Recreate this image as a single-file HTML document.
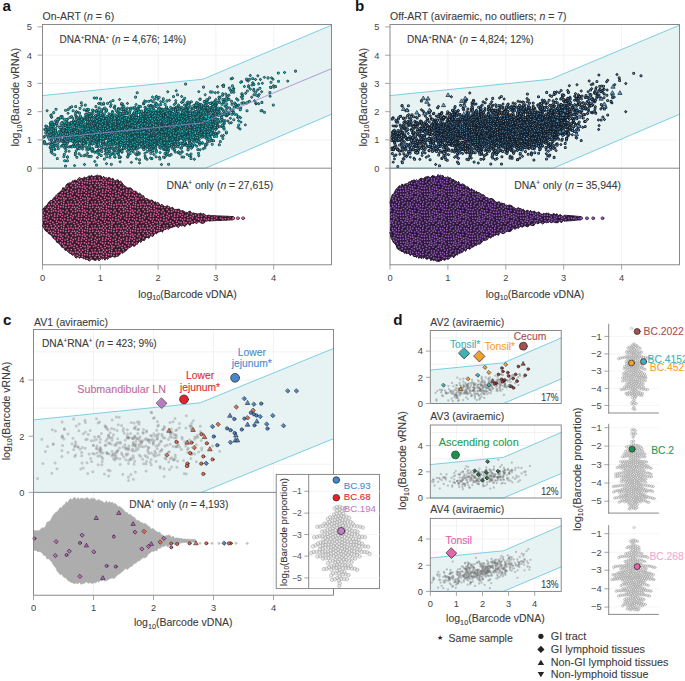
<!DOCTYPE html><html><head><meta charset="utf-8"><style>html,body{margin:0;padding:0;background:#fff}svg{display:block}text{font-family:"Liberation Sans",sans-serif}</style></head><body>
<svg width="685" height="681" viewBox="0 0 685 681" stroke-linecap="round" fill="none">
<defs><pattern id="pinkv" width="24" height="24" patternUnits="userSpaceOnUse"><rect width="24" height="24" fill="#361b29"/><g fill="#e262a6"><circle cx="12.3" cy="22.8" r="0.85"/><circle cx="3.5" cy="22.8" r="0.85"/><circle cx="7.5" cy="10.2" r="0.85"/><circle cx="19.9" cy="9.8" r="0.85"/><circle cx="18.1" cy="12.9" r="0.85"/><circle cx="7.9" cy="18.9" r="0.85"/><circle cx="3.2" cy="9.7" r="0.85"/><circle cx="4.9" cy="6.3" r="0.85"/><circle cx="18.0" cy="6.7" r="0.85"/><circle cx="23.1" cy="17.4" r="0.85"/><circle cx="13.0" cy="6.6" r="0.85"/><circle cx="12.4" cy="2.8" r="0.85"/><circle cx="15.0" cy="18.6" r="0.85"/><circle cx="14.7" cy="22.0" r="0.85"/><circle cx="1.0" cy="12.7" r="0.85"/><circle cx="12.3" cy="18.1" r="0.85"/><circle cx="3.6" cy="19.7" r="0.85"/><circle cx="4.6" cy="2.0" r="0.85"/><circle cx="20.5" cy="20.7" r="0.85"/><circle cx="6.6" cy="0.2" r="0.85"/><circle cx="6.6" cy="24.2" r="0.85"/><circle cx="5.2" cy="15.3" r="0.85"/><circle cx="19.3" cy="23.1" r="0.85"/><circle cx="14.1" cy="0.6" r="0.85"/><circle cx="14.1" cy="24.6" r="0.85"/><circle cx="15.8" cy="5.9" r="0.85"/><circle cx="20.0" cy="1.5" r="0.85"/><circle cx="19.8" cy="3.9" r="0.85"/><circle cx="9.0" cy="7.6" r="0.85"/><circle cx="9.5" cy="0.1" r="0.85"/><circle cx="9.5" cy="24.1" r="0.85"/><circle cx="2.5" cy="15.2" r="0.85"/><circle cx="15.7" cy="10.3" r="0.85"/><circle cx="20.8" cy="15.2" r="0.85"/><circle cx="-0.1" cy="5.8" r="0.85"/><circle cx="23.9" cy="5.8" r="0.85"/><circle cx="16.7" cy="3.1" r="0.85"/><circle cx="2.6" cy="4.9" r="0.85"/><circle cx="7.5" cy="13.8" r="0.85"/><circle cx="19.0" cy="18.2" r="0.85"/><circle cx="-0.8" cy="9.6" r="0.85"/><circle cx="23.2" cy="9.6" r="0.85"/><circle cx="9.2" cy="12.1" r="0.85"/><circle cx="13.5" cy="9.3" r="0.85"/><circle cx="12.7" cy="14.7" r="0.85"/><circle cx="3.7" cy="12.2" r="0.85"/><circle cx="3.5" cy="17.2" r="0.85"/><circle cx="6.6" cy="3.2" r="0.85"/><circle cx="22.5" cy="0.5" r="0.85"/><circle cx="22.5" cy="24.5" r="0.85"/><circle cx="17.8" cy="15.6" r="0.85"/><circle cx="10.3" cy="16.4" r="0.85"/><circle cx="0.5" cy="2.0" r="0.85"/><circle cx="24.5" cy="2.0" r="0.85"/><circle cx="15.2" cy="14.8" r="0.85"/><circle cx="0.8" cy="19.4" r="0.85"/><circle cx="24.8" cy="19.4" r="0.85"/><circle cx="13.4" cy="12.0" r="0.85"/><circle cx="6.7" cy="21.9" r="0.85"/><circle cx="10.2" cy="22.0" r="0.85"/><circle cx="2.0" cy="7.5" r="0.85"/><circle cx="8.5" cy="5.1" r="0.85"/><circle cx="17.6" cy="19.9" r="0.85"/><circle cx="21.5" cy="6.5" r="0.85"/><circle cx="10.5" cy="19.4" r="0.85"/><circle cx="22.4" cy="3.9" r="0.85"/><circle cx="5.5" cy="18.5" r="0.85"/><circle cx="-0.7" cy="21.9" r="0.85"/><circle cx="23.3" cy="21.9" r="0.85"/><circle cx="0.3" cy="15.3" r="0.85"/><circle cx="24.3" cy="15.3" r="0.85"/><circle cx="17.1" cy="-0.0" r="0.85"/><circle cx="17.1" cy="24.0" r="0.85"/><circle cx="10.7" cy="10.2" r="0.85"/><circle cx="15.5" cy="12.5" r="0.85"/><circle cx="22.8" cy="12.0" r="0.85"/><circle cx="10.9" cy="6.0" r="0.85"/><circle cx="7.1" cy="16.5" r="0.85"/><circle cx="9.4" cy="2.8" r="0.85"/><circle cx="6.1" cy="8.3" r="0.85"/><circle cx="10.5" cy="14.1" r="0.85"/><circle cx="1.2" cy="-0.3" r="0.85"/><circle cx="1.2" cy="23.7" r="0.85"/><circle cx="14.5" cy="3.8" r="0.85"/><circle cx="13.2" cy="20.2" r="0.85"/><circle cx="20.6" cy="12.4" r="0.85"/><circle cx="16.1" cy="8.1" r="0.85"/><circle cx="6.0" cy="12.2" r="0.85"/></g></pattern><pattern id="purpv" width="24" height="24" patternUnits="userSpaceOnUse"><rect width="24" height="24" fill="#2a1a34"/><g fill="#9858c2"><circle cx="6.3" cy="7.2" r="0.85"/><circle cx="19.5" cy="2.2" r="0.85"/><circle cx="14.4" cy="17.5" r="0.85"/><circle cx="4.5" cy="1.3" r="0.85"/><circle cx="6.6" cy="15.8" r="0.85"/><circle cx="13.5" cy="3.6" r="0.85"/><circle cx="10.4" cy="16.1" r="0.85"/><circle cx="-0.8" cy="16.4" r="0.85"/><circle cx="23.2" cy="16.4" r="0.85"/><circle cx="9.4" cy="4.5" r="0.85"/><circle cx="8.3" cy="12.3" r="0.85"/><circle cx="21.4" cy="18.6" r="0.85"/><circle cx="7.6" cy="22.2" r="0.85"/><circle cx="2.6" cy="2.5" r="0.85"/><circle cx="4.8" cy="21.2" r="0.85"/><circle cx="16.3" cy="20.4" r="0.85"/><circle cx="15.5" cy="9.8" r="0.85"/><circle cx="12.4" cy="14.2" r="0.85"/><circle cx="20.7" cy="10.5" r="0.85"/><circle cx="21.4" cy="14.7" r="0.85"/><circle cx="4.1" cy="4.3" r="0.85"/><circle cx="0.5" cy="20.0" r="0.85"/><circle cx="24.5" cy="20.0" r="0.85"/><circle cx="2.4" cy="10.8" r="0.85"/><circle cx="12.1" cy="22.5" r="0.85"/><circle cx="18.0" cy="13.8" r="0.85"/><circle cx="14.8" cy="12.2" r="0.85"/><circle cx="-0.8" cy="5.4" r="0.85"/><circle cx="23.2" cy="5.4" r="0.85"/><circle cx="1.0" cy="7.1" r="0.85"/><circle cx="-0.4" cy="10.7" r="0.85"/><circle cx="23.6" cy="10.7" r="0.85"/><circle cx="7.6" cy="1.2" r="0.85"/><circle cx="9.4" cy="8.8" r="0.85"/><circle cx="14.7" cy="6.9" r="0.85"/><circle cx="21.8" cy="23.1" r="0.85"/><circle cx="21.7" cy="20.8" r="0.85"/><circle cx="10.7" cy="19.3" r="0.85"/><circle cx="-0.8" cy="1.1" r="0.85"/><circle cx="23.2" cy="1.1" r="0.85"/><circle cx="17.1" cy="4.6" r="0.85"/><circle cx="2.5" cy="0.1" r="0.85"/><circle cx="2.5" cy="24.1" r="0.85"/><circle cx="16.7" cy="2.1" r="0.85"/><circle cx="17.1" cy="17.7" r="0.85"/><circle cx="6.2" cy="10.1" r="0.85"/><circle cx="1.8" cy="17.9" r="0.85"/><circle cx="4.0" cy="8.6" r="0.85"/><circle cx="1.1" cy="14.9" r="0.85"/><circle cx="11.8" cy="5.8" r="0.85"/><circle cx="12.6" cy="10.2" r="0.85"/><circle cx="18.1" cy="8.7" r="0.85"/><circle cx="18.7" cy="20.1" r="0.85"/><circle cx="19.5" cy="16.5" r="0.85"/><circle cx="21.4" cy="7.8" r="0.85"/><circle cx="2.6" cy="20.9" r="0.85"/><circle cx="4.4" cy="18.8" r="0.85"/><circle cx="21.0" cy="4.8" r="0.85"/><circle cx="19.3" cy="-0.8" r="0.85"/><circle cx="19.3" cy="23.2" r="0.85"/><circle cx="13.7" cy="20.2" r="0.85"/><circle cx="4.8" cy="12.4" r="0.85"/><circle cx="16.6" cy="-0.7" r="0.85"/><circle cx="16.6" cy="23.3" r="0.85"/><circle cx="18.8" cy="11.7" r="0.85"/><circle cx="0.1" cy="22.5" r="0.85"/><circle cx="24.1" cy="22.5" r="0.85"/><circle cx="12.3" cy="1.4" r="0.85"/><circle cx="14.3" cy="-0.5" r="0.85"/><circle cx="14.3" cy="23.5" r="0.85"/><circle cx="3.6" cy="15.1" r="0.85"/><circle cx="7.1" cy="4.8" r="0.85"/><circle cx="9.7" cy="0.2" r="0.85"/><circle cx="9.7" cy="24.2" r="0.85"/><circle cx="2.3" cy="13.1" r="0.85"/><circle cx="-0.0" cy="3.3" r="0.85"/><circle cx="24.0" cy="3.3" r="0.85"/><circle cx="8.8" cy="14.4" r="0.85"/><circle cx="21.7" cy="2.7" r="0.85"/><circle cx="6.8" cy="18.5" r="0.85"/><circle cx="14.9" cy="14.6" r="0.85"/><circle cx="10.7" cy="12.5" r="0.85"/><circle cx="9.8" cy="21.5" r="0.85"/><circle cx="11.5" cy="8.1" r="0.85"/><circle cx="2.0" cy="5.0" r="0.85"/><circle cx="5.8" cy="-0.6" r="0.85"/><circle cx="5.8" cy="23.4" r="0.85"/><circle cx="-0.6" cy="13.0" r="0.85"/><circle cx="23.4" cy="13.0" r="0.85"/><circle cx="18.7" cy="6.2" r="0.85"/><circle cx="12.2" cy="17.3" r="0.85"/><circle cx="8.5" cy="6.7" r="0.85"/><circle cx="10.1" cy="2.4" r="0.85"/></g></pattern><path id="p1" d="M203.3 121.3h0m-72.9 3.3h0m53 5.6h0m-108 -16.8h0m72.9 23h0m32.3 0.6h0m-9 -13.1h0m15 1.4h0m-42.7 -7.8h0m2.1 21.5h0m34.9 -16.6h0m-64.8 6h0m52.7 -15.5h0m-50.4 7.9h0m-15.7 8.4h0m-12.5 13.7h0m78.1 -24.6h0m6.7 9.1h0m-31.3 13.9h0m-18.9 3.9h0m-7.4 -27.5h0m4.2 14.2h0m64.9 -17h0m5.6 8h0m-95.2 19.8h0m87.9 -28.3h0m-18.2 39.8h0m-18.6 -20.8h0m24.8 -11.5h0m24.7 9.8h0m29.4 -19.8h0m-37.8 29.5h0m15.5 -20h0m-104.8 18.8h0m39.9 -2.3h0m-61.4 6.8h0m50.1 9.4h0m53.2 -46.9h0m36.4 5.5h0m-48.2 28.1h0m-48.5 -7h0m43.4 -16.8h0m-20.9 -13.4h0m21.3 10.1h0m-16.6 12.9h0m-5.4 13.9h0m1.3 -1h0m10.5 -4.2h0m-21.8 -12.6h0"/><path id="p2" d="M205.2 -12.2h0m26.3 -51.7h0m-55.5 54.5h0m7.6 -4.9h0m33.8 -17.2h0m-20 16.8h0m34.6 -60.9h0m-46.7 53.5h0m9.9 24.2h0m-45 21.8h0m29.1 -20.6h0m-32.4 41.2h0m50 -35.5h0m12.5 -17.2h0m26.8 -23.8h0m-30.8 35.7h0m-33.9 -3.9h0m46.6 -39.3h0m-35.8 24h0m48.6 -30.4h0m-60.9 48.3h0m32.1 -36.2h0m-6.3 -0.4h0m38.6 -11.5h0m-69.3 71h0m-20.5 6h0m53.7 -55.9h0m15.4 -8.2h0m22.3 -28.2h0m-14.7 29.9h0m-18.3 -5h0m24.3 11.9h0m-5.5 -4.9h0m-72.3 67.3h0m69.1 -55.4h0m-31.8 3.3h0m-4.7 6.5h0m29.5 4.6h0m-44.3 6.3h0m36.4 -50.5h0m-17.5 48.5h0m21.6 -44.7h0m-9.7 36.3h0m11.6 -36h0m7.2 -29.7h0m-77 89.6h0m64.6 -55.3h0m-8.5 24.4h0m-45.8 7.9h0m51.5 -41.1h0m42.4 -0.8h0m-93.7 77.1h0m0.7 -16.5h0m55.3 -36.1h0m21.4 -53.4h0m13.6 -16.3h0m-31.3 88.8h0m-29.9 12.3h0m32.3 -33.7h0m-57 41.4h0m26.1 -20.9h0m39.3 -60.4h0m-53.5 102.4h0m59.7 -103.7h0m-10 37.4h0m43.8 -49.1h0m-96.8 112.4h0m57.5 -105.6h0"/><path id="p3" d="M118.2 131.6h0m22.9 -8.7h0m-3.3 4.6h0m60.1 21.9h0m-134.6 -8h0m64.5 -17h0m48.7 13.6h0m-1.6 -24.5h0m32.4 2.8h0m-12.7 10.9h0m-46.9 7.6h0m-42.4 -3.8h0m24.2 -0.2h0m19 5.7h0m14.3 -3.8h0m-90.5 -1.5h0m49.9 -4.7h0m113.8 -19.9h0m-7.5 -7.5h0m-110.2 18.5h0m53.1 -4.8h0m3.5 28.6h0m-14.2 -20.9h0m-1.1 7.6h0m-14.2 9.5h0m-12.5 2h0m32.3 -15.5h0m0.3 -0.9h0m-9.3 -5.4h0m-22.5 2h0m11.8 38.1h0m23 -43.2h0m8 -7.7h0m-55.9 17h0m1.2 -15.7h0m22.3 28.6h0m-15.2 -13.2h0m35.5 14.6h0m-56.6 -8.5h0m99.1 -12.9h0m-52.7 9.5h0m-50.5 -22.5h0m49 37.3h0m74.1 -37.3h0m-54.6 40.3h0m-7.4 0.1h0m-1.6 -42.8h0m-4.2 41.5h0m-12 -8.9h0m38.3 10.9h0m-54 -10h0m-0.4 -9.8h0m2.5 8.6h0m13.8 -5.2h0m-37.7 4.2h0m13.8 3.8h0m-10.2 6.6h0m73.6 -25.5h0m11.1 -1.5h0"/><path id="p4" d="M250.1 -116.5h0m-56.4 132.8h0m28.2 -44.9h0m-44.8 39.1h0m18.7 -41.5h0m3.5 13.6h0m26.2 -26.6h0m-30.1 48.7h0m13 -31h0m-53.5 51.1h0m69 -63.2h0m-16.5 -17.4h0m-29.2 59.7h0m3.9 5.9h0m11.4 -3h0m3.7 -5.1h0m10.4 -5.3h0m-16 -33.5h0m36 -14.6h0m-20.1 9.8h0m-17 54.8h0m21.7 -60.7h0m44.5 -36.2h0m-35.1 67.5h0m-6.6 -16.9h0m-50.2 71.2h0m9.3 -35.1h0m39.3 -12.2h0m-12.1 -41h0m26.6 14.8h0m-39 38.3h0m16.7 -13.2h0m-45.9 33.1h0m73.7 -56.8h0m-45.9 40.2h0m-16.5 -0.5h0m-0.8 41h0m-15.5 -17.4h0m45.5 -76.2h0m-36.3 81h0m58.7 -85.3h0m-15.8 15.3h0m30.5 2.2h0m-26.9 9.2h0m6.7 -10.7h0m-38.9 53.7h0m-15.6 -6.8h0m40.1 -45.6h0m40.4 -37.8h0m-22.2 20.9h0m1.4 16.9h0m-43.5 -7.7h0m-46 95.7h0m78.5 -69.2h0m-62.9 35.1h0m25.4 27.9h0m59.7 -127.6h0m-35.6 63.9h0"/><path id="p5" d="M141.3 144.5h0m-6.8 -20.5h0m8.6 -1.7h0m0.4 -18.7h0m-8.5 40.5h0m46.4 -1.1h0m0.6 8.7h0m13.9 -27.1h0m-12.8 -2.7h0m-56.6 11.9h0m78.4 -18.2h0m-37.2 6.3h0m-38.8 9.7h0m44.4 -12.2h0m-21.7 -3.5h0m-49 22.9h0m100.5 -5.2h0m-36.3 3h0m-93.7 -25.8h0m90.2 14.2h0m15.5 6.8h0m-24.6 -12.7h0m4.3 10.6h0m-35.7 1.8h0m9.5 -14h0m31.6 3.8h0m-39.3 9.3h0m39.2 12.8h0m-77.1 -6.2h0m121 -0.6h0m-121.2 -16.9h0m18.2 -0.1h0m34.7 9.2h0m-35 30.2h0m116 -37h0m-97.4 -7h0m36.6 10.7h0m-39.1 24.8h0m30 -4.7h0m54.7 -13.4h0m-58.8 -11.8h0m-1.3 24.4h0m21.4 -12.4h0m39.7 -30.5h0m-31.6 19.1h0m-36.9 10.7h0m22.6 -21h0m-31.5 20h0m-2.9 -10.5h0m68.7 2.5h0m-18.7 2.7h0m-32.5 0.5h0"/><path id="p6" d="M142.3 39.4h0m69.9 -51.4h0m9.4 -8h0m-7.9 0.5h0m4 -11.9h0m-48.1 36.4h0m-3.7 32.4h0m24.6 -41.5h0m27.5 -51.4h0m13.1 -30.3h0m-6.4 39.7h0m-38.9 39.4h0m51.3 -90.7h0m-26.6 45.1h0m-5.7 5.9h0m22.4 -32.6h0m-57.4 106.9h0m-3.4 -8.3h0m46.2 -57.8h0m-33.1 27.7h0m-13.2 1.9h0m46.8 -3.5h0m-5.5 -23.3h0m-12.6 27.4h0m35.8 -45.9h0m-3 49h0m-13.5 -28.1h0m-47.8 46.3h0m77.6 -74.6h0m-36.4 33.8h0m-20.8 15.6h0m6.8 -29.9h0m-8.5 41.7h0m-1.3 -18.2h0m-2.9 5.7h0m21.8 -9h0m9.2 -5.2h0m-33.3 65.4h0m28.3 -66.9h0m11.2 19.7h0m-65.9 52.1h0m63.1 -70.6h0m-27.6 1.8h0m66.2 -107.6h0m-86.7 138h0m25 -26.1h0m33.4 -18.4h0m-32.4 9.7h0m-9.8 42.4h0m17.9 -39.2h0m62.2 -80.6h0m-79.8 127h0m44 -44.2h0m15.6 -61.4h0m-6.2 52.7h0m-12.8 -10.4h0m-25 16.4h0m-14.2 -0.9h0m41.6 -35.7h0m-42.4 37.2h0m-14 28h0m41.7 -66.5h0m8.5 44.4h0m-10.9 -7.1h0m-73.3 94.3h0"/><path id="p7" d="M142.6 119.2h0m76.7 -20.9h0m9.6 15.3h0m-124.9 8.6h0m49.5 4.1h0m38.9 -3.5h0m-102.5 25.6h0m57.5 -25.7h0m4.4 20.1h0m-22.3 -29.6h0m-8.3 15.1h0m56.7 8.8h0m-78.3 -1.6h0m119.3 -3.4h0m-164.8 4.3h0m116.5 -12.7h0m-38.8 -7.9h0m35.7 18.8h0m49.9 -9.6h0m-50.3 -9.6h0m-46 34.5h0m53.8 -35.2h0m-31.3 6.1h0m-25.1 18.1h0m65.2 -14.9h0m-53.4 -15.5h0m82.6 6.7h0m-19.4 13h0m-45.7 16.3h0m-7.1 -14.3h0m-50.1 -12.4h0m60.1 18.6h0m-57.3 -14h0m8.8 8.6h0m-2.5 -9.2h0m49.4 17h0m-65.9 -5.5h0m100.3 -7h0m-92.8 4.5h0m33 -12.9h0m8.1 14h0m13.1 1.8h0m61.5 -1h0m-85.4 -19.4h0m-40.1 20.6h0m77.5 -1.6h0m37.5 -2.4h0m12.6 -19.3h0m-87 21.8h0m49.6 3.7h0m-33.9 -43.3h0m2.2 38.6h0m57.9 -23.1h0m-33.9 28h0m-89.6 8.2h0m34.4 -5.6h0m74.1 -13.6h0m-24.1 -7h0m-14 8.5h0m-96.5 4.3h0"/><path id="p8" d="M204.6 -42.2h0m28.5 -24h0m-97.3 115.9h0m76.5 -86.4h0m-16.2 24.8h0m5.1 -15.2h0m13.4 -0.1h0m-17.7 34.9h0m12.2 -34.6h0m8.3 1.9h0m-20.1 -11.7h0m28.9 2.8h0m-16.2 -1h0m-34.1 30h0m58.1 -79.1h0m-37.7 70.8h0m33 -31.3h0m-22.8 12.5h0m-27.7 28.6h0m27.9 -12.4h0m12.1 4.1h0m-27.4 22.7h0m2 -27.5h0m-16.5 9.8h0m31.9 -25.3h0m9.1 9h0m-7.6 -4h0m1.4 25.5h0m-21.4 -10.3h0m-2.3 -13h0m45 -32.3h0m-14.9 24h0m-23.9 36.5h0m43.9 -36.5h0m-25.7 23.5h0m-17.9 -21.1h0m9 11.8h0m37.8 -82.6h0m1 21.2h0m-91.6 100.7h0m61.8 -52.3h0m-22.1 23.1h0m-45.7 27.4h0m46.2 -22.6h0m37.6 -38h0m-37.6 43.1h0m-8.3 -7h0m64.6 -61.8h0m-63.9 46.9h0m40.1 -4.9h0m-24.9 9.8h0m48.2 -93.4h0m-38.8 59.8h0m16.4 -37.5h0m-43.3 95.5h0m51.6 -31.6h0m-5.7 -8h0"/><path id="p9" d="M208.7 128.1h0m-59 -17.6h0m-61.5 25.3h0m68 0.4h0m-55.6 -37.3h0m65 50.7h0m-44 -45.4h0m80.3 27.5h0m-40.6 5.2h0m-25.4 -8.7h0m-35.7 -0.6h0m82.6 -13.2h0m-20.4 12.2h0m-52.9 9.7h0m0.6 -10h0m72.9 7h0m2 -7.7h0m-25.5 -6.1h0m36 -12h0m-55.1 26.5h0m31.6 -8.2h0m-71.8 -22.6h0m111.5 37.4h0m-91.9 -27.8h0m25.7 2.6h0m31.8 21.1h0m28 -31.2h0m-8.4 5.6h0m-9.9 1.5h0m-99.5 21.6h0m32.3 -1.4h0m-6.4 -6.4h0m46.6 11.2h0m12.6 5.3h0m-59.9 -19.1h0m1.8 4.7h0m1.1 19.4h0m57.4 -25.6h0m24.2 17.4h0m-101.4 -1.6h0m33.2 -18h0m68.1 -4.9h0m-53.6 9.2h0m64 17.3h0m-55.6 17.1h0m20.5 -34.9h0m3.1 -1h0m-16.4 -25.5h0m-45.4 29.4h0m-17.2 14.7h0m5.6 1.2h0m12 1.8h0m30.8 -23.7h0m-35.1 6h0m113.1 -16.6h0m-58.6 6.2h0m20 18h0m-80 -4.5h0m103.1 5h0m-31 -0.2h0m-108.2 -25h0m116.8 19.4h0m32 4.8h0m-97.6 10.5h0"/><path id="p10" d="M146.6 22.3h0m81.6 -64.6h0m-19.7 22h0m11.6 -21.4h0m15.7 -0h0m-9.9 -6.2h0m-40.3 42.7h0m-42.8 55.1h0m44.2 -72.1h0m-7.6 43.4h0m-9.1 2.7h0m53.8 -77.1h0m-15 25.9h0m-20.3 35.6h0m2.5 -13.4h0m43 -44.3h0m-44.3 43.2h0m-17.9 11.5h0m30.9 -38.5h0m10.3 13.7h0m-40.8 20.5h0m31.7 -5.6h0m-16.5 -21.1h0m35.6 -13.1h0m-72.4 55.4h0m24.1 -29.8h0m56.1 -37.2h0m-35.5 32h0m2.7 -18.8h0m14.3 0.3h0m0.4 25.8h0m-49.3 38.7h0m10.6 -37.4h0m54 -37h0m4.2 -1h0m-45.8 16.5h0m51.4 -9.5h0m-37.1 48.3h0m8.9 -32.9h0m-21.1 20.5h0m-14.8 -0.5h0m42.6 -28.6h0m-9.4 16.6h0m-57.5 45.8h0m16.3 -27.3h0m35.3 -29h0m-19.8 2.7h0m40.4 -43.4h0m-49.3 91.7h0m21.3 -29.5h0m-12.4 30.3h0m44.6 -71.2h0m-84.7 79.1h0"/><path id="p11" d="M162.8 128.9h0m9.6 -5.1h0m75.1 -21.6h0m-26.8 5.9h0m-54 14.7h0m-73.7 -9.6h0m122.5 5.1h0m-57 -9.5h0m-50.9 -5.6h0m36.9 24.3h0m6.4 4.9h0m-7.3 -4h0m30.8 6.9h0m-2.4 -0.6h0m-35.3 -18.4h0m35.1 12h0m-23.7 15.2h0m-23.1 -11.4h0m26.2 -26.9h0m16.3 37.2h0m79.1 -39.3h0m-81.5 15.2h0m-17.5 23.8h0m106.3 -57.5h0m-85.3 48.2h0m-112.6 -23.5h0m138.7 10.6h0m-34.7 6.8h0m-61.7 2.5h0m-10 -12.3h0m124.4 -3.3h0m-106.5 9.1h0m81.3 9.2h0m-84.9 -16.9h0m59.6 14.4h0m-88.6 4.8h0m62.2 -25.4h0m44.8 9.2h0m-41.2 13.4h0m70.6 -11.9h0m-65.5 19.3h0m-29.3 -5.2h0m8.4 -2.6h0m43.1 -2.1h0m20.6 -13.5h0m-50.4 39.3h0m-30.2 -19.1h0m73.7 -14.2h0"/><path id="p12" d="M145 27.4h0m12.4 19.8h0m43.8 -84.7h0m-34.6 23.8h0m59.9 -24.1h0m-23.8 18.6h0m-8.9 16.6h0m24.1 -31.2h0m-52.5 56.5h0m39.3 -66.6h0m30.7 -31.1h0m-6.7 -26.5h0m-66.6 104.2h0m76.7 -81.6h0m-59.3 39.7h0m2.1 15h0m48.2 -49.9h0m-23.5 51.6h0m1.8 -3.9h0m20.6 -36.2h0m3.6 26.9h0m-73.6 61.4h0m0.5 10.6h0m55.3 -103.5h0m-48.3 72.5h0m23.1 -20.6h0m-43 21.4h0m86.5 -84.6h0m-68.1 87.7h0m37.8 -15h0m15.2 -62.9h0m-63.2 91.4h0m42.3 -14h0m-0.8 -42.2h0m-7.7 35.3h0m56 -59h0m-106.3 102h0m18.1 -1.6h0m11.7 -20.8h0m66.6 -74.5h0m-51.2 32.9h0m-56 76h0m78.2 -132.6h0m25 24.1h0m-49.5 62.2h0m-8.9 10.6h0m46.7 -68.6h0m-4.8 -1.5h0m-19.1 22.9h0m-9.1 21.9h0m6.8 34h0m-6.3 -42.8h0m-9 48.5h0m59.7 -114.9h0m-76.3 91.6h0m92.2 -72.7h0m-37.6 59.4h0m-23.3 -4.1h0m34.1 -75.9h0m-15.7 52.9h0m-2.8 11.7h0m-10.9 1.1h0m34 -21.2h0m-51.5 -5.9h0m58.1 -77.8h0m-27.3 90h0m-36.2 -0.5h0m77.4 -54.1h0m-46 74h0"/><path id="p13" d="M114.9 135.4h0m51 -3.7h0m-18.9 -17.9h0m-26.5 10.8h0m8.9 23.9h0m-1.8 -18.5h0m0.9 -0.4h0m0.8 2.6h0m85 4.2h0m-121 -26h0m87 -1.3h0m12.3 21.2h0m-84.2 11.5h0m103.4 -14.3h0m-72.7 25.4h0m54.2 -21h0m-115.4 2.4h0m77.9 -12.7h0m-10.8 14.8h0m-14 -1.7h0m-39.3 -21.7h0m21.5 8.8h0m-0.2 1.1h0m19.8 3.4h0m59.8 20.2h0m-35 -15.9h0m50.4 -14.1h0m-53.9 12.5h0m54.9 -18.4h0m-103.6 13.6h0m68 -0.4h0m-21.1 15.2h0m28.8 -9h0m-71.7 -13.1h0m-7.2 10.9h0m5.3 -2h0m-14.6 6.7h0m72.3 8.2h0m-40.5 -30.9h0m131 -17.6h0m-138.1 30.7h0m-17.5 -7h0m103.8 -8.4h0m-3.1 7.4h0m-109.8 18.8h0m60.1 -13.1h0m51.3 -6.4h0m40.3 -18.3h0m-78.9 44h0m-66.6 -5.8h0m40.5 17.8h0m-24.7 1.1h0m67.5 -14.2h0m-33.2 -8.3h0m24.5 -16.4h0"/><path id="p14" d="M178.2 -7.9h0m60.2 -37.7h0m-59 52.1h0m51.4 -68.6h0m-27.1 59.4h0m1.8 -33.9h0m3.6 26h0m18.3 -48.3h0m17.1 6.2h0m-39.8 31.7h0m-9.6 34h0m31.8 -112.1h0m-35.8 83h0m21.3 -37.6h0m-37.7 34.7h0m22.3 36.1h0m-19.9 -12.6h0m44.5 -42.1h0m3.3 24.5h0m-48 14.2h0m26.3 -27h0m-12 21h0m-2.3 -6.4h0m11.5 -16.4h0m-65.1 56h0m98.6 -104.6h0m-79 62.1h0m25.8 12.9h0m17.5 -29h0m-13.5 33.9h0m-40.1 17.4h0m76.4 -26.3h0m23.1 -36.3h0m-87.9 35.4h0m19.1 9.3h0m10.6 11h0m-45.1 21.2h0m-3.5 3.6h0m22 -27.3h0m-0.1 -9h0m61 -64.3h0m-38.4 46.4h0m4.4 33.7h0m-33.4 0.8h0m55.9 -3.3h0m-33.9 24.9h0m71.9 -116.5h0m-25.4 25.6h0m-26 37.9h0m14.4 -32.3h0m-65.7 96.8h0m12.7 -32.4h0m31.6 -5.6h0m0.5 -74.7h0m32.2 24.8h0m-13.2 12.5h0m18.7 -35.2h0m-60.1 63.3h0m24.9 -1.1h0m46.4 -108.2h0m-40.4 97.6h0m26.4 -37h0"/><path id="p15" d="M171.5 137h0m-16 -16.5h0m5.2 9.6h0m-35.1 -18.8h0m67 8.4h0m-19.7 20.2h0m87 -51.6h0m-26.1 31.5h0m-70.5 -4.1h0m32.5 -8.9h0m-30.4 28.5h0m2 14.4h0m-11.3 -10.5h0m-75.3 -17.1h0m65.5 16.6h0m6.9 -30.7h0m-61.8 33.3h0m99.6 -23.2h0m-40.8 -12.3h0m24.2 21.4h0m-25.6 -25.9h0m13.9 15.6h0m-20.9 2.4h0m99.8 -37.5h0m-116.2 32.1h0m37.9 -15.1h0m8.2 18.4h0m-1 -0.7h0m23.2 12.1h0m-40.5 1.7h0m9.3 -2.4h0m-58.9 -11.3h0m107.4 10.1h0m-34.1 -2.9h0m-11.7 -10.5h0m-30 20.8h0m6.1 3.3h0m100.6 -34.3h0m-144.4 37.6h0m120.5 -28.7h0m-84.8 6.3h0m-37.3 1.8h0m52.4 -0.3h0m59.4 -0.2h0m-97 5.1h0m79.2 17.9h0m-103.3 -31.9h0m81.8 17.1h0m-49.6 15.5h0m-56.7 -26.8h0m93.7 -13.5h0m-11.6 15h0m-24.9 8.4h0m-5.4 -5.6h0m31 10.5h0m-51.3 6.2h0m96.1 -19.4h0"/><path id="p16" d="M227.4 -17.6h0m-31.9 27.9h0m-29.8 5.8h0m30.1 -43.9h0m19.2 -10.7h0m-16 -7.6h0m21.9 36.3h0m10.5 -35.5h0m-41.1 17.1h0m27.6 -68.7h0m-56.5 113.8h0m89.3 -47.4h0m-54.3 26.4h0m-45.2 41.5h0m26.7 -15.8h0m-21.2 -26.3h0m79.1 -38.2h0m-30.9 16.6h0m3.6 -13.9h0m21.7 -31.4h0m-33.4 38.8h0m-6.2 2.8h0m36 -26.4h0m-43 62.7h0m28.7 -26.3h0m0.9 -18.7h0m-43.9 80.4h0m-0.1 -16.1h0m-3.9 -19.9h0m40.5 -12.5h0m27.2 -59h0m-63.1 75.1h0m-17.7 49.8h0m76 -119.8h0m26.2 -46.9h0m-27 69.4h0m-28 -0.3h0m43.2 -77.9h0m-39.5 98.5h0m9.4 6h0m5.4 -14.2h0m-4.3 4.1h0m3.1 1.3h0m-32.2 51.2h0m-0.6 -65.4h0m0.2 41h0m7 34.3h0m23.7 -78.6h0m-56.9 66.2h0m-21 17.6h0m47.3 -26.4h0m-6.6 -20.6h0m49.9 -37.5h0m7.6 0.8h0m-18.3 -5.1h0m-16.8 22.4h0m-10.5 -11.2h0m-2.7 31h0m54.2 -57.8h0"/><path id="p17" d="M184.7 98.2h0m18.2 21.2h0m-102.6 -3.6h0m54.2 11.4h0m15 0.8h0m20.8 16.6h0m-15.4 -9.1h0m-28.7 -4.9h0m27.3 -21.3h0m-52.1 41.2h0m20.8 -27.9h0m35.4 -13.8h0m-88.2 6.6h0m62.6 28.4h0m-38.6 -17.6h0m-1.1 -4.7h0m-39 -0.3h0m73.2 14h0m16.2 -22.5h0m-15 21.5h0m-51.5 2h0m64.7 -0.6h0m12.6 -39.1h0m9.9 43.8h0m-114.8 -9.1h0m70.2 -0.1h0m28.5 -10h0m-64.1 9.4h0m12.7 -10.8h0m42.6 10.2h0m-9.1 -0.4h0m-7.8 -3.8h0m15.9 2.5h0m16.7 -5.4h0m1.8 3.6h0m-30.1 -2.7h0m8.8 14.9h0m32.2 -14.3h0m-36.9 -13.8h0m-70 -2.2h0m58.8 13.8h0m44.9 34.9h0m-36.8 -37.6h0m-37.4 10.3h0m86.5 -2.5h0m-93 -6h0m107.6 -29.3h0m7 34.2h0m-1.5 -16.4h0m-111.9 25.9h0m72.4 -7.3h0m-25.3 -9.8h0m10.4 20h0m-14.4 -5h0m-83 10.3h0m108.1 -13.9h0m-31.1 -10.4h0m7 4.7h0"/><path id="p18" d="M235.8 -30.9h0m-15.8 -7.7h0m-30.7 34.5h0m50.8 -31.2h0m-53.2 51.2h0m52.8 -77.3h0m-3.2 5.2h0m-30.4 57h0m23.4 -41.4h0m13.2 -12.8h0m-18.9 -13.5h0m13.5 -38h0m-8.3 52.7h0m-17.5 17.5h0m-25.5 29.1h0m15 -20h0m-41.9 50.3h0m-8.7 18.8h0m16.9 -32.4h0m39.1 -45.6h0m1.2 2.5h0m-30.5 30h0m-1 -2.2h0m13 -12.4h0m0.8 -13.5h0m41.2 -87.9h0m-52.4 139.8h0m4.4 -33.1h0m25.2 -19.2h0m-53 81h0m82 -164.6h0m-81.5 129.5h0m70.8 -84h0m-5 23.7h0m-14.1 28.5h0m30.8 -101.6h0m-79.3 141.8h0m39 -57.4h0m27.3 -40.6h0m-30.2 57.2h0m-16.7 11.3h0m14.8 9.3h0m-46.9 -3.9h0m49.1 -6.5h0m21.8 -21.4h0m-66.2 48.2h0m56.2 -39.7h0m5.2 15.6h0m-12.8 -17h0m-6.8 10.4h0m20.8 -26h0m-6 21.4h0m-28.7 19.5h0m39.8 -24.2h0m5.6 -25.7h0m-39.8 24.4h0m20.9 -1.2h0m0.1 13.3h0"/><path id="p19" d="M229 99.3h0m-142.4 47.9h0m81.5 -0.2h0m7.8 -21h0m8.4 9.8h0m20.6 -8.9h0m68.4 -22h0m-163.2 28.5h0m54.2 2.2h0m48.7 -29.1h0m-90.3 -2.3h0m59.8 -2.2h0m-21.2 10.8h0m-8.6 25.2h0m38.6 -36.3h0m-64.3 39.1h0m-17.2 -3.3h0m30.7 4.1h0m22 -19.9h0m-18 -2.1h0m47.8 -6.5h0m-67.3 17.8h0m19.9 -10.6h0m36.2 13.1h0m-27.6 6.5h0m-39.2 0.4h0m58.1 -9.6h0m14.8 8.3h0m-40.9 -16.1h0m65.3 -0h0m-46.6 -8.3h0m-26 8.4h0m24 5.1h0m32.3 2.6h0m-53 -12.3h0m24.7 32.9h0m39.2 -19.8h0m-14.6 -1h0m-96.8 -9.2h0m81.9 -0.1h0m-7 15.1h0m-22.5 15.1h0m-5.8 -29.6h0m20.5 4.4h0m13.1 17.7h0m-102.5 2h0m68.1 -20.7h0m14.6 -11.2h0m62.4 1h0m-111.3 13.7h0m83 -4.7h0m-72.4 15.6h0m44 -6.2h0m21.7 -13.7h0m-80 17.9h0m46.5 0.7h0m-12.5 -20h0m-65 -1.9h0m72.9 23.7h0m-25.4 -7.6h0m88.9 -25.3h0m-92.1 28.5h0m117.1 -25.6h0"/><path id="p20" d="M185.1 -4h0m-27.3 51.9h0m42.5 -42.9h0m23.5 -35.1h0m-22.1 -1.1h0m0.3 4.4h0m-22 12.7h0m2.2 12.9h0m-11.2 -1.4h0m44.4 -29.4h0m12.5 -70.7h0m-3.3 51.4h0m-11.3 35.7h0m-29.8 3.1h0m29.4 20.3h0m-63.5 6.5h0m31 -39h0m9.7 13h0m-4.8 6.8h0m39.6 -85.1h0m-4.2 54.3h0m-31.2 30.1h0m10.9 -27h0m-38.2 37.3h0m15.5 -17.3h0m32.1 -3.7h0m-35.8 43.6h0m9.3 -23.2h0m17 -26.5h0m-20 64.8h0m18.4 -76.6h0m9.4 3h0m-39 45.9h0m28.5 -36h0m38.6 0.2h0m17.9 -86.8h0m-9.1 53.7h0m-8 -3.5h0m-24.1 5.4h0m9.8 24.3h0m-34 32.2h0m1 -2.5h0m5.7 3.3h0m-39.2 35h0m39.7 -31.1h0m20.7 -38.2h0m-23.6 5.6h0m-6.9 0.9h0m-34.7 47.8h0m29.9 -31.6h0m30.3 -6.8h0m18.3 -72.2h0m-34.2 97.3h0"/><path id="p21" d="M189.9 145.8h0m34.5 -22.5h0m-124.1 0.1h0m35.9 -5.8h0m47.8 2.2h0m-26.9 13.6h0m-19.4 6.9h0m-12 -19.3h0m-46.8 9.1h0m103.8 -16.4h0m-37 11.4h0m-19.8 17.1h0m-17.2 -6.5h0m26.1 1.5h0m-10 -19.9h0m16.6 25.6h0m23.6 10.6h0m2 -28h0m5.2 5.9h0m-49.5 -12h0m43.9 19.6h0m-27.3 -8.5h0m-40.8 -4.8h0m7 5.6h0m0.6 2.1h0m39.1 -5.9h0m-86.8 12.7h0m124.1 -20.9h0m44.4 -22.3h0m-71.7 35.7h0m-1.8 2.5h0m29.9 -34.9h0m-86.8 29.8h0m40.1 7.1h0m26.5 0.3h0m21.9 -25h0m-10.6 4.2h0m-78.7 22.2h0m114.4 -6.8h0m24 -25.1h0m-83.7 24.6h0m61.6 1.9h0m-0.3 -16.2h0m-45.7 2.1h0m15.5 7.6h0m-5.4 1.4h0m-58.7 6.7h0m14.8 -12.1h0m33.4 -5.5h0m-16.4 15.1h0m-13.9 -6h0m34.3 0h0m10.8 -5.7h0m-42.6 11.8h0m-22.7 -11h0m32.4 3.8h0m82.2 -17.4h0m-110.1 38.6h0m30.5 -8.6h0m47.3 -20.8h0"/><path id="p22" d="M208.9 -38.3h0m-9.6 -4.5h0m14.6 -6.1h0m32.8 -2.4h0m-64 39h0m31.7 -11h0m-12.9 26.1h0m8 -31.6h0m-44.9 63.8h0m15.9 -48.2h0m-11.2 35.1h0m31.1 -23.2h0m-26.7 23.6h0m77.5 -131h0m-59.5 117.6h0m-24.7 6.1h0m-42.2 39.3h0m28.3 -27.7h0m59.5 -29.4h0m-41.2 30.4h0m27.4 -41.7h0m18.1 -9.6h0m4.8 -21.4h0m-50.9 27.3h0m48.6 -19.2h0m-5.2 0.2h0m-56.2 32.4h0m60.9 -41.2h0m39.6 -32.7h0m-62.9 92.4h0m16.7 -46.6h0m15.4 -7.2h0m-69.2 47.8h0m49.1 -51.5h0m-18.7 17.7h0m17.3 -13.7h0m-21.4 16.2h0m37.6 -5.4h0m-25.5 12.9h0m2.4 45.2h0m-12 -48.3h0m9.3 8h0m-53.9 63.2h0m30.3 -45.4h0m50.4 -48h0m-51.1 46.3h0m41.8 -7h0m-62.7 26.7h0m52.3 -30h0m-23 22.6h0m58.4 -119.7h0m-50.4 89.5h0m-1.7 8.6h0m-23 9h0m37.7 -8.3h0m-14.6 -16.7h0"/><path id="p23" d="M150.8 142h0m-20.4 -10.8h0m62.9 -11.7h0m-25 31.6h0m29.7 -13.1h0m-38.6 -3.7h0m37.4 -8.9h0m-57.1 5h0m-74.1 -20.2h0m92.4 21.5h0m-51.6 -7.3h0m49.3 2.5h0m-36.1 7.5h0m57.4 -13.2h0m-36.9 0.7h0m44.2 -11.4h0m-94.9 14.2h0m48.4 -4.5h0m45.9 -4.4h0m-18.1 33.4h0m-36 -8.3h0m18.5 -27h0m-71.3 22.2h0m48.8 -5.1h0m92.4 -18.2h0m-93 23.2h0m-42.6 -1.7h0m95.6 12.1h0m45.3 -21.8h0m-93.3 6.8h0m65.6 1.9h0m-16 -12.1h0m32.5 19.1h0m-8.5 -31.3h0m-118.2 28.5h0m117.8 -11.9h0m-37.2 -13.2h0m-58.8 8.7h0m-1.1 17h0m74 -2.3h0m-40.1 -9.5h0m6.2 -6.9h0m-37.9 19.1h0m24.6 -1.9h0m-23.5 2.2h0m23.4 -15.3h0m57.3 21.7h0m-57.7 -15.4h0"/><path id="p24" d="M164.5 33.4h0m59 -119.5h0m-18.4 87.2h0m-29.4 12.3h0m21.5 -24.5h0m34.1 -41.2h0m-47 49.7h0m-28 53.2h0m52.2 -72.2h0m-11.1 -0.1h0m26 -22.9h0m-25.7 43.7h0m-61 29.1h0m87.2 -81.3h0m-22.8 48.6h0m-26.5 16.2h0m0.4 -43.3h0m57.7 8h0m-27 -11.8h0m-70.9 59.6h0m78.7 -70.9h0m3.1 55.4h0m-24.8 -6.5h0m7 -9.7h0m-0.2 21.6h0m-51.6 36.9h0m41.5 -58.8h0m4.5 -29h0m-17 93.3h0m63.9 -102.1h0m-38.2 -5.8h0m27.5 -8.5h0m-50.1 71.4h0m56.4 -67.9h0m-5 3.7h0m-31.9 19.6h0m-25.6 30.4h0m42.1 -89.8h0m-3.7 87.9h0m22.6 -107.1h0m-70.4 117.2h0m7.4 22.6h0m31.9 -44.4h0m-36.9 39.1h0m-6 -14.6h0m41.8 1.1h0m15.2 -64.4h0m-24.2 49.4h0m47.3 -66.8h0m-28 -5.6h0m-14.9 67.2h0m-54.3 31.9h0m39.3 -53h0m-26.2 41.7h0m21.9 0.8h0m2 -9.7h0m44 -70.3h0m-35.8 61.1h0m31.8 -22.4h0m-4.1 11.8h0m-11.3 1.1h0m-5.5 -8.8h0m0 27.9h0m30 -48.5h0m-72.6 59h0m51.6 -56h0m6.6 16.5h0m-28.9 26.5h0"/><path id="p25" d="M91.1 142.5h0m103.5 -28.2h0m-23.5 -1.9h0m42.4 6h0m-3.9 15.8h0m2.3 -31.3h0m-26.9 32h0m-24.5 -12.4h0m15.5 5.1h0m-61.1 14.9h0m70.1 -17.3h0m-24.1 12.1h0m-47.8 5.6h0m118.4 -32.9h0m-69.2 25.5h0m5.9 -15.2h0m-0.7 1h0m-52.4 -6.4h0m-10.9 24.5h0m63.5 -4.1h0m-59.9 1h0m87.1 -21.8h0m-17.9 6.1h0m7.9 21.7h0m13.3 -6.3h0m28.3 -20.2h0m-24.7 10.9h0m-97.3 -5.4h0m76.1 9.1h0m-14.7 3.5h0m11.3 -11.2h0m2.9 2.1h0m-29.4 23.3h0m-75 -18.3h0m48.3 6.9h0m72.1 -3.9h0m-61.5 -2.1h0m-2.1 0h0m-2.5 -11.7h0m40.4 14h0m-5.3 -28.8h0m1.8 -3.3h0m17.4 12.8h0m-33.8 33.5h0m35.1 -14.8h0m-31 -14.3h0m-21.3 16.7h0m0 14.3h0m-15.1 -36.3h0m9 0.6h0m72.5 12.5h0m-36.4 -5.1h0m-4.9 12h0m103.5 -30.4h0m-100 31.9h0m26 -15.5h0m-84.1 12.9h0"/><path id="p26" d="M156.4 13.1h0m-12.3 26.9h0m38 -41.8h0m-20.5 17.5h0m13.5 -34.6h0m47.6 -10.3h0m-28.2 29.3h0m32.2 -57.3h0m-49 45.1h0m-16.9 55.6h0m54.1 -94.2h0m-4.2 10h0m29.3 -73.3h0m-16.2 22.9h0m-51.2 109.8h0m31.2 -14.5h0m26.1 -92.5h0m7.9 29.7h0m-62.6 46h0m26.6 -15.9h0m18 -5.1h0m16.6 -28.5h0m-13.1 45.9h0m-21.4 2.9h0m8.5 -34.1h0m-25.5 47.6h0m29.7 -14.9h0m28.6 -37.8h0m-30.5 22.1h0m8.6 4.1h0m1.9 -15.7h0m-19.9 9.1h0m-32.8 58.8h0m59.2 -81.1h0m-53 58.4h0m-18.3 31.2h0m16.6 -29.8h0m2 11.5h0m-3 -7.3h0m39.7 -31.9h0m-16.6 -5.6h0m56.7 -33.4h0m-23.3 64.3h0m-70 19.9h0m10 2h0m37.8 -45h0m-16.1 27.3h0m-0.5 -38.3h0m-1.1 5h0m17.3 10.7h0m33.4 -61.7h0m-57.6 45.5h0m15.7 41.4h0m24.4 -72.3h0m-21.9 57.7h0m9 -49.6h0m-24 62.8h0m35.2 -49.5h0m12 1.7h0"/><path id="p27" d="M186.2 118.4h0m-42 5.3h0m4.3 -3.2h0m-68.9 -7.4h0m31.5 12.3h0m-3.1 -5.4h0m25.1 17.9h0m15.2 -13.2h0m-38.7 9.4h0m11.1 -14h0m52.1 12.3h0m-6.2 -24.7h0m-0.1 12.8h0m-8.6 -7.7h0m10.7 51.4h0m0.1 -27.5h0m-27.3 -25.8h0m38.4 15.9h0m-17.9 -8.3h0m-8.9 -16.8h0m-39.4 34.4h0m-37.9 4.7h0m64 -21h0m-9.2 28.4h0m41.3 -9.9h0m-32.7 -2.5h0m-5.8 -15.6h0m-32.7 16.7h0m75.3 -19.2h0m-79.6 -5.9h0m73.7 14.9h0m-66.4 17.4h0m127.6 -65.3h0m-30.5 38.6h0m-60.9 11h0m-59 12.1h0m26.3 -11.7h0m48.2 10.9h0m-19.5 -11.6h0m41.6 1.7h0m33.3 -7.6h0m-42.3 4.9h0m-33.2 9.9h0m26.3 -9.6h0m42.3 -1h0m-7.3 7.8h0m-3.7 -3.2h0m-125.8 -4.5h0m98.4 19.8h0m29.4 -15.5h0m-13.2 17.2h0m-37 -33.7h0m2.2 2.4h0m49.1 1.9h0m-61.5 30.1h0m42.8 -35.6h0m-68 25.8h0"/><path id="p28" d="M174.2 9.1h0m34.5 -40.8h0m-32.4 17.1h0m26.7 13.5h0m-1.4 9h0m-41.9 7.5h0m-12.1 1.6h0m37.7 -7.5h0m27.2 -25.7h0m-18.9 23h0m13.7 -24.5h0m33.6 -49.2h0m-60 57.5h0m-16.9 28.3h0m43.5 -26.2h0m-8.3 -8.1h0m1.2 -14.6h0m9.2 28.1h0m-41.5 45.1h0m14.5 -52.8h0m33.4 -29.3h0m-33.1 32.5h0m52.9 -59.3h0m-11.7 38.3h0m-14.7 -3.9h0m-64.4 63.4h0m73.7 -72.5h0m-72.6 79.1h0m84.8 -104.7h0m8.9 27.1h0m-56.5 41h0m-20.2 18.2h0m12.6 -18.6h0m78.5 -67.6h0m-58.1 63.6h0m4.4 -49.6h0m-26.1 68.7h0m4.8 14.4h0m-4.6 -51.9h0m63.2 -53.8h0m-33.1 30.9h0m3.8 25.2h0m1.4 -20.4h0m10 -6.8h0m-31.6 23.9h0m42.4 -53.3h0m-60 88.3h0m54.7 -84.5h0m-20.4 39.5h0m-28.7 34.3h0m10.5 5.5h0m-4.6 -30.9h0m-28.5 30.8h0m25.5 31.3h0m-27.7 -6.4h0m60.5 -66h0m-19 14.3h0m-5.3 3.5h0m7.6 -9.4h0"/><path id="p29" d="M270.9 87.3h0m-120.4 54.7h0m23.9 -8.6h0m50.7 -12.6h0m-68.6 1.4h0m25.2 21.6h0m-21.1 -25.6h0m-48.6 29.1h0m32 -2.2h0m17.6 -21.3h0m-96.1 0h0m31 41.2h0m20.5 -30.1h0m16.7 -10.4h0m-6 32.5h0m6.4 -26.5h0m6.3 -0.9h0m6.1 -7.1h0m-23.2 -5h0m2.4 4.2h0m37.3 -1.3h0m-19.4 17.6h0m78.4 -33.7h0m-29.8 40.1h0m-83.3 -23.8h0m-22.6 18.1h0m84.4 -7.5h0m-35 -4.9h0m27.2 7.7h0m75.9 -9.1h0m-128.3 16.1h0m7 -12.2h0m49.1 -6.5h0m-54.6 6.1h0m74.3 -12.7h0m-59.9 12.2h0m26.2 -13.6h0m-6.7 13.3h0m-10.4 -8.2h0m-35.6 4.2h0m11.4 40.6h0m1.5 -35.3h0m33.3 10.1h0m-80.9 -13.4h0m44.3 23.1h0m61.6 5.8h0m-7.1 -24.4h0m35.8 -19.2h0m-104.9 19.6h0m81.2 4.6h0m-36.5 2.3h0m2.4 -9.2h0m-7.2 -5.4h0m48.6 3.1h0m-96.3 -16.7h0m43.3 15h0m33.2 18.7h0m1.3 -21.6h0m-96.9 2.5h0m135.7 7.3h0"/><path id="p30" d="M176.2 22.4h0m7.7 -24.6h0m-23.8 34.2h0m38.1 -21h0m28.1 -86.2h0m-36.8 81.5h0m-21.8 23.2h0m24.4 -27.3h0m30.3 -27.2h0m-9 18.5h0m-21.7 -21.5h0m-49.2 47.3h0m67 -78.9h0m-23.1 61.6h0m40.8 -68.6h0m-78.2 90.3h0m53.9 -31.5h0m1.3 -11.6h0m-1.2 1.4h0m-25.4 22.8h0m-6.7 15h0m-9.6 25.3h0m42.8 -88.8h0m-27.6 76.2h0m72.4 -71.1h0m-54.5 23h0m3.6 15.8h0m20.3 -98.2h0m-42.1 113.6h0m-7.7 18.8h0m59.8 -94.2h0m-16 1.1h0m-0.1 48.6h0m1.1 -56.9h0m-19 56.4h0m26.6 -56.2h0m-35.8 61h0m30 -25h0m-12 15h0m9.1 -46.7h0m0.9 46.8h0m-22.7 5.2h0m17.3 -9.8h0m20.4 -35.8h0m-38.9 19.5h0m20 8.3h0m-29.4 17.4h0m-11.5 30.2h0m21.7 -29h0m36 -68.1h0m-68.2 90.2h0m73.1 -55h0m-70.4 95.3h0m29.4 -65.9h0m-15.7 17.7h0m-31.3 18.4h0"/><path id="p31" d="M113 100.4h0m5.1 27h0m-9.4 4.4h0m128 -17h0m-187.9 16.1h0m105.7 2.1h0m-67.5 -13.3h0m37.2 17.2h0m41.6 -14.1h0m-42.6 6.3h0m31.8 2.7h0m-22.3 -7.7h0m-43.2 8.3h0m128.4 -22.6h0m-38.6 23.3h0m-25 -11.9h0m-14.2 0.3h0m-30.9 0.5h0m91.5 -4.9h0m-27.7 13h0m-89.9 -9.2h0m41.2 -0.8h0m24.1 5.4h0m-48.4 -8h0m48.5 2.6h0m98.5 -9.4h0m-84.9 27.6h0m-23.9 3.2h0m0.1 -23.5h0m56.9 15h0m6.6 -15.3h0m-54.4 19.6h0m30.1 -10.8h0m-28.4 -4.5h0m-30.8 0.6h0m-23.5 10.3h0m32.3 -3.1h0m25.3 3h0m9.9 -5.2h0m-64.9 2.8h0m53.9 11.5h0m43.9 -13.9h0m-26.7 1.3h0m8.6 -13.3h0m14.2 16.3h0m-82 -9.7h0m63 6.8h0m14.3 -2.4h0m-16.7 11.9h0m35.1 -5.9h0m-26.5 1.9h0m-39.5 18.8h0m56.5 -36.3h0m-48.2 25.2h0m2.8 -18.8h0"/><path id="p32" d="M181.9 -41.4h0m33.6 -6.8h0m-38.6 58.3h0m-3.3 24.4h0m54 -86.7h0m18.9 -27.2h0m-39.6 58.9h0m-0 -40.5h0m-5.4 14.4h0m18.2 32.3h0m-10.3 2.1h0m4.6 -26.3h0m7.6 14.5h0m12.6 -48.6h0m-11.1 20.6h0m-1.6 11.9h0m-55 35.9h0m29.8 11.3h0m-27.4 2.1h0m21.6 -31.3h0m-5.9 8.3h0m33.5 -29.3h0m-16.4 56.3h0m31.2 -55.9h0m-31.2 25.8h0m-34.3 17.7h0m-14 29.8h0m47.7 -31.2h0m0.7 -27.8h0m21.7 -40.6h0m-53.9 96h0m-13.4 -2.2h0m40.9 -76.2h0m-3.3 12.2h0m32.6 -39h0m-10.7 31.5h0m-15.7 52.2h0m-5.5 3.8h0m-42.7 4.4h0m44.2 -20.8h0m2.8 13.7h0m-45.5 47.2h0m29.2 -84.9h0m56.2 -25.4h0m-101.5 89.8h0m66.3 -42.8h0m-49.2 29.2h0m68.4 -33.4h0m-32.1 2.1h0m0.9 4.3h0m3.5 -33.1h0m28.4 3.4h0m-44.4 40.8h0m38.6 -80.2h0m-23.3 43.9h0m53.1 -3.2h0m-50.1 21.6h0m-20.2 9.9h0m6.7 -21.6h0m32.2 5.4h0m-19.5 -24.4h0"/><path id="p33" d="M124.2 113.2h0m47.2 9.8h0m-16.4 18.1h0m-75.8 -16.8h0m74.8 0.8h0m86.7 -17h0m-165.1 13.7h0m115.4 32.1h0m-50.9 -30.4h0m19.5 11.9h0m36.7 -5.9h0m-64.6 -8.1h0m77.7 -11.2h0m-57.4 25.4h0m70.9 -36h0m-15 16.7h0m-85.3 26.9h0m35.3 -22.1h0m-58.8 3.2h0m63.2 5.3h0m39.6 -21.4h0m-111.5 9.6h0m-33.4 4.6h0m75.2 -14.4h0m23.3 24.6h0m42.9 -4.6h0m-41 6.9h0m28.4 -19h0m51.8 -8.4h0m-126.4 40.5h0m64.8 -21.4h0m56 -12.4h0m-70.1 -3.6h0m-19.6 33.6h0m-13.1 -1.1h0m42.7 -33.4h0m28.2 -10.6h0m-2.9 30h0m73.4 -41.8h0m-92.3 26h0m-19.2 6.4h0m-21.2 23.6h0m46.8 -16.2h0m-45.4 1.9h0m15.4 2.4h0m89 -28.5h0m-80.5 27.3h0m-6.9 6.6h0m-30.3 -14.5h0m-9.9 13.3h0m107.4 -49.1h0m-104.4 31.2h0m39.9 -1.8h0m-31 1.1h0m51.8 -2.3h0m19.7 6.4h0"/><path id="p34" d="M175.4 30h0m24.3 -65.5h0m21.8 -23.1h0m-11.9 58.3h0m30 -17.4h0m-2 -38h0m-22 35.2h0m-15.5 0.1h0m40.1 -45.5h0m-33.7 66.4h0m36.2 -39.9h0m-34.4 27.2h0m-17.2 -7.6h0m13.6 32.8h0m-8.6 -19.8h0m-4.3 -10.2h0m-41.5 20.2h0m9.1 37.9h0m54.6 -104.9h0m19.5 7.4h0m-54.3 55h0m45.5 -26.2h0m-65 62.4h0m-10.4 19.2h0m81.7 -124.2h0m-39.6 35.5h0m40 -13.7h0m-82.4 75.1h0m32.5 -36.5h0m11 -5.2h0m3 -38.1h0m-11.7 78.3h0m49.6 -75.4h0m-2.1 8.1h0m-21.8 -7.7h0m8.1 24.3h0m11 -46.9h0m-44.1 71.9h0m33.3 -54.2h0m-47.9 104.1h0m46.1 -84.4h0m13.7 -5.7h0m-46.8 17.7h0m9.1 -14.5h0m-36.4 72.9h0m4 1.4h0m71.5 -91.7h0m-15.5 35.7h0m-6.6 -36.2h0m-39.7 54.7h0m31.9 -15h0m12 -8.1h0m27.5 -17.3h0m-41.2 33.5h0m-2.4 -41.6h0m9.7 51.8h0m-15 -18.9h0m7 -22.7h0m0.4 34.9h0m20.4 -84.7h0"/><path id="p35" d="M181.7 122.2h0m11.6 -1.5h0m-96 -10.6h0m62.1 24h0m21.4 -0.7h0m45.5 -1.5h0m-90.5 -0.1h0m21.6 -12.5h0m8.6 1.1h0m10.1 11.9h0m21.3 -17.1h0m-57.3 16h0m-10.4 -10.9h0m53.7 9.2h0m-31.2 5.4h0m49.1 -7.6h0m22.8 1.6h0m-115.4 20.5h0m9.5 0.9h0m48.8 3.4h0m-23.6 -40.3h0m-35.9 17.9h0m27.7 -4h0m70.7 3.1h0m-98.8 -14.2h0m49.3 34.3h0m-71.7 -18h0m26.4 -8.3h0m72.5 20.9h0m25.9 -27.8h0m-116.1 20.1h0m107.2 -19.7h0m-55.9 13.9h0m44.9 -18.6h0m-45.3 17.8h0m20.4 -10.4h0m-51.3 20.1h0m-1.1 -12h0m-18.9 5.3h0m29.1 -14.9h0m71.3 7.6h0m-9.7 5.1h0m-15.3 -4.6h0m-38.7 16.3h0m33.5 -27.6h0m-93.7 15.4h0m104.2 -5.7h0m-56.1 19.6h0m53.2 -15.9h0"/><path id="p36" d="M207.2 10.9h0m2.6 -54.4h0m-40.8 57.9h0m12.2 32.7h0m-21.6 -12.5h0m21.9 -2.1h0m46.2 -96h0m-19.7 50.1h0m40.2 -30.5h0m-67.1 26h0m30.8 -8.7h0m-18 48.1h0m4.2 -48.7h0m-22 29.3h0m5.7 -9.6h0m24.5 -11h0m-9.9 -9.6h0m5 10.9h0m21.9 -4.1h0m-12 -24.1h0m2.5 24.8h0m28.4 -58.7h0m-36 42.8h0m-24.3 29.5h0m32.2 -8.7h0m-14.6 -15.2h0m-20.1 41.2h0m8.8 19.6h0m21.9 -55.1h0m-3.6 7.1h0m-26.1 5.7h0m21.1 -5.4h0m-26 9.6h0m51.4 -25h0m-21.2 35.7h0m-5.1 -20h0m-49.5 34.4h0m28 -10.3h0m23.6 -25.6h0m-8.7 11.2h0m-16.5 23.2h0m1.1 -13.6h0m12.1 -0.7h0m16.4 -38.9h0m-5.1 30.8h0m-22 35.3h0m-33.7 -6.2h0m79.8 -115.2h0m-24 52.6h0m19.3 -7.8h0m-21.3 34.3h0m-11.6 -1.2h0m33.9 -10.2h0m-36.4 7.6h0m-33.8 43.6h0m19.6 -16.1h0m62.4 -63.1h0m-34.5 53.8h0m14.1 -10.6h0m-36.4 37.8h0m65.3 -90.2h0m-30 46.5h0m-30.3 -12h0m-34.6 55.5h0m79.8 -35h0m-29.9 -13.4h0m30.2 -32.4h0"/><path id="p37" d="M188.3 123.4h0m-3.8 9.9h0m-53.7 -10.3h0m43.2 12.2h0m0.1 -21h0m26.1 -9.6h0m-62.7 20h0m-3.6 14.8h0m56.5 -1h0m-52.3 0.5h0m-75.8 -3.8h0m78.2 -16.4h0m20.8 9.1h0m7.5 0.3h0m-6.9 3.1h0m19.2 2.1h0m-14.4 -18.2h0m43.4 -11.9h0m-66.9 36h0m25.8 -15.7h0m-18.3 23.5h0m103.3 -52.2h0m-89 21.3h0m-13.8 10.6h0m18.3 28.8h0m-27.8 -37.3h0m25.6 5.9h0m6.8 4.2h0m8.2 17.4h0m8.4 -9.3h0m-22.4 -26.8h0m-26.3 10.8h0m5.1 17.8h0m72.4 -35.8h0m-47.8 20.2h0m52.2 4.7h0m-122.3 -15.4h0m64 11.3h0m11.3 14.5h0m-17.2 0.5h0m55.3 -15h0m-9.3 -7.7h0m-76.5 29.8h0m9.5 -19.9h0m14.5 21h0m56.6 -5.3h0m-37.7 6.9h0m18.7 -27.7h0m-75.4 -0.4h0m3.1 32.5h0m42.3 -47.9h0m-109.5 20.1h0m33.2 11.1h0m84.9 -5.2h0m0.7 0.6h0m-67.5 12.7h0m99.2 -33.7h0m-77 19.7h0m13.8 -20.1h0m30.6 17.7h0"/><path id="p38" d="M210.4 -18.3h0m28.5 -59.9h0m-5 14.6h0m-43.7 77.1h0m27.6 -100.2h0m-10 68.4h0m-6 -8.5h0m-8.2 20.7h0m-7 4.3h0m7.4 -29.8h0m-14.7 24.7h0m11.1 -5.7h0m21 -14.6h0m-78.5 52.1h0m110.7 -140.2h0m-36.9 94.7h0m-66.2 47.1h0m76 -54.3h0m-33.9 10.9h0m-9.1 21h0m65.6 -66.4h0m-29.7 38.9h0m-24.8 22.7h0m13.6 -9.6h0m4.1 -29.4h0m5.7 -6h0m17 -13.4h0m-86.2 91.3h0m73.1 -64.8h0m-70.7 60.4h0m7.8 2.8h0m89.4 -100.5h0m-69.3 71.9h0m-9.9 21.9h0m52.9 -73.6h0m-22.5 42.9h0m18.9 -4.3h0m-0.3 -23.7h0m-53.3 65.7h0m33 -49.4h0m2.4 21.5h0m-5.8 -19.8h0m-17 31.1h0m39 -75.5h0m-9.6 74.5h0m-7.2 -32.2h0m-16.8 15.6h0m7.6 -17.1h0m52.6 -48.1h0m-48.9 93.9h0m-21.7 -9h0m57.2 -52.8h0m4.1 7.8h0m-1.8 -6.8h0m9 -6.7h0m-36.4 7.8h0"/><path id="p39" d="M214.9 101.6h0m-42.9 29.1h0m-6.2 -1.1h0m-23.9 -5.5h0m-24.1 5.7h0m60.9 7h0m18.8 -11.9h0m35.4 -35.3h0m-31.3 23.8h0m-77 29.9h0m40.1 -10.6h0m-67.4 10.1h0m71.6 -7.6h0m-40.3 8.6h0m21 -20.3h0m-22.1 4.6h0m60.8 7.4h0m-48.8 24.2h0m31.1 -34.2h0m-21.5 6.5h0m29.6 12.5h0m-26.6 -14.9h0m26.7 2.3h0m-28.9 -2.6h0m61.2 -4.5h0m-84.8 19.3h0m84.8 -20.6h0m-40.2 18.8h0m27.7 -16.3h0m-137.6 -9.4h0m40 24.1h0m-4.9 5.9h0m75.1 -25h0m32.1 9.1h0m-111.6 -6.1h0m16.2 14.2h0m21.8 -2.9h0m9.2 -8.2h0m108.4 -36.7h0m-143 40.2h0m24.9 -13.4h0m80.8 13.4h0m-74.4 -34.1h0m46.5 36.1h0m-83.3 -20.7h0m28.3 11.9h0m33.5 12h0m-2.5 -11.2h0m-61.8 -9.4h0m35.8 14.8h0m-50.8 -27.9h0m127.1 5.4h0m-77.3 16.3h0m37.2 10.7h0m-22.5 -10.6h0m52.6 -3.3h0m-116.4 19.8h0m78.8 -5.4h0m-48.4 -18h0m-19.4 9.8h0m15.8 2.5h0m-4.1 5.4h0m10.4 -3.4h0m65.7 -9h0m27.6 6.7h0m-96.9 8.8h0"/><path id="p40" d="M172.2 42h0m-6.9 -44.1h0m36.4 -8h0m-27.2 -4.1h0m44.8 -11.2h0m-15.2 10.5h0m28.4 -53.6h0m-55.4 51.3h0m17.6 10.7h0m-20.9 13.1h0m52.3 -41.3h0m-40.6 17.1h0m51 -41.4h0m-17 -1.7h0m-34 18.9h0m54.1 -65.8h0m-50.4 100.5h0m-23.6 29.3h0m-13 -26.7h0m51.7 -17.6h0m-7.5 8.6h0m-21.1 49.9h0m57.1 -154.5h0m-7.3 91.3h0m-43.9 21.4h0m-2.3 -4h0m34.3 -15h0m19.2 -34.6h0m-55.9 59.6h0m-7.4 31.3h0m23.5 -11.1h0m-15.6 -11.7h0m51.4 -101.8h0m-45 93.1h0m17.4 -24.8h0m17.3 0.1h0m-67.9 65.3h0m55.1 -69.3h0m-1.4 28.9h0m34.8 -27.6h0m-12.2 -24.3h0m3.2 0.2h0m-13.5 -14h0m-4 19.7h0m-64.2 73.9h0m61.3 -61.9h0m-2.2 15.6h0m-21.2 1.1h0m-6.3 14.8h0m64 -61.7h0"/><path id="p41" d="M109.9 157.3h0m17.5 -27.7h0m36.7 -1.9h0m-58.1 3.7h0m36.4 4h0m25.5 2h0m-6.9 -0.7h0m57.9 -36h0m-75.9 33h0m25.9 6.2h0m7.7 -11.5h0m-72.8 -5h0m85.6 12.6h0m42.6 -31.7h0m-18.4 9.5h0m-78.4 24.5h0m11.5 5.6h0m-29.3 -32h0m87.1 24.6h0m-39.3 -4.4h0m-53 -1.8h0m81.9 6.7h0m-8.9 -2.4h0m-101.2 -5.4h0m83.9 19.9h0m-8.8 -44.2h0m23.5 26.5h0m-10 1.3h0m29.9 -22.8h0m-95.4 24.9h0m111 -26.9h0m-116.3 19.1h0m17 1.5h0m9.4 26.7h0m23.1 -24.9h0m8.7 -8.2h0m-18.5 -7.2h0m-32.1 16.8h0m82.7 3.2h0m-53.4 -22.5h0m62.7 13h0m-70.5 14.7h0m-1.7 -23.3h0m48.8 9.6h0m-35.9 9.2h0m18.2 -6.2h0m-45.2 -2.7h0m-37.6 3.7h0m12.6 -16.3h0m66.1 38h0m-25.9 -14.5h0m19.3 12.7h0m-70.3 -10.7h0m26 -8.8h0m13.7 10.8h0m38.5 1.4h0m-0.9 -10.3h0m4.2 -7.5h0"/><path id="p42" d="M222.3 -46.1h0m-16.5 22.8h0m-65 88.2h0m68.7 -80.1h0m31.1 -77.7h0m-49.7 63.1h0m-25 42.5h0m17.1 -5.3h0m-16.1 -18.5h0m42.3 -9.1h0m7.1 -38.3h0m-51.6 88.4h0m35.8 -58.8h0m1.6 -3.5h0m-21.4 46.4h0m18.6 -55h0m-16.3 46.1h0m6.6 -4.6h0m15.5 -8.7h0m-31.1 -13.3h0m7.4 25h0m55.5 -128h0m-12.4 96.3h0m-4.2 -0.5h0m-27 32h0m23.1 -50h0m6.2 17.4h0m-11.7 35.3h0m-27.6 -5.1h0m33.3 -21.1h0m-63.2 48.7h0m-32 28.3h0m67.6 -79.3h0m55.8 -43.4h0m-119.1 123h0m86.9 -95h0m-30.9 24.9h0m30 -58h0m4.8 40.7h0m16.9 0.6h0m-73.3 70.4h0m77.3 -123.2h0m-42.5 46.7h0m21 12.6h0m-14 17.3h0m-25.9 6h0m-50.3 49.9h0m97.3 -85.9h0m-37.8 32.4h0m21.4 2.3h0m-43.4 -15.8h0m57.4 -23.9h0m27 -17.4h0m-57.6 53.9h0m40.4 -48.2h0m-25 10.2h0m-29.3 44h0m37.8 -20.7h0"/><path id="p43" d="M210.9 122.5h0m12.1 -2.5h0m-86.6 6.9h0m-30.4 -8.4h0m82.1 -10.4h0m-112.5 24.4h0m188.9 -20.3h0m-110.9 18.9h0m-59.5 -2.5h0m-23.2 -4.7h0m85.6 19.5h0m8 -5h0m40.7 -35h0m-64.5 32.1h0m-7.5 9.1h0m73.8 -0.5h0m-44.8 -24.6h0m-23.8 22.9h0m36.8 -20.4h0m-39.6 19.1h0m15.2 12.2h0m26.4 -11.5h0m-12.1 -1.6h0m-55.4 2.1h0m50 4.8h0m28.3 2.4h0m-51.2 -21.3h0m19.5 0.5h0m-2.4 2.5h0m62.3 -8.2h0m-53 0.9h0m19 3.1h0m-48.8 8.2h0m15.3 -4.5h0m100.7 -29.3h0m-89.2 14.8h0m-29.2 9.2h0m36.4 -3.5h0m-20.9 5.7h0m-31.5 -3h0m3.6 3.7h0m53.2 16.7h0m-5.8 -21.5h0m-1.8 4.7h0m37.4 -20.1h0m-65.5 29.5h0m77.6 -34.1h0m-47.9 10.3h0m102.2 -35.9h0m-180.7 56h0m66.9 -12.5h0"/><path id="p44" d="M216.6 -40.6h0m-0.3 -3.1h0m7.5 17.3h0m-27.3 5.7h0m-41.4 36h0m65.7 -68.5h0m-42.6 49h0m-46.2 40.8h0m25.4 -9.6h0m33.4 -32.6h0m49.4 -51.8h0m-38.8 43.9h0m-14.2 -1.5h0m2.5 2.8h0m14.4 -17.7h0m29.7 -32.1h0m4.2 15.8h0m-80.9 71.9h0m35.7 -38.8h0m24.7 -27h0m-36.2 32.5h0m45.6 -29h0m-6.9 21.2h0m-30.8 -7.2h0m27.3 -7.4h0m-61.8 56.3h0m19.7 -13.1h0m81.2 -72.8h0m-55.6 26.1h0m14.1 10h0m-24.5 28.2h0m-12 1.5h0m58.6 -79.2h0m-35.3 46.7h0m-0 24.5h0m9.1 0.6h0m20.4 -122.3h0m-61.5 145h0m18.9 4h0m-12.5 -28.5h0m-34.3 70.6h0m73.2 -107.7h0m-26.2 15h0m15.8 8.2h0m7.6 -2.3h0m10.6 -24h0m-8.1 59.7h0m12.7 -50h0m-19.7 -2.9h0m-29.7 37.2h0m-42.1 67.9h0m88.1 -117.3h0m-36.4 21.5h0m-6.1 16.4h0m38.5 -43h0m-26.6 55.8h0m27.4 -30.6h0m-21 -7h0m-9.4 47h0m3.2 0.7h0m-3.3 -20.1h0m-11.1 3.7h0m-39.8 46.5h0m38.2 -43.8h0m3.5 -2.2h0"/><path id="p45" d="M113.4 132.3h0m-37.9 12.6h0m85.6 -11.8h0m-38.8 7.1h0m76.6 -27.8h0m-81.6 27h0m38.6 -5.3h0m29.4 8.9h0m-34.6 -17.4h0m80.8 -24.3h0m-38 21h0m-32.7 24.2h0m23.5 -19.6h0m-109.3 12.6h0m54.7 -2.9h0m64.2 -31.4h0m-40 8h0m-0.2 26.1h0m-98 0.6h0m62.4 -2.2h0m26.6 3.1h0m-29 -11h0m59.6 -18.8h0m39.8 22.6h0m-69 3.4h0m4.9 -9.9h0m52.7 -6.4h0m23.6 -13.5h0m-79.6 17.2h0m23.7 6.7h0m-28.7 6.8h0m49.2 -22h0m-64.9 -5.5h0m-82.4 33.2h0m54.1 -11.2h0m66.6 -13.9h0m23.8 1.7h0m-126.9 2.3h0m19 -4.7h0m118.8 24.6h0m-50.9 -1.1h0m47.6 -38.7h0m-37.3 26.3h0m-61.9 16h0m61.6 -30.9h0m75.6 -11h0m-80.3 31.6h0m-15 -12.2h0m66 10.9h0m-81.9 -22h0m29.2 39.3h0m-48.4 -14.1h0m52.7 -3.8h0m47.2 -17.7h0m-68.1 -0.2h0m125 -4h0m-112 20.7h0m-1.7 -11.7h0m67.7 13.2h0m-88.7 12.9h0"/><path id="p46" d="M167.4 -9.5h0m51.9 -50.4h0m-30.3 53.5h0m-29.5 47.2h0m43.9 -49.6h0m2.9 -15.5h0m-12.7 0.3h0m-37.9 32.5h0m58.5 -27.9h0m10.5 -20.1h0m-5.5 12.4h0m-15.7 3.3h0m-28.6 22.9h0m7.6 16.5h0m11.9 -22.7h0m-4.6 -4.3h0m0.8 -21h0m25.2 -14.4h0m19.8 -16.6h0m4.8 -29.3h0m-35.5 73.1h0m-17.8 19h0m3.5 7.6h0m-28.3 23.9h0m34.9 -53h0m53.1 -54.7h0m-8.2 -46.8h0m-45.5 102.8h0m19.9 -34.2h0m13.9 -3.1h0m-15.3 53.5h0m-3 -37.9h0m18.9 6.1h0m0.5 -38.1h0m-8.2 58.8h0m-28.5 2.1h0m22.9 1.6h0m-5.7 -10.1h0m8.7 -8.8h0m-9.1 19.8h0m-25.1 11h0m22.7 -57h0m-11.1 43.6h0m-18.5 11h0m49.7 -86.5h0m-9.5 -20.1h0m-37.1 128.4h0m49.9 -67.6h0m-22.5 8.3h0m11.3 -6.5h0m-26.7 52.5h0m-3.5 -41.1h0m-14.3 36.1h0m49.9 -72.8h0m-38.6 45.1h0m48.6 -11.9h0"/><path id="p47" d="M182.4 112.1h0m-47.9 16.6h0m-23.7 -4.9h0m77.4 7.6h0m-41.9 -2h0m39.2 -3.9h0m-7.5 27.1h0m-21.3 -48.5h0m-47.2 21.4h0m95.4 -23.9h0m-55.2 30h0m6.4 25.2h0m-81.4 -33.5h0m53.2 2.8h0m53.9 7h0m20.4 -8.9h0m-61.6 15.8h0m80.9 -26.3h0m-64.7 25.7h0m26.8 -17.7h0m-25.5 16.4h0m48.3 -9.2h0m-66.6 12.4h0m18.7 -24.6h0m9.9 6.9h0m-31.5 20.1h0m95.6 -57.8h0m-28 24h0m-46.4 30.8h0m16.4 0.6h0m18.6 -12.9h0m-35 8.5h0m27.8 -15.3h0m-66 6.2h0m-30.7 17.2h0m31.6 -11.1h0m-10.6 -17.2h0m60.6 19.3h0m-51.6 -9.8h0m30.4 10h0m-27.7 5h0m1.2 -23.6h0m-31.3 -0.5h0m64.6 27.7h0m-72.4 -10.7h0m5.6 -1.3h0m31.1 0.3h0m40.2 11.8h0m19.5 -16.7h0m-94.7 15.9h0m60.1 -5h0m-60.6 -20h0m-9 7.2h0m32.2 9.4h0m23.5 -2.4h0m1.1 -5.8h0m13.3 5.1h0"/><path id="p48" d="M218.6 -47.3h0m3 -11.1h0m-64.4 70.1h0m18.1 -26.1h0m56.6 -23.7h0m-71.2 34.4h0m41 -23.1h0m-29.1 32.1h0m38.1 -42.7h0m-6.1 39.4h0m30.4 -31.2h0m-68.5 46.9h0m64.1 -69.4h0m4.8 -32.8h0m-37 47.5h0m3 29.4h0m6.6 0.5h0m4.4 5.5h0m-11.5 -8.1h0m22.2 -17.3h0m16.7 -21.6h0m-63.4 9.4h0m31.1 12.6h0m7.6 14.4h0m10.6 -30.9h0m-37 62.8h0m2.4 -45.3h0m50.3 -46.9h0m-57.9 18.8h0m-2.9 83.7h0m5.3 -22.8h0m-0.5 -4.2h0m22.9 -7h0m11.5 -46.7h0m-4.8 37.4h0m24.3 -45.8h0m-54 48.2h0m6.5 -4.2h0m41 -26.8h0m-92.5 58.1h0m73.1 -63.5h0m45.6 -75.7h0m-53.8 103.4h0m18.8 -16.3h0m-29.7 37.4h0m-34.9 46.3h0m-9.5 -42.3h0m46.8 -13.2h0m42.6 -25.3h0m-57.6 17.4h0m-22.4 24.5h0m-31 45h0m96.4 -73.3h0m-107.2 64.4h0m108.2 -109.7h0m-0.8 0.1h0m-60.5 77.8h0m15.2 -43.4h0m3.7 24.5h0"/><path id="p49" d="M167.9 110.5h0m-57.2 22.9h0m120.7 -41.1h0m-131.4 23.1h0m85.2 17.3h0m-62.9 -10.1h0m68.5 11.2h0m-72.2 -17.1h0m106.2 -2.2h0m-70.5 15.1h0m56.8 2.8h0m-73.8 -14.3h0m16.6 -5.6h0m37.2 -1.5h0m-87.9 7.4h0m84.4 16.3h0m-105.5 -14.8h0m83.5 10.5h0m-0.1 12.3h0m-5.4 -1.9h0m-6.7 -7.5h0m-80.9 -2.4h0m93.4 8.8h0m-97.7 -0.1h0m84 -19.7h0m6.8 5.9h0m-36.5 -3.3h0m-4.6 8.1h0m10.7 -2.8h0m37.9 -2.4h0m-28 -7.3h0m49.1 16.4h0m-61.8 -16.8h0m-13.3 -6.2h0m29.2 22.2h0m7.4 -15.5h0m84.7 -5.7h0m-13.5 29h0m-123.7 -43.5h0m96.1 28.1h0m-17.7 -1.8h0m1.6 -4.1h0m-106.7 -2.7h0m159.2 -5.5h0m-96.2 7.8h0m45.6 13.9h0m-18.3 -17.7h0m-2 0.5h0m-47.7 6.4h0m96.2 -9.1h0m15.1 3.5h0m-34.1 6.6h0m-8.5 -0.4h0m-86.2 16.1h0m31 5.9h0m-32.9 -10.8h0m130.9 -8.2h0m-84 8.4h0m9.2 -10.2h0m19.7 -5.5h0m10.2 5.4h0m-52.8 11.5h0m10 -1.1h0m-3.2 -1.4h0"/><path id="p50" d="M169.3 2.9h0m48.7 -2.5h0m-9.2 -31.2h0m5 -4.8h0m12.5 -41.7h0m-16.6 44.1h0m-33.7 39.4h0m-23.6 9h0m55.6 -72.3h0m16 55.6h0m-30.8 -26.4h0m-5.9 40.4h0m58 -61.7h0m-11.4 1h0m4.8 -28.2h0m-11.3 21.4h0m-43.7 46.8h0m40.6 -47.6h0m-12.2 39.9h0m-51.3 18.6h0m41.9 -15h0m27.4 -51h0m-61.8 72.5h0m36.8 -26.1h0m-25.7 37h0m29.9 -66.3h0m30.9 15.6h0m-19.2 -29.8h0m-44.3 81.2h0m3.1 -47.7h0m57.1 -32h0m-5.3 -2.2h0m-8.2 19.4h0m18.1 -38.3h0m-32.2 64.7h0m-8.6 -40.6h0m-4 53.5h0m21.2 -18.3h0m-7.5 5h0m-49 55.9h0m15.6 -50.1h0m62.2 -42.6h0m-69 64.4h0m91.6 -97.1h0m-49.3 78.8h0m-9.4 -26.4h0m-2.5 19.1h0m-2.9 -8.5h0m-12.7 25.9h0m-35.6 18.5h0m79.8 -116.8h0m-43.6 109.6h0"/><path id="p51" d="M109.5 115.7h0m56.9 28.3h0m38.5 -19h0m-103.1 26.5h0m56.4 -25.6h0m-61.9 2.5h0m62.1 -5.5h0m1.5 13.3h0m-15.4 -8.2h0m51 6.6h0m-31.5 12.7h0m20.2 -4.2h0m35.1 1.7h0m-131.1 -13.7h0m-31.4 8.9h0m68.4 -5h0m16.7 -9.7h0m24.3 -8.9h0m15.9 14.2h0m23 -4.6h0m-43.1 2h0m-23.4 11.6h0m41.3 -5.5h0m-39.4 -27.6h0m39.5 24.8h0m19.9 -1.4h0m-80.4 -2.6h0m47.7 24.6h0m2.6 -16.5h0m-0.8 -20.8h0m-60.7 30.9h0m84.8 -21.3h0m16.8 -4.2h0m-119.6 7.7h0m-29.9 8.9h0m98.7 -9.1h0m47.4 4.9h0m-46.6 26.5h0m37.2 -35.3h0m-70.9 -10h0m-6.1 4h0m-59.7 19.4h0m140.7 -16.4h0m-58.6 -7.7h0m35.5 5h0m-48.1 5h0m60.4 9.4h0m-71.3 7.6h0m87.1 -37.3h0m-60.9 41.8h0m51.9 -19.8h0m-109.6 12h0m37.1 -16h0m65.8 6.8h0m-40.7 -0.2h0m30.7 15.9h0m-73.5 8.6h0m39.4 -4.7h0m-79.9 -14.7h0m10 -4h0m34 17.6h0m51.3 -11.2h0"/><path id="p52" d="M204.4 -14.9h0m1.4 -42.3h0m-31.1 54.4h0m51.2 -31.6h0m-60.7 29.9h0m4.9 -17.8h0m30.3 18.1h0m11.6 -27.6h0m17.8 -31.1h0m-14.7 13.6h0m-43.9 89.3h0m-33.8 16h0m69.1 -115.7h0m-13.6 38.8h0m37.1 -10.4h0m-94.1 33.9h0m85.4 -40.9h0m-59.7 73.9h0m49.4 -49.1h0m-2.7 -3.6h0m-10.5 0.3h0m-6.4 -13.5h0m15.5 17h0m15.6 -46.9h0m-6.2 7.2h0m30.2 -32.1h0m-20.3 45.7h0m-28.2 11.7h0m-51.4 66.9h0m-7.4 22.6h0m-8.7 -7h0m36.8 -22.3h0m34.8 -53.6h0m18.2 -0.9h0m-16.3 -27.9h0m-52.2 88.8h0m13.9 -33.4h0m16.5 13.9h0m32.7 -49.6h0m18.8 11.1h0m-80.8 58.9h0m7.3 -24.3h0m14.5 -44.7h0m45.7 -14.6h0m8.9 11.1h0m3.8 -16.3h0m-18.2 14.9h0m-53.5 36.3h0m-5.3 34.4h0m17.9 -26.8h0m2 -9.3h0m-35.7 43.1h0m102.3 -79.4h0m-2.1 -25.7h0"/><path id="p53" d="M208.6 125.4h0m-61.4 -5.2h0m-13.3 13h0m-39.8 5.2h0m28.6 -31.2h0m-25.1 18.3h0m-16.1 16.7h0m111.2 -16.2h0m-105.1 4.5h0m71 13.2h0m53.6 0.5h0m-119.3 6.3h0m20.5 -30h0m-60.4 27h0m121.1 -11.1h0m-14.4 0.2h0m-15.8 -12.8h0m30.2 -7.8h0m-98.7 37h0m77.4 -26.1h0m-66.8 2.6h0m120.9 -3.1h0m-95.8 -0.1h0m-59.3 17.8h0m0.1 -11.1h0m37.6 -6.8h0m-18.2 4.9h0m110.6 -21.2h0m-80.7 35.8h0m-16.8 -3.1h0m18 0.2h0m25.9 -0.3h0m-8.7 -26.8h0m-32.6 23.9h0m16.5 0.4h0m82.3 -0.8h0m-96.2 -6.2h0m1.3 7.6h0m113.3 -3.5h0m-126 -3.1h0m-24.7 -8.1h0m85.9 15.7h0m-36.1 -13.4h0m-24.1 -4.7h0m-6.4 15.6h0m106 -19.7h0m-38 14.7h0m-83.4 5h0m61.1 -0.6h0m68.5 -10.6h0m-20.2 2.4h0m46.7 -8.7h0m-3.7 -12.5h0m-78.9 41.5h0m-53.7 -29.4h0m90.5 21.2h0m-58.9 -23.5h0m-7.9 -7.8h0m63.2 8.1h0"/><path id="p54" d="M149.7 46.1h0m-15.9 2.1h0m103.1 -94.5h0m-61.5 85.3h0m15.4 -40.7h0m4.7 0.2h0m8.7 -11.7h0m41.4 -10.9h0m-42.9 30.7h0m21.1 -35.8h0m-66.1 49.5h0m41.9 -59.9h0m-23.6 76.9h0m16.7 -65.7h0m-23.7 12.4h0m-35.7 72.5h0m79.9 -120.5h0m-4.7 40.1h0m-48.3 74.2h0m32.4 -78.6h0m10.4 19h0m-25.3 33.7h0m24.7 -46.3h0m-29.6 16.5h0m-48.3 51.7h0m38.4 -15.8h0m23 -35h0m18.9 -31.6h0m-76.6 68.1h0m33.8 -8h0m15.4 -26.9h0m-15 17.6h0m9.9 3.6h0m13.7 -39.1h0m-45.9 61.7h0m4.5 25.9h0m72.3 -85.8h0m-49.5 38.5h0m35.1 -48.6h0m-30.6 30.6h0m26.1 -7.5h0m24.2 -25.4h0m13.7 -1.5h0m-52.7 31.4h0m41.7 -36.6h0m-7 -3.4h0m-63.7 94.7h0m-8.4 2.4h0m26.3 -43.3h0m-32.4 24.2h0m17.6 -18.8h0m25.5 -16.5h0m-4.4 17.2h0m31.9 -53.7h0m-44.1 23.6h0m60.4 -47.3h0m-57.2 60.6h0"/><path id="p55" d="M87.7 126.1h0m100.7 21.1h0m-136.1 -23.3h0m104.8 -7.7h0m-78.9 2.7h0m-12.7 24.4h0m52.8 -34h0m18.6 15.6h0m61.5 4.2h0m-122.6 12.7h0m79.7 2.5h0m-65.7 2.6h0m20.7 -25.3h0m90.8 1.6h0m-136.9 -0.5h0m109.2 23.9h0m-115.6 -26.3h0m59.7 12.8h0m7.1 -1.3h0m4.9 -0.3h0m27.2 -9.9h0m-102.1 33.1h0m61.5 -17.5h0m-49.4 -6.9h0m-8.6 18.1h0m67.2 -11.9h0m15.3 -20.1h0m-76.2 16.2h0m62.3 5.4h0m75.2 -9.5h0m-112.7 8.1h0m27.9 -1.2h0m63.8 -19.1h0m-123.3 2.3h0m21.6 30h0m45.7 -19.2h0m86.7 -6.7h0m0.3 -11.1h0m-70.6 26.2h0m-88.1 -0.8h0m36.8 -14.5h0m31.4 -19.1h0m-11.6 39.3h0m-52.8 -17.1h0m116.3 7.2h0m9 -4.1h0"/><path id="p56" d="M207.7 21.9h0m27.6 -68h0m-97.6 110.6h0m98.9 -101.3h0m-93 88.3h0m46.4 -68.7h0m-8.3 27.2h0m-15.7 -2.2h0m53.5 -82.2h0m-70 122.3h0m-11.4 6.2h0m36.2 -39.4h0m-18.9 6.8h0m60.8 -66.3h0m-7.3 25.9h0m14.4 -14.1h0m-40.1 52.7h0m44.7 -66.2h0m-90.8 101.7h0m6.4 -16h0m-4.5 -0.7h0m68.5 -92.9h0m36.4 3.9h0m-81.8 70.2h0m62.5 -91.9h0m-74.8 111.9h0m72.7 -77.9h0m-37.6 42.2h0m-31.6 -0.3h0m-17.4 44.1h0m16.8 7.5h0m65.9 -110.8h0m-11.6 34.4h0m-37.7 42.2h0m27.4 -81.4h0m-27.8 65.4h0m18.4 3.8h0m59 -64.7h0m-103.5 98h0m67.2 -82.3h0m-44.6 64.5h0m7.9 -13.9h0m12.7 -0.8h0m41.8 -46.9h0m-82.8 70h0m-2.3 0h0m50.2 -22.1h0m9.3 -38.5h0m21.4 -51.2h0m-37.4 70.3h0m8.1 12.6h0m-50.5 32.4h0m18.9 -23.6h0m40.8 -21.9h0m-42 10.5h0m64.4 -71.4h0m-29.8 31.6h0m-9.2 33.4h0m3.9 10.3h0m-14.3 5.4h0m-32.8 23.4h0m10.6 -17.1h0m66.9 -74.9h0m-61.2 98.8h0m-33.2 4.9h0m72.1 -49.1h0m20 -26.5h0m11.8 -30h0m-2.9 39.3h0m-1.9 -53.8h0"/><path id="p57" d="M190.4 112.2h0m-49 -0.5h0m17.6 29.8h0m-53.9 -9.7h0m11.4 0.8h0m-34.5 -6.4h0m75.1 -1.3h0m-68.7 3.1h0m107.2 12.3h0m-122.5 -12.6h0m85.9 -1.8h0m-11.5 9.8h0m-43.7 -7.6h0m-20 11.7h0m81.1 9.9h0m-73.8 -19.6h0m23.5 -10.2h0m49 37.2h0m40.8 -28.6h0m3.3 -10.4h0m-141 11.1h0m121.5 -4h0m17.2 7.4h0m-72.6 9h0m81.6 -27.8h0m-160.4 11h0m109.9 0.3h0m-17.9 0.8h0m-29.3 -9.2h0m-47.3 22.9h0m118.1 -9h0m20.5 4.1h0m-35 -19.1h0m-21.4 14.7h0m-3.3 -10.5h0m-6.5 13.8h0m12 -17.8h0m-57.9 14.3h0m102.4 -14.8h0m8.5 -15.5h0m1.1 18.4h0m-20.1 1.3h0m-74 19.7h0m93.3 -10.2h0m-121.9 -4.9h0m-5.7 15.7h0m-15.8 -7.6h0m123.9 4.6h0m-77.5 -9.3h0m47.4 -7.7h0m-79.7 22.2h0m81.5 -13.6h0"/><path id="p58" d="M134.9 32.1h0m93.3 -80.3h0m-30.6 10.7h0m26.8 -31.6h0m-74.4 91.3h0m-10.4 12.3h0m65.3 -94h0m-51.1 63.1h0m72.7 -54.5h0m-33.8 23.8h0m31.9 -3.3h0m-19.4 -13.7h0m4 22h0m-42 50.1h0m30.2 -19.7h0m-50.5 35.4h0m45.3 -25.5h0m-52.8 24.4h0m79.2 -102.3h0m-36.7 47.7h0m4.3 19.1h0m-5.4 10.9h0m31.2 -50.2h0m-10.5 -0.5h0m24.8 10.6h0m-11.4 -18.9h0m-2.4 12.8h0m-24.2 10.6h0m-45 72.8h0m50.6 -79.4h0m-45.2 69.5h0m24.6 -68.4h0m-36.1 73.6h0m42 -40.4h0m0.7 -28.8h0m-26.1 43.9h0m57.7 -52.6h0m-15 53.3h0m3.7 -44.9h0m-46.8 16.1h0m60.3 -10h0m-35 43.5h0m-34.7 36.5h0m92.6 -129.1h0m-9.8 -0h0m-62.8 99.9h0m-35.8 18.7h0m33.5 -26.7h0m-11.2 10.9h0m30.8 -28.5h0m37.3 -37h0m-55.2 60.7h0m-44 10.4h0m98.6 -112.4h0m-87.5 123.1h0m30.1 -18.5h0m37.2 -26.4h0m-21.7 -24.8h0m-26.1 59.8h0m76.3 -123h0m-42.6 76.6h0m-30 16.8h0m47.5 -46.2h0m32.6 -17h0"/><path id="p59" d="M51.8 137.3h0m40.4 -19h0m71.9 10.8h0m-12.7 4.2h0m10 7.3h0m-64.5 -15.4h0m85.2 -4.7h0m-79 18.2h0m10.7 11.4h0m58.7 -24.2h0m38.2 8h0m-144 -13.1h0m52.3 10h0m60.8 -2.9h0m-37.1 -2.6h0m-17.4 10.9h0m67.6 -22.5h0m-71.1 9.1h0m-0.9 19.8h0m92.7 -14.1h0m-114.6 -6.2h0m29.5 17.3h0m16.1 -2.9h0m9.6 9.4h0m-8.5 2.2h0m40.6 -30.9h0m14 -9h0m-100.5 19.6h0m40.7 0.3h0m-63.6 29h0m135.6 -26.9h0m-147.8 17.1h0m34.3 -27.8h0m95.2 9.4h0m-34.5 15.3h0m-61.4 -26.6h0m75.2 17.1h0m-25.9 -10.2h0m-32.7 -6h0m75.3 -5.3h0m-21.6 17.3h0m-50.6 5.1h0m74.6 -8.9h0m-39.3 -5.1h0m49 12.8h0m-54.8 -1.8h0m3.4 -25.5h0m-78.2 33.9h0m104.8 -46.4h0m-72.6 13.1h0m107.4 -3.1h0m-115.7 16.2h0m-17.1 5.8h0m105.9 -16.8h0m-32.5 20.7h0m-64.1 12.3h0m2.3 -8.4h0m-13.1 -14h0m33.3 8.4h0m-58.7 17.6h0"/><path id="p60" d="M154.6 14.1h0m-7.8 42h0m84.3 -110.4h0m-25 45.7h0m-46.3 51.1h0m-32.4 -3.1h0m35.4 16.9h0m-15.5 -25.7h0m47.2 -44.1h0m-45.4 50h0m12.6 -24.7h0m-6.3 10.5h0m-31 27.9h0m88.3 -109.9h0m9.5 15.3h0m-10.5 27.7h0m-21.4 19.6h0m47.1 -56.7h0m-53.4 56.7h0m-10.8 -6.3h0m-15.2 24.5h0m-12.3 28.5h0m40.5 -54.9h0m20.9 -8.3h0m-60 64.2h0m-12.4 4.3h0m66.7 -85.4h0m35.1 -13.8h0m-34.8 15.7h0m-6.4 3.1h0m26.1 -46.2h0m-30.7 22.9h0m-0.4 32.7h0m-12.3 33.7h0m17.3 -32.5h0m-6.3 13.1h0m18.5 -26.2h0m-1.1 -3.5h0m10.1 11.2h0m-55.2 33.7h0m4.6 8.1h0m38.8 -77.6h0m-3.2 36.7h0m20.5 -3.2h0m7.6 -20.6h0m-27.9 5.6h0m-12.4 25.4h0m-31.6 50.9h0m26.1 -39.4h0m23.5 -11.3h0m7.3 -22.7h0m-30.1 36.2h0m20.7 -25.6h0m-58.5 70.4h0m39.2 -62.6h0m-41.9 58.5h0"/><path id="p61" d="M123.9 106.6h0m-45.3 15.9h0m76.4 10.4h0m-90.3 27.9h0m99.1 -40.3h0m-89.3 13.1h0m95.9 -21h0m33.6 15.6h0m-140.1 28.2h0m37.2 -27.3h0m28.1 -5.4h0m18.3 -1.9h0m-79.3 19.7h0m46.2 -5.9h0m-39.6 -4.9h0m135.3 -8.3h0m-89.3 -5.8h0m-26 12.8h0m90.8 -16.4h0m-24 23.1h0m-17.1 3.9h0m-85.4 -21.3h0m98.7 7.1h0m-43.9 -5.6h0m29.6 12.1h0m-53.8 -13.4h0m59.3 5.9h0m25.1 25.1h0m-106.6 -16.3h0m-12 3.6h0m24.6 -7.5h0m78.5 1.6h0m39.9 21.9h0m-133.2 -17.7h0m67 2.1h0m26.9 -28.6h0m-40.5 19.4h0m-57.3 -1.5h0m4.1 39.1h0m10.7 -48.1h0m78.2 9.6h0m-88.7 3.9h0m94.5 -4h0m27.5 -7.4h0m-106.9 5.9h0m26.4 7.1h0m23.6 5.3h0m3.8 -26.6h0m-58.9 -5.1h0m50.8 22.4h0m43.2 -16.5h0m-33 20.7h0m66.5 -20.4h0m7 -9.5h0m-9.5 9.3h0m-7.1 5.4h0m-96.1 19.9h0m30.8 -7.1h0m-14.7 4.5h0m6.7 -21.3h0m14.8 31.4h0m-36.8 -32.5h0m82.5 16.7h0m-96.1 -10.3h0"/><path id="p62" d="M212.1 -24.4h0m-21.5 48.3h0m1.8 -12.5h0m34 -82.1h0m-6 3.9h0m0.1 26.9h0m-59.1 52.5h0m34.6 -36h0m-20.2 36.8h0m-32.9 -9.9h0m19 28.2h0m33.7 -45.9h0m-3.8 10.9h0m-58.4 46.7h0m69.6 -78h0m-49.7 71h0m-18.7 14.8h0m48.2 -38.4h0m41.4 -65.4h0m-1.5 26h0m-68.6 44.5h0m80.8 -85.3h0m-80.2 111.7h0m46.4 -42.7h0m-67.6 59.8h0m41.4 -32h0m49.4 -98.6h0m-37.6 67.2h0m-37.5 47.6h0m79.3 -82.5h0m-33.9 27.6h0m-5.1 25.7h0m-13.5 9.5h0m20.9 -59.9h0m26.5 8h0m-40.1 23.4h0m-4 13.7h0m64.8 -53.4h0m-19.2 -8.2h0m-72.8 84.8h0m57.3 -47h0m-33.2 -4h0m-39 53.1h0m5.4 -1.9h0m30.6 -31.9h0m-19.6 15.1h0m62.9 -82.9h0m-60 101.7h0m68.1 -70.5h0m-15.2 -19.8h0m-17.6 35.5h0m-29.2 33.2h0"/><path id="p63" d="M64.4 119.2h0m42.9 7.2h0m-37.9 7.1h0m139.7 -15.7h0m-55.5 9.8h0m-18.8 -20.3h0m-39.1 19.7h0m31.1 -8.2h0m-70.9 9.6h0m123.1 -14.4h0m-100 23.1h0m133.4 -26.5h0m-92.4 26.1h0m69.4 18.9h0m-114.5 -19.2h0m103 7.8h0m-96.8 -8.6h0m22.1 -0.1h0m-9.1 0.5h0m-27.2 5.2h0m97.6 1.7h0m-94.6 -12.7h0m99.3 16.3h0m-22.7 -9.8h0m-30.6 -2.9h0m78.3 -6.8h0m-43.5 11.1h0m-26.1 -20.5h0m4 1.7h0m8.2 10.7h0m-17.7 -4.5h0m70.8 5.2h0m-97 -2.6h0m81.8 -15.3h0m16.5 24.1h0m-3.9 -0.1h0m-125.4 4.5h0m96.7 -21.1h0m7.2 29.4h0m-84.3 -26.5h0m30.1 2.2h0m38.8 -6.6h0m8.3 -5.1h0m-40 4.5h0m-60.9 28.6h0m6.5 7.6h0m151 -33.5h0m-33.9 -5.1h0m-15 -8.6h0m11 29.2h0m-83.6 -6.5h0m61.5 -0.1h0"/><path id="p64" d="M161.9 4.2h0m-9.8 13.1h0m-14.5 23.2h0m19 10.5h0m33.3 -22.6h0m40.6 -85.9h0m-84 109.7h0m53.2 -62.5h0m-76.8 62.1h0m83.4 -72.3h0m-8.4 -5.8h0m-57.6 76.6h0m88 -127.1h0m4.3 23.9h0m-38.6 44.7h0m-44.4 23.7h0m64.6 -33h0m-49.4 27.9h0m84.8 -50.7h0m-107.3 65.9h0m74 -67.9h0m6.8 -1.3h0m-36.8 65.5h0m14.7 -34.3h0m21.1 -57.6h0m-66.3 87.4h0m51.6 -42h0m-39.5 54.8h0m12.4 -40.2h0m12.4 0.5h0m-2.2 0h0m15.7 -19.1h0m-61.4 53.9h0m41.8 0.1h0m26.4 -64.3h0m-8.9 41h0m-7.3 12.6h0m-15.7 -0.4h0m48.2 -73.2h0m2.6 29.7h0m-70.3 75.7h0m43.4 -107.3h0m-8 48.6h0m-42.1 42.6h0m59.5 -36.5h0m-73.5 48.8h0m28.1 -15.6h0m-38.4 28.2h0m24.6 -35.9h0m-10 33.4h0m33.3 -28h0m32.9 -67.4h0m17.1 -18.6h0m5.9 9h0m-94.8 102h0m-3 -13.2h0m27.2 -29.4h0m33.2 -11.7h0m28.7 -33.9h0m-36.5 54.5h0m-18.2 -14.1h0m60.7 -58.9h0m-92.7 96.9h0m11.2 -18.5h0"/><path id="p65" d="M189.1 119.1h0m-8.3 3h0m14.8 9.9h0m-115.8 -6.3h0m24.4 0.3h0m11.1 -1.9h0m53.1 -3.9h0m34.8 14.6h0m2.2 10.6h0m-44 -27.7h0m-10.8 24.3h0m-100.9 -10.4h0m35.6 -26.5h0m43.2 14.6h0m71.1 3.1h0m-54.8 1h0m-83.9 16h0m17.8 -13h0m33.9 11.6h0m-4.2 -6.4h0m-8.6 -9.8h0m-33 -2.6h0m74.6 9.1h0m-25.1 9.9h0m0.6 14.1h0m-65.8 -26.3h0m121.9 13.1h0m4.9 -0.5h0m-121.5 2.1h0m130.4 -18.2h0m-96.8 16.9h0m22.6 -3.2h0m9.4 14.5h0m80.4 -25h0m-135.6 20.6h0m95.8 -19.2h0m-68.3 10h0m79.5 -2h0m-40.3 -12.6h0m63.2 17.1h0m-58.7 -15.4h0m-44.5 0.5h0m7.1 13.1h0m96.5 -12.3h0m-98.6 17.2h0m59.9 -16.5h0m-104.7 7.6h0m83.3 -6.1h0m-83.7 0.3h0m119.5 10.8h0m-56.5 -9.7h0m53.1 4.1h0m-30.2 -9.2h0m-12.5 0.9h0m37.6 -0.3h0m-84.3 -7.8h0m84.8 4.5h0m24 2.7h0m-32.6 -17.8h0m-3.1 9.8h0m-73.3 23.5h0m43.9 8.2h0m71.5 -14.9h0m-101.2 1.2h0"/><path id="p66" d="M224.9 -38.5h0m-23.8 20.1h0m-61.2 87.4h0m70.3 -78.4h0m-4.3 -18.7h0m-35.4 67.5h0m13.7 -53.4h0m-33.9 45.6h0m60.6 -51.4h0m-14.5 16.4h0m13.7 -26.3h0m-8 5.2h0m6.5 -7.2h0m-56 60.3h0m-17.4 32.7h0m83 -118h0m-48.4 121.1h0m4.3 -55h0m14.2 -38.5h0m8.6 32h0m-25.7 30.5h0m-3.5 -2.2h0m-2.5 -17.1h0m49.6 -34.8h0m-54 49.4h0m61.3 -40.6h0m17.1 -53.4h0m-16.1 26.9h0m-7.6 -13.7h0m14 -4.8h0m-17.1 16.6h0m-20.8 4.7h0m-2 57.1h0m27.8 -78.9h0m-81.3 120.8h0m34.2 -53h0m-11.6 52.9h0m-2.4 -21.6h0m70.6 -118.6h0m-37.8 66.9h0m19.5 4.9h0m-25.7 -4.8h0m-49.6 57.2h0m71.4 -67.9h0m-72.3 37.4h0m70.2 -23.6h0m-71.5 63.2h0m-2.3 1.8h0m103.6 -116.5h0m0.3 3.1h0m-39.4 55h0m-25.6 12.5h0"/><path id="p67" d="M136.1 137.5h0m48.6 -1.4h0m25.3 -9.3h0m-142.6 34h0m74 -34.5h0m-30.5 2.7h0m-10 4.6h0m100.2 -13.8h0m-104.1 1.9h0m4.2 33.9h0m-30.4 -27.3h0m134 3.8h0m-33.1 -3.4h0m-18.9 4.4h0m59.4 -41.2h0m-8.2 23.2h0m-82.4 9h0m90.2 -2.5h0m-0.5 4.7h0m-92.8 -17.8h0m14 23.9h0m65.5 -15h0m-132.7 16.7h0m0.5 6.3h0m28.6 -3.9h0m9.9 -22.8h0m-1.6 7.5h0m20 3.6h0m79.5 3.9h0m-77.1 1.3h0m-37.1 -1.3h0m54.3 -9.9h0m-83 22.5h0m67.4 -16h0m27.1 -0.7h0m-67.8 7.9h0m113.1 -8.8h0m-148.2 -8.1h0m11.5 29.8h0m39.2 -41.2h0m36.7 32.3h0m18.1 -16h0m-48.8 16.3h0m58.7 -4.5h0m13.5 -2.3h0m-22.9 6h0m-43.1 -0.8h0m-4.1 -11.5h0m-40.4 -0.1h0m-11.1 16.9h0m39.9 -25.4h0m-28.1 -7.3h0m40.4 19.1h0m-23 -12.4h0m11.2 30.5h0m77.8 -20.7h0m27.5 10.5h0m1.3 -16.5h0"/><path id="p68" d="M234.9 -42.6h0m9.1 -18.4h0m-66.6 61.2h0m27.4 -24.8h0m-69.7 63.5h0m40.1 -19.4h0m-3.3 -6.1h0m46.3 -8.1h0m-50 18.8h0m-22.3 8h0m51.4 -60.7h0m-34.7 73.1h0m3.6 -38.7h0m-22.2 47h0m51.2 -49.8h0m-25 16.9h0m33.3 -24h0m-24 3.3h0m-47.4 48.3h0m54.3 -29.8h0m-22.5 29.3h0m36.6 -72.6h0m11.3 25.5h0m-51.9 7h0m73.3 -54.3h0m-57 34.8h0m54.7 -25.7h0m-22.7 7.4h0m-42.9 50.1h0m11.1 -16.5h0m57.9 -44h0m-6.2 -16.4h0m7.1 2h0m-68.6 68.8h0m-30.8 44.7h0m31.4 -53.5h0m-1.1 23.3h0m47.7 -61.9h0m-27.6 25.9h0m-53.4 63h0m105.9 -117.3h0m-1.1 17.8h0m-6.2 28.5h0m-59.3 30.7h0m-25.7 -4.1h0m86.6 -76.4h0m0.9 9.3h0m-2.5 -4.8h0m-67 61.5h0m75.5 -53.4h0m-74.4 86.8h0m30.4 -57.7h0m23.2 -33.3h0m-69.9 71.9h0m84.9 -84.5h0m-66.4 74.9h0m34.8 -44.3h0m-48.2 71.1h0"/><path id="p69" d="M91.2 156.3h0m-3.5 -33.4h0m83.7 -6.6h0m-77.2 22.2h0m13.1 8.7h0m106.3 -6.4h0m-4.9 -18.7h0m-50.5 -11.9h0m-53.1 15.3h0m0.1 -4.7h0m38.9 10.8h0m-54.6 5.6h0m96.1 -53.2h0m-39 46.1h0m-18.9 13.1h0m7 -1.8h0m56.2 -3.4h0m-111.8 15.8h0m125.5 -45.9h0m-76.6 21.6h0m-7.3 15h0m85.6 -27h0m-134.8 5.2h0m86.2 -4.3h0m-16 22h0m-55.6 6.5h0m121.4 -25.8h0m-137.4 19.5h0m90.9 0.2h0m44 -24.5h0m1.5 0h0m-42 15.4h0m-6.6 3.9h0m34.9 -10.2h0m17.8 -1.1h0m-151.8 9.7h0m13 -27.3h0m137.8 15.9h0m-31.8 14.4h0m11.3 -11.4h0m-6.1 -24.4h0m-132.7 22h0m103.3 3.3h0m5.4 0.8h0m-64.3 9.5h0m79.1 -16.9h0m12.9 -6.1h0m-33.7 5.4h0m-97.8 26.4h0m22.1 -13.4h0m19.3 7.2h0m68.4 -2.8h0m-73.9 -21h0m52 16.3h0m66.5 -34.2h0m-149.1 20h0m83.4 31.8h0"/><path id="p70" d="M181.1 7.2h0m62.4 -46.2h0m-7.9 -1.9h0m-77.7 63.7h0m64.7 -80.1h0m-3.5 19.8h0m-14.1 3.8h0m-4.5 16.7h0m19.2 -46.9h0m-77.5 96.1h0m75.9 -96.3h0m3 17.8h0m0.8 -10h0m-43.1 48.6h0m-17.7 52.4h0m-18 -32.2h0m38.1 -20.5h0m20.4 14.7h0m-21.3 -1.5h0m-42.5 23.3h0m65.4 -33.1h0m5.4 -2.1h0m-35.1 27.8h0m20.3 -22.8h0m47.6 -21.4h0m-98.5 85.7h0m24.5 -9.8h0m27.9 -42.6h0m34.3 -45.2h0m-43.9 8.2h0m30.5 -22.3h0m-73.8 91h0m83 -101h0m-71.8 119.8h0m33 -57h0m-0.2 -19h0m34.2 -28.2h0m16.6 14.7h0m-17.4 -18.7h0m-60.5 84.9h0m-2.7 0.9h0m56 -59.8h0m-26.1 8.3h0m-12.2 22.5h0m39.5 -69.6h0m-21.7 76.8h0m-16.1 12.6h0m-21.5 -5.8h0m5.2 14.9h0m26.4 -29.3h0m41.9 -76.6h0m-59 79.7h0m-10.9 28.1h0m63.9 -80.1h0m-29.1 65.5h0m-53 37.9h0m10 -38.9h0m25.7 13.9h0m-20.7 -13.8h0"/><path id="p71" d="M141.3 143.9h0m68.4 -17.6h0m-64.3 -16.2h0m5.6 28.7h0m-40.5 -13.7h0m21.8 3.1h0m-2.4 -16.4h0m-41.2 -2.2h0m12.4 24.8h0m-0.6 -19.3h0m79.6 38.6h0m-27.7 -43h0m-64.3 37h0m103.9 -7.9h0m21.2 -33h0m-102.8 48h0m-22.7 1.3h0m103.1 -38.9h0m-25 6.5h0m-93.5 23.1h0m106.5 -28.4h0m-8.2 16.5h0m-99.5 -2.7h0m130 -21h0m-52.6 13h0m25.2 0.9h0m23.6 12.5h0m-13.3 -26.8h0m-12.9 -0.8h0m-21.8 6.1h0m-53.4 -9.5h0m86.3 10h0m-90.8 5.1h0m-24.6 1.4h0m86.5 18h0m3.7 -9.5h0m57.7 -4.6h0m-50.2 10.8h0m-101.7 -4h0m32.5 -12.5h0m62.1 17.1h0m46.1 -51.3h0m-90.5 54.8h0m56.9 -8.8h0m-94.6 5.6h0m28.1 -10.4h0m-23.4 4.4h0m123.8 -25.2h0m-81.7 32.7h0m60.8 -32h0m29.9 11.1h0m-117.1 18.8h0m-21.4 -10.9h0m-17 31.2h0m43.4 -17.4h0m-8.3 1.9h0m-8.5 -6.7h0m112.8 4.3h0m-99.7 -18.6h0m24.1 12h0m45.6 -20.5h0m-65.9 14.7h0m61.1 3.9h0"/><path id="p72" d="M197.6 -13.3h0m16.6 -52.1h0m23.7 27.6h0m-42.7 39.8h0m-0.4 -19.7h0m-20.3 -2.6h0m23.1 6.6h0m-43.2 31.3h0m-12 38.3h0m94.3 -123.4h0m-84.7 110.7h0m60.8 -61.5h0m-34.3 24.7h0m10.8 2.7h0m-0.9 -29.4h0m-11.2 54.3h0m9.3 -36.6h0m52.8 -39.9h0m-33.8 10.5h0m35 -8.4h0m-89.2 62.6h0m66.3 -89.9h0m6.7 15.8h0m-105.1 98.1h0m102.2 -61.3h0m-38 28.5h0m33.2 -81.8h0m-28.3 55.5h0m29.1 -47h0m-72 107.7h0m56.5 -76.9h0m31.6 -30h0m-2.3 3.5h0m-21 9.9h0m36.3 -12.3h0m-56.8 27.2h0m39.8 -28.2h0m-82.8 96.7h0m51.2 -50.7h0m29.3 3.9h0m-101.1 61.1h0m41.9 -32.2h0m-27.1 30.8h0m35.9 -51.4h0m-27 43.3h0m-4.4 -2.6h0m65.3 -69.9h0m-32.4 47h0m15.3 -42h0m-24.3 15.6h0m30.9 -6.2h0m-25.1 19h0m-42.8 53.8h0"/><path id="p73" d="M117.4 148.8h0m-14.2 -7.2h0m29.6 1.1h0m44.9 -19.8h0m-25 8.8h0m7.9 -9.8h0m-91.6 14.7h0m-17 8.2h0m25.3 2.4h0m44.5 -30.6h0m-52.3 15.2h0m9.3 7.3h0m57.4 -7h0m57 5.1h0m-109.2 18.6h0m112.3 -43.2h0m-107.4 18.9h0m26.1 -16.6h0m94.1 5.3h0m-74.1 3.1h0m51.4 8.4h0m7.9 -13.1h0m-82.4 11.9h0m10.7 7.6h0m-24.1 -5.4h0m-46.4 -10.6h0m72.7 7.2h0m-18 27.4h0m12.7 -34.9h0m2.1 -12.4h0m42 28.5h0m-41.4 -17.7h0m82.7 8.8h0m-56.1 -19.9h0m59.4 0.5h0m-124.6 33.9h0m52.6 -25.8h0m50.6 1.4h0m7.8 2.7h0m-43 11.7h0m-78.5 7.4h0m59.9 -8.1h0m-13.5 -4.7h0m8.9 20.1h0m-2.4 -24.7h0m28.4 21.3h0m-30.9 -33.2h0m86 16.7h0m-53.7 -3.1h0m-87.6 11.3h0m105.8 -9.2h0m-23.9 -2.1h0m-22.5 13.2h0m-75.7 -15.8h0m131.7 20.8h0m-116 13.5h0m70.1 -16.6h0m0 -11.5h0m72.3 -2.8h0m-113.2 -5.2h0m37.5 26.2h0m55.8 -31.7h0"/><path id="p74" d="M181.9 22h0m21.4 -50.9h0m6.1 -5.6h0m-84.7 85.6h0m25.2 -29.3h0m32.2 -46.1h0m54.4 -6.7h0m-35.6 51.1h0m-37.3 13.7h0m11.7 -35.1h0m-34.8 45.3h0m55.6 -39.2h0m-58.5 43.3h0m67.2 -87.1h0m31 -25.5h0m-65.7 74.2h0m-4.5 6.6h0m45.7 -44.7h0m-73.1 72.2h0m36.3 -34.8h0m3.9 0.5h0m-51.2 47.4h0m98.7 -127.5h0m-38.1 66.6h0m-6.2 -8.4h0m-48.8 57.3h0m-1 8.2h0m9.7 -32.9h0m36.7 -46.9h0m-43.1 69.4h0m29.2 -12.9h0m18 -40.2h0m-15.8 34.7h0m46.2 -49.3h0m-54 71.8h0m50.7 -61.6h0m6.6 -33.3h0m-44.2 61.6h0m27.9 -53.6h0m-47.3 70.5h0m6.9 -30.4h0m47.9 -17.6h0m-6.4 2.4h0m3.3 -26.9h0m17.1 -6.8h0m3.2 35.4h0m-3.1 -25.1h0m-18.9 22.1h0m21.6 -10.7h0m23 -15.8h0m-47.5 13h0m-38.3 50.1h0m-0.3 5.9h0m14.5 -24.8h0"/><path id="p75" d="M167.8 115.2h0m-64.4 17.3h0m11.3 23.9h0m16.2 -17.8h0m42 -15.3h0m-55.4 12.1h0m34.2 -21.7h0m26.1 33h0m5.8 -9.9h0m-23.5 -15.1h0m-109.2 0.6h0m129.3 9.6h0m-11.2 13.4h0m-14.3 -29.9h0m-94.8 12.2h0m124 11.1h0m28.9 -26.3h0m-102.3 16.3h0m-21.4 -15.3h0m-5 -3.7h0m90.9 26.3h0m16 22.4h0m-139.5 -7.9h0m135 -28.6h0m-89 2.6h0m-34.9 6.3h0m-1.2 -3.4h0m64.9 -9.9h0m0.7 13.9h0m87.7 -4.1h0m-147.7 14.3h0m27.3 -10.3h0m71.5 -14.5h0m-46.6 40.6h0m62.5 -33.3h0m-118.5 21.9h0m28.5 -27.1h0m104.6 -7.2h0m-78 -1.9h0m-2.6 26.3h0m31 -25.2h0m-5.9 21.6h0m43.9 9.7h0m-23.8 -21.1h0m-39.8 5h0m13.9 10.1h0m12.8 -11.9h0m-47.9 1.7h0m-17.8 -1.4h0m46.2 5.5h0m27.8 2.3h0m-83.5 8.6h0m-6.3 -4.4h0m88.4 4.3h0m-98.9 -17.3h0m2.3 -4h0m23.6 -0.5h0"/><path id="p76" d="M176.5 -0.9h0m6.9 35.5h0m-3.5 -35h0m30.5 -23.7h0m-55.4 54.6h0m-28 24.2h0m91.7 -87.8h0m-21.9 5.5h0m31.7 -5.6h0m-74.2 57h0m9.9 -2h0m-28.2 24.4h0m81.3 -83.9h0m-60.9 53.8h0m67.1 -35h0m-56.6 47.6h0m44.6 -75.9h0m-65.6 65.7h0m-5.4 37.3h0m54.6 -67.9h0m24.3 -4.7h0m-63 46.9h0m12 -31.8h0m40.9 -14.8h0m-49 62.1h0m32 -55h0m-5.4 -2.7h0m35.6 -18.6h0m-20.8 6.5h0m-13.7 30.1h0m35 -88.2h0m-64.6 116.8h0m-6.7 0.3h0m45.8 -27.5h0m-3 -37.4h0m25.3 -19.9h0m-64 108.1h0m2.5 -42.8h0m23.9 -36.2h0m31.9 -28.6h0m4.4 -14.5h0m-68.8 87.8h0m52.4 -57.8h0m17.4 -17.7h0m7.7 5h0m-49.3 10.8h0m9 39.8h0m-16.8 -18.1h0m-29.1 71.2h0m19.7 -26.8h0m15.5 8.9h0m16.4 -77h0m-43 94.5h0m72.3 -87.1h0m-71.9 71.5h0m22 -32.2h0m-35.7 30.1h0m48.6 -9.5h0m27.5 -73.6h0"/><path id="p77" d="M184.3 136.8h0m-129 2.3h0m148.9 -37.6h0m-148.7 29h0m126.6 0.4h0m-111.7 7.2h0m27.8 -21.5h0m111.5 -0.9h0m-124.7 21.8h0m74.4 -8.7h0m7.7 9.1h0m-44 -12.8h0m24.3 -0h0m30.7 -13.8h0m-68 26.1h0m43.3 0.5h0m-52.2 -28.2h0m22.7 25.4h0m32 -13.8h0m52.5 -3h0m-20.5 18.7h0m-81.2 -27.1h0m99.2 17.6h0m-68.7 -7.4h0m-29.5 7h0m30.5 0.1h0m-8.1 26.3h0m37 -13.9h0m15.4 -7.8h0m-33.4 1.9h0m23.4 5.7h0m-86.6 -25h0m110.1 -9.2h0m-1.4 22.2h0m-40.6 -17h0m-96.1 33.7h0m4.2 -20.9h0m69.9 -1.1h0m-49.6 8.2h0m-29.2 16.9h0m99 -26.7h0m20.2 -6.6h0m-85.5 36.2h0m24.9 -3.5h0m-50.8 -22.8h0m99.3 -2.3h0m3.7 17.9h0m43.8 -31.5h0m-140.4 26.2h0m141.4 -17.9h0m-115.8 14.6h0m121.4 -22.3h0m-53.2 7.2h0m-85.6 16.3h0m121.4 3.4h0"/><path id="p78" d="M161.8 12.3h0m-7.9 35.9h0m65.6 -95.8h0m-37.4 42.9h0m9.8 22.1h0m58.1 -42.3h0m-57.3 -11h0m-27.2 43.3h0m17.2 -6.5h0m8.6 -4.8h0m-51.5 49.6h0m92.8 -117.4h0m-100.7 130.4h0m13.2 -27.9h0m83.6 -65.2h0m-6.5 -10.5h0m-22.2 55.8h0m30.7 -67.3h0m-52.5 53.8h0m40.3 -40.4h0m-33.8 42.8h0m-10.4 -17.9h0m-12.5 46.7h0m11.8 -25.6h0m52.7 -52.8h0m-35.2 39.4h0m38.6 -58.8h0m-22.1 32.9h0m5.7 10.9h0m-68 72h0m79.6 -112.5h0m12.6 7.6h0m-42.8 84.4h0m28.9 -70.1h0m-59.8 70.6h0m45.3 -36.2h0m-62.5 70h0m41.7 -87.8h0m32.3 11.9h0m-38.1 14.9h0m21.7 -23.9h0m-52.4 38.8h0m-13.7 38.5h0m91.2 -70.6h0m-75.7 62.5h0m54.7 -88.8h0m-50.9 47.5h0m26.7 -5h0m-43.8 32.6h0m96 -79.7h0m-82.7 69.6h0m72.4 -71.9h0m-8.3 -0.5h0m-22.4 19.5h0m-45.3 43.4h0m-22.6 36.1h0m58.2 -49.3h0m-17.8 18.5h0m-41.1 35.3h0m9.9 -4.7h0m0.7 0.7h0"/><path id="p79" d="M166.4 123.4h0m-44.8 3.2h0m71.6 -9.6h0m-139.3 31.5h0m4.6 -15.3h0m97.1 -20.1h0m-20.2 12.8h0m-55 -9.9h0m16.8 19.7h0m-22.4 -13.1h0m129.4 12.1h0m-14.2 -2.1h0m-107.9 -4.4h0m103.8 -1.5h0m-25.9 -8.7h0m-26.4 30.1h0m76.6 -26.6h0m-100.7 25.1h0m29.4 -8.1h0m-51.5 -16.7h0m100.3 -0.9h0m-144 16.2h0m7.8 -5.3h0m1.7 4.1h0m-1.6 13h0m0.2 2.4h0m-1.2 -4.7h0m-1.3 -9.6h0m-2.7 -10.8h0m-1.8 3h0m0.9 3.2h0m6 -3.5h0m-7.4 12.5h0m8.9 -11.7h0m0.4 18.9h0m-5.2 -11h0m4.7 -7.9h0m-3.7 9.5h0m3.2 2.5h0m1.1 -29.1h0m-4 21.1h0m179.6 -45.7h0m46.3 -1.5h0m-5.7 5.9h0m-20.4 -13.1h0m21.5 2.9h0m-24.4 -3.3h0m-7.9 37.9h0m1.5 -7.1h0m38.1 -36.7h0m-25.6 5.4h0m-34.1 36.6h0m19.3 -15h0m-15.6 25.3h0m34.4 -30.1h0m38.8 -24.1h0m-78.8 65.1h0m61.8 -55h0m-52.2 19.6h0"/><path id="p80" d="M150.5 37.8h0m21.1 -41.9h0m55.8 -67.6h0m-93.8 133.3h0m67.4 -74.8h0m-26.8 19.9h0m24.1 -5.3h0m-28.2 39.1h0m6.5 -51.4h0m-32 53.8h0m26.6 -2.5h0m9.8 -19.5h0m4 12h0m-73.4 12.1h0m32.2 26.4h0m-13.6 -9.2h0m-2 2.5h0m3.1 -4.5h0m-3 -1.2h0m3.3 9.9h0m-3.1 -6.9h0m-4.4 -2.5h0m-0.5 -2.5h0m21.8 14.5h0m-15.3 -17.3h0m-1.7 2.9h0m-2.8 -3.5h0m16.8 16.4h0m-8.6 -10.9h0m-4.5 -2.6h0m-1.9 -1.3h0m0.1 3.7h0m0.3 2.2h0m102.8 -161.3h0m5.3 -28.5h0m4.4 0.7h0m13.8 44.7h0m-4.7 8h0m3.9 -11.6h0m-4.2 -50.2h0m-7.5 4.9h0m10.9 -17.8h0m-24.2 38.1h0m14.9 17.7h0m-10.8 19.8h0m14.6 -62.5h0m13.8 -9.2h0m-10.1 31.5h0m3.2 6.3h0m-10.7 13.6h0m-6.8 -20.6h0m19 -16.7h0m0.9 22.5h0m-16.4 40.4h0m10 -51.1h0m-4.1 1.8h0m-1.4 -8.3h0"/><path id="p81" d="M549.4 131.9h0m-69.7 0.9h0m21.6 -1.3h0m46.1 -6.6h0m-20.9 1h0m18.9 9.5h0m-12.2 -32.3h0m-41.8 40.3h0m-6.3 -6.9h0m15.9 -5.4h0m-20 -9.4h0m13 -11.8h0m-18.6 37h0m64.7 -22.3h0m-60.4 5.6h0m3.3 10.6h0m12.5 -5.2h0m-12 -1.4h0m98.2 -28h0m-81.3 23.4h0m30.2 8.2h0m0.7 -8.9h0m-41.8 2.6h0m-64.2 -3.7h0m66 -0.5h0m37.5 -7.5h0m-38.8 8.7h0m-6.9 3.5h0m74 -4.7h0m-6.3 -2.3h0m3.6 0.4h0m-2.9 -3.8h0m-38 16.8h0m-7.6 14.1h0m-38 -19.4h0m-26.8 4.2h0m84.4 14.3h0m-83.7 -33.2h0m56.2 -1h0m5.7 12.1h0m30.1 -9.9h0m-18.4 7.8h0m15.9 -3.6h0m4.8 -8.7h0m2.4 12.6h0m-105.7 23.2h0m42.4 -2.7h0m49.6 -40.7h0m5.9 28.8h0m-43.2 -13h0m29.7 -6.9h0m29.9 3.2h0m-38.1 -1.2h0m-14.7 32.3h0m-79.6 -8h0m64.1 -0.3h0m34.6 -27.7h0m-8.6 17.4h0m-9.8 -2.1h0m97.4 -25.1h0m-100.9 40.1h0m35.7 -21.6h0m6.1 -3.5h0m-30 12.5h0"/><path id="p82" d="M444.3 -270.6h0m23.4 -20.7h0m-3.5 -2.5h0m27.3 -25.5h0m-73 93.6h0m-5.3 1.4h0m40.9 -35.6h0m-53.2 58.1h0m45.4 -75.9h0m-13.1 49.1h0m65.8 -92.3h0m-23.1 29.2h0m-28.2 27.5h0m24.6 -14.9h0m-23.3 48.4h0m31.2 -49.6h0m-76.9 62.4h0m16.5 2h0m30.1 -41.1h0m4.1 -15.6h0m-10 -4.3h0m19 0.4h0m-33.6 24.5h0m41.3 -48.8h0m-15.1 15.2h0m18.1 -13.7h0m8.2 -29.7h0m5.4 -31.9h0m-10.9 86.4h0m-49.5 38.1h0m40.2 -33.8h0m-61.7 71.3h0m41.5 -50.9h0m35.8 -55.2h0m-52.9 84.1h0m-21.6 -16.9h0m53.8 -29.5h0m12.6 -12.6h0m-15.8 -11.6h0m-0.4 -13.1h0m-49.1 87.7h0m62.5 -95.8h0m-34.3 48.6h0m36.8 -21.1h0m-59.9 68.8h0m13.6 -25.4h0m1.4 -2.3h0m12.1 -10.4h0m7.5 -3.2h0m3.7 -7.8h0m37.1 -20.2h0m-30.5 -2.1h0m-45.7 79.1h0m63.9 -108.5h0m-4.1 -3.3h0m-62.7 77.3h0"/><path id="p83" d="M537.2 137.5h0m-57 -29.1h0m3.6 16.9h0m-15.1 12.4h0m31.6 12.8h0m-19.9 -39.1h0m52.8 -5.5h0m-1.5 36.4h0m-79.6 -1.5h0m5.2 -14.3h0m92.5 -4.9h0m-9.5 -12.9h0m-82.1 25.9h0m39.2 -22.8h0m-29 8.4h0m-4.8 5.3h0m30.2 14.8h0m51.5 -7.6h0m-11.5 -13.8h0m-62 18.5h0m121.1 -53.5h0m-133.7 39.5h0m110 -13.5h0m-65.3 28.8h0m-1.7 -13.6h0m48.4 3.9h0m-53.9 15.8h0m19.7 -19.7h0m-38.5 9.2h0m75.9 -1.1h0m-73.8 11.6h0m-21.7 -9.6h0m68.8 -5.3h0m3.8 -13.9h0m-57.5 -0.2h0m36.5 12.4h0m0.7 -12.7h0m-6 23.1h0m-11.9 -25.7h0m39.3 16.1h0m28.7 4.7h0m-32.4 -13.6h0m-6 20.6h0m-17 -2.8h0m-36.5 11.4h0m25 -20.5h0m-11.7 -3.8h0m90.4 -6.1h0m13.7 -10.3h0m-38 4.8h0m-53.3 8.6h0m5.5 -3.6h0m-91.7 33.6h0"/><path id="p84" d="M455.1 -312.4h0m-31.3 72h0m-15.2 20.6h0m46.4 -67h0m-14.2 22.4h0m53.8 -110.4h0m-53.8 106.8h0m-33.1 58.6h0m85.2 -109.9h0m-87.8 84.1h0m49.7 -59.5h0m-3.8 15.3h0m-18.6 19.4h0m26.9 -14.1h0m-7 -11.4h0m-16.4 46.2h0m-33.6 51h0m34.4 -72.4h0m6 -5.5h0m7.1 -18.7h0m15.5 8.3h0m-10.5 2.9h0m10.8 0.1h0m10.5 -41.8h0m-51.7 91.6h0m28.1 -42.7h0m-18.8 7.8h0m19.3 -9.5h0m1.3 -11.4h0m-9.5 -9.2h0m-42.1 61.5h0m64 -41.7h0m1.5 -27.1h0m9.9 -5.8h0m-12.3 3.8h0m-11.3 33.8h0m-25.6 20h0m-50.3 48h0m45.8 4.5h0m-31.9 1.2h0m39.4 -58.4h0m28.8 -29.6h0m-24.1 15.8h0m12.5 1.5h0m35.8 -43.8h0m-11.3 16.5h0m4.8 -0.8h0m-10.2 26.3h0m-34.7 -8.8h0m-35.7 53.1h0m9.1 -15h0m56.3 -108.2h0m-2.8 61.7h0m-13.3 33.7h0m-8.6 -13h0m-16.3 10.1h0m12.9 -34.3h0m20.2 -3.4h0m46.8 -34.8h0m-60 61.4h0m15.6 -14.9h0m-24.7 26.9h0m-14 30.6h0m55.6 -73.5h0m-17 -0.1h0m-16 38.1h0m36.1 -30.5h0"/><path id="p85" d="M430 134.4h0m134.1 -20.5h0m-55.4 30.4h0m-11.1 -16h0m-30.3 9.3h0m109 -39.2h0m-57.3 28.6h0m71.6 -37h0m-55.8 18.3h0m-64.9 32.5h0m83.9 -11.9h0m-30.5 1.4h0m-92.7 8.5h0m108 14.4h0m12 -23.8h0m30.6 11.2h0m-109.8 -31.8h0m2.1 -8.6h0m41.1 28.5h0m-46.7 -19.6h0m-13.4 42.8h0m165.1 -71.5h0m-134.6 58.7h0m7 -4.9h0m18.5 -7.5h0m32.5 -10.9h0m-59.6 17h0m-36.1 -1.6h0m147.7 -22.6h0m-104.1 28h0m61.3 -17h0m-55.5 -4.8h0m9.4 -2.6h0m0.4 23.3h0m19.1 -10.6h0m26.6 6h0m-30.3 -1.7h0m-12.6 6.7h0m64.9 -4.4h0m-93 -10.8h0m43 11h0m47.4 -16.9h0m-155.9 30.4h0m28.2 -12.7h0m117.1 -9.9h0m-25 -9.1h0m-28.3 22.3h0m19.1 0.5h0m-11.2 -6.7h0m-33 -1.8h0m62 -10.1h0m-71 18.1h0m67.4 -13.3h0m-62.6 5.5h0m-64.4 14.7h0m74.1 -29.1h0m-0.3 8.5h0m2.2 17.1h0m79.5 -28.7h0m-68.3 16.5h0m-23.4 21h0m14.2 8.8h0m53 -21.3h0m-33.4 0.9h0m12.7 -24.6h0"/><path id="p86" d="M427.3 -257.8h0m21.7 -17.5h0m-12.8 30.5h0m3.5 -16.5h0m-8.8 21.4h0m42.9 -48.8h0m-65 96.2h0m61.3 -93h0m12.4 -36.6h0m-30.3 46.7h0m-38.5 52.7h0m38.5 -54.5h0m30.3 -44h0m-56.5 88h0m8.2 4.7h0m36.4 -98.5h0m2.9 23.3h0m-8.3 44.9h0m4.7 -1.9h0m-12.7 5.9h0m-35.1 37.1h0m58.3 -71.6h0m-12.7 7.1h0m-71.4 73.9h0m40.7 -43.6h0m16.6 -22h0m24.3 -15.6h0m-28.8 30.7h0m37.2 -95.9h0m-21.5 68h0m-5.1 43.5h0m-6.2 -28.9h0m-52.4 84h0m62.2 -111.4h0m-13.3 26.4h0m10.5 9.4h0m13 -26.5h0m-75.4 113.3h0m63.8 -133.7h0m30.2 13.7h0m-21.8 1.1h0m-29.1 50.6h0m8.3 -29.2h0m8.4 5h0m-56.5 49h0m71.1 -101.2h0m-43.1 82.8h0m17.1 -29.5h0m0.5 -1.3h0m25.9 -9.9h0m-95.8 84.9h0m94.7 -106.9h0m2 -8.2h0m-27 42.1h0m30.2 -67.7h0"/><path id="p87" d="M572.3 129.7h0m-142.4 -0.4h0m-35.2 5.1h0m124.2 -10.1h0m-4 8.4h0m-0.9 5.5h0m26.6 -21.8h0m-91.8 5.7h0m45.7 -2.9h0m6.3 13.2h0m-10.7 5h0m-50.5 8.5h0m80.4 -19.9h0m-38 5.1h0m38.2 0.5h0m62.8 -28.9h0m-81.7 21.2h0m19.1 15.4h0m27.4 16.5h0m-1.6 -35.8h0m56.7 -3h0m-76.3 17.9h0m-71.4 10.8h0m21.3 -11.2h0m-25.3 -4.2h0m105.3 -6.7h0m-94.6 8.1h0m-8.6 12.4h0m67 2.5h0m3 -21.1h0m-48.3 -0.2h0m-10.8 19.1h0m102.4 -38.9h0m-99.5 20.5h0m134.5 -40.1h0m-148.5 50.3h0m8.8 7.7h0m3.9 -17.3h0m61.1 -15.7h0m-9.2 32.4h0m6.8 -24.8h0m-24.6 22.8h0m-33.2 -8.5h0m5.1 15.4h0m60.3 -25.2h0m5.9 -9.6h0m-22.7 16.3h0m8.1 2.7h0m-64.1 -1.3h0m71.5 -13.3h0m-7.6 -7.4h0m-16.1 13h0m78.1 3.2h0m-56.5 6.1h0m-34.5 2.8h0m-13.6 1.6h0"/><path id="p88" d="M454 -272.8h0m-20.7 51.2h0m42.4 -77.4h0m-25.1 42.1h0m21.1 -45.5h0m4.5 19.3h0m-28.2 -3.3h0m17.5 -10.1h0m1.4 1.5h0m-39.1 40.9h0m20.1 -24.7h0m28.3 -50.3h0m-50.5 75.2h0m7.5 -2.7h0m2.1 -4.8h0m-8 8.9h0m-35.7 39.1h0m80.2 -88.5h0m18.5 10.8h0m-78.9 51.2h0m22.5 -30.1h0m-2.2 -4.7h0m27.9 -7.5h0m-19.5 31.1h0m1.8 -3h0m13.8 -21.6h0m18.8 -62.8h0m-55 91h0m43.7 -26.2h0m-12.2 13.3h0m-5.4 -26.1h0m1.1 55.4h0m-3.6 -30.5h0m-18.8 5.3h0m11.1 25h0m-17.9 5.9h0m63.9 -65.4h0m-20 -2.4h0m7.6 14.1h0m-5.9 -35h0m-35.8 76.9h0m50 -37.9h0m-67.1 12.1h0m9.7 23.1h0m16.2 -17.1h0m33.5 -36.7h0m-26.5 32.1h0m2.7 -5.8h0m-43.8 13.1h0m-16.8 55.7h0m50 -38h0m-37.3 15.2h0m23.6 -7.8h0m50.1 -61.4h0m2.6 8.5h0m-60.6 12.5h0m-4.8 37.9h0m75.6 -57.6h0m-57.9 2.8h0m17 -2.9h0m-28.1 64.4h0m34.9 -34.7h0m2.3 4.7h0m-10.1 -1.5h0"/><path id="p89" d="M574.6 110.3h0m-44.4 30.2h0m-35 -7.3h0m46.6 6.3h0m-44 -24h0m66.5 -2.1h0m-64.7 6.6h0m-12.7 15.7h0m29.2 -3.8h0m-35.5 1.3h0m40.8 -7.3h0m-28.6 14.6h0m34.8 -8.2h0m-12.7 0.5h0m-2.7 -17h0m37.3 -1.3h0m-51.3 23.9h0m-69.1 -8.4h0m71 5.5h0m60.7 -2.6h0m8.1 -23.9h0m-73.3 5.6h0m7.6 31.3h0m-61.4 -22.2h0m-33.5 27.8h0m105.3 -14.3h0m58.8 -30.8h0m-61.2 23.9h0m-2.5 7.1h0m-38.4 -8.8h0m44.1 16.8h0m78 -45.9h0m-65.6 42.3h0m39.4 -10.4h0m-40.5 -19.5h0m43.1 11.1h0m-115.9 5.8h0m77.4 1.8h0m-22.2 17.7h0m29.9 -43.3h0m-47.2 27.5h0m-34.2 -20.2h0m47.1 29.2h0m-20 -18h0m84.5 -12.3h0m-64.6 26.4h0m13 -7h0m-54.6 -1h0m40.6 21.8h0m-48.1 -36.7h0m-16.9 -6.9h0m20.9 15h0m25.5 3.8h0m31.1 0.1h0m-76.7 11.5h0"/><path id="p90" d="M448.2 -265.7h0m-21.2 10.3h0m14.1 -1.5h0m-9.2 11h0m-11.8 12.8h0m67.7 -73h0m-52.3 28.2h0m3.8 -7.9h0m-45.6 72.5h0m78.2 -76.5h0m9.2 -25.5h0m-17.3 44.8h0m3 -1.9h0m18.8 -63.5h0m-19 80.8h0m-1.6 -20.2h0m-31 17.8h0m4.2 -0.9h0m-9.4 -13.6h0m61 -33.6h0m-47.8 48.8h0m39 -31.5h0m15.4 -57.3h0m-9.3 27.4h0m-6.1 28.2h0m-44.9 45.5h0m24.8 -60.5h0m-33.5 64.3h0m10.7 -24.6h0m19.6 -7.5h0m-42.6 35.8h0m0 -4.3h0m28.7 -26.6h0m-15.1 25.5h0m58.3 -101.1h0m-46.1 119h0m39.5 -92.1h0m-13.2 -19.8h0m-12.2 46.1h0m28.4 -32.2h0m-21.3 51.3h0m-8.8 7.2h0m-58.2 79.2h0m66.1 -89.4h0m-22.7 42h0m-13.5 -5.1h0m12.1 -41.1h0m12.8 46.7h0m-11.3 -18.6h0m-29.8 20.8h0m35.4 -26.3h0m17.4 -9.7h0m-19 0.7h0m-4.8 23.2h0m21.8 -23.5h0m-15 3.4h0m3.4 -31.8h0m-33.9 76.4h0m50.7 -65.6h0m30 -24.1h0m-66.5 49.3h0m-5.7 23.6h0m44.1 -42.3h0m4.8 -38.5h0m-48.2 68.1h0"/><path id="p91" d="M538.6 115.9h0m-51.9 23.9h0m15.5 -13.7h0m13.8 17.1h0m4.4 -12.8h0m4 13.2h0m-80.5 11.7h0m76.3 -29.3h0m-24.6 18.5h0m67.3 -32h0m-95.7 25.8h0m33.2 -7.5h0m18.8 1h0m-50.3 5h0m55.9 -8.1h0m-124.6 -3.6h0m121.7 20.5h0m-21.8 -11.5h0m-32.8 6h0m140.4 -25.2h0m-91.1 14.1h0m61.5 -28.4h0m-122.5 12.1h0m-6.2 11.4h0m-28.1 4h0m114 -9.6h0m-20.8 12.3h0m-47.7 -11.8h0m-1.2 8.2h0m74.2 -6.2h0m4.5 9.9h0m-61.3 -9.1h0m80.6 -26.7h0m-120 30.8h0m39.5 11.9h0m-41.2 2.3h0m20.8 -11.9h0m85.2 2h0m-27.6 -7.5h0m-39.8 7.5h0m19.6 3.2h0m-5.5 -9.1h0m32.7 17.4h0m-102.5 -15.3h0m111 -2h0m-17.9 -1h0m-17.4 22.7h0m-21.9 -38.8h0m-1.3 17.7h0m79.7 -1.1h0m-0.6 -3h0m-23.6 10.5h0m-84.9 8.9h0m71.2 -19.9h0m45.5 -5.1h0m-12.7 2.7h0m38 -23.8h0m-70.6 38.4h0m-53 -8.5h0m17.9 16.8h0m21 -11.3h0m2.3 21.9h0m-25.1 -30.4h0m58.4 0.2h0m-46.6 13.4h0"/><path id="p92" d="M454.3 -282.5h0m2.5 -28.3h0m3.4 20.6h0m-45 47.4h0m-2.5 -2.9h0m79.8 -95h0m-16.5 59.2h0m2.2 -10.4h0m-31.9 18.8h0m-45.5 72.6h0m53.3 -82.3h0m-57.4 63.5h0m34.6 -34.4h0m-12.3 30.4h0m34.4 -56.7h0m36.6 -56.9h0m-40.7 100.6h0m15.3 -36.1h0m-19.4 -0.3h0m7.6 6.6h0m36.2 -117.4h0m-71.3 137.3h0m17.5 -17.5h0m40.9 -39.2h0m-7.5 38.9h0m26.3 -55.3h0m-29.1 32.1h0m-6 24.1h0m-8 3.1h0m-53.9 -6.5h0m6 33.6h0m86.5 -98.3h0m-87.9 114h0m40.7 -33.1h0m-5.3 6.8h0m24.6 -22.1h0m-2.2 9h0m-10.8 -15.4h0m-6 11.1h0m-3.9 5.4h0m39.6 -53.1h0m-21 33.7h0m-4.6 3.6h0m5.4 -16.5h0m-60.5 65.8h0m80.3 -47.8h0m-45.7 14.2h0m48.9 -45.1h0m-65.6 46.2h0m36.8 10.4h0m5.8 -30.8h0m-39.3 53h0m76.5 -136.2h0m-31.7 102.7h0m-11.3 -8h0"/><path id="p93" d="M546.4 120.6h0m-28.6 38.8h0m-10.8 -29.3h0m-30 3.1h0m2.8 11.8h0m10.8 -34.2h0m-27.8 23.2h0m52.5 0.4h0m96.6 -31.7h0m-131 22.1h0m21.1 4.6h0m86.5 -27.9h0m-44 36.6h0m-71.2 -15.2h0m-34.3 -8.7h0m30 7.8h0m35.9 8.5h0m58.5 -10.9h0m-122.7 5.9h0m57.6 -13.3h0m55.7 1h0m-42.7 2.5h0m-9.1 -2.8h0m-46.6 -1.1h0m129 9.7h0m-114.7 14.9h0m40.9 -5.5h0m-71.3 34.9h0m32.2 -20.9h0m62.7 -12.3h0m2.5 2.1h0m-63.4 -9.4h0m6.8 13.2h0m-2.2 -4.8h0m67.4 0.2h0m-1 -23.5h0m-74.6 7.7h0m56.5 11.4h0m-57.1 9.4h0m48 0.9h0m-0.2 -22h0m71.5 -7.4h0m-151.7 17h0m64.4 -2.8h0m18.8 29.6h0m-38.5 -11.9h0m-15.1 -9.3h0m16.8 -1.9h0m3.1 1.6h0m-0.8 -7.1h0m-19.5 5.9h0m43.4 14.9h0m-89.9 -23.4h0m75.3 21.8h0m58.6 -14.2h0m-76.5 5h0m29.1 -3.3h0m-33.3 -13.2h0m112.9 -10.2h0m-85.6 28.7h0"/><path id="p94" d="M508 -338.3h0m-60.4 92.4h0m9.5 -31.3h0m-39.2 20h0m-9.2 47h0m74.9 -78.9h0m-30.9 3.9h0m-15.7 18.6h0m21 -28.8h0m-72.7 60.6h0m50 -8.3h0m4.8 -3.8h0m-19.8 -26.5h0m32.6 15.5h0m36.9 -105.6h0m-56.4 113.9h0m-23.6 11.1h0m70.5 -40.2h0m-86 54.2h0m44.3 -48.2h0m12.5 1.5h0m-47.4 51.7h0m70.8 -71.2h0m-45.2 54.7h0m30.9 -47.5h0m-50.2 69.3h0m50.3 -55.6h0m-37.9 21.8h0m-0.5 30.8h0m40.6 -88.9h0m-44.5 44.9h0m26.4 -9.6h0m-44.2 52.4h0m55.6 -51.1h0m-8.4 12.3h0m20.9 -23.2h0m-0.4 -2.8h0m-10.3 26.4h0m3.7 -8h0m11.2 -26.7h0m-53.9 44.2h0m52.6 -3.1h0m-50.3 20.9h0m55.2 -62.8h0m-25.9 10h0m-22.1 23.4h0m62 -83.8h0m-63.7 67.3h0m36.8 -11.1h0m14.4 14.4h0m-34.3 -2.6h0m-9 20h0m10.1 7.3h0m-19.3 14.1h0m31.6 -63.4h0m-17.4 60.1h0m21.6 -47.4h0m-33.4 34.6h0m17.6 -3.7h0m-51.1 67.3h0"/><path id="p95" d="M531 118.7h0m-12 1.2h0m4.5 11.2h0m-12.7 7.2h0m-73 10.6h0m72.1 -25.2h0m-95.5 4h0m18.9 -13.9h0m75.6 26.9h0m51.7 -20.5h0m-71.6 30.1h0m27.3 -43.5h0m-29.9 22.5h0m-17.4 12h0m64.7 -18.8h0m-32.8 7.3h0m24.9 -1.7h0m-83.8 13.6h0m142.3 -36.2h0m22.6 -10.3h0m-85 41.1h0m-33.4 13h0m-45.2 -8.4h0m58.8 -17.1h0m-34.4 5.5h0m25.9 9h0m22 3h0m-68.4 -7.6h0m86.2 -5.2h0m-55.8 8.9h0m-26.1 -10h0m25.5 10h0m16 17.4h0m62.4 -34h0m-60.1 14.2h0m83.8 -38.8h0m-53.6 23.5h0m-37.1 9.1h0m70.6 -14.3h0m-1.9 8h0m-72.9 12h0m74.9 -5.5h0m-21.7 -10.1h0m-104.4 21.9h0m-7.9 -14.8h0m127.6 -5.1h0m-56.9 6.4h0m45.4 8.7h0m-86.6 1.7h0m25.5 6.8h0m21.6 -19.3h0m-14.9 -4.5h0m-18.1 6.4h0m18.4 1.4h0m-32 -22.1h0m84.4 -0.3h0m-19.3 40.7h0m-26 -11.6h0m30.7 12.4h0m14.5 -0.4h0m-6.7 -11.9h0m14.2 -13.2h0m-41.5 14.3h0"/><path id="p96" d="M441.9 -285.8h0m25 -12.9h0m-9.2 9.4h0m-29.1 30h0m30.7 -31h0m-18.6 25.3h0m32.4 -36.4h0m-42.6 40.7h0m12.6 -10.4h0m8.3 16.5h0m31.9 -81.5h0m-8.8 6.6h0m-17.9 38.9h0m-41.9 31.8h0m69.9 -62.8h0m27.3 -21.3h0m-49 61.3h0m5.8 -28.5h0m-23.6 32.4h0m29.8 -10.3h0m-17.5 7.3h0m-23.4 19h0m17 -1.6h0m-0.9 14.9h0m6 -27.5h0m1.6 -17.3h0m-30.7 47.2h0m31.8 -25.1h0m16.4 -54.9h0m-21.8 90.7h0m-0.9 -34.6h0m-37.8 49.6h0m47.5 -65.9h0m-24.2 19.8h0m44.2 -62.5h0m-33.9 60.8h0m44.6 -46.1h0m-84.4 92.4h0m35.8 -54.4h0m35.7 -25.2h0m-33.6 56.9h0m40.3 -68.4h0m-4.9 8.4h0m-40.4 20.2h0m-34.1 70.4h0m45.5 -46.1h0m-8.5 41.7h0m-1.4 -56.3h0m-18.4 51.3h0m54 -48.8h0m-58.6 37.5h0m-11 12.9h0m49.8 -33h0m-15.6 -3.3h0m33 -46.3h0m8.3 22.5h0m5.5 -49.3h0"/><path id="p97" d="M552.9 141.6h0m-80.7 -5.3h0m59.5 8.4h0m7.9 -12h0m-46.9 -34.3h0m66.1 40.8h0m-41.4 20.6h0m-22.6 -8.1h0m20.3 -32.5h0m-89.2 24.9h0m103 -10h0m-95.2 -11.4h0m46.5 8.7h0m-11.8 7.5h0m34.5 1.1h0m-7.5 13.1h0m10.6 -32.9h0m-34.6 19.5h0m75.9 -20.5h0m-18.5 -1.8h0m15.6 1.2h0m-33.1 -1.3h0m42.8 18.5h0m-72.3 4.1h0m-21.3 -11.7h0m39.2 -19.7h0m-34.8 25.6h0m44.8 9.9h0m14.8 -11.8h0m-42 7h0m-14.4 -13.5h0m-6.7 23.9h0m-13 -14.1h0m101.4 19.4h0m-57.5 -25.2h0m64.7 -11.6h0m-8.8 16.2h0m-30.8 -16.5h0m-28.2 9.2h0m-47 -2h0m123.6 1h0m-39.4 13.6h0m-8.3 -16.3h0m23.6 6.2h0m-75.7 17.3h0m11.5 -0.5h0m43.5 -26.3h0m-66.8 10.6h0m138.7 -29.4h0m-128.4 47.3h0m86.4 -19.6h0m-104.7 20.3h0m58.3 -19h0m73.2 -25.7h0m-122.2 22.7h0"/><path id="p98" d="M409.8 -218.8h0m-9 -13.9h0m19.8 -9.5h0m-14.6 15.3h0m-8.4 28.7h0m32.7 -76.2h0m30.3 -26.2h0m12.5 -40.1h0m-16.7 84.2h0m-14 17.1h0m-33 13.2h0m20.3 -18.9h0m63.5 -100h0m-20.9 28h0m-10.2 19.1h0m-4.7 49.5h0m4.8 -4.2h0m17.5 -27.7h0m-7.1 -7.2h0m-7.9 18.3h0m28.3 -49.9h0m-16.5 -4.7h0m-16.5 42.3h0m-31.3 22.9h0m-14.4 10.2h0m65.7 -58.1h0m-34.9 33.9h0m12.8 -6.8h0m-6 8h0m-6 4.5h0m28 -92.4h0m47.6 -4.1h0m-63.3 78.1h0m3.5 -16.9h0m-3 16.9h0m29.9 -64.1h0m-0.6 23.4h0m-42.3 54.6h0m-15.8 30.2h0m-11.7 21.1h0m53.7 -62.1h0m-2.3 15.8h0m-18.3 -10.6h0m-30.2 24.9h0m28.3 9.9h0m46.3 -93h0m-3.3 55.2h0m-43.2 27.6h0m0.8 -24.9h0m38.6 -53.2h0m-46.7 79.2h0m39.3 -42.4h0m-16.3 13.5h0m1.3 11.8h0m-23.1 6.2h0m33.4 -30.7h0m-19.1 33.2h0m-23.7 17.6h0m27.2 -30.1h0m-16.1 -8h0m24.3 2.1h0m28.4 -60.3h0m-5.8 20.6h0m-23.2 18.9h0m-46 90.2h0"/><path id="p99" d="M489.5 121.6h0m-68.2 15.6h0m88 4.4h0m45.3 -22.5h0m-68.8 15h0m41.1 -14.8h0m-6.9 1.7h0m-20.8 7.5h0m24.9 6.8h0m-30 -13h0m50.6 11.7h0m-41.8 4.8h0m-8.6 -24.8h0m-4.3 22h0m28.1 6.5h0m-28.2 -10.6h0m111.2 -33.7h0m-81.4 31.7h0m37.5 14h0m-8.6 2.5h0m-23.4 -20.8h0m-84.1 11.4h0m-2.8 -3.3h0m47.3 0.1h0m78.1 -9.7h0m-43.3 13.6h0m-9.4 -8.5h0m-4.4 5.1h0m-35.2 -7h0m4.2 11.1h0m-5.1 -3.7h0m31.9 4.3h0m48.9 -24.3h0m-87.2 3.1h0m41 5.9h0m-62.2 -3.6h0m34.3 -2.1h0m124 -26.3h0m-153.4 46.9h0m98.7 -15.3h0m-51.7 -7.2h0m-4.4 13.6h0m92.9 -26.7h0m-80.6 4.3h0m64.9 25.2h0m-47.1 -22.4h0m24.7 10.8h0m-65.8 8.1h0m-10.7 0.4h0m55.9 15.2h0m4 -5.8h0m-77.4 6.2h0m70.5 -14.6h0m-30.1 3.4h0m-69.6 1.6h0m40.4 -7.9h0m156.8 -49.7h0m-150.4 71.9h0m74.9 -28.3h0m-41.5 6.7h0m38.3 1.3h0m-14.1 18.7h0m-66.9 -28.4h0m-0.1 30.2h0m36.9 0.3h0m15.1 -13.3h0m-34.2 -0h0"/><path id="p100" d="M402.2 -214.5h0m20.8 -59.8h0m41.4 -18.1h0m-8.2 19.8h0m2.3 6.3h0m-37.2 26.8h0m-16.2 10.6h0m53.7 -23.8h0m-30.6 25.6h0m47 -83.3h0m-51.8 70.3h0m59.4 -67.6h0m-62.3 55h0m38.3 -8.3h0m11.8 -32h0m0.3 8.2h0m-34.8 51.7h0m26.7 -33.6h0m-70.1 85.6h0m37.9 -51.7h0m18.8 -26.8h0m-11.2 -28.6h0m1.3 31.4h0m-32.9 20.8h0m-17.6 24.9h0m35 -21h0m10.2 -9.3h0m49.6 -56.9h0m-47.3 38.8h0m-0.7 1.9h0m13.1 -1.3h0m-67 52h0m72.6 -87.8h0m3.6 -18.5h0m0.1 38.2h0m-4.9 -2.9h0m-41.6 23.5h0m-19.5 23.4h0m97.7 -78.6h0m-59.6 56.9h0m15.8 9.9h0m-25.9 0.4h0m21.8 -5.6h0m32.6 -16.6h0m-9.5 -14.9h0m0.7 12.2h0m-11.2 37.9h0m-41.7 -10.2h0m-29.5 31.5h0m81.5 -72.7h0m-33.9 26.8h0m4.5 -26.2h0m-11.5 49.8h0"/><path id="p101" d="M548.3 121.6h0m49.8 -30.1h0m-68.6 47.8h0m-31.9 -12.3h0m-5.8 -4.2h0m81 -13.8h0m-41.9 26.8h0m-49.3 1.3h0m87.4 -23.9h0m-153.5 39.2h0m121.6 -37.5h0m-57.5 12.8h0m-45.8 15.6h0m34.9 -10.8h0m49.2 0.4h0m1.6 -18.7h0m35.1 15.5h0m-17.2 7.4h0m20.2 -29.2h0m-66.7 38.9h0m-47.9 -6.2h0m65 -11.2h0m-19.8 -20.3h0m-31.1 41.4h0m121.4 -53.2h0m-72.9 20.6h0m95.7 -13.3h0m-91.7 33.2h0m0.6 -9.4h0m-12.4 -8.2h0m63.5 7.3h0m-90.2 10.2h0m82.3 -23.4h0m-40.9 3.4h0m8.9 13.2h0m44.9 -13.1h0m-68.8 -7.7h0m25 -8h0m-53.3 26.7h0m-0.6 6.3h0m19 4h0m-13.6 -9.3h0m82.3 -4.9h0m6.8 5.1h0m-56.2 -4.3h0m-10.6 18h0m31.5 -3.6h0m-16.8 -5.2h0m-16 -7.5h0m-39.2 18.8h0m40.8 8.2h0m-61.8 -25.8h0m129.3 -1.6h0m-88.5 7.7h0m-2.7 -1h0m63.3 -16.6h0m-44.5 0.6h0m60.8 1.9h0m8.1 -9.9h0m-40.3 43.5h0m-61.4 -8.4h0"/><path id="p102" d="M452.6 -280.1h0m0.4 5h0m-13.5 14.1h0m23.1 -0.2h0m20.8 -98.6h0m-46.2 88h0m-5.3 36h0m24 -50.6h0m-4.7 -2.2h0m6 4.4h0m30.4 -56.6h0m-34.8 66.1h0m17.1 -0.1h0m-36.5 29.9h0m10.9 -11.5h0m1.6 2h0m51.3 -58.1h0m-60.3 57.3h0m35.2 -59.1h0m-29.1 64.8h0m-7.7 -9.6h0m-7.9 38.3h0m-6.3 -4.6h0m33.8 -61h0m-4.6 7.2h0m15 21.3h0m15.2 -49h0m-59.9 75.7h0m25.8 -23.3h0m-49.6 19.2h0m71.1 -112.8h0m10 35.2h0m-6.8 44.4h0m14.4 -50.6h0m-44.8 69.1h0m24.1 -44.6h0m8.7 -21.3h0m-38.8 76.9h0m25.4 -16.9h0m36.6 -50.3h0m-42 47.8h0m-42.3 42.2h0m39.4 -41h0m10.8 -49.2h0m-37.3 84.9h0m65.6 -127.3h0m-44.4 100.1h0m0.6 -17.8h0m-21 43h0m19.4 -34.8h0m33.1 -63.4h0m-46.8 65.1h0m16.2 -19.7h0m4.1 16.9h0m25.6 -50.8h0m-62.1 92.1h0m-6.1 -19.7h0m-12.2 26.3h0m13.8 -36.8h0"/><path id="p103" d="M563.9 117.8h0m-48.4 9.1h0m-3.6 17.7h0m2.9 -21.1h0m-82.2 2.6h0m68.1 -3.7h0m-25.3 2.8h0m26.4 10.2h0m24.8 4.2h0m-66.3 -2.5h0m100.5 -32.9h0m-65.4 25.6h0m-17.6 13.2h0m34.9 -24.1h0m-19.4 21.4h0m25.4 -18.9h0m-29.8 -5.6h0m-1.3 7.6h0m2.6 12.3h0m11.6 -8h0m79.9 -12h0m-139.7 16.1h0m59.6 4.2h0m18 -8.6h0m-22.3 -6.8h0m16.5 7.7h0m-62.1 -10.7h0m62.6 -0.2h0m-100.7 -0.7h0m72.9 27.1h0m40.7 -3.6h0m-55.7 -2.6h0m69.1 -2.8h0m-114.7 -5.3h0m52.6 -5.1h0m-17 8.3h0m81.1 -1.5h0m-63.3 20.8h0m46.7 -25.7h0m-25.1 3.6h0m-4.4 -15.9h0m31.6 20.5h0m13.9 -1.9h0m-33.8 -0.8h0m30.5 5.9h0m-60.7 -13.2h0m32.9 -7.9h0m-19.5 29.1h0m52.4 -18.1h0m9.3 7.3h0m-67.9 -7.5h0m100.1 -6h0m-34.1 -2.4h0m-100 1.6h0m100.1 4h0m-65.4 2.9h0m1.6 11.8h0m-30 22.7h0m24.3 -12.3h0m-4 -11.7h0"/><path id="p104" d="M469.7 -280.8h0m26.6 -40.6h0m-68.1 87.9h0m-9.8 -26.6h0m28.8 3.3h0m22.3 -23.3h0m-15.3 3.5h0m37.6 -41.1h0m-23.4 8.9h0m18.5 -17.3h0m-24.1 34.4h0m-12.4 -0.1h0m-1.2 39.2h0m-7.4 -10.6h0m-18.2 27.8h0m17.3 -4.9h0m26 -31.5h0m-3.3 -51.6h0m-89.6 128.3h0m85.9 -92.8h0m-28.1 62h0m4 -36.8h0m-19.6 34.4h0m4.6 -36.6h0m58.3 -26.3h0m-22.5 3h0m-7.5 44.3h0m28.6 -70.8h0m-5.3 52.9h0m-18.7 -6.5h0m22.1 -54.7h0m-15.9 35.6h0m4.5 18.5h0m-68.5 50h0m60.9 -24h0m42.4 -72.9h0m-17.7 33.6h0m-17.8 8.9h0m-27.9 25.4h0m-11.4 -11.8h0m15.2 23.9h0m-5.6 -27.5h0m46.3 -19.7h0m-34 -9.6h0m-19.7 84.7h0m14.9 -64.8h0m11.2 -8.2h0m-15.2 16.9h0m49 -44.4h0m-55.1 62.2h0m46.9 -33.4h0m-23.3 -29.2h0m-54.3 105.6h0m38.7 -62h0m-11.4 39.1h0m1.7 -8.1h0m29.5 -24.2h0m1.1 10.2h0m-34.7 3.1h0m-9.9 0.4h0"/><path id="p105" d="M436.5 132.3h0m12.5 6.4h0m11 -1.3h0m60.7 -29.1h0m-65.8 21h0m48.6 8.1h0m0.3 -17.2h0m-40 10.5h0m92.6 -8.1h0m-10 18.7h0m-61.2 -10.6h0m34.4 -0.2h0m-35 7.4h0m22.7 -0h0m14.8 -9.6h0m-35.5 8.3h0m-39.6 -15.6h0m46.7 -6h0m33.2 15h0m-38.5 3.1h0m41.7 -0.9h0m-40.7 -5.3h0m7 -3.1h0m74.9 6.1h0m-28 6.5h0m-46.9 -11.8h0m4.9 7.3h0m28.7 -8.2h0m-26.7 23.4h0m30 -27.1h0m-71.9 15.3h0m54.6 -11.3h0m-36.2 17.1h0m44.9 -6.2h0m41.7 -13h0m-80.6 4.6h0m-29.3 -13.2h0m36.9 17.2h0m38.5 -17.5h0m-41.9 27h0m77 -31.1h0m-134 21.9h0m143.8 -13.5h0m-133.1 1.5h0m45.3 5.5h0m56.8 23.1h0m-153 -7.4h0m165.9 -11h0m-45.5 1.8h0m14.3 -18.2h0m-80.7 32.2h0m9.8 -19.9h0m96.6 7.8h0m-81.6 -5.8h0m48.1 -3.2h0m-43.2 7.8h0m-42 -7.7h0m106.4 -5.9h0m-60.1 -6.8h0m37.1 27.3h0m-5 -20h0m-26.4 -1.9h0m76.9 -11.4h0"/><path id="p106" d="M477.1 -329.8h0m-48.2 50.3h0m-2.3 23h0m42.9 -42.3h0m-4.4 18.4h0m-28 22.3h0m24.5 -2.7h0m1.9 -23.3h0m6.7 -2.2h0m5.2 -60.3h0m-8.6 51.7h0m22.9 -37.3h0m-16.5 52.3h0m-22.7 -5.4h0m-35.5 30.6h0m50.8 -22.8h0m32.6 -25.8h0m-41.5 33.7h0m-26.9 28.6h0m29.9 -39.9h0m-11 42.4h0m26.7 -54.2h0m-33.7 34.4h0m-18.9 22.7h0m28.9 -10.3h0m-21.7 -0.6h0m-34.3 15.2h0m39 -15.9h0m42.8 -22h0m-81 69.1h0m96.3 -165.5h0m-46 105.2h0m-38.6 41.1h0m53.2 -35.1h0m6.4 -26.8h0m8.4 -24.9h0m-34.3 68h0m-6.8 11.3h0m-52 2.7h0m102.1 -64.1h0m-12.2 -21.9h0m-31.3 67.5h0m-36.9 25.8h0m14.9 -36.1h0m23.1 -9.6h0m22.1 -25.6h0m7.8 -15.5h0m-47.7 42.1h0m-5.3 1.3h0m74.6 -28.4h0m-21.6 -40.5h0m-8.8 77.5h0m8.9 -29.2h0m17 -80.2h0m-9.3 76.6h0m-31.5 52.3h0m-15.7 -31.9h0"/><path id="p107" d="M462.9 135.5h0m72.7 6.7h0m-47.4 -7h0m85.6 -8.4h0m-46.5 -4.7h0m39.7 5.6h0m-136.9 32h0m63.1 -26.4h0m-68.7 -9.4h0m48.2 -16.5h0m29.9 11h0m-2.5 8.7h0m-21.6 4.9h0m26.2 -12.6h0m47.2 15.4h0m-107.6 16.3h0m119.6 -32.4h0m-93.8 37h0m76 -39h0m29.8 -6.6h0m-78.6 30.7h0m18.6 -7.1h0m68.9 -19.1h0m-71.9 20.4h0m72.4 -37.6h0m-92.3 31h0m16.7 3h0m-33 16.1h0m75.8 -26.3h0m-141.2 1.4h0m52.1 26.2h0m144.2 -48.4h0m-119.6 28h0m-51.4 22.2h0m66.9 -37.7h0m-9.2 28.6h0m-11.7 -4.4h0m8.7 -28.7h0m-7.3 19h0m59.1 13h0m-6.3 -27.2h0m-8.6 41.1h0m68.7 -60.5h0m-59.1 37.8h0m-65.2 -0.1h0m32.9 1.9h0m80.5 -25.6h0m-74.7 1.2h0m27.5 33h0m-4.7 -3.6h0m-44.7 -7.2h0m86.1 -5.9h0m-13.7 15h0m-4.5 -5.4h0m-8.3 8.8h0m-53.1 -3.2h0m-39 -2.7h0"/><path id="p108" d="M461.1 -254.9h0m-12.6 3.6h0m5 28.4h0m15.1 -52.1h0m-0.6 10.5h0m-42.8 17h0m52 -73h0m-67.5 100.6h0m50.8 -63h0m-54.8 85.5h0m59 -67.4h0m-24.3 13.7h0m47.8 -44.8h0m-17.8 14.9h0m13.7 -36.1h0m-76.7 99.9h0m32.9 -48h0m22.7 -17.4h0m-3.2 -13h0m6.1 10.7h0m-6.4 11h0m0.2 -38.6h0m-7.8 43.6h0m13.6 6.4h0m27.7 -75.4h0m-118.1 145.1h0m70.1 -84.9h0m-3.5 23.6h0m-13.6 32.8h0m58.3 -85.4h0m-31.1 14.8h0m27.9 19.5h0m-55 33.5h0m-12.1 -13.2h0m43.1 -5.1h0m-29.1 3.8h0m22.2 4.8h0m-52.8 7.2h0m51.3 -33h0m27.5 -9.7h0m-45.3 57.9h0m79.4 -108.6h0m-55.5 75.9h0m-18.7 -9.2h0m7.4 34.6h0m-49.4 12.3h0m58.3 -57.6h0m13.8 -15.9h0m-33.7 70.3h0m5.5 -23.7h0m-14.5 -6.5h0m-34.5 46.1h0m68 -62.2h0m26.2 -42.2h0m-24.5 4.1h0m-1.6 0.9h0m-61.1 75.5h0m18.5 -17h0m8.3 25.6h0m20 -11.3h0m24.1 -39.4h0m-52.9 28.9h0m-3.9 0.5h0"/><path id="p109" d="M487.8 135.4h0m-65.4 17.3h0m102.3 -30.3h0m-73.3 5.9h0m68.5 2.5h0m-15.5 8.9h0m17.8 -16.6h0m51.8 -8.7h0m-39 26h0m-58.3 -11.4h0m78.3 -7.1h0m-54.7 6.1h0m-22.9 2.5h0m90.7 5.3h0m-36 -7.7h0m-40.4 -4.8h0m33.1 -13.3h0m-1.5 7.9h0m-38.2 -15.1h0m19.4 42.2h0m-60.6 -27h0m-25.9 24h0m115.5 -3.5h0m-62.2 -6.1h0m23.6 -2h0m7.4 -1.2h0m30.8 0.5h0m13.7 -12h0m-34.7 40.6h0m-13 -20.8h0m-16.8 0h0m84.9 -13.2h0m-110.9 26.1h0m8 -30.6h0m11.1 -7.7h0m-5.1 25.5h0m28.2 2.8h0m-11.9 -0.5h0m12.3 4.8h0m67.1 -44.8h0m-40.9 31.8h0m-42.3 -7h0m20.8 4.5h0m57.2 -24h0m-56 35.6h0m-8.1 -1.9h0m66 -18h0m-71.9 13.4h0m81.6 -5.9h0m-70.9 7.1h0m-28.1 0.3h0m6.8 -16.1h0m99 2.3h0m-67.4 11.3h0m21.7 -15.6h0m-89.1 -0.5h0m19.7 12.4h0m43.5 20.4h0m47.3 -12.6h0m-35.7 -19.6h0m26.2 10.3h0m-91.1 -12.8h0"/><path id="p110" d="M445 -278.9h0m-0.6 28.6h0m6.5 7.1h0m17.3 -48.8h0m-12.3 12.4h0m-2 5.5h0m-5.5 -8.9h0m-23.1 17.9h0m38.3 25.6h0m-31.3 6.2h0m8.2 -12.4h0m-21.7 11.4h0m-4 12.7h0m43.7 -107h0m-6.1 48.1h0m-19.5 18.9h0m31.9 -36.2h0m12.3 8.6h0m-88.3 113.8h0m60.3 -77.8h0m-16.6 -5.4h0m5.5 -5.2h0m-22.4 18.9h0m56.5 -23.3h0m-28 -5.9h0m17.8 12.4h0m-12.6 7.2h0m15.3 -38.2h0m12.1 14.6h0m-71 52.1h0m-13.9 38.9h0m52.8 -107.1h0m-36.8 80.6h0m55.2 -92.8h0m-44.2 79.7h0m39.1 -26.2h0m27.1 -35.8h0m-7.6 1.8h0m-8.2 5.9h0m7.3 -89.4h0m-40.1 118.8h0m40.2 -48h0m-80.1 106.4h0m57.9 -78.6h0m-53 40.1h0m19.1 25.8h0m52.5 -86.7h0m-39.4 13.9h0m7.1 8.4h0m35.3 -5.7h0m-24.2 -6.6h0m-37.9 53.5h0m71.8 -55h0m-42.7 -5.5h0m18.1 26.9h0m23.1 -57.4h0m-39.1 45.9h0m6.2 -2.7h0"/><path id="p111" d="M509.2 122.4h0m-29.9 15.2h0m72 -20.1h0m-75.9 4.7h0m97.9 -2.6h0m-156.8 20h0m82.6 -9.2h0m-29.8 -6.6h0m50 -4.2h0m-38.5 11.6h0m85.4 -29.4h0m-72.8 42.5h0m32.4 -5.4h0m-54.2 11.6h0m-36.5 -16.3h0m46.3 -17.8h0m-1.8 19.4h0m-42.1 5.5h0m58.2 -21.4h0m34.4 16.2h0m61.3 -30.4h0m-37.5 20h0m-36.2 5.5h0m60.8 -27.4h0m-73.8 29h0m85 -27.7h0m-87.7 32.2h0m63.3 10.1h0m11.3 -47.2h0m27.6 -6.3h0m-185 50.1h0m100.8 -27.3h0m-23 5.9h0m36.5 10.1h0m-41.3 -2.1h0m67.1 -5.7h0m-127.4 -0.8h0m28.6 8h0m-13 0.9h0m79.3 -10.7h0m18.5 1.7h0m-57.6 5.1h0m47.4 8.2h0m-37 -19h0m-9.6 6.6h0m16.3 6.6h0m-94.4 12.3h0m56.3 -6.4h0m93.8 -13.4h0m-88.6 14.4h0m-36.5 -6.4h0m71.8 3.1h0m14.2 -2.9h0m-3.2 0.8h0m-72.5 11.8h0m111.1 -18.7h0m-53.4 -7.6h0m-14.4 8.4h0m91.1 -30.3h0m-68.8 31.7h0m30.8 -11.2h0m50.8 -17.6h0m-87.6 41.5h0m30.3 -2.9h0m-130.5 -2.7h0m75.5 -7.9h0m-49.7 15.4h0m69.9 -16.9h0m-2.7 21.9h0m-46 -8.4h0"/><path id="p112" d="M484.9 -351h0m-73.7 141.7h0m69.1 -99.4h0m-18.1 17.8h0m-45.1 47.9h0m-3.4 31.7h0m68.3 -89h0m-36.7 13.8h0m-9.2 8.5h0m-5 54.2h0m52.8 -56.3h0m-14.3 18.4h0m-75.2 61.8h0m62.1 -72.9h0m20.7 -38.9h0m-40.5 48.4h0m58.3 -43.5h0m-73.7 66.8h0m43.6 -61.4h0m-21.5 49.5h0m-49.9 36.3h0m43.9 -43.2h0m22.6 14.6h0m39.8 -86.8h0m-113.7 133.7h0m66.2 -63h0m-40.2 28h0m27.6 -26h0m33.9 -42.6h0m-39.6 58.1h0m-32.7 1.4h0m85.7 -56.5h0m-46.2 57.2h0m9.6 -52.3h0m-14.3 46.6h0m41.3 -41.1h0m9.6 -27.1h0m-85.8 57.6h0m78.3 -59.4h0m-62.9 81.3h0m-5.1 30h0m46.6 -82.3h0m15.9 24.4h0m-45.3 36.1h0m56.6 -128.9h0m-4.2 0.1h0m-23.4 107.6h0m-35 10.3h0m-17.2 11.7h0m12 1.9h0"/><path id="p113" d="M495.8 129.8h0m-66 4.6h0m76.9 -12.8h0m12.4 22.7h0m23 -17.1h0m-54.3 -10.1h0m71 -4.5h0m-34.1 10.8h0m48 -16.2h0m-47.2 25h0m-15.6 -1.8h0m30.5 -11h0m38.2 10.6h0m-129.4 0.9h0m40.6 -3.7h0m56.5 -5.3h0m-72.2 21.3h0m54.2 1.4h0m-56 -1.8h0m14 -4.1h0m48.5 14h0m-75 -28.4h0m3.4 24.7h0m32 -5h0m11.7 2.9h0m8.7 -4.3h0m-10.3 -5.1h0m-58.9 16.8h0m108.5 -6.4h0m-10.3 -14.5h0m-127.3 -3.1h0m1.4 18.3h0m63.5 -27.6h0m41.8 4.8h0m15.4 15.1h0m7.9 -21.6h0m-85.3 13.1h0m96 -24.3h0m-84.5 23.2h0m42 3.3h0m-11.1 -4.5h0m-28.7 -3h0m6.7 -4.2h0m43.2 1h0m-21 8.1h0m-25.9 -6.4h0m28.4 -2.9h0m10.2 2.5h0m-39.5 2.6h0m52.3 -0.6h0m5.8 0.3h0"/><path id="p114" d="M406.5 -228.7h0m-8.6 -16.5h0m41.3 -0.4h0m18.7 -45.8h0m-26 30h0m43.7 -38h0m-29.9 42.1h0m14.9 -13.9h0m32.2 -77.4h0m-65.7 106.2h0m-1.6 -18.7h0m-1 7.4h0m70.5 -23.9h0m-20.8 -9.9h0m-8.3 22h0m-44 49.2h0m11.2 -34.7h0m26.9 4.1h0m14.9 -19.4h0m-45.9 12.8h0m55.6 -58h0m-48.2 45.9h0m29.9 -63.2h0m-16 66.4h0m-45.1 31.7h0m45.4 -17.6h0m-37.2 4.1h0m17.8 25.3h0m52.9 -71h0m4.5 -4h0m-11.5 13.7h0m-37.7 26.1h0m4.4 20.2h0m22.9 -77h0m-40.3 73.3h0m25.5 -28.5h0m36.7 -60.9h0m-34.7 67.3h0m-46.1 59.9h0m35.7 -21h0m-65.7 29.5h0m56.4 -51.3h0m-3.9 20.3h0m37.7 -68.7h0m-23 -1.5h0m-14 56h0m31.8 -26.6h0m3 3.9h0m-35.8 9.8h0m38.6 -32.5h0m2.4 13.5h0m-16.9 11.6h0m24.7 -68.7h0m-40.9 103.8h0m36.9 -62.1h0m-45.9 35h0m-1 -16.5h0m30.5 -23.4h0m0 25.2h0m-9.5 -10.2h0m36.7 -26.2h0m-51.3 44.1h0m21 -31.7h0m-5 -7h0m39.5 -28.6h0m-35.5 46.6h0m-39.7 39.7h0m53.4 -68h0m-22.4 45.6h0"/><path id="p115" d="M492.2 134h0m20.8 10.5h0m-64.8 -1.6h0m26.8 -4.2h0m90.6 -23.5h0m-120.7 16.5h0m18.8 -2.2h0m51.7 2h0m9.3 11.9h0m-20.7 -23.1h0m34.1 -7.1h0m-27.5 24.8h0m-16 -0.5h0m-28.5 4.6h0m18.2 13.5h0m-29 -14.8h0m-14.9 5.7h0m34.1 -21.6h0m87.6 -4.8h0m-126.4 18.9h0m59.7 20.2h0m34.9 -33.2h0m-83.4 21.3h0m6.3 -36.7h0m27.7 -4h0m85.9 3.1h0m-159.3 6h0m135.1 3.5h0m-66.5 23.5h0m111.9 -45.5h0m-115.8 24.8h0m104 15.5h0m-73 5h0m93.9 -46.6h0m-139.7 29.3h0m5.9 -16.9h0m50.3 15.5h0m-100.9 15.3h0m87.6 2.7h0m9.8 -11.7h0m-33.7 5.4h0m44 -8.6h0m10 -4.7h0m-15.5 21.5h0m-23.5 -21.6h0m16.1 -8.2h0m60.8 18.1h0m-71.6 -6.9h0m35.8 14.5h0m-0.5 -13.1h0m-21.5 5.8h0m18.7 -2.7h0m-33.5 -9.6h0"/><path id="p116" d="M402.2 -235.6h0m45 -43.2h0m15.2 20.9h0m11.7 -35.9h0m-22.5 41.6h0m9.7 -37.4h0m13.2 3.4h0m6.5 0.1h0m-63.8 23.4h0m66.3 -40.6h0m-50.8 55.8h0m34.6 -27h0m-27 7.8h0m11.9 -15.4h0m35 5.1h0m-36.4 2.9h0m14.6 -63.4h0m-59.1 93.4h0m64.7 -16.7h0m-51.7 27.4h0m7.5 -16.5h0m18.6 14.9h0m26.8 -44.7h0m-39 56.8h0m11.2 -40.1h0m-17.3 32.5h0m51.7 -53.3h0m-56.8 45.2h0m0.3 1.7h0m39.4 -59.5h0m10 22.6h0m-11.7 -16.6h0m-9.4 27.9h0m20.6 -29.3h0m-35.4 50.4h0m12.1 -44.1h0m22.4 -13.2h0m-14.9 43.2h0m-28 18.9h0m60.9 -84.7h0m-68.1 84.3h0m63.5 -66.3h0m-27.5 12.9h0m-44 57.6h0m41.6 -31h0m5.5 -9h0m-4.3 -22.9h0m-1.9 23.4h0m-14.4 -4h0m32.4 6.9h0m9.9 -31h0m-64.3 81.6h0m10 -3h0m16 -37.5h0m30.4 -37.6h0m-32.1 11.3h0m34.9 -34.5h0m8.1 3.9h0m-67.6 94.1h0m52.8 -47.4h0m5 -1.7h0m-62.6 30.5h0m56 -46.9h0m-23.8 56.5h0m3.6 -26.2h0m47.9 -33.9h0m-27.7 6h0"/><path id="p117" d="M538.3 132h0m-6.7 -14.5h0m-53.8 18.4h0m-16.3 -3.1h0m54 0.2h0m-21.9 5.2h0m-10.6 -14.6h0m-29.2 -9.2h0m38.7 17.1h0m63.5 2.9h0m10.3 -16.6h0m-88.6 14.5h0m-39.4 -6.1h0m84.4 14.1h0m-35.6 -11.7h0m112.6 -42.4h0m-121.1 53.2h0m49.8 -3.5h0m-37.3 -6.2h0m14.1 19.9h0m3.4 -15.7h0m-51.2 6h0m137 -39.6h0m-90.5 31.9h0m-18.9 -5.3h0m8.3 11.1h0m13.4 -4.5h0m54.5 -23.2h0m-74.9 18.4h0m94 -26h0m-71.2 26.9h0m-29.4 11.6h0m36 -18.4h0m19.1 -1.4h0m-3.2 -1h0m47.2 -24.6h0m-76.3 28.1h0m-5.9 -5.6h0m48.5 16.1h0m-59.5 -1.7h0m55.9 -7.1h0m-30.3 -4h0m-52.3 10.3h0m57.5 -1.3h0m46.7 4.3h0m36 -38.2h0m-113.7 44.7h0m22.2 -10.5h0m-16.9 -9.7h0m-36.4 8.1h0m106.4 -30.4h0m-56 31.9h0m-102.5 2.6h0m121.2 -21.9h0m-49.6 20.5h0m10.3 -15.3h0m-12.1 1.9h0m42 23.8h0m-50.5 -8.4h0m20.3 -21h0m-4.1 3.5h0"/><path id="p118" d="M473.3 -287.2h0m2.4 3.2h0m-22.5 -16.4h0m23.9 14.1h0m-37.1 33h0m1.6 -18.1h0m18.1 7.9h0m-49.1 46.9h0m72.2 -83h0m-27.3 5.9h0m35.4 -26.9h0m-48.1 81.9h0m37.5 -93.7h0m-13.7 72h0m-32 17.8h0m27.6 -44.2h0m-3 18.2h0m1.7 -37.3h0m17 -52.3h0m-23.7 70.5h0m39.8 -17.9h0m-68.1 62.1h0m44.2 -56.9h0m-47.6 16.4h0m24.8 2.5h0m8.5 25.9h0m-16.6 -23.2h0m31.7 -9.1h0m-8.8 32.1h0m-8.9 -41.1h0m-32.9 38.9h0m-3.2 32.7h0m66 -57.1h0m-50.1 40.3h0m17.5 -56.2h0m5.3 23.7h0m-11.8 8.6h0m-14.2 41.8h0m72.1 -123.6h0m-66.3 100.2h0m37.5 -47.4h0m-57.3 57.3h0m65.2 -91.5h0m-8.9 58.7h0m-12.3 -23.9h0m-3.2 26.8h0m-10.8 1.2h0m-18.1 28.8h0m-5.6 0.1h0m2.7 -22.1h0m44.6 -21.8h0m-37.5 25.2h0m-1.4 25h0m44 -57.6h0m-41.5 76.2h0m-4.3 -47.3h0m-6.8 34.7h0m54.2 -97.1h0m-40.8 110.3h0"/><path id="p119" d="M586 95.6h0m-48.2 46.1h0m-54.3 -16.6h0m65.1 8.1h0m-36.2 7.3h0m43.2 -1.4h0m-76 -10.2h0m82.8 -9.7h0m-73.4 4.6h0m-31.1 -13.1h0m-10.6 49.5h0m120.5 -62h0m-118.6 23h0m22.7 11.5h0m32.9 -14h0m8.3 -15.8h0m-18.4 33h0m39.7 -15.7h0m21 -7.4h0m-79.1 26h0m90.6 -24.6h0m-93.9 21.6h0m53.1 -5.2h0m-29.5 21.3h0m-22.3 -10h0m46.5 -22.6h0m12 3.8h0m-19.1 20.2h0m45.5 -27.7h0m-76 -0.2h0m-70.9 22.3h0m117.5 4h0m11.7 -38.2h0m-38 27.9h0m54.3 -3.3h0m-55.2 9.1h0m29 -0.1h0m-39.9 -10.9h0m-74.5 -8.2h0m89.6 9.2h0m24.9 15.6h0m-26.6 -11h0m-44.8 6.7h0m93.7 -44h0m-144.9 23.4h0m100.3 15.9h0m-1 13.2h0m0.2 -22.5h0m20.8 16.4h0m-26.5 -18.6h0m-39.4 8.1h0m67.1 -9.4h0m-3.9 14h0m-10.3 3h0m-28.3 -7.2h0m80.7 -5.3h0m-34.1 -2.2h0m21.4 13h0m-120.2 3.6h0"/><path id="p120" d="M493.9 -310.1h0m-53.2 63.2h0m4.8 13.7h0m2.3 -24.5h0m24 -76.7h0m-55.7 123.5h0m30.5 -30.2h0m-0.4 -11.7h0m17.3 -4h0m16.6 -69.4h0m-39.6 50.9h0m3.6 26.8h0m13.6 -33.7h0m-42.5 28.8h0m-18.1 41.2h0m19.5 -45.5h0m56.7 -40h0m-52.4 35h0m68.4 -47.4h0m-13.4 -14.1h0m-4.2 1.5h0m3.4 22.6h0m-35.3 47.5h0m5.9 14.9h0m16.5 -36.8h0m-45.8 27.4h0m49.7 -14.9h0m-2.1 -34.5h0m-9.3 33.5h0m-7.2 -6.8h0m-31.1 26.8h0m13.2 10.2h0m8.8 -27.9h0m10.3 -25.7h0m51.3 -22.9h0m-54.4 68.8h0m53.1 -37.2h0m-50.7 15.4h0m-47.9 59h0m63 -82.4h0m5 0.4h0m-79.1 71.2h0m42 -58.7h0m-28.7 26.8h0m89 -106.4h0m-52.8 107.4h0m34.1 -53.7h0m-96.2 108.2h0m87.8 -86.6h0m21.6 -22.1h0m-47.6 60h0m41.8 -19.7h0m-33.3 -3.1h0m7.6 -12.3h0m14.5 12h0m-47.4 5.8h0m12.7 -9.7h0m30.9 -4h0m-60.5 31.9h0m45.3 -19.6h0m-18.9 29.5h0"/><path id="p121" d="M438.1 136.4h0m89.2 7.6h0m-46 -13.5h0m-21.4 -11.8h0m29.4 9.7h0m12.2 8.6h0m-5 -13.9h0m84.1 -15.3h0m-99.7 23.7h0m75.4 -2.5h0m-8.3 -18h0m-95.9 39.1h0m83 -30.2h0m-57.4 2.3h0m49.1 -10.5h0m-78.2 19.7h0m-12 17.3h0m98.8 -30.5h0m-111.6 32.1h0m84.5 -5.4h0m-33.8 -17.1h0m33.9 -6.1h0m-31.1 -4.2h0m-18.3 1.4h0m43.3 -5h0m0.1 14h0m47.8 2.4h0m-11.3 9.2h0m39.7 -34.8h0m-69.1 22h0m-28.5 6.6h0m26.7 -2.2h0m-78 2.1h0m124.7 -14.9h0m-7.2 28.8h0m-1 -31.6h0m-51.6 20.9h0m26.2 13h0m26.6 -32.1h0m18.5 9.7h0m-104.4 15.6h0m7.9 -7.6h0m-8.8 -29.7h0m-5.2 35.2h0m108.5 -6.7h0m-74.4 -10.1h0m36.7 11.6h0m-16.7 -16.5h0m-8.9 4.4h0m29.9 -8.2h0m-27.7 14.1h0"/><path id="p122" d="M451.8 -251h0m36.5 -40.2h0m-32 -6.4h0m-16.6 1.8h0m-30.4 50.2h0m52.4 -23.7h0m22.7 -59h0m-58.4 72.4h0m-30.1 44.7h0m83.7 -126.3h0m-48.8 75.3h0m-9.9 42.6h0m-14.2 -43.7h0m18.8 21.6h0m-25.9 3.7h0m36.1 -5.8h0m24.1 -37.4h0m-51.7 76.4h0m19.2 -43.2h0m0.2 -2.9h0m48.2 -68.2h0m5.2 35.6h0m11.6 -32.1h0m-63.1 82.8h0m35.9 -22h0m1.7 -44.6h0m-31.8 41.6h0m-42.2 28.3h0m40.6 -3.4h0m40.5 -40h0m-9.4 -45h0m18.7 5.4h0m-22 56.6h0m-41.7 24.8h0m71.1 -66.1h0m-84.1 61.2h0m46.8 -26.5h0m-27.9 8.6h0m15.1 -32.7h0m25.6 -29.8h0m-17.7 45.3h0m25.5 -29.1h0m-70 61.8h0m46.7 -45.7h0m16.7 7.3h0m-48.5 28.2h0m40.1 -24h0m-2.3 31.4h0m-25.8 8.1h0m-19 0.2h0m23.4 -28.3h0m16.4 -9.2h0m-17.4 34.5h0m18.2 -46.2h0m-1.2 21.9h0m-11 -3h0m-5.5 35.9h0m19.7 -28.5h0m-42.6 37.9h0m61 -33.2h0m-17.2 -17.6h0m5.9 -27.5h0m21 -0.4h0m-5.6 15.6h0m-10.4 -3.2h0m-17.1 37.5h0m-2.2 -1.5h0m17.7 -10.1h0m-28.4 -25.5h0"/><path id="p123" d="M472.6 110.1h0m46.7 1.4h0m-35.6 24.1h0m13 -19.1h0m58.8 -14.2h0m-65.1 46.9h0m-90.7 1.7h0m73.9 -18.4h0m19.2 -8h0m38.3 0.8h0m-84.1 24.4h0m78.7 -30.3h0m30.5 14.4h0m15.4 -28.6h0m-114.1 29.9h0m63.4 5.4h0m8 -32.1h0m-93.4 39.5h0m10.4 11.7h0m22.4 -30.7h0m63.1 23.8h0m-59.3 -48.6h0m45.8 19h0m-53 22.1h0m-5.9 -6.3h0m-36 0.6h0m33.1 2.8h0m13.1 -3.6h0m25.3 -26.5h0m21.3 18h0m9.7 12.3h0m-103.3 3.9h0m81.1 -13.4h0m-23.7 -0.8h0m57.8 12.7h0m-56.3 -31.1h0m-24.2 1.9h0m9.8 -16.2h0m51.8 41.4h0m-36.3 -35.9h0m77.2 21.6h0m-104.5 18.3h0m46.5 -48.4h0m11.5 27.3h0m-54.1 25h0m26.3 -14.8h0m47.2 -12.2h0m-51.4 25.8h0m67.1 -13.9h0m-14.4 -6.6h0m78.6 -31.9h0m-134.1 21.7h0m2.9 34.6h0m-46.2 -17.3h0m32.2 -22.3h0m86.1 -11h0m-27.6 26.6h0m0.5 1.9h0m20.7 -37h0m21.9 -0.2h0m42.4 9.2h0m-132.4 19.3h0m39.7 14.1h0m-40.7 0.6h0m34.1 -1.9h0"/><path id="p124" d="M441.3 -257.4h0m27.4 -43.8h0m-30.1 17.6h0m50.2 -24.4h0m-38.6 11.2h0m0.1 33.7h0m-31.5 60.5h0m-16.5 12.9h0m18.3 -56h0m20.5 -5.2h0m48.6 -86.7h0m-73.5 99h0m58.1 -68.9h0m-2.4 16.7h0m-35.2 4.4h0m52.7 -8.6h0m-22.8 0.4h0m-55.7 45.4h0m-29.6 59.5h0m86.4 -67.1h0m-47 14.7h0m56.2 -61.7h0m-6.3 2.8h0m-8.2 6h0m3.2 14h0m-39.6 49.6h0m54.7 -119.6h0m-16.4 57h0m-16.2 17.6h0m-41.5 50.7h0m49.2 -38.1h0m-31.6 18.3h0m47 -53.3h0m-32.5 45.5h0m22.6 -24.6h0m-26.4 -3.2h0m70.4 -29h0m-91 89.2h0m41 -62h0m-55.7 23.6h0m45.7 12.4h0m10.1 -27.3h0m59.5 -57.6h0m-60.6 49h0m29.3 -38.1h0m11.2 34.4h0m-48.7 29.5h0m-23.4 20.2h0m14.7 -8.2h0m-7.5 19.8h0m-27.9 -8.5h0m11.2 -2.6h0m51.7 -37.5h0m19.1 -3.7h0m11.8 -57.8h0"/><path id="p125" d="M543.7 135.5h0m-1.4 10.8h0m-107.9 -25.5h0m135.8 -4.8h0m-11.8 -0.3h0m19.8 11.8h0m-53.9 -19.8h0m41.1 -6h0m-11.2 38.3h0m-82.4 13.1h0m-26.5 -13h0m57.7 -10.9h0m24.8 -6.3h0m-35.1 30.6h0m6 -20.1h0m60.1 -13.3h0m-10.3 -4.2h0m-78.2 23.1h0m14.5 5.8h0m14.1 -39.2h0m-6.4 5.1h0m20.7 8.9h0m57.1 -20.5h0m-110.3 26.9h0m46.3 4.1h0m-65.7 10.8h0m49.6 -17.3h0m100.6 -27.7h0m-159.1 31.8h0m47.7 -2.6h0m30.2 2h0m-10.8 -1.8h0m-30.8 4.5h0m33.6 13.3h0m-11.7 -11.2h0m27.7 -1.2h0m-29.6 -7.1h0m20.2 -19.6h0m-38.2 33.5h0m59.1 -18.4h0m-37 12.8h0m-14 -4.2h0m-27.1 -11.4h0m112.6 -15.5h0m-81.5 35.9h0m50.6 -6.5h0m2.3 15.9h0m36.7 -23h0m-73.6 28.8h0m65.5 -33.6h0m-41.3 31.7h0m-21.4 -27.1h0m6 -2.7h0m35.1 -7h0m-68.1 19.2h0m9.9 3h0m-19.6 -0.1h0m89 -15h0m-51.8 24.5h0m64.9 -28.3h0m-34.1 13h0m26 -1.2h0m-22.7 9.9h0m-56.5 -1.5h0m39 4.7h0m48.1 -19.6h0m29.7 -32.5h0"/><path id="p126" d="M482.5 -279.5h0m-34.2 12.8h0m13 1.9h0m-84.9 79.7h0m87.2 -117.9h0m-12.9 17.3h0m-30.5 56.7h0m13.9 -53h0m1.3 40.6h0m-2 -40.8h0m10 25.9h0m39.4 -77.3h0m-85.7 107h0m46.3 -45.9h0m-26.9 61.7h0m47.5 -57.9h0m1.1 -26.7h0m23.3 -9.6h0m-36.8 24.5h0m-42.6 45.3h0m11.7 0.7h0m27.1 -36.4h0m2 -12.8h0m-32.8 67.5h0m37.8 -43.4h0m2.5 -12.6h0m14.3 -8.1h0m-44.9 48.1h0m17.4 -29.2h0m-17.1 39.1h0m42 -61.4h0m-21.2 25.9h0m4 12.2h0m18.7 -15.9h0m-20.7 -26.6h0m-22.6 35.7h0m21.6 -28.4h0m44.4 -29h0m-67.3 49.6h0m61.7 -15.4h0m-99.1 72.4h0m93 -104h0m-40.5 48.4h0m45.5 -54.1h0m-6 27.3h0m-18 14.2h0m-20.6 19.6h0m11.1 3h0m-17.9 4.3h0m24.3 -30.3h0m0.1 19.4h0m5.8 -25.1h0m-14.8 -17.3h0"/><path id="p127" d="M519.6 127.7h0m-53.3 -6.4h0m-5.6 11.6h0m-0.8 11.2h0m8 -29.9h0m88.8 20.2h0m20.1 -15.7h0m-50.4 26.3h0m-46.3 -8h0m-48.6 4.9h0m50 -12.8h0m16.5 8.7h0m-56.2 20.8h0m82.3 -31h0m-11.6 -8.3h0m2.4 11.9h0m-51.4 3.7h0m78.2 5h0m-22.2 2.4h0m-38.4 -9.8h0m-41.4 9.5h0m57.9 -3.9h0m40.9 8.2h0m-104.6 -11h0m82.8 -4.1h0m54.4 -18h0m-41.8 12.6h0m-62 -3.3h0m88.3 15.2h0m17.1 -7.2h0m-98.6 6.5h0m35.9 -22.2h0m-20.4 19.5h0m-7.8 -6.9h0m46.1 -13.2h0m-62.9 33.6h0m13 -2.3h0m35.8 -9.5h0m-16.9 -12.6h0m-37.6 27.3h0m13.5 -12.1h0m-42.1 1.1h0m68.1 -4.9h0m31.3 -5.6h0m-13.5 7.8h0m-26.8 1.6h0m72.9 -28.5h0m-88.1 38.9h0m68 -36.9h0m-67.4 40.7h0m78.9 4.6h0m-127.7 -30.9h0m104.8 -6.8h0m-50.8 20.5h0m14.9 -7.1h0m8.5 0.9h0"/><path id="p128" d="M407.3 -231.3h0m28.9 -32.5h0m6.6 -18.6h0m7.4 18.3h0m9.5 -26.5h0m-19 58.9h0m-13.6 -6.8h0m2.2 -10.3h0m25.7 -48.6h0m-56.3 78h0m71.1 -76.1h0m-64.1 75.1h0m29.3 -9.1h0m49 -116.5h0m-0.3 41.3h0m-32.5 62.6h0m-41.1 5.9h0m42.3 -47.1h0m23.3 -0.2h0m-13.9 -13.6h0m27.9 -3.7h0m-3.1 20.1h0m-25.8 -7.9h0m-72.2 67.2h0m-0.3 28.2h0m45.6 -47.8h0m-23 -5.3h0m70.3 -94.9h0m-6.3 65.6h0m-78 75.1h0m25.9 -68.8h0m-11.8 42.7h0m6.1 -0.3h0m50.4 -66.4h0m-4.4 22.4h0m-25.3 27.9h0m-13.6 21h0m12 9.7h0m-30.8 1.7h0m69.5 -86.1h0m-3 -14.8h0m-74.2 109h0m9.2 -32.7h0m52.2 -39h0m-2.7 -0.5h0m-13.4 10.7h0m17.7 -6.4h0m-15.4 23h0m1.1 -3h0m9.7 -6.3h0m32.1 -91.2h0m-50.5 56.8h0m4.5 38.7h0m11.1 -1.6h0m-35.3 -2.1h0m43.2 -29h0m10.9 14.9h0m-25.4 7.8h0m-8.7 15.7h0m18.3 -8.5h0m22.7 -37.2h0m-28 34.8h0m17.2 -33.6h0m-46.5 54.6h0"/><path id="p129" d="M476.5 135.9h0m24 -7.9h0m89.8 -24.7h0m-121.5 49.5h0m33.4 -12.2h0m-56.1 0.7h0m115.2 -36.5h0m-16 14.5h0m-34.1 17.4h0m27.5 3.9h0m-128.6 10.8h0m97.7 -1.2h0m2.9 -5.1h0m24.4 -27h0m-65.5 8.4h0m48.5 1.6h0m27 -0.8h0m-10 7.1h0m-6 -3.3h0m-74.1 18.8h0m31 -15.6h0m37.5 -19.8h0m7.6 23.7h0m-67.9 5h0m125.9 -44.5h0m-63.2 30.1h0m-26.1 8.8h0m15.6 -18.1h0m-20.2 17.5h0m59.2 -9h0m13 -27.4h0m-98.9 35.1h0m24.4 -23h0m59.8 11.9h0m-127.8 3.9h0m93.8 2.3h0m-10.9 -14.6h0m18.9 16.9h0m9.3 -0.9h0m24 -9.4h0m-57.5 17.7h0m-42.7 -26.2h0m41.9 -0.3h0m47.5 7h0m-41.8 2.6h0m-45.1 13.1h0m121 -18.7h0m-37.7 13.8h0m-58.8 -6.6h0m-18.3 -12.3h0m24.4 17.4h0m26.7 -24.9h0m-41.2 9.1h0m-28.9 -1.1h0m9 30h0m118.6 -44.6h0m-80.1 42.7h0m-16 -32.2h0"/><path id="p130" d="M450.6 -279.7h0m-5.7 37h0m-7 -51.9h0m-13.3 60.5h0m15.3 -1.4h0m-50 18.2h0m89.9 -81.9h0m-29.8 27.3h0m-30.6 5.6h0m23.1 17.4h0m-33.1 10.4h0m13.8 16h0m57.4 -59h0m-24 38.9h0m30.9 -58.3h0m-15.2 41.3h0m-44.8 23.2h0m25.6 -9.8h0m-0.9 -21.9h0m-4.3 1.5h0m27.5 -33h0m-21.5 51.3h0m-21.5 4.4h0m59.5 -42.9h0m-7.8 -25.1h0m-5.5 -0.7h0m-32.8 50.1h0m-16.9 38h0m56.9 -66.6h0m0.1 -36.2h0m-33.1 54.5h0m34 -57.9h0m-23.8 72.1h0m-34.4 -3.6h0m7.1 43.6h0m13.4 -50.1h0m-18.5 -7.7h0m43.1 -44.1h0m-57.8 70.2h0m3.2 -5.1h0m-7.8 23.6h0m28.7 -41.3h0m25 5.8h0m-41.9 9.4h0m11.2 13.8h0m19.5 -14.7h0m-52.3 45.9h0m28.2 -31.9h0m55.1 -54.2h0m-55.8 26.8h0m11.8 7h0m17 -21.2h0m-46.8 69h0m33.2 -41.1h0m38.1 -44h0m-66.3 81.3h0m31 -35.2h0m28.3 -40.5h0m-84.8 70.6h0m99.2 -133.8h0m-45 97.4h0m-32.5 35.2h0"/><path id="p131" d="M486 115.9h0m-41.6 14.7h0m60.3 0.6h0m-64.5 19.4h0m88.5 -9.5h0m-29.9 -18.3h0m78.1 -12h0m-51 13.7h0m-46.5 5.7h0m100.1 -26.2h0m-128 23.2h0m50.6 16.9h0m4.5 -21.9h0m-60.6 14.2h0m112 -18h0m-40.3 24.8h0m18 -32.5h0m-64.5 23.2h0m5.9 8h0m48.5 -9.9h0m27.7 -4.9h0m-69.7 13.3h0m18.7 -8.1h0m-15.5 16.9h0m117.6 -40.2h0m-119.8 24.4h0m-5.3 -12.9h0m6.5 14h0m19.4 12.5h0m44.1 -13.7h0m-11.7 -0.4h0m96.1 -59.6h0m-105.4 32.4h0m-52.4 38.2h0m-67.5 -22.3h0m18.6 8.5h0m22 -12.7h0m45 7.3h0m-20.4 16.3h0m6.6 2.8h0m43.5 -31.2h0m-31.7 -1.3h0m24.5 17.7h0m-4.4 8.9h0m-45.5 -20.3h0m-31.1 20.1h0m123.1 -13.5h0m-80.2 -8.2h0m4.5 6.9h0m-12.3 24.6h0m59.9 -27.8h0m-19.9 3.5h0m9.3 9.5h0m-21.8 -8h0m-4 23.1h0m-3.3 16.2h0m56.5 -45.4h0m-8.7 1.4h0m-14.8 5.2h0m-17.2 -6.2h0m59.8 -13.3h0m-70.8 10.2h0m55.5 -10.5h0m-33.7 8.9h0m22.6 34.9h0m-38.3 -9.3h0m-3.5 -7.9h0m9.3 -20.6h0m-14.7 16.5h0"/><path id="p132" d="M444.7 -236.8h0m1 -24h0m10 9.7h0m-10.1 -16.4h0m-9.8 39.3h0m41.4 -79.1h0m-27 8.7h0m11.8 -6.1h0m17.8 -1.3h0m-2.3 4.7h0m-9.2 17.6h0m4.4 -2.2h0m-23.7 24.7h0m-26.7 24.7h0m2.4 -9.7h0m23 -12.7h0m44.1 -102.1h0m-47.8 113.2h0m27.5 -54.6h0m4.4 -39.4h0m6.2 67.3h0m-39.6 -16.2h0m0.6 27.5h0m33.3 -9.6h0m-28.5 21.9h0m38.2 -103.6h0m-53.3 115.1h0m7.8 -8.6h0m12.3 14h0m20.6 -90.9h0m7.5 -11.9h0m17.8 -2.4h0m-74.2 62.7h0m18.9 35.1h0m36.3 -77.9h0m-74.1 69.3h0m67.2 -23.7h0m5.9 4.8h0m-6.3 -13h0m-78.8 68.6h0m72.7 -72.2h0m-11.7 23.6h0m-0.7 0.2h0m6.9 -68.2h0m-23 69.8h0m-42.9 32.6h0m44.3 -15.2h0m-6.7 32.5h0m30.5 -49.9h0m-42.5 8.5h0m33.5 -26h0"/><path id="p133" d="M508.8 120h0m-51.5 10h0m-15 -1.3h0m87.5 3.8h0m5.8 -3.9h0m-100.9 5.1h0m92.9 -0h0m15.1 -16.5h0m5.5 7.9h0m-102.7 6.1h0m19.9 7.6h0m38.9 -6.2h0m56.9 -2.7h0m34.6 -16.6h0m-48.5 10.3h0m-87.7 8h0m22.6 -17.8h0m33.5 13.4h0m-37.4 2.9h0m1.3 -0.5h0m-49.5 12.7h0m93.7 -23h0m7 12.2h0m2.2 -4h0m-27.2 11.6h0m-4 -19.1h0m-43.6 18.1h0m51.7 -6.7h0m8.6 -3.4h0m-30.3 -8.5h0m-52.5 0.3h0m68.5 -6.9h0m-10.7 36.2h0m3.2 -32.8h0m-50.7 9h0m-16.8 21.3h0m108.8 -22.6h0m-10.5 13.8h0m2 -34.7h0m38.1 7.9h0m-74.8 47h0m-0.1 -3.3h0m0.7 -23.8h0m20.8 5.1h0m-10.2 -8.8h0m42.5 31.8h0m14.6 -68.5h0m-24.1 26.4h0m10.4 -14.2h0m-23.2 23.6h0m12.8 10.5h0m-13.1 -4.8h0"/><path id="p134" d="M478.3 -341.4h0m-96.1 142.1h0m82.8 -96.7h0m-26.3 58.1h0m20.1 -42.1h0m24.6 -47.8h0m-95.8 77.1h0m26.5 -23h0m43.6 -24.8h0m13.3 28h0m-37.3 52.9h0m20.5 -43.4h0m19.2 -24.6h0m-66.2 66.2h0m65.2 -84.8h0m-43.1 39.5h0m-49.6 57.5h0m52.3 -57.6h0m22.1 -36h0m4.9 30.7h0m-43.7 66.9h0m50.9 -57.1h0m-2.8 -27h0m15.5 -22.4h0m-8.6 32.6h0m-51.6 33.4h0m35.2 -40.3h0m-25.6 36h0m27.4 -14.2h0m-12 -3.9h0m14.4 -20.4h0m-42.8 57h0m2.1 -4.1h0m-4.8 43.4h0m62.5 -94.7h0m-21 23.3h0m35.4 -37.1h0m-16.7 34.8h0m0.2 -35.2h0m-28.1 32.7h0m2.5 17.9h0m43.9 -88.8h0m-86.3 111.7h0m33.5 -52.2h0m58 -8.7h0m-17.5 -4.2h0m-9.6 -0.3h0m-49.8 39.8h0m75.2 -29.7h0m-48.8 35.8h0m44.1 -109h0m-15.8 36.1h0m-22.8 37.1h0m-32.5 19.8h0m46.7 -31h0m-5.5 27.7h0m-6.6 -10.1h0m-17.9 14.7h0m34.7 -51.4h0m-50.7 35.5h0m31.1 6.4h0m-8.4 42.3h0m9.6 -46.9h0m-6.3 6.9h0m22.3 1.1h0m-9.9 -20.4h0m-29.4 39.1h0m3.3 11.1h0"/><path id="p135" d="M486.4 118h0m23.6 39.9h0m-36.9 -15.5h0m-8 -8.5h0m61 7.1h0m-11.2 5.1h0m-15.2 -18h0m57.6 -25.3h0m-90.8 24.6h0m38.2 -3.4h0m48.1 8.5h0m-36.9 -12.3h0m-48.1 18.4h0m-25.6 -12.1h0m104.5 -7.9h0m-105.1 12.7h0m-0.7 -6.6h0m92.6 15.5h0m-98 -3.9h0m78.4 0.3h0m13 -7.7h0m27.5 -36.5h0m-153.7 23.8h0m78.1 21.1h0m82.4 -30.7h0m-46.2 44.4h0m-32.9 -11.1h0m5.2 11.7h0m33.8 -25.9h0m15.9 4h0m-115 9.7h0m26.7 -4.8h0m25.4 27.4h0m-72.6 -18.3h0m128.9 -14.5h0m-36.2 -0.8h0m-12.4 -1.5h0m-76.6 -0.1h0m8.7 -1.7h0m12.8 8.9h0m8.1 -6.2h0m10.1 24h0m93.1 -46.8h0m-124.4 42.2h0m48.7 -27.9h0m-34.6 12.1h0m55.7 -18.8h0m14 19.8h0m-37.6 10.6h0m102.4 -13.2h0m-169.3 2.6h0m45.8 -3.7h0m36.2 -11.3h0m35.6 12.9h0m3.5 -9.6h0m-44.7 29.5h0m35.2 -24.8h0m-30.9 8.1h0m20.3 -10.1h0m-30.1 13.5h0m58.1 -1.4h0m-47.8 -15.9h0m48.2 16.9h0m-0.2 -18.3h0m-54.9 18.7h0m8.4 -19.8h0"/><path id="p136" d="M418.1 -245.7h0m27.6 -42.5h0m44.8 -53.7h0m-76.7 135h0m64.9 -132.4h0m-24 72.9h0m7.6 -11h0m-16.1 26.1h0m-11.7 2.9h0m-12.6 18.3h0m67.3 -105.7h0m-57.7 88.5h0m-13.3 18.4h0m-1.7 12.7h0m-5 7.1h0m33.3 -67.7h0m-5.4 15.8h0m37 -67.2h0m-29.8 62h0m-1.5 -4.1h0m14.5 -1.6h0m-14.3 -25.4h0m-39.6 94.1h0m-26 -16.8h0m39.2 -9.5h0m51.6 -75.8h0m-34.9 83.1h0m-22.4 -13.9h0m13.6 -19.1h0m-49.1 54.1h0m76.9 -41.9h0m-12 -18.7h0m-38 80.8h0m-18.5 -41.4h0m81.7 -74.3h0m-52.4 37.9h0m68.4 -61.1h0m-97 101.7h0m28.1 -5.5h0m50.4 -64.3h0m-23 2.5h0m12.1 -13.3h0m-95.2 89.5h0m84.9 -63.7h0m-51.5 41.2h0m-2.3 17.8h0m52.9 -46.6h0m-1.8 -8.2h0m-0.2 31h0m-13.8 -33.9h0m-8.6 45.4h0m0.9 1.9h0m33.1 -36.7h0m26.7 -58.9h0"/><path id="p137" d="M488.3 110h0m-25.6 21.4h0m57.7 -8.5h0m-4.3 4.8h0m-83.9 21.5h0m95.3 -16.6h0m-30.5 -9.5h0m-14.2 -3.1h0m-59.5 18.7h0m-6.9 -12.4h0m121.4 -6.4h0m-14.5 -8.4h0m-21.8 52.6h0m-57.8 -29h0m84.2 -3h0m-14.7 19.8h0m27.5 -22.5h0m-86.8 9.2h0m53.7 -12.6h0m-30.7 -9.1h0m47.5 27.7h0m42.3 -6.2h0m-59.2 -18.2h0m12.1 7.9h0m-54.7 -12.3h0m-8.6 12.7h0m-57.9 -9.4h0m161.4 8.3h0m-58.2 -14.1h0m-22.4 5.3h0m76.1 12.4h0m-13.8 2.3h0m-136.6 22.4h0m152.5 -43.1h0m-111 18.9h0m-42.5 22.2h0m112.1 -18.2h0m-122.8 -17.8h0m126.1 7.9h0m-69.5 -4.8h0m98.8 2.3h0m-3.2 12.6h0m-66.5 -6h0m-26.5 -19.5h0m65.3 10.9h0m-49.5 9.5h0m-13.8 15.3h0m74.5 -13.3h0m20.7 -7.7h0m-144.2 -6.9h0m12.3 15.5h0m39.2 -14h0m108.4 13.3h0m-110.4 9h0m-27.6 -21.5h0m129.8 25h0m-125.9 2.2h0m6.8 -9.5h0m124.3 -43.1h0m-107.2 38.9h0m-43.1 -19h0m155.7 -8.6h0"/><path id="p138" d="M473 -294.1h0m-47.1 56.7h0m-29.9 8.2h0m-15.9 33.5h0m94.7 -89.7h0m-84.3 99.2h0m83.4 -117.9h0m-107.5 110.3h0m43.1 9.6h0m21 -60.7h0m-18.5 18.9h0m45.8 -40.6h0m-14.9 -4.1h0m-17.9 28.5h0m35.6 -24.1h0m-1 -17.4h0m-90.5 82.4h0m97.2 -111.5h0m-47.6 94.5h0m12 -25.5h0m-22.3 55.3h0m4 -56.6h0m-0.9 2.9h0m39.2 -18.1h0m-8.3 4h0m25.3 -21.4h0m13.4 -46.2h0m-46.3 90.8h0m-39.9 13.1h0m42.4 -65.2h0m-4.5 19.4h0m-55.8 85h0m89.7 -124.6h0m-22.5 16.5h0m-43.4 82.9h0m16.2 -41.8h0m27.7 -53h0m41.3 -1.2h0m-40.9 34.8h0m10.5 -6.4h0m-37.5 53.5h0m-23.1 7.7h0m21.4 1.5h0m-5.8 -8.7h0m56.3 -84.9h0m16.8 -0.4h0m-78.2 97.7h0m20 -27.3h0m63.3 -73.3h0m-86.7 93.1h0m-27.4 30.5h0m65.7 -49h0m15.6 -26.2h0m-76.7 78.1h0m79.6 -70.1h0m-43.2 21.1h0m35.8 -18.9h0m8.3 -10.9h0"/><path id="p139" d="M450.1 129.2h0m-26.1 1.5h0m-6.4 3.5h0m128.5 -2.8h0m-97.5 17.9h0m82.9 4.4h0m-139.8 -16.1h0m155.8 -18.7h0m-50 19.7h0m-91.1 7.6h0m73.5 -9.7h0m9.2 -0.8h0m-65.8 -5h0m58.6 10.8h0m-64.4 -0.1h0m43.2 -13.5h0m94.3 -4.2h0m-53.6 -16.5h0m-29.4 30h0m-38.4 -9.3h0m-38.4 -1.9h0m38.8 1h0m-32.1 13.6h0m-7.3 -2.9h0m165.1 -7.8h0m-14.2 12.3h0m9 -29.5h0m-124.6 21.6h0m-32.1 6.5h0m23.6 -39.9h0m13.9 39.8h0m-1.7 9.6h0m118.9 -14.6h0m-8.9 -14.3h0m-130.6 4.7h0m95.3 3.5h0m56.9 13.8h0m2.8 -39.1h0m-102.9 20.4h0m19.7 10.8h0m20.5 -19.4h0m-75.8 23.9h0m-0.5 10.6h0m13.9 -7.7h0m55.4 3.4h0m23.9 -14.3h0m45.8 -9.5h0m-165.4 10.1h0m160.9 -18.5h0m-11.9 -1h0m-153.8 9.2h0m154.3 -3.3h0m3.5 9.5h0m-102.4 7.7h0"/><path id="p140" d="M377.7 -180.1h0m22.8 -41.5h0m14.6 -7.8h0m45.9 -30.5h0m-35.9 22.5h0m-38.2 10.7h0m11.7 10.8h0m-14.7 3.9h0m20.7 7h0m-21.8 -6.6h0m62.4 -83h0m9.3 18.1h0m21.3 -19.2h0m-71.8 79.5h0m-21 -2.5h0m71.2 -11.3h0m1.3 -44.7h0m-57 104.8h0m9.2 -65.8h0m-35.6 36.8h0m54.5 -50.9h0m-17.9 23.9h0m84.8 -85.9h0m-44.4 65.9h0m-22.4 4.1h0m57.3 -68.7h0m-71.8 93.8h0m7.2 -3.5h0m20.2 -49h0m43.3 -51.9h0m-90.2 157.7h0m87.1 -157.8h0m-56 99.3h0m5.7 -25.6h0m22.8 -26.4h0m-80.5 90.2h0m35.4 -34.8h0m-5.8 23h0m-0.9 -0.6h0m-22.7 -3.9h0m69.7 -78.4h0m11 8.3h0m-6.3 -0.3h0m17.2 -10.7h0m-102.5 92.2h0m41.1 -54.8h0m33.7 -3.3h0m-61.4 44.9h0m75.8 -111.9h0m35.2 29.9h0m-51 38.8h0m-24 19.9h0m58 -61h0m-82.9 64.5h0m57.9 -73.4h0m-9.7 46.6h0m-15.6 -11.3h0m-14.3 59.1h0m48.6 -73.6h0m-60 65.4h0m-7 42.5h0m57.2 -105.7h0m29.9 -11.4h0m-96.1 94.9h0m40.1 -54.5h0m49.7 -29.1h0"/><path id="p141" d="M500.6 132.5h0m30.5 -10h0m8.2 17.2h0m16.4 -27.9h0m-9 9.9h0m15.4 -13h0m-160.8 31.5h0m143.7 -9h0m-112.7 20h0m90.6 -28.7h0m14.9 4.6h0m0.6 -2.1h0m-88.2 2.6h0m102.5 -17.4h0m-117.2 30.3h0m17.1 4.7h0m98.4 -21.1h0m-93.8 11.3h0m101 -1.5h0m-18.2 -22.1h0m-111 0.6h0m11.6 16.6h0m76.7 7.7h0m-28 -25.5h0m13.2 28.8h0m-66.2 -5.2h0m54.6 -18.7h0m56.5 -8.7h0m-92.6 17.8h0m-43.5 -8.9h0m-9.7 27.6h0m46.8 -15.2h0m89.9 -6.1h0m-10.5 15.2h0m-20 -19.4h0m17.3 -1.1h0m2.3 -23.4h0m-75.5 42.9h0m59.3 0h0m-49.6 -3.3h0m10.8 -16.2h0m14.9 13.4h0m-76.6 19.1h0m150.3 -29.3h0m3.7 1h0m-168 -0.6h0m156.5 -14.5h0m-70.5 23.7h0m-62.2 -0.9h0m136.1 -18.7h0m-9.9 19.6h0m-43.1 -2h0m-105.8 20.7h0m49 -5.4h0m99.8 -22.9h0m-74.9 8.8h0m7.1 -0.4h0m-17.6 3.1h0"/><path id="p142" d="M484.1 -286.7h0m-75 71.9h0m3.3 -20.6h0m30.1 -35.4h0m-16.1 30.8h0m26.7 1h0m-74.1 31.4h0m-2.9 19.8h0m-6.6 -3.6h0m32.2 -41.9h0m42.2 -19.5h0m41.4 -48.1h0m-42.3 20.7h0m-54.7 85.9h0m6.9 -27.7h0m86.8 -82h0m-78 71.1h0m-18.3 42.9h0m-10.8 -11.1h0m3.4 22.4h0m107.1 -87.6h0m-4.7 -39.5h0m-90 92.7h0m54.5 -50.1h0m-37.6 49.1h0m11.6 2.1h0m6.5 8.7h0m71.7 -104.3h0m-33.8 38.1h0m-4.5 -57.1h0m-84.3 144.4h0m71.3 -94.8h0m14.2 -1.8h0m19.3 5.9h0m-43.8 33.9h0m-10.1 15h0m38.9 -46.9h0m35.1 -15.8h0m-47.4 12.8h0m-11.7 31.4h0m-32.2 14.1h0m24.6 13.5h0m45.7 -72.4h0m-32.9 12.8h0m26.3 -14.9h0m-7 -0h0m-93.4 103.1h0m81.1 -72h0m15.2 -18.9h0m-44.1 37.8h0m9.1 7.3h0m0.2 -41.1h0m-32.2 70.7h0m17.8 -16.8h0m-36.4 45.2h0m94.8 -150.1h0m-49.3 81.5h0m41.6 -41.2h0m-90.7 104h0m47.1 -71h0m42.6 -42.4h0m-37.5 55.9h0"/><path id="p143" d="M469 125.2h0m-70.9 5.3h0m140.6 -11.3h0m16 0.3h0m-42.6 20.1h0m-98.6 -5.2h0m107.7 -14.9h0m32 11.8h0m-41.7 19.3h0m-55.9 -11.4h0m112 -16.2h0m-172.8 13h0m128.7 -8.6h0m24.7 -1h0m-73 15.6h0m51 -10.9h0m-45.9 0.8h0m-17.7 -4.5h0m19.5 20.3h0m-76.9 0.4h0m120.7 -3.2h0m-75.1 -9.1h0m25.6 -4.1h0m-40.8 7.1h0m118 -14.6h0m-3.6 12.7h0m-77.7 -5.6h0m12.8 6.5h0m-72.6 7.9h0m-6.6 -8.5h0m75 22.1h0m-44.4 -38.2h0m-15.9 14.1h0m57.9 -17h0m18.2 9.2h0m-42.4 14.8h0m2.3 -16.2h0m-41.7 19.5h0m38.6 -18.9h0m-9.4 21h0m-25 -12.3h0m-16.4 5.2h0m39.6 11.8h0m-11.5 -7.6h0m-31.3 -8.5h0m-5.1 6.1h0m21.4 8.3h0m107.4 -41.5h0m-21.5 3h0m48.1 24.6h0m-57.7 -6h0m-54.1 -14.1h0m59.5 5h0m33.3 -5.2h0m-52.8 8.2h0m91.4 2.7h0m-69.6 3.7h0m-57.7 -1.2h0m-17.7 5.6h0m29.9 2.4h0m-31.1 3.9h0m92.5 -22.7h0m4.6 22.9h0m-128.5 6.2h0"/><path id="p144" d="M423.4 -219h0m1.7 -11.5h0m-24.8 42.6h0m56.3 -95.1h0m38.7 -0.9h0m-109.5 95h0m45.7 -60h0m-58 51.9h0m105.4 -91.6h0m-26.2 5.3h0m-56.6 69.1h0m21.1 -8h0m44.8 -38.1h0m-8.6 -1.2h0m-14 21.5h0m41.7 -37.7h0m-92.2 70.8h0m43.1 -8.1h0m1.2 -27.1h0m57 -57.7h0m-16.6 -1.9h0m6.4 -23.3h0m-96.6 148.5h0m96.9 -127.8h0m0.6 8.8h0m-28.9 45h0m25.1 -42.1h0m-4.2 -16.2h0m-59.4 72.4h0m-35.4 46.6h0m21 -31.7h0m9 -1.8h0m75 -89.1h0m-33.9 70.9h0m-8.9 -9.7h0m40.6 -53.7h0m-94.1 113.3h0m87.4 -91.5h0m-17.7 6.4h0m-31 22.2h0m14.6 2.3h0m-12.7 15.6h0m14.1 -20.8h0m28.6 -37.8h0m-35.6 64.4h0m27.4 -65.9h0m-30.9 63.1h0m-2.5 0.4h0m-24.5 -17.6h0m39.4 -9.2h0m1.6 9.2h0m-54.3 42.2h0m38 -21h0m52.7 -79.2h0m-43.2 28.2h0m-22.3 34.8h0"/><path id="p145" d="M447 130.6h0m92.4 -4h0m-139.8 18.4h0m117.3 -27.6h0m18.8 14.2h0m-80 -3.5h0m-34.7 -6.9h0m-21 -4.8h0m167.6 10.2h0m-40.2 -1.7h0m-12.5 3.1h0m4.8 -11.9h0m-1.6 17.9h0m21.9 -2.7h0m-8.3 -20.6h0m2.8 23.3h0m-1.8 5.7h0m32.7 -16.6h0m-86.7 1.4h0m57.8 -8.5h0m-141.9 32h0m49.1 -30.9h0m90 -9.4h0m-91.2 31.3h0m12.6 -3.1h0m20 4.4h0m58.4 -7.3h0m-9.5 -15.4h0m-6.8 14.3h0m-111.2 16.9h0m82.5 -34h0m-45.2 37.3h0m118.3 -36.5h0m-129.1 25.1h0m79.2 -9.2h0m-22.6 8h0m56.8 -22.4h0m-135.1 3.9h0m115.7 18.2h0m-78.7 1.1h0m16.5 -1.2h0m-51.5 1.3h0m153.1 -18.2h0m-128.2 5.8h0m-35.5 18.9h0m23.5 -25.2h0m39.4 6.5h0m-66.4 12.4h0m81.1 13.6h0m-16.7 -38.5h0m13.3 32.4h0m36.3 -13.6h0m-63.2 9.3h0m8.5 -24.5h0m60.6 15.6h0m-43.2 -6.3h0m3.5 6.2h0m45.7 1.3h0m26.8 -21.7h0m-62.3 13.7h0m-8.4 -5h0m82.5 -6.2h0"/><path id="p146" d="M374.9 -185.1h0m112.6 -99.5h0m-81.3 89.8h0m12.1 -40.5h0m22.8 -18.3h0m-20.2 -10.2h0m63.5 -37.6h0m-34.4 3.1h0m-74.5 102.7h0m93.6 -114.6h0m21.5 -3.6h0m-112.5 130.1h0m99.9 -99.9h0m-67.4 73h0m65.6 -106.6h0m-1.3 17h0m-9.7 27.3h0m23.6 -14.1h0m-48.2 55.4h0m33.4 -64.1h0m-3.6 -12h0m-13.9 13.3h0m-14.3 71.3h0m1.2 -20.3h0m-22 8.8h0m44.7 -37.2h0m-25.4 0.1h0m-48.9 98h0m82.8 -100.9h0m2.7 -13h0m-23.1 -25.1h0m-4.7 39.2h0m-30.4 20.6h0m15.3 0.2h0m33.4 -43.1h0m-5.2 10.7h0m-16.7 35.2h0m43 -57h0m-65.8 34.1h0m56.9 -44.3h0m-107.8 116.3h0m76.1 -31.9h0m-51.9 28.7h0m85.9 -87.4h0m-95.9 73.3h0m27.7 -8.8h0m37 -42.1h0m-45.9 41h0m67.5 -103.4h0m-85.4 133.4h0m47.4 -43.7h0m-13.3 -6.2h0m42 -39.2h0m-76 111.5h0m78.7 -80.4h0m-0.4 -53h0m-36.8 50.9h0m-26 34.5h0"/><path id="p147" d="M533.5 138.3h0m-26.5 15.1h0m-49.6 -19.7h0m110.6 -19.1h0m-60.3 -9.8h0m17.3 42.5h0m-93.8 -28.2h0m-3.6 20.4h0m-10.6 -4.8h0m67.1 -2.5h0m-91.9 17.4h0m135.5 -35.4h0m-62.2 37.3h0m92.6 -34.3h0m-6.5 -20.9h0m-1.4 32h0m16.2 11.7h0m-142.6 -4.8h0m133.6 -27h0m-91.9 40.2h0m-16.4 -25.1h0m11.2 -4.4h0m-26.4 20.6h0m107.8 -25h0m-73.9 17.9h0m83.2 0.8h0m-37.9 -1h0m48 -8.2h0m-18.7 -5.9h0m-61.4 -9.3h0m-18.8 22.9h0m-70 3.5h0m35.4 -22.2h0m134.8 4.1h0m-133.3 16.5h0m84.9 -4.2h0m52.7 -21.4h0m-111.7 31.4h0m-14.8 3.3h0m23.6 -8h0m-46.6 12.4h0m-21.3 8h0m71 4.1h0m91.2 -32.3h0m-149.7 -21.1h0m102.5 29.8h0m39.9 -12.6h0m-26.6 2.2h0m-108.7 11.8h0m-1.9 1.1h0m129.8 -7.2h0m11.5 -16.4h0m-30.4 13.5h0m28.5 6h0m-52 -5.9h0m-56.7 -0.1h0m27.3 -0.6h0m-79.8 13.1h0m158.4 -16.3h0m-148.5 17h0m116.4 7.3h0m-32.1 -11.1h0m-37.7 -15h0m-25.8 7.4h0m130.2 -10h0m-129.2 25h0m108.8 3.7h0"/><path id="p148" d="M400.8 -224.6h0m-22.3 35.6h0m37.7 -40.8h0m36.4 -43.1h0m26.5 3.2h0m-107.9 86h0m89.6 -93.8h0m13.7 8.4h0m-61.1 76.4h0m58.3 -115.8h0m-43.4 58.1h0m40.6 -78h0m-58.9 131.5h0m-4.3 -33.2h0m55.9 -43.4h0m5.4 -43.9h0m-53 110.9h0m-27.8 20.9h0m-1 -24.6h0m39.2 -21.2h0m51.9 -55.8h0m-87.6 81.8h0m17.6 -55.9h0m63.2 -8h0m-28.4 6.5h0m-1.1 13.5h0m45.5 -70.2h0m-76.7 91h0m13.7 9.1h0m-0.1 -18.3h0m6.9 -44.4h0m-9.7 53.8h0m71.5 -75h0m-93.7 130.5h0m23 -69.3h0m-37.3 47.8h0m-5.4 15h0m61 -95.3h0m35.1 -10.5h0m-39.1 38h0m-14.9 15.8h0m60.4 -63.2h0m-56.4 57.4h0m47 -75.5h0m-104.3 102.3h0m103.1 -50.8h0m-76.5 75.2h0m89.5 -110.5h0m-35.6 30.6h0m45.6 -38.9h0m-20.9 50.1h0m-75.8 35.6h0m31.5 1h0"/><path id="p149" d="M553.6 106.8h0m-6.7 10.9h0m-114.5 1.5h0m-37.3 25.1h0m65.6 -18.2h0m-60.2 6.4h0m48.4 10.9h0m-29.4 3.7h0m-21.7 19.3h0m145.3 -55.7h0m-8.5 23.9h0m26.7 -18.9h0m-24.6 6.1h0m-84.2 -7.2h0m23.2 -0.5h0m-79.6 18h0m92.2 -10.9h0m61.8 -2.3h0m-71.9 31.3h0m85.1 -27.8h0m-98.9 4.3h0m-60.5 32.2h0m112.8 -25.1h0m-97.4 -18.2h0m46.8 14.1h0m-25.5 -1.5h0m65.4 3.2h0m58 3.1h0m-159.7 -0.5h0m107.5 3.3h0m35 -7.8h0m11.4 -24h0m-159 29h0m159.9 -5.6h0m3 -4.7h0m-52 4.1h0m42.9 -11.3h0m-45.3 22.5h0m-89.7 13.2h0m70.6 -46.2h0m48.1 38.8h0m4 -31.7h0m-64.9 24.9h0m-73.8 8.5h0m50.5 -19.2h0m104.7 -10.3h0m-92.2 13.2h0m9.3 -0.9h0m11.3 -0.7h0m30.1 -10.8h0m22.2 -6.2h0m-44.3 33.2h0m-64.6 -40.3h0m66.4 13.5h0m-78.1 11h0m42.9 -5.5h0"/><path id="p150" d="M405.2 -228.4h0m-2.1 6.6h0m15.1 -3.9h0m60.4 -88.8h0m-42.8 67h0m-60.8 41.2h0m47.3 -45.7h0m36.4 -56.3h0m-50.9 89.8h0m10.1 -34h0m-9 -5.8h0m59.1 -44.2h0m-3.4 18.7h0m11.8 -40.3h0m-45.5 97.2h0m52.4 -89.2h0m-8.3 9.1h0m-98.2 107.1h0m9.1 1.5h0m60.5 -69h0m-59.5 78.2h0m87.6 -97.7h0m-5.9 1h0m-63.5 43.2h0m37.2 -60.3h0m-46.6 105.5h0m49 -57.1h0m31.6 -72.5h0m-105.6 141.9h0m95.9 -142.5h0m11.8 32.4h0m-50.9 23.9h0m13.1 -12.2h0m-47.6 76.7h0m97.4 -89h0m-3.5 -14h0m-95.6 109.3h0m-9.2 -4.5h0m93.1 -105.6h0m3.6 12.3h0m5.6 1.7h0m-17.4 41.5h0m-48 41.5h0m63.3 -98.1h0m-62.9 92.8h0m58.2 -82.3h0m-17.1 29h0m-26.2 28.9h0m-12.1 24.1h0m48.8 -61.5h0m-44.7 11.1h0m39.9 -61.5h0m-45.2 71.4h0m-22.3 35h0m-4.2 10h0m-4.8 14.1h0m18.2 -25h0m64.3 -82.8h0m-25.9 69h0m-1.4 2h0m-67.7 26.1h0m96.1 -93.3h0m5.2 -11.3h0m-45 58.9h0"/><path id="p151" d="M544.3 138.8h0m11.4 -26h0m-5 1.7h0m-107.2 33.5h0m-26.3 -24.9h0m24.6 -10.7h0m22.1 21.7h0m-53.8 19.2h0m4.5 5.9h0m-13.7 -32.1h0m48.4 -2.2h0m68.1 -1.1h0m36.6 -1h0m-48.3 6.1h0m-101.3 17.6h0m32.1 5h0m-38.3 -13.8h0m92.2 -18.3h0m22.3 16.2h0m-110.3 27.1h0m128.7 -30.8h0m36.9 -17.3h0m-2.1 2.7h0m-155.1 7.5h0m87.7 13.1h0m-23.9 -10.4h0m-45.5 12.9h0m120 -40.2h0m-106 34h0m58.8 22.6h0m15.3 -30.6h0m21.2 2.8h0m-6.8 -7.4h0m-9.6 8.3h0m-105.9 8.6h0m17.7 -10.6h0m-17.6 18.6h0m63.1 -28.7h0m-52.4 13h0m117.7 -21.3h0m-69.4 26.5h0m-23.1 -18.2h0m96.2 -6.6h0m-103.1 46.3h0m-18 -39h0m96.3 17.7h0m-36.5 2.3h0m58.2 -17.4h0m-80.9 8.7h0m59.2 8.6h0m-29.9 -9h0m-4.7 -23.3h0m40.5 8.2h0m-25.9 7h0m-104.9 -3.6h0m104.7 28.1h0m18.1 -24h0m19 15.1h0m-118.8 11.5h0m14.4 -18.2h0m7.7 -6.7h0m93 6.6h0m-10.5 11.5h0m-110 4.6h0m-3.5 3.6h0"/><path id="p152" d="M470.2 -264.8h0m-11.5 -0.1h0m-20.5 30.8h0m-57.1 25.7h0m67.1 -59.1h0m-23.1 14.1h0m-25.2 43h0m25.5 -44.2h0m-22.3 39.5h0m-1.9 36.1h0m64.9 -76.3h0m-1.3 -17.6h0m-46.4 54.8h0m-57.1 24.1h0m14.1 3.9h0m38.7 -52.2h0m65.3 -13.6h0m-102.6 54.3h0m85.7 -53.4h0m-18 -48h0m11.2 -5.1h0m26.6 2.1h0m-37.9 10.5h0m8 25.8h0m-47.9 31.3h0m58.3 -52.3h0m28.9 2.2h0m-22.6 -18.4h0m-10.5 34h0m-45.2 48.8h0m43.3 -19.7h0m-10.3 -16.9h0m-76.3 52.7h0m114.8 -71.4h0m-83.4 64.9h0m58.5 -53.7h0m-5.6 -2.4h0m32.2 -43.1h0m-83.2 94.6h0m-27.8 -1.2h0m44.5 0.2h0m-41.8 24.5h0m99.6 -120.7h0m-30.9 61.8h0m-21.1 5.1h0m8.1 7.4h0m0.9 -25.2h0m14 28.3h0m-35.5 6.1h0m-11.6 -0.1h0m2.9 6.4h0m19.9 -29.5h0m-27.8 45h0m-14 6.8h0m-6.8 18.9h0"/><path id="p153" d="M402.4 150.9h0m76.9 -18.9h0m3.1 8.7h0m-4.9 -9.9h0m-43.4 0.1h0m45 3.1h0m55.7 8.5h0m-58 6h0m28.7 -24.4h0m57.2 -6.2h0m-138.8 10.7h0m72.1 -14.6h0m25.4 27.5h0m-129 12.1h0m171.1 -42.9h0m-150.2 30.1h0m8 -9h0m-11.4 4.6h0m144.8 -25.3h0m-114.5 27.5h0m67.1 -22.8h0m-83.5 31.5h0m73.3 -23.7h0m21.3 9.6h0m-23.6 -16.9h0m-20.6 -12.2h0m60.5 14.3h0m28 16.9h0m-74.2 -0.3h0m-22.3 4.6h0m61.5 -0.9h0m-101.8 1.3h0m86.9 1.6h0m-9.5 -22.5h0m-62.1 24.6h0m94.8 -19.9h0m-9.4 14.4h0m-14.2 -15h0m-77.6 13.5h0m-9.3 -10h0m-8.5 18.6h0m120.6 -13.6h0m-9.7 -8.5h0m-121.2 -0.4h0m48.8 26h0m-52.9 -0.7h0m66.8 -20.6h0m98.3 -20.2h0m-75.5 31.6h0m-85.6 -28.7h0m40.4 37.7h0m102.7 -8.3h0m-39.6 -17.7h0m9.9 18.9h0m21.3 -31.6h0m-112.3 29.1h0m56 -3.5h0m-63.4 -11.2h0m26.1 -11.9h0m-27 30.6h0m-22.8 -5.8h0m38.6 -3.2h0"/><path id="p154" d="M383.6 -174.8h0m26.7 -29.3h0m72.7 -103.7h0m-96.4 125h0m73.6 -86.6h0m-31.5 53.3h0m23.6 -28.9h0m31.3 -76.4h0m-9.2 23.1h0m-84.6 106.2h0m89.6 -90.4h0m-38.5 18.5h0m-56.6 91.5h0m-4.9 -13.5h0m53.6 -50.9h0m-46 37.4h0m88.6 -101h0m8.4 -4.5h0m-83.3 105.9h0m23.6 -2.1h0m-47.1 17.3h0m49.4 -75.4h0m60.7 -53.6h0m-70.9 68.5h0m65.1 -60.9h0m-30.4 45.5h0m-12.8 13.9h0m-16.1 -6.2h0m5.3 -9.5h0m-38.4 93.1h0m21.1 -36.1h0m30.4 -71.8h0m7.7 21.1h0m-13.4 -11.2h0m21.5 -2.3h0m-24.4 17.9h0m61 -34.4h0m-36.6 -36.1h0m42.1 18.7h0m-62.7 42.2h0m55.5 -27.1h0m-77.5 56.8h0m2.9 -18.9h0m19.6 5.9h0m-43.7 63.3h0m31.3 -57.4h0m26.5 -32.7h0m-2.6 1.5h0m-36.2 45.6h0m-11.1 4.5h0m-22.6 -1.7h0m53.4 -27.4h0m-18.4 38.3h0m-32.8 15.6h0m48.8 -30.4h0m49.2 -52.9h0m-68 58.8h0"/><path id="p155" d="M537.6 131.3h0m-113.4 6.4h0m-25.6 0.8h0m122.1 -25.3h0m-64.7 24.8h0m58.7 -21h0m47.6 22.1h0m-148.6 10.7h0m-11.2 -12.4h0m-2.6 2.2h0m73.9 -10.9h0m16.4 11.9h0m-51.5 14.4h0m-0.4 -10.8h0m29.2 7h0m95.1 -33.4h0m-123.7 20.2h0m52.9 7.9h0m77.1 -22.9h0m-156.2 14.8h0m48.9 1.1h0m-30 -13h0m112.8 3.3h0m1.2 -12.8h0m-34.5 11h0m22.2 -7.5h0m1.5 0.5h0m7.5 -11.3h0m-18.3 18.6h0m-72.2 23.5h0m-13.5 -16.4h0m101.1 6.6h0m-121.4 -9.6h0m119.3 -17.5h0m-128.6 25.2h0m23.8 7.7h0m17.2 -31.2h0m33.7 12.4h0m24.1 -16.6h0m-94 14.9h0m-11.4 22.3h0m136.2 -42.8h0m-5 38.2h0m23 -23.3h0m-43 13.4h0m16.3 0.6h0m-2 -2.8h0m-56.2 6h0m31.4 -7.3h0m-42.2 0h0m94.4 -22h0m-35.5 15.6h0m-64.3 18.5h0m101.7 -13.8h0m-40.9 0.5h0m-29 6.2h0m36.1 -19.2h0m-46.1 23.8h0m-83.5 -8.1h0"/><path id="p156" d="M496.1 -308h0m-101.8 79.6h0m-10.2 21.4h0m87.6 -90h0m-11.7 -10.3h0m-77.3 81.2h0m78.3 -58.9h0m10.1 -22.6h0m-58.6 93.6h0m70.9 -104.7h0m-85.6 93.7h0m84.6 -48.9h0m-39.6 15.8h0m-43.4 15h0m10.4 21.7h0m54 -56.5h0m-54.5 67.4h0m-13.6 5.4h0m59.8 -64.4h0m-74.3 82.9h0m42.8 -68h0m23.7 1h0m-18.7 16.5h0m-15.4 8.4h0m18.6 -17.8h0m-52.1 68.4h0m41.6 -54.6h0m39.3 -50.1h0m-31.8 25.8h0m-12.6 15.2h0m55.3 -86.3h0m-90 121.9h0m-7.7 24.6h0m13.4 -27.4h0m88.6 -110.8h0m-101.8 117.5h0m99.3 -101.7h0m-65.6 64.3h0m-21.3 27.6h0m17.7 -3.3h0m83.1 -99h0m-103.4 124.9h0m79.7 -77.3h0m9.2 -21.8h0m-4.3 8.3h0m-49.9 51.8h0m-9.6 4.7h0m-2.2 -7.3h0m12.7 9.6h0m-35.5 9.8h0m8.9 4.7h0m40.4 -36.2h0m21.9 -37.3h0m41.8 -27h0m-26.1 -24.5h0m9 23.5h0m-74.9 83.9h0m39.7 3.1h0m-44.8 -35.9h0m39.8 1.6h0"/><path id="p157" d="M563.9 128.1h0m-18.2 1.1h0m16.7 -21.8h0m-23.9 -10.6h0m-123.4 45.5h0m126.3 -7.3h0m-46.2 -15.3h0m17 14.3h0m8.9 -4.6h0m-20.7 -1.6h0m-5.4 10.2h0m-101.7 -5.8h0m122 4.5h0m-70.1 -3.9h0m-41.8 -14.9h0m63 19.3h0m-24.6 -2.8h0m75.5 2.5h0m30.5 -20.6h0m-150.1 16.9h0m10 21.3h0m67.2 -12.1h0m19 -15h0m-51.5 17h0m99.7 -5.6h0m-147 -0.7h0m132 -15.6h0m-49.6 19.2h0m80.1 -20.2h0m-85.8 30.3h0m-65.6 -6.5h0m-14.1 -26.4h0m80.9 -6h0m-29.3 11.9h0m77.1 -1.8h0m-47.5 4.8h0m-26.4 -4.5h0m38.8 7.2h0m-1.2 -0.6h0m-41.6 -1.8h0m121.5 -13.1h0m-28.1 19.6h0m-77.7 28.8h0m71 -51.3h0m-56 22.1h0m76.8 13.4h0m10.4 -34.8h0m-5.7 16.3h0m-88.5 -11.5h0m-16.2 8.3h0m27 3.4h0m57 1.4h0m-96.9 -10.5h0m15 -1.3h0m25.1 19.6h0m-11.5 -15.9h0m-60.3 21.4h0m-8.5 5.5h0m135.2 -37.5h0m-38.4 15.7h0m-46.3 -3.8h0m-14.8 17.6h0"/><path id="p158" d="M482.8 -320h0m-51.5 79.7h0m0 19.9h0m17.6 -70.1h0m17.3 10.5h0m19.6 -15.8h0m-77 77.7h0m72.3 -91.3h0m1.6 7.8h0m-60.1 67.6h0m-19 -9.5h0m39 -54.4h0m12 22.4h0m14.5 -18.7h0m-45.1 83.2h0m67.8 -94.9h0m-110.6 116.2h0m37.9 -60.1h0m32.4 -20.4h0m16.9 -41.5h0m-53.4 86h0m-39.6 29.8h0m64.4 -54.6h0m-43.3 59.2h0m37.8 -49.5h0m-55.3 44h0m104.2 -120.5h0m-5.1 17.4h0m-55.9 51.4h0m43.8 -66.5h0m16.6 7.6h0m-55.3 57.8h0m-32.7 47.5h0m21.9 -21.9h0m61.2 -101.4h0m-24.2 62.9h0m-44.1 33.9h0m46.7 -50.2h0m-5.4 -13.9h0m-26 55h0m-23.8 20.5h0m-8.4 -15h0m19.7 -14.7h0m-8.2 31.8h0m62.3 -43h0m-15.2 -1h0m30.6 -41.6h0m-26.5 29.8h0m-13.1 27.3h0m0.4 -9.9h0m-62.4 56.6h0m36.5 -47.4h0m-37.4 48.9h0m20.9 -14.7h0m-16.5 37.2h0m3.1 -2.8h0m-2.2 -29.8h0"/><path id="p159" d="M509.9 117.6h0m-43.4 15.1h0m-2.2 -4.4h0m-28.2 20.2h0m35.8 -13.6h0m-5.9 -16.8h0m-49.1 35.1h0m48.8 -7.7h0m-13.2 -21.7h0m61.6 -16.2h0m-96.7 44.8h0m149.8 -40h0m-62.3 33.1h0m8.3 -28.9h0m16 29.7h0m-23.7 -25.6h0m-111.9 18.6h0m55.9 -19.8h0m115.1 2.9h0m-89.8 13.9h0m-31.3 -18.7h0m-30.2 14.4h0m6.6 9.6h0m129.2 -15.2h0m-30.2 -3.2h0m-99.3 5.4h0m104.9 7.9h0m25.3 -11.4h0m-138.5 15.6h0m56.5 -14.7h0m-65.7 -20.4h0m131.8 54.4h0m-71.7 -13.5h0m18.9 -3.7h0m33.4 -23h0m44 -13h0m-29.1 30.7h0m52.5 -27h0m21.7 -24.3h0m37.4 -10.4h0m-58.9 20.2h0m14.8 -14.6h0m4.2 38.5h0m4.8 -12.4h0"/><path id="p160" d="M431.3 -216.5h0m35.7 -60.4h0m-50.8 43.8h0m-33 34.6h0m-6.3 10.5h0m101.1 -110.4h0m-96.2 109.3h0m37.3 -52.9h0m18.1 3.3h0m-53.5 38.1h0m103.6 -96.3h0m-65.4 64.9h0m60.2 -87.1h0m-68.9 68.6h0m35.6 -16.4h0m12.3 -33.9h0m-5.4 48.3h0m-62.8 32.6h0m10.4 -8.1h0m-7.4 20.1h0m1.7 16.2h0m-26.7 4.8h0m22.9 -15.3h0m16.4 -42.4h0m-45.3 49.7h0m75.5 -78.1h0m58.4 -21.4h0m-49.1 24.6h0m-46.9 61.7h0m57.5 -66.9h0m-19.9 24h0m30.9 -46.5h0m-18.8 31.4h0m18.5 -16.5h0m-1.7 -13h0m10.6 -17.7h0m-46.3 85.3h0m40.3 -50.4h0m-3.6 1.6h0m4.6 -52.8h0m-46.5 57h0m46.8 -33.2h0m-5.1 9.1h0m-96.4 97.9h0m17.4 -3.1h0m40.3 -47.8h0m-21.6 30.1h0m26.4 -42.3h0m-33.4 37.3h0m9.3 -23.3h0m20.3 -14.5h0m-3 9.1h0m36.8 -60.9h0m9.1 40.6h0m-43.7 37.3h0m61.8 -95.2h0m-1.2 -18.6h0m10.1 -13.8h0m-15.8 -9h0m0.2 1.7h0m16.2 5.5h0m-23.9 26.4h0m9.2 10.8h0m-0.5 -32.8h0m11.6 19.3h0m-16.8 16.9h0m19.1 11.3h0m-14.6 -41.3h0m3.5 -9h0m0.2 7.6h0m10.9 -26.9h0m-3 43.1h0m3.2 -9.7h0m-26 18.9h0m-1.4 -7.6h0"/><path id="p161" d="M151.8 412.8h0m42.9 26.4h0m-122.7 4.5h0m129.2 -3.2h0m-64.5 -1.9h0m-28 37.5h0m-0.1 -32.8h0m-10.4 21.4h0m32 -5.5h0m39.3 10.4h0m-9.3 -1.6h0m2 -32.2h0m-86.7 19.1h0m4.6 -5.6h0m116.2 -4.5h0m-21.8 14.9h0m45.2 -8.5h0"/><path id="p162" d="M183.5 460.6h0m-83.1 -9.3h0m85.9 22.6h0m-24.4 -24.3h0m-15.4 -17.5h0m-38.5 -2.3h0m30.6 -0.5h0m-5.6 9.3h0m38.7 19.1h0m-28.6 -25.3h0m54.4 2.9h0m-87.8 7.6h0m46.3 18.5h0m1.1 -22.4h0m-50.8 -11.9h0m-11.7 9.9h0m81.6 9.7h0"/><path id="p163" d="M157.7 436.8h0m-25.2 8.7h0m20.7 -3.4h0m-39.8 -7.4h0m34 5.4h0m-31.4 5.2h0m29.5 -5.7h0m29.7 15.4h0m-49.3 4.8h0m44.2 -22.7h0m-70.1 18.3h0m27.8 -17.4h0m-40.1 35.4h0m47.1 -44.6h0m6.6 17.8h0m-10.2 -24.2h0m-2.7 58h0"/><path id="p164" d="M188.4 466.5h0m3.1 -43.3h0m-98.2 22h0m88.9 -6.2h0m-107.8 7.6h0m36.8 -2.3h0m20.8 -6.2h0m10.6 21.1h0m-43.1 -9.8h0m12.1 -21h0m29.8 14.2h0m-28.7 12.5h0m1.9 -10.1h0m48.7 -15.5h0m9.9 16.9h0m-36.9 1.4h0m2.9 -9.4h0"/><path id="p165" d="M137.8 433.4h0m-16.2 -8h0m-2.1 22.5h0m-19.6 -5.7h0m62.7 -12.7h0m-27.2 42.4h0m-2 -28.5h0m12.6 -5h0m12.2 7h0m33.2 9.2h0m-63.1 -17.1h0m-4.7 -9h0m22.4 17.5h0m-39 7.3h0m78.8 -7.4h0m-12.8 -24.2h0m-8.7 4.8h0"/><path id="p166" d="M134.1 444.7h0m31.9 14.4h0m11.6 1.8h0m-20.5 -12.2h0m-29 1.2h0m-52.3 -5.7h0m97.9 15h0m-48.3 -11.8h0m-18.3 -8.4h0m64.5 28h0m-20.5 -54.7h0m-65.4 27.1h0m49.1 -1.6h0m-6.3 25.8h0m46.9 -6h0m-107.4 -23.6h0m56.2 -0.8h0"/><path id="p167" d="M133.4 479.2h0m57.9 -52.9h0m-93.1 10.3h0m-11.2 26.2h0m61.3 -22h0m20.3 11.1h0m34.4 -17.9h0m-49.6 -15.7h0m-44.7 18.9h0m62.7 -8.2h0m-33.3 20.2h0m-7.1 10.3h0m8.2 -15h0m46.7 -16.5h0m-80.9 -2.3h0m-4.6 21.7h0m35.6 -6.1h0"/><path id="p168" d="M136 450.4h0m-27.8 19.8h0m-2.4 -25.2h0m46.7 -5.8h0m35.8 9h0m-23.3 -2.3h0m-1 22.8h0m20.8 -27h0m-120.4 -12.9h0m17.9 18.8h0m30 -10h0m-18.3 2.9h0m7.7 16.5h0m39.4 -15.4h0m-50.4 16.8h0m-28.2 -13h0m39.8 16.2h0"/><path id="p169" d="M188.6 463.9h0m-70.3 -39.2h0m32.3 10.8h0m14.2 2.4h0m-44.6 26.7h0m39.8 -13h0m-13.5 9.7h0m17.9 -33.2h0m-49.5 25h0m-30 -32.9h0m15.6 19h0m17.4 11h0m40.5 -25.2h0m-27.5 49.5h0m-7.2 -17.4h0m8.1 -6.5h0m47.6 -22.8h0"/><path id="p170" d="M117.1 430.6h0m77.6 6.5h0m-101.9 34.6h0m23.7 -18.6h0m53.8 5.6h0m-12.5 -32.4h0m-51.1 26.1h0m27.7 -15.8h0m-22.3 -16.7h0m58.1 24.4h0m-11.6 -10.3h0m-46.6 17.3h0m41.3 -8h0m-28.5 1.4h0m11 -0.1h0m5.1 -1h0m-23.4 7.6h0"/><path id="p171" d="M154.3 417.7h0m1.3 35.3h0m-1.3 -12.5h0m25.3 6.5h0m-51.2 29.9h0m-45.1 -43.2h0m37 8.6h0m25.7 21.4h0m-6.7 -8.8h0m20.7 11.5h0m8.5 -27h0m-34.4 -16.3h0m0.3 4.8h0m-32.6 36.8h0m75.1 2.5h0m-48.2 -29.3h0m-30.5 -14.8h0"/><path id="p172" d="M97 446.1h0m26.1 -15.3h0m73.3 31h0m-29.2 -16.7h0m-91.7 -3.4h0m58.4 9.2h0m14.4 -3.2h0m13.5 -13.5h0m-10.5 18.9h0m-36.6 6.9h0m39.1 -26.2h0m-35.9 8.7h0m-62.8 20.4h0m57 -22.8h0m0.9 14h0m61 -19.7h0m3.8 8.9h0"/><path id="p173" d="M99.6 450.9h0m45.4 4.7h0m-3.1 -13.6h0m-56.8 6.2h0m-23 -26.2h0m72.9 23.8h0m8.6 17.9h0m-27.2 -46.7h0m-78.8 61.4h0m99.8 -56.5h0m-20.4 36.3h0m-11.6 -31.1h0m21 21.1h0m-29.9 -8.8h0m62.8 4.3h0m-20.4 2.9h0m-21.2 -7.8h0"/><path id="p174" d="M149 453.6h0m-11.7 -15.1h0m-55.3 24.5h0m51.1 -7.3h0m-11.6 -2.6h0m-47.8 -3.5h0m40.5 -20.4h0m40.2 27h0m-38.9 2.1h0m75.4 0.2h0m10.8 -10.6h0m-74.6 -10.1h0m32 16.9h0m53.5 -8.8h0m-86.4 8.2h0m-21.1 -8.5h0m17.7 28.7h0"/><path id="p175" d="M87.4 439.3h0m0.9 -4.7h0m58 22h0m-23.3 -9.6h0m24.7 10.6h0m9 -27.3h0m-46.6 7.4h0m18.4 10.9h0m-14.9 10.1h0m-6.2 -5.3h0m42.8 8.9h0m-16.9 -19.8h0m17.6 -2.3h0m24.8 -9.8h0m0.5 7.3h0m-79.1 15.2h0m9.6 -24.5h0"/><path id="p176" d="M129 437.4h0m14.1 -4.2h0m30.3 26.7h0m-70.7 -1.4h0m19.5 -3.7h0m25.5 -4.7h0m36.5 23.5h0m5.6 -47.9h0m-88.7 24h0m29.5 -16.3h0m-22.1 2.1h0m61.5 -13.1h0m-14.9 13.6h0m-29.9 4.2h0m-9.4 16.1h0m33.7 -13.8h0m25.5 -24.1h0"/><path id="p177" d="M110 470.8h0m16.5 -15.6h0m16.2 -14.6h0m-3.5 -18.7h0m11.9 37.5h0m-49.8 -6.8h0m15.1 -9.2h0m24.2 13.1h0m37.7 -11.8h0m-116.3 -7.2h0m53 17.8h0m56.9 -18h0m-38.7 1.4h0m-65.2 13.9h0m114 -15.3h0m-96.5 -14.8h0m104 17.5h0"/><path id="p178" d="M116.8 451.2h0m-4.6 4.7h0m27.3 -15.1h0m-1.8 -11.2h0m23.1 11.4h0m-3.6 -2.2h0m30.5 13.7h0m-22.7 5.4h0m-16.3 -18.2h0m-5.2 7.1h0m-8.5 -10.7h0m0.6 -9.3h0m27.6 11h0m-7.1 8.2h0m-16.1 -9.3h0m36.3 -1.2h0"/><path id="p179" d="M128.7 445.8h0m26 5.5h0m15.8 -18.1h0m-73.5 15.6h0m31.7 11.8h0m71.9 -29h0m-97.7 21.4h0m78.5 -3.4h0m-82.3 -12.8h0m54.5 17.6h0m-53.2 -6h0m19.4 10.4h0m-36.6 9.3h0m113.1 -30.8h0m-38.9 -15.9h0m-0.9 34.2h0"/><path id="p180" d="M78.9 430.7h0m48.4 -0.9h0m-51 -3.8h0m15.3 35.4h0m77.7 -9.5h0m-90.1 -28h0m74 20.3h0m-75.4 2.9h0m94.3 -14.5h0m-108.2 6.4h0m123.7 10.5h0m-142.2 1.9h0m27.6 -13.2h0m75.9 1.6h0m-51 16.4h0m-33.5 -26.6h0"/><path id="p181" d="M62.2 435.7h0m63.7 13.3h0m-36.8 5h0m101.8 -25.4h0m-26.7 48h0m-43.9 -33.3h0m27.7 8.5h0m-73.2 4.6h0m35.4 -23.6h0m64.4 5.1h0m-112.7 12.5h0m29.4 -9.6h0m77.5 21.1h0m-83.3 -29.8h0m8.9 22h0m-41.2 -9.5h0"/><path id="p182" d="M179.5 423.6h0m-124.1 7.4h0m96.5 5.1h0m-99.6 -6.4h0m29.4 22.8h0m113.1 1.5h0m-137.8 14.7h0m113.6 -34.4h0m-97 -15.2h0m103.5 27.2h0m-83.6 -0.7h0m35.2 2.9h0m46.9 -13.4h0m-123.8 38.2h0m49.6 -39.9h0m89.6 -7.4h0"/><path id="p183" d="M81.7 455.8h0m51.9 2.2h0m58.7 -4.5h0m-35.3 -18.4h0m36.3 -14.3h0m-62 37.2h0m19.9 6.7h0m-103.7 -18.2h0m150.3 -9.3h0m-89.4 -2h0m19.6 18.8h0m-0.5 -20h0m-37.3 -3.4h0m110.2 33.3h0m-51.5 -16.4h0m-21.7 -11.7h0"/><path id="p184" d="M62.6 436.7h0m98.9 13.9h0m-15.4 20.3h0m52.5 -18.8h0m-64.6 12.1h0m-41.2 -10.7h0m50.7 -24.1h0m-81.6 27.2h0m13.4 -10.7h0m59.3 15.4h0m12 -30.5h0m55.1 19.2h0m-158.8 13.4h0m143.4 -47.6h0m-80.4 25.3h0m-64.1 -1.9h0"/><path id="p185" d="M104.4 473.9h0m34.5 -49.6h0m-39.3 -2.3h0m-3.1 26.2h0m79.5 -1.4h0m-66.8 7.1h0m91.1 -27.6h0m-119.6 42.8h0m-27.4 -25.3h0m65.9 -26.6h0m42 24.2h0m-64.7 -22.7h0m-18.2 28.2h0m54.3 2h0m44.3 -19.1h0m-42 15.8h0"/><path id="p186" d="M456.1 397.8h0m26.5 -11.8h0m8.9 -1h0m-4.3 0.2h0m-27.5 3h0m37.1 -3.2h0m-6.7 5.2h0m0.1 -9.7h0m0.7 0.9h0m6.6 -4.5h0m20.8 0.3h0m-52.2 12.4h0m12 -2.5h0m31.2 -7h0"/><path id="p187" d="M452.8 401h0m30.4 -13h0m-18.5 4h0m12.2 -5.5h0m9.1 -1.2h0m-44 10.2h0m17.1 -2.2h0m-7.5 5.4h0m21.5 -11.1h0m-8.4 4.9h0m40.3 -8.2h0m-38.7 0.6h0m42.3 -8.2h0"/><path id="p188" d="M469.9 390.9h0m12.3 -11.5h0m-4.2 5.3h0m-0.5 3.3h0m-20.8 7.9h0m26.7 -4.4h0m0.9 -8.8h0m-2.7 14.2h0m7 -18.5h0m-26.3 9.2h0m9.5 3.4h0m-6.6 -8.2h0m-19.1 9.7h0"/><path id="p189" d="M484 393.3h0m-18.3 0.4h0m10.2 0.3h0m42.5 -8.8h0m-36.9 -6.5h0m-2.3 9.2h0m17.7 -1.7h0m3.2 -5.5h0m10.3 -1.7h0m-42.6 14.6h0m42.3 -7h0m-35.2 11.9h0m-18.8 -10.6h0"/><path id="p190" d="M460.3 392.8h0m37.2 -11.8h0m-6.3 5.4h0m9.5 4.5h0m-40.3 3.6h0m10.7 -11.7h0m-15.7 12.6h0m-14.2 -3h0m35.7 7.7h0m29.3 -13.4h0m-8.6 -6.1h0m-34.5 19.5h0m35.5 -20.3h0"/><path id="p191" d="M466.7 392.8h0m16.3 -2.2h0m9.4 -11.3h0m-22.6 13h0m-8.7 -6.3h0m28 2.4h0m-15.1 -1.2h0m-6.8 -2.1h0m21.7 -3.8h0m-15.5 8.9h0m10.9 7.8h0m-24.7 -15h0m30.9 5.8h0"/><path id="p192" d="M460 385.1h0m10.2 8.2h0m-27.1 2.7h0m55.4 -12h0m-19.5 4.1h0m6.7 -10.6h0m-5.6 12.9h0m-10 -2.3h0m29 -5.9h0m-50.5 10.6h0m35.1 -6.6h0m12.9 -6.1h0m-41.1 14.4h0"/><path id="p193" d="M479.3 390.6h0m-21.8 1.5h0m20.6 -7.3h0m5.3 9.3h0m17.9 -19.3h0m-20.9 14.7h0m-15.7 3.9h0m23.1 -5.2h0m-10.5 5.3h0m19.7 -4.1h0m-30.8 2.3h0m35.5 -10.2h0m-21.3 2.9h0"/><path id="p194" d="M481.7 389.5h0m13.9 -2.8h0m-28 1.1h0m0.3 11.1h0m18.7 -11.2h0m-10.9 -4h0m2.4 -3.3h0m-8.2 10.2h0m1.8 5.3h0m21.3 -7.2h0m20.1 -13.9h0m-61 8.2h0m52.9 0.7h0"/><path id="p195" d="M490.8 393.3h0m8.5 -9.6h0m-18.8 0.4h0m-16.6 2.3h0m9.7 0.9h0m-13.3 -7.8h0m-13.6 14h0m29.2 -18.4h0m6.1 17.6h0m-9.9 -10.4h0m8.6 0.2h0m-31.7 6.7h0m47.6 -0.4h0"/><path id="p196" d="M474.4 389.5h0m3.6 4.4h0m12.3 -7.9h0m-23.3 2.8h0m57.7 -13.9h0m-24.6 15h0m-0.3 -2.2h0m-19.8 10.5h0m-15.7 -7.9h0m22.1 1.6h0m-22.4 -6.2h0m17.5 4.6h0m0.1 -5h0"/><path id="p197" d="M499.9 386.1h0m-14.6 1.2h0m-5.3 1.7h0m22.6 0.3h0m-27.4 -4.5h0m-7.6 9.5h0m0.4 -10.3h0m35.9 11h0m-26 -4.2h0m-11.1 -4.4h0m-25.3 4.1h0m16.7 10.5h0m24.8 -14.3h0"/><path id="p198" d="M488 386h0m19.7 -4.9h0m-43.1 11.4h0m21.8 -1.6h0m14.6 -7.6h0m-65.5 9.6h0m84 -18.3h0m-63 17.9h0m0 3.5h0m37.8 -13.6h0m-9.5 11.6h0m14.7 -6h0m-10.3 1.7h0"/><path id="p199" d="M482.8 387.8h0m-7.8 0.4h0m-11.9 -6.6h0m25 2.2h0m-45.9 6.1h0m31.7 1.2h0m17.6 0.2h0m-35.3 2.5h0m36.5 -5.3h0m2.5 -12.8h0m-16.5 5.6h0m-4.2 3.6h0m12.9 2.3h0"/><path id="p200" d="M489 392.7h0m-16.3 -2h0m42.3 -7.5h0m-9.9 3.3h0m-9.4 -3.1h0m7.2 -8.3h0m-1.7 -1h0m-49.1 19.4h0m71.7 -16.2h0m-72.9 13.9h0m30.3 -0.3h0m-24.1 -5.5h0m31.8 -1.5h0"/><path id="p201" d="M485.4 386.5h0m-3.6 -1.6h0m10.2 2h0m-10.1 -5.4h0m-42.1 8.2h0m65.2 -7.8h0m-30.5 13.5h0m-11.1 -16.7h0m21.8 6h0m-17.7 0.5h0m17 6.3h0m-13.8 -5.1h0m-9.8 1.5h0"/><path id="p202" d="M456.4 389.9h0m35.7 -10h0m-12.9 16h0m-15.7 -11.4h0m3.1 7h0m-5.4 1.5h0m55.6 -13.6h0m-32.5 5.3h0m-3.7 1.7h0m24.6 -2.2h0m-39.7 2.9h0m-8.2 -9.4h0m10.8 8.5h0"/><path id="p203" d="M480.4 389.2h0m-6.8 -6.4h0m-2.6 1.9h0m9 6.5h0m-10.9 -7.8h0m-12.1 14.4h0m33.8 -14.4h0m-18.7 -3.4h0m-0.5 14.6h0m14.8 -5.9h0m-1.8 1.9h0m-28.3 -5.5h0m7.1 8.6h0"/><path id="p204" d="M451.2 392.9h0m3.5 -3h0m27.7 -7.3h0m-14.6 3.8h0m-8.4 9.3h0m40.5 -16.1h0m-30.9 9.9h0m11.9 -4.7h0m-5.8 6.9h0m-16 -0.2h0m25.4 -10.7h0m-5.7 14.4h0m21.7 -10.1h0"/><path id="p205" d="M487.4 394.2h0m-33.9 -8h0m20.6 2.1h0m0.2 5.2h0m0.7 3.2h0m-21.5 -4.7h0m-7.9 1.1h0m28.3 -3.2h0m8.8 -8.6h0m-28.3 15.7h0m56 -19.1h0m-22 1.6h0m-21 13.4h0"/><path id="p206" d="M513.9 376.5h0m-65.5 9.6h0m9.4 12.1h0m-1.2 -3.3h0m41.3 -4.1h0m-35.1 -2.3h0m27.1 -11h0m-8.9 17h0m-15.3 -4.2h0m13.1 -14.7h0m-24 19.5h0m37 -12h0m-33.4 5.7h0"/><path id="p207" d="M460.4 393.6h0m28.6 -11.4h0m-21.3 6.1h0m42.8 -6.4h0m-21.8 6h0m-22.3 -3.7h0m37.6 -1.7h0m0.2 4.2h0m-26.8 4.1h0m25.3 -8.7h0m4.6 -1.8h0m-36.1 15.8h0m-33.9 -5.2h0"/><path id="p208" d="M496.6 390.9h0m-37.8 9.2h0m-5.4 -6.1h0m-1 -3h0m32.9 -8.4h0m-48.8 18.1h0m67.9 -15.8h0m-30.7 -0.7h0m-12.1 7.1h0m36.5 -11.9h0m22.2 -3.6h0m-54.2 21.6h0m24.3 -7.3h0"/><path id="p209" d="M463.4 386.6h0m16.1 12.9h0m-5.6 -14.5h0m26.7 -0.2h0m-43.6 11.2h0m24.7 -19h0m-45.3 22.4h0m68.4 -13.4h0m-38.4 5.7h0m6.8 -1.1h0m-14.5 -1.6h0m-8.4 2h0m23.3 -7.5h0"/><path id="p210" d="M511.8 376h0m-19.4 5.5h0m-23.9 6.1h0m-20.2 12.9h0m47.3 -18.7h0m6.5 4h0m4.6 1.7h0m-60.1 5.8h0m-1.6 -2.6h0m41.8 0.9h0m24.9 -5.4h0m-14.7 -4h0m22.6 -8h0"/><path id="p211" d="M470.7 473h0m-22.8 12.7h0m48.2 -8.6h0m2.6 -5.9h0m-19.2 -2.5h0m12.3 11.9h0m24.6 -2.9h0m-11.9 -8.1h0m-6.5 7.6h0m-0.3 3.2h0m-28.4 -7h0m33.4 9.5h0m-47.7 0.1h0"/><path id="p212" d="M479 472.8h0m-1.9 7.7h0m-23.6 -4.2h0m29.6 6.5h0m32 -12.7h0m-36.2 5.1h0m-15.9 -3.9h0m20.4 6.8h0m17.3 -1.2h0m-12.1 -0h0m-3.5 -5.1h0m-25.7 11.1h0m34.9 -6.4h0"/><path id="p213" d="M494 466.7h0m15.6 3.9h0m2.7 0h0m-14.6 7.4h0m-42.6 -2.3h0m3.8 9.2h0m6.1 0.9h0m25.5 -5.1h0m-19.8 -9.2h0m38.3 2.1h0m-19.4 7.1h0m2.2 -2.9h0m7 -4.5h0"/><path id="p214" d="M491.3 470.6h0m-32 16.5h0m70.6 -21.1h0m-18.1 3.7h0m1.1 7.6h0m-41.4 2.7h0m-20.1 -2.1h0m6.2 3h0m8.3 -2.8h0m35.3 2.1h0m0.4 3.5h0m10.2 -21.1h0m12.5 9.4h0"/><path id="p215" d="M494.6 474.8h0m-3 -1.1h0m-13.1 -2.6h0m0.5 1.9h0m-15 10.8h0m30.4 -7.4h0m-3.5 -0.5h0m-13.2 -2h0m-7.4 7.2h0m23.2 -7h0m15.5 -0.8h0m-22.4 -3.2h0m3.7 18.5h0"/><path id="p216" d="M475.1 477.4h0m5.5 -1.8h0m-1.3 -1.4h0m0.6 3.1h0m-5.7 4.5h0m18.2 -8.9h0m16.5 -0.2h0m-41.1 9.8h0m42.9 -1.9h0m-33 -5.7h0m0.7 6.6h0m-32.7 -3.8h0m-4.8 -3.6h0"/><path id="p217" d="M498.5 474.5h0m-33.3 3.2h0m34.6 -3h0m-13.8 -4.6h0m3.7 -0.4h0m19.8 4.2h0m-25.7 -0.5h0m-30.5 8.9h0m49.6 -10.9h0m18.7 2.1h0m-38.2 7.5h0m-11.1 4.1h0m-12.6 -10.4h0"/><path id="p218" d="M495.1 480.3h0m-42.8 5h0m10 -5h0m25.3 -7.3h0m-0.6 11.7h0m-6.6 -10.5h0m24.1 -1.2h0m-42.1 11.8h0m1 -0.5h0m14.1 -5.9h0m8.8 -10.9h0m-7.4 11.1h0m42.6 -10.6h0"/><path id="p219" d="M474.1 473.4h0m22.6 9.7h0m-22.3 -5.2h0m16.6 -6.4h0m-14 8.4h0m0.9 -8.2h0m36.9 7.2h0m-35.8 5.4h0m37.5 -8.6h0m-44.9 -0.7h0m4.9 4.4h0m28.9 -9h0m-65.6 18.2h0"/><path id="p220" d="M454.5 482.6h0m30.9 -12.3h0m8.4 17.2h0m1.8 -13.3h0m-16.4 7.3h0m-20.5 1.4h0m41.7 -6.1h0m-7.1 6.1h0m-29 -8.4h0m22.4 -0.7h0m31.7 -6.1h0m-31 8.1h0"/><path id="p221" d="M463.1 483.4h0m14.1 -8.9h0m1.1 9.3h0m13.1 -3.3h0m10.4 -15.3h0m-34 8.2h0m5.2 2.5h0m30.9 -8h0m-5.1 8.8h0m11.4 -5.2h0m-52.2 11.8h0m9.3 -3.2h0"/><path id="p222" d="M503.7 474.5h0m-36.3 -3h0m23.7 7.9h0m-7.1 -7.6h0m-12.8 6.4h0m41.1 4.1h0m-27.5 3.6h0m-9.2 -4.9h0m6.5 -9h0m7.6 3.1h0m-33.9 -4h0m13.2 6.4h0"/><path id="p223" d="M461.2 472.4h0m-15.3 7.1h0m57.3 -0.3h0m8.5 -8.5h0m-4.6 7.3h0m-55 8.7h0m40.4 -7.2h0m5.2 -2.2h0m-23.3 -0.7h0m25.8 -5.4h0m-35.9 4.7h0m0.8 -7.1h0"/><path id="p224" d="M469.5 487.5h0m2.1 -8.6h0m-5.3 -12.6h0m36.6 10.1h0m-37.8 8.3h0m11.3 -3.6h0m-3.2 1.4h0m52.6 -7.6h0m-57.4 -4.7h0m25.4 12.2h0m24.9 -5.8h0m-55.6 -4.4h0"/><path id="p225" d="M469.6 476.8h0m9.3 -1.1h0m-18.4 5.2h0m47.2 -11h0m-31.5 12.5h0m28.3 -12.2h0m-9.6 4.9h0m-9.5 2.4h0m17.3 -0.1h0m-23.3 -4.7h0m25.1 0.4h0m-43.7 7.9h0"/><path id="p226" d="M471.3 477.5h0m36 1.9h0m-60.8 -4.9h0m47.3 -5.3h0m-16.3 2.8h0m-2.5 4.3h0m-2.8 -0.8h0m36.5 5.2h0m-51.7 0.5h0m43.4 -4.9h0m-6.6 0.1h0m-16.5 -2h0"/><path id="p227" d="M483.5 478.9h0m14.5 -0.1h0m-23.8 -6.8h0m-16.9 8.9h0m33 -1.8h0m-20.7 8.6h0m8 -3.9h0m8.5 -6.2h0m12.5 -3.6h0m19.7 7.7h0m-26.9 -5.6h0m-4.2 -1.2h0"/><path id="p228" d="M500.1 477.6h0m-9.8 -1.7h0m-36.1 -2.8h0m19.9 8.2h0m-11.6 5.7h0m35.3 -9.8h0m10.6 1.3h0m-16.8 -2.2h0m-25.3 -1h0m33.4 -4.3h0m-32.2 5.9h0m22.2 -7.3h0"/><path id="p229" d="M463.2 477.2h0m-3.4 -2.8h0m-0.3 3.2h0m25.9 -2.2h0m-12.4 4.9h0m20.1 -4.4h0m-31.7 5.9h0m32.7 -4.6h0m-20.3 0.3h0m34.2 -8.5h0m-4.3 7.1h0m-22.5 -1.9h0"/><path id="p230" d="M487.1 482.4h0m2.5 -4.8h0m4 -7.8h0m-13.5 5.8h0m25 7.7h0m-29.3 -5.5h0m-25.9 3.6h0m39.7 0.5h0m-6.5 3.3h0m17.2 -5.5h0m-4.3 1h0m-8.5 -7.6h0"/><path id="p231" d="M487.1 473.8h0m0.3 -0.3h0m-14.3 -0.7h0m-10.2 16.4h0m7.2 -9.7h0m13.3 -4.2h0m-39.7 8.7h0m33.4 -3.5h0m-9.9 1.8h0m16.3 -6.2h0m-20.7 3.1h0m52.7 -11.3h0"/><path id="p232" d="M433.7 480h0m8 0.1h0m-8.3 1.9h0m1.1 3.5h0m-2.6 -4h0m57.7 -9.1h0m10.4 0.6h0m-34.7 10.7h0m54.7 -3.4h0m-16.4 -8.7h0m22.1 0.1h0m-20.9 1.7h0"/><path id="p233" d="M481.4 481.1h0m-44.5 -3.1h0m6.1 -0.5h0m19.7 2.6h0m-18.1 -2.1h0m47.7 2.3h0m-54.1 1.5h0m45.1 4.5h0m-17.1 -6.4h0m2 -13.1h0m-29.1 11.1h0m61 -10.9h0"/><path id="p234" d="M504.4 472h0m-42.4 5.8h0m5.5 -0.5h0m30.1 -0.1h0m-53.4 0h0m46 2.3h0m-26 -1.1h0m34.1 -18.6h0m-6.2 13.6h0m-30.8 7.7h0m-3 -6.9h0m10.6 1.9h0"/><path id="p235" d="M459.8 480.3h0m44.1 -0.4h0m3 -4.8h0m-28.1 4.1h0m-24.6 0.2h0m24.3 -4h0m25.2 -2.1h0m-20.1 7.8h0m-50.5 -1.8h0m6.9 -0.2h0m28.2 6.1h0m43.7 -12.9h0"/><path id="p236" d="M496.4 563.4h0m34.1 -3.6h0m-26.8 9.7h0m-45.2 8.4h0m10.8 -2.1h0m32.3 -14.5h0m-20.1 16.2h0m27.5 -18.5h0m-69.6 17.7h0m90 -7.1h0m-5.1 -10.5h0m-73.9 14.2h0m25.5 1.1h0m-6.8 -10.8h0m5.2 13.2h0m30.3 -8.4h0m-32.9 3.4h0m-8.9 0.1h0m36.5 -3.5h0m14.4 -8.9h0m-39.8 16.3h0m16.6 -9.5h0"/><path id="p237" d="M451.7 577.7h0m54.7 -11.9h0m-8.7 2.6h0m-14.8 10.7h0m-44.8 8.6h0m39 -14.9h0m-39.5 2.5h0m64.3 -2.7h0m23 -12.8h0m-8.9 -7.9h0m-27.9 14.8h0m7.4 -1.8h0m-26.7 9.5h0m20.7 5.7h0m-0.1 -8.3h0m-5.6 -1.6h0m6.1 -1.8h0m4.2 4.2h0m-27.8 -3.2h0m27 -1.3h0m8.5 -2.5h0"/><path id="p238" d="M433.9 578.4h0m69.8 -11h0m-32.7 -3h0m-15.2 17.8h0m29.6 -7.5h0m-21.9 0.2h0m7 -2.4h0m-12.5 10.5h0m7.6 -14.3h0m-12.4 9h0m14.3 -7.5h0m-11.5 9h0m-5.9 0.8h0m55.6 -15.5h0m-23.7 8.7h0m9.2 -0.6h0m30 -11.3h0m-24.2 2.2h0m-14.9 8.5h0m-25.4 1.6h0m43.4 -2.1h0"/><path id="p239" d="M492.8 566.4h0m12.9 4.3h0m-26.7 -1.1h0m-5.5 8.5h0m-39.6 1.1h0m60.7 -16.2h0m-48.2 14.5h0m23.9 4.7h0m22.5 -21.4h0m-9.9 13.4h0m-3.8 9.3h0m12.4 -24.5h0m-51 23.7h0m41.8 -15.5h0m27.8 -3.2h0m-2.3 -8.5h0m-61 13.9h0m56.1 6.9h0m-11.8 -9.5h0m-32.6 14.7h0m-8.6 -3.6h0"/><path id="p240" d="M477.7 573h0m35.2 -7.2h0m-20.8 9.9h0m-32.8 -3.5h0m24.2 -5.9h0m21.7 -4.3h0m-26.2 -0.6h0m-8.6 13h0m21.3 -0.3h0m-58.6 6.3h0m58 2.7h0m-41.4 -4h0m29.3 -0.6h0m10.3 -2.6h0m-11.6 3.3h0m-13.9 2.5h0m8.4 -9.8h0m27.5 5.2h0m-49.8 6.3h0m10.6 -7.9h0m27.8 -3.7h0"/><path id="p241" d="M499.4 560.9h0m-18.7 10.5h0m-11.8 -8.1h0m28.3 0.6h0m-25.1 15.4h0m56.1 -16.1h0m-16.5 -6.1h0m12.8 13.2h0m-65.2 11.1h0m10.9 2.6h0m4.8 -10.4h0m-22.3 -1.3h0m16.5 -4.3h0m33.9 0.3h0m-45 15.3h0m16.5 -11.9h0m41.2 -6.1h0m-27.3 0.2h0m4.5 2.2h0m-11.2 -3.1h0m-14.8 12.7h0"/><path id="p242" d="M473 572.9h0m14.5 -2.1h0m-19.5 5.8h0m14.5 -7.9h0m-11.4 14.1h0m8.4 -2.8h0m37.9 -2.2h0m-21.7 -9.5h0m-44.1 4.7h0m25.6 -3.1h0m46.6 -15.8h0m-0.5 8.1h0m-68.5 19.4h0m36.9 -14.3h0m-9.9 2.8h0m6.7 -6.4h0m39 2.8h0m-62.3 12.2h0m9.5 -6h0m28.9 -12.7h0m-32.2 17.2h0"/><path id="p243" d="M471.4 565.7h0m16.7 -3.5h0m-39.5 17.4h0m44.5 -7.6h0m-41.7 5.4h0m31.5 1.6h0m17.6 -20.4h0m19.2 3.6h0m-55.8 6.2h0m23.2 4.8h0m0.3 -4.6h0m-47.1 11.3h0m39.2 -17.5h0m7.6 13.1h0m7.2 -13.9h0m32.9 -0.2h0m-42.8 9h0m-3.8 10.1h0m-0.6 -8.6h0m1.5 1.2h0m11.4 -7.7h0"/><path id="p244" d="M518 566.2h0m-60.1 12.8h0m24.6 -13.3h0m-38.9 15.2h0m41.7 -11.9h0m-52 8.7h0m55.9 -7.4h0m21.9 -4.9h0m-49.2 1.1h0m3.2 7.9h0m16.5 8.3h0m-12 -14h0m10.5 -4.7h0m-14.8 4.5h0m35.8 -6.7h0m-12.7 18.8h0m-8.6 -4.4h0m-14.6 -2.8h0m17.1 -2.4h0m15 3.9h0m-31 3h0"/><path id="p245" d="M495.1 570.4h0m5.5 -8.2h0m-32.9 0.2h0m30.2 14.1h0m-20.7 -4.9h0m-21.1 9.8h0m24.2 -15.1h0m30.8 -2.3h0m-20.8 3h0m-8.5 3.7h0m18.6 0.4h0m-2.8 0.8h0m-11.7 0.1h0m-46.3 2.6h0m4.7 -1.5h0m74.1 -8.1h0m-21.9 -5.4h0m-51 16.9h0m52.8 -9h0m-49.7 9.9h0m35.9 -1.7h0"/><path id="p246" d="M501 575.2h0m-23.7 0.7h0m20.8 -6.9h0m1.4 -2.4h0m-57.9 19.3h0m36 -12.8h0m12.6 6h0m-22.6 -12.1h0m-19.2 13.9h0m63.3 -10.2h0m-27.1 -3.8h0m-18.9 7.2h0m-7.2 7.2h0m18.9 -18.8h0m27.7 8.4h0m-37.4 0.5h0m22.3 1h0m-4.4 -6.4h0m-11.5 2.2h0m5.3 6.9h0m1.2 -0.1h0"/><path id="p247" d="M458 569.3h0m-10.7 7.1h0m47.6 -13.2h0m16.7 -0.3h0m-19.2 -0.2h0m-31.7 9h0m19.7 1.9h0m-12.5 -8.7h0m-19 12.5h0m8.4 -2.5h0m9.9 -2.9h0m24.7 -10.2h0m-37.1 18.3h0m50.4 -14.6h0m-24.5 5.9h0m26 -4.5h0m-4.5 5.3h0m-17.6 12.6h0m-1.6 -10.3h0m4.4 -10.3h0m-0.1 6h0"/><path id="p248" d="M496.6 570h0m25 -6.2h0m-26.6 -0.4h0m21.1 1.2h0m-13.9 3.7h0m-28.9 1.5h0m19.1 -6.9h0m3.2 3.1h0m5.1 -0.1h0m-27.8 15.7h0m32.4 -6.7h0m-37.2 -1.5h0m9.2 1.4h0m18.3 -3.7h0m-10.8 -2h0m-22.7 2h0m-9.4 -9.5h0m16.9 16.7h0m-4 -5.2h0m62.7 -24.2h0m-70.4 30.9h0"/><path id="p249" d="M449.5 574.2h0m80.2 -7.1h0m-85.8 4.7h0m23.9 5.8h0m24.1 -12h0m-10.7 0.9h0m6.6 5.5h0m27.3 -0.1h0m-29.3 -2.7h0m3.2 -2.7h0m-15 1.7h0m-5.1 10h0m2 -12.6h0m14.4 1.9h0m-15.8 5.8h0m17.1 -0.1h0m-16.9 5.4h0m-13.9 9.3h0m16.2 -12h0m1.7 -2.9h0m-5.7 -7.6h0"/><path id="p250" d="M469.6 569.3h0m21.3 6.1h0m-40.8 -1.6h0m49.1 -0.6h0m-33.7 -10.4h0m10.4 -5h0m30.6 5.9h0m-7 6.2h0m-61.1 2h0m48.1 -4.7h0m22.3 -5.1h0m-51 11.7h0m11 2.8h0m40 -15.1h0m-58.2 8.5h0m67.4 -8.1h0m-68.5 16.7h0m13.6 -2.5h0m3.7 -6.6h0m2.5 -2.1h0m26.8 1.6h0"/><path id="p251" d="M488.3 575.7h0m-5.4 -7.7h0m1 3.7h0m-40.7 5.4h0m21.7 -13.8h0m38.1 -4.6h0m-50.6 28.2h0m57.7 -17.1h0m-35.1 1.8h0m-18.9 13.2h0m40.2 -6.5h0m-0.6 -8.3h0m-31.6 6.8h0m2.1 -1.2h0m-6.3 -1.7h0m5.1 4.2h0m-1.2 -2.6h0m43.4 -15h0m-39.5 24.2h0m19.9 -17.1h0m9.9 10.7h0"/><path id="p252" d="M482.8 579.3h0m-14.4 -7.1h0m-1.3 0.2h0m-0.1 0.2h0m19.5 -1.8h0m-15.6 2.4h0m25.2 -0.6h0m22.9 -9.7h0m-28.1 -0.7h0m-42.9 27.2h0m39.3 -17.7h0m-11.9 5.1h0m-4.6 5.3h0m-7.4 -5.3h0m10.5 -3.1h0m45.1 -9.6h0m-59.1 12.8h0m24 -13.7h0m20.3 5.7h0m-31.4 -2.5h0m21.2 4.5h0"/><path id="p253" d="M505 572.7h0m10 -9.6h0m-24.7 8.2h0m-2.5 -1h0m-12.8 15.6h0m-2.3 -15.3h0m10.5 0.7h0m-5.7 -0.8h0m20 -5.1h0m-10.4 -4.7h0m-12.1 11.9h0m37.9 -7.3h0m-40.3 2.2h0m20.8 -5.2h0m-2.3 4.8h0m-24.2 8.3h0m12.8 -1.6h0m5.6 -0.3h0m-18 4h0m-16.7 -5.1h0m14.9 -1.6h0"/><path id="p254" d="M472.6 577h0m1.3 -9.8h0m5.5 4.4h0m19.4 -11.7h0m-1.3 4.5h0m-30.9 7.4h0m21 1.1h0m7 -2h0m-19 2.9h0m29 -6.6h0m-18.9 6.7h0m14.6 -10h0m-43 8.3h0m62.3 -7.8h0m-42.6 -1.6h0m-18.3 12.5h0m2.7 7.3h0m2.7 -7.2h0m24.4 -6.5h0m-56.8 13.7h0m28.7 -9h0"/><path id="p255" d="M506.2 570.8h0m3.4 -4.8h0m-50.9 10h0m27.2 -7.8h0m2.1 4.1h0m-9.9 3.1h0m-7.2 -1.9h0m30.7 -8.1h0m-23.8 7.9h0m10.6 -2.7h0m13 3h0m-38.3 -6.8h0m0.8 13.4h0m-1.9 -4.4h0m47.2 -17.7h0m1.4 9.3h0m-24 -0.2h0m-9.1 3.5h0m5.1 1.6h0m-14.6 7.9h0m16.9 -7.6h0"/><path id="p256" d="M479.6 578.8h0m-6.9 -14.2h0m3.7 12.4h0m26.4 -20.1h0m-18.2 14.3h0m-5 9.4h0m47 -29.4h0m-42.7 13h0m14.1 5.2h0m-33 7.6h0m-3.9 1.1h0m33.8 -15.8h0m10.6 11h0m-6.4 -11.7h0m2.2 -5.5h0m-16.7 17.4h0m0.7 -0.8h0m-41.5 9.7h0m27.2 -14.6h0m3.7 8.6h0m11.5 -5.3h0"/><path id="p257" d="M505.6 563.3h0m-0.6 -0.9h0m-38.5 7h0m39.3 0.8h0m-53.1 5.5h0m22.9 -5.8h0m34.9 -9.5h0m-15.4 -0.5h0m-57.8 14.5h0m82 -7.4h0m-10.9 -3h0m-28.9 12.9h0m-4.7 -12.7h0m26.1 3.4h0m-61.8 12.2h0m30.9 -8.7h0m-0.3 4.7h0m47.6 -16.4h0m-60.4 12h0m-11.5 5h0m42.7 -7.4h0"/><path id="p258" d="M445.1 580.1h0m42.3 -13.5h0m-4.6 2.2h0m7.1 19.4h0m9.5 -24.6h0m-1.6 -1.3h0m15 6.1h0m-53.6 12.1h0m-10.7 -3.3h0m28.9 0.4h0m-23 4.8h0m2.6 1.2h0m38.4 -21.9h0m-42.1 15h0m60.7 -8.3h0m-28.1 8.4h0m15.1 -12.6h0m-19.9 9.8h0m43 -9.3h0m-35.3 6.1h0m21 -2.9h0"/><path id="p259" d="M509.3 563.8h0m-44 5.1h0m-14.3 15.8h0m31.4 -8.2h0m-5 -6.6h0m29.5 1.2h0m-38.9 3.2h0m14.2 -11.1h0m-37.4 12.6h0m23 -7.9h0m-7.7 1.1h0m6.9 -1.1h0m55.3 -6.7h0m-12.5 -4.3h0m-32.1 17.9h0m-6.6 1.3h0m-12.8 -4h0m14.7 4.9h0m50.9 -15.4h0m-70.9 17.6h0m58.5 -20.3h0"/><path id="p260" d="M490.1 565.8h0m29.7 -8.9h0m-17.1 12.2h0m-49.7 16.9h0m70.3 -30.3h0m-1.6 -2h0m-76.7 28.7h0m21.9 -2.8h0m-23.6 8.6h0m37.3 -23.7h0m37 5.8h0m-12.8 -5.5h0m-8.8 1.8h0m-19.7 8.5h0m-27.6 3.6h0m-2.3 1.9h0m36.8 -14.3h0m-16.9 0.1h0m42.4 -8.2h0m-5.4 16.4h0m-0.3 -1h0"/></defs>
<rect width="685" height="681" fill="#fff"/>
<text x="2.6" y="10.9" font-size="15.2" font-weight="bold" fill="#151515">a</text>
<text x="355.1" y="10.6" font-size="15.2" font-weight="bold" fill="#151515">b</text>
<text x="3" y="324.6" font-size="15.2" font-weight="bold" fill="#151515">c</text>
<text x="393.2" y="324.5" font-size="15.2" font-weight="bold" fill="#151515">d</text>
<rect x="42.5" y="24.5" width="289" height="240.3" fill="#fff"/>
<line x1="100.3" y1="24.5" x2="100.3" y2="264.8" stroke="#ececec" stroke-width="0.7" />
<line x1="158.1" y1="24.5" x2="158.1" y2="264.8" stroke="#ececec" stroke-width="0.7" />
<line x1="215.9" y1="24.5" x2="215.9" y2="264.8" stroke="#ececec" stroke-width="0.7" />
<line x1="273.7" y1="24.5" x2="273.7" y2="264.8" stroke="#ececec" stroke-width="0.7" />
<line x1="42.5" y1="139.9" x2="331.5" y2="139.9" stroke="#ececec" stroke-width="0.7" />
<line x1="42.5" y1="111.7" x2="331.5" y2="111.7" stroke="#ececec" stroke-width="0.7" />
<line x1="42.5" y1="83.4" x2="331.5" y2="83.4" stroke="#ececec" stroke-width="0.7" />
<line x1="42.5" y1="55.2" x2="331.5" y2="55.2" stroke="#ececec" stroke-width="0.7" />
<path d="M42.5 95.6L202.9 79.2L331.5 25.2L331.5 114.2L205.5 168.2L42.5 168.2" fill="#e7f2f2" stroke="none" stroke-width="1" />
<path d="M42.5 95.6L202.9 79.2L331.5 25.2" fill="none" stroke="#5ec3df" stroke-width="0.8" />
<path d="M42.5 168.2L205.5 168.2L331.5 114.2" fill="none" stroke="#5ec3df" stroke-width="0.8" />
<use href="#p1" stroke="#173c40" stroke-width="3.05"/>
<use href="#p1" stroke="#25b3bb" stroke-width="1.75"/>
<g transform="rotate(45)" stroke-linecap="square">
<use href="#p2" stroke="#173c40" stroke-width="2.44"/>
<use href="#p2" stroke="#25b3bb" stroke-width="1.26"/>
</g>
<use href="#p3" stroke="#173c40" stroke-width="3.05"/>
<use href="#p3" stroke="#25b3bb" stroke-width="1.75"/>
<g transform="rotate(45)" stroke-linecap="square">
<use href="#p4" stroke="#173c40" stroke-width="2.44"/>
<use href="#p4" stroke="#25b3bb" stroke-width="1.26"/>
</g>
<use href="#p5" stroke="#173c40" stroke-width="3.05"/>
<use href="#p5" stroke="#25b3bb" stroke-width="1.75"/>
<g transform="rotate(45)" stroke-linecap="square">
<use href="#p6" stroke="#173c40" stroke-width="2.44"/>
<use href="#p6" stroke="#25b3bb" stroke-width="1.26"/>
</g>
<use href="#p7" stroke="#173c40" stroke-width="3.05"/>
<use href="#p7" stroke="#25b3bb" stroke-width="1.75"/>
<g transform="rotate(45)" stroke-linecap="square">
<use href="#p8" stroke="#173c40" stroke-width="2.44"/>
<use href="#p8" stroke="#25b3bb" stroke-width="1.26"/>
</g>
<use href="#p9" stroke="#173c40" stroke-width="3.05"/>
<use href="#p9" stroke="#25b3bb" stroke-width="1.75"/>
<g transform="rotate(45)" stroke-linecap="square">
<use href="#p10" stroke="#173c40" stroke-width="2.44"/>
<use href="#p10" stroke="#25b3bb" stroke-width="1.26"/>
</g>
<use href="#p11" stroke="#173c40" stroke-width="3.05"/>
<use href="#p11" stroke="#25b3bb" stroke-width="1.75"/>
<g transform="rotate(45)" stroke-linecap="square">
<use href="#p12" stroke="#173c40" stroke-width="2.44"/>
<use href="#p12" stroke="#25b3bb" stroke-width="1.26"/>
</g>
<use href="#p13" stroke="#173c40" stroke-width="3.05"/>
<use href="#p13" stroke="#25b3bb" stroke-width="1.75"/>
<g transform="rotate(45)" stroke-linecap="square">
<use href="#p14" stroke="#173c40" stroke-width="2.44"/>
<use href="#p14" stroke="#25b3bb" stroke-width="1.26"/>
</g>
<use href="#p15" stroke="#173c40" stroke-width="3.05"/>
<use href="#p15" stroke="#25b3bb" stroke-width="1.75"/>
<g transform="rotate(45)" stroke-linecap="square">
<use href="#p16" stroke="#173c40" stroke-width="2.44"/>
<use href="#p16" stroke="#25b3bb" stroke-width="1.26"/>
</g>
<use href="#p17" stroke="#173c40" stroke-width="3.05"/>
<use href="#p17" stroke="#25b3bb" stroke-width="1.75"/>
<g transform="rotate(45)" stroke-linecap="square">
<use href="#p18" stroke="#173c40" stroke-width="2.44"/>
<use href="#p18" stroke="#25b3bb" stroke-width="1.26"/>
</g>
<use href="#p19" stroke="#173c40" stroke-width="3.05"/>
<use href="#p19" stroke="#25b3bb" stroke-width="1.75"/>
<g transform="rotate(45)" stroke-linecap="square">
<use href="#p20" stroke="#173c40" stroke-width="2.44"/>
<use href="#p20" stroke="#25b3bb" stroke-width="1.26"/>
</g>
<use href="#p21" stroke="#173c40" stroke-width="3.05"/>
<use href="#p21" stroke="#25b3bb" stroke-width="1.75"/>
<g transform="rotate(45)" stroke-linecap="square">
<use href="#p22" stroke="#173c40" stroke-width="2.44"/>
<use href="#p22" stroke="#25b3bb" stroke-width="1.26"/>
</g>
<use href="#p23" stroke="#173c40" stroke-width="3.05"/>
<use href="#p23" stroke="#25b3bb" stroke-width="1.75"/>
<g transform="rotate(45)" stroke-linecap="square">
<use href="#p24" stroke="#173c40" stroke-width="2.44"/>
<use href="#p24" stroke="#25b3bb" stroke-width="1.26"/>
</g>
<use href="#p25" stroke="#173c40" stroke-width="3.05"/>
<use href="#p25" stroke="#25b3bb" stroke-width="1.75"/>
<g transform="rotate(45)" stroke-linecap="square">
<use href="#p26" stroke="#173c40" stroke-width="2.44"/>
<use href="#p26" stroke="#25b3bb" stroke-width="1.26"/>
</g>
<use href="#p27" stroke="#173c40" stroke-width="3.05"/>
<use href="#p27" stroke="#25b3bb" stroke-width="1.75"/>
<g transform="rotate(45)" stroke-linecap="square">
<use href="#p28" stroke="#173c40" stroke-width="2.44"/>
<use href="#p28" stroke="#25b3bb" stroke-width="1.26"/>
</g>
<use href="#p29" stroke="#173c40" stroke-width="3.05"/>
<use href="#p29" stroke="#25b3bb" stroke-width="1.75"/>
<g transform="rotate(45)" stroke-linecap="square">
<use href="#p30" stroke="#173c40" stroke-width="2.44"/>
<use href="#p30" stroke="#25b3bb" stroke-width="1.26"/>
</g>
<use href="#p31" stroke="#173c40" stroke-width="3.05"/>
<use href="#p31" stroke="#25b3bb" stroke-width="1.75"/>
<g transform="rotate(45)" stroke-linecap="square">
<use href="#p32" stroke="#173c40" stroke-width="2.44"/>
<use href="#p32" stroke="#25b3bb" stroke-width="1.26"/>
</g>
<use href="#p33" stroke="#173c40" stroke-width="3.05"/>
<use href="#p33" stroke="#25b3bb" stroke-width="1.75"/>
<g transform="rotate(45)" stroke-linecap="square">
<use href="#p34" stroke="#173c40" stroke-width="2.44"/>
<use href="#p34" stroke="#25b3bb" stroke-width="1.26"/>
</g>
<use href="#p35" stroke="#173c40" stroke-width="3.05"/>
<use href="#p35" stroke="#25b3bb" stroke-width="1.75"/>
<g transform="rotate(45)" stroke-linecap="square">
<use href="#p36" stroke="#173c40" stroke-width="2.44"/>
<use href="#p36" stroke="#25b3bb" stroke-width="1.26"/>
</g>
<use href="#p37" stroke="#173c40" stroke-width="3.05"/>
<use href="#p37" stroke="#25b3bb" stroke-width="1.75"/>
<g transform="rotate(45)" stroke-linecap="square">
<use href="#p38" stroke="#173c40" stroke-width="2.44"/>
<use href="#p38" stroke="#25b3bb" stroke-width="1.26"/>
</g>
<use href="#p39" stroke="#173c40" stroke-width="3.05"/>
<use href="#p39" stroke="#25b3bb" stroke-width="1.75"/>
<g transform="rotate(45)" stroke-linecap="square">
<use href="#p40" stroke="#173c40" stroke-width="2.44"/>
<use href="#p40" stroke="#25b3bb" stroke-width="1.26"/>
</g>
<use href="#p41" stroke="#173c40" stroke-width="3.05"/>
<use href="#p41" stroke="#25b3bb" stroke-width="1.75"/>
<g transform="rotate(45)" stroke-linecap="square">
<use href="#p42" stroke="#173c40" stroke-width="2.44"/>
<use href="#p42" stroke="#25b3bb" stroke-width="1.26"/>
</g>
<use href="#p43" stroke="#173c40" stroke-width="3.05"/>
<use href="#p43" stroke="#25b3bb" stroke-width="1.75"/>
<g transform="rotate(45)" stroke-linecap="square">
<use href="#p44" stroke="#173c40" stroke-width="2.44"/>
<use href="#p44" stroke="#25b3bb" stroke-width="1.26"/>
</g>
<use href="#p45" stroke="#173c40" stroke-width="3.05"/>
<use href="#p45" stroke="#25b3bb" stroke-width="1.75"/>
<g transform="rotate(45)" stroke-linecap="square">
<use href="#p46" stroke="#173c40" stroke-width="2.44"/>
<use href="#p46" stroke="#25b3bb" stroke-width="1.26"/>
</g>
<use href="#p47" stroke="#173c40" stroke-width="3.05"/>
<use href="#p47" stroke="#25b3bb" stroke-width="1.75"/>
<g transform="rotate(45)" stroke-linecap="square">
<use href="#p48" stroke="#173c40" stroke-width="2.44"/>
<use href="#p48" stroke="#25b3bb" stroke-width="1.26"/>
</g>
<use href="#p49" stroke="#173c40" stroke-width="3.05"/>
<use href="#p49" stroke="#25b3bb" stroke-width="1.75"/>
<g transform="rotate(45)" stroke-linecap="square">
<use href="#p50" stroke="#173c40" stroke-width="2.44"/>
<use href="#p50" stroke="#25b3bb" stroke-width="1.26"/>
</g>
<use href="#p51" stroke="#173c40" stroke-width="3.05"/>
<use href="#p51" stroke="#25b3bb" stroke-width="1.75"/>
<g transform="rotate(45)" stroke-linecap="square">
<use href="#p52" stroke="#173c40" stroke-width="2.44"/>
<use href="#p52" stroke="#25b3bb" stroke-width="1.26"/>
</g>
<use href="#p53" stroke="#173c40" stroke-width="3.05"/>
<use href="#p53" stroke="#25b3bb" stroke-width="1.75"/>
<g transform="rotate(45)" stroke-linecap="square">
<use href="#p54" stroke="#173c40" stroke-width="2.44"/>
<use href="#p54" stroke="#25b3bb" stroke-width="1.26"/>
</g>
<use href="#p55" stroke="#173c40" stroke-width="3.05"/>
<use href="#p55" stroke="#25b3bb" stroke-width="1.75"/>
<g transform="rotate(45)" stroke-linecap="square">
<use href="#p56" stroke="#173c40" stroke-width="2.44"/>
<use href="#p56" stroke="#25b3bb" stroke-width="1.26"/>
</g>
<use href="#p57" stroke="#173c40" stroke-width="3.05"/>
<use href="#p57" stroke="#25b3bb" stroke-width="1.75"/>
<g transform="rotate(45)" stroke-linecap="square">
<use href="#p58" stroke="#173c40" stroke-width="2.44"/>
<use href="#p58" stroke="#25b3bb" stroke-width="1.26"/>
</g>
<use href="#p59" stroke="#173c40" stroke-width="3.05"/>
<use href="#p59" stroke="#25b3bb" stroke-width="1.75"/>
<g transform="rotate(45)" stroke-linecap="square">
<use href="#p60" stroke="#173c40" stroke-width="2.44"/>
<use href="#p60" stroke="#25b3bb" stroke-width="1.26"/>
</g>
<use href="#p61" stroke="#173c40" stroke-width="3.05"/>
<use href="#p61" stroke="#25b3bb" stroke-width="1.75"/>
<g transform="rotate(45)" stroke-linecap="square">
<use href="#p62" stroke="#173c40" stroke-width="2.44"/>
<use href="#p62" stroke="#25b3bb" stroke-width="1.26"/>
</g>
<use href="#p63" stroke="#173c40" stroke-width="3.05"/>
<use href="#p63" stroke="#25b3bb" stroke-width="1.75"/>
<g transform="rotate(45)" stroke-linecap="square">
<use href="#p64" stroke="#173c40" stroke-width="2.44"/>
<use href="#p64" stroke="#25b3bb" stroke-width="1.26"/>
</g>
<use href="#p65" stroke="#173c40" stroke-width="3.05"/>
<use href="#p65" stroke="#25b3bb" stroke-width="1.75"/>
<g transform="rotate(45)" stroke-linecap="square">
<use href="#p66" stroke="#173c40" stroke-width="2.44"/>
<use href="#p66" stroke="#25b3bb" stroke-width="1.26"/>
</g>
<use href="#p67" stroke="#173c40" stroke-width="3.05"/>
<use href="#p67" stroke="#25b3bb" stroke-width="1.75"/>
<g transform="rotate(45)" stroke-linecap="square">
<use href="#p68" stroke="#173c40" stroke-width="2.44"/>
<use href="#p68" stroke="#25b3bb" stroke-width="1.26"/>
</g>
<use href="#p69" stroke="#173c40" stroke-width="3.05"/>
<use href="#p69" stroke="#25b3bb" stroke-width="1.75"/>
<g transform="rotate(45)" stroke-linecap="square">
<use href="#p70" stroke="#173c40" stroke-width="2.44"/>
<use href="#p70" stroke="#25b3bb" stroke-width="1.26"/>
</g>
<use href="#p71" stroke="#173c40" stroke-width="3.05"/>
<use href="#p71" stroke="#25b3bb" stroke-width="1.75"/>
<g transform="rotate(45)" stroke-linecap="square">
<use href="#p72" stroke="#173c40" stroke-width="2.44"/>
<use href="#p72" stroke="#25b3bb" stroke-width="1.26"/>
</g>
<use href="#p73" stroke="#173c40" stroke-width="3.05"/>
<use href="#p73" stroke="#25b3bb" stroke-width="1.75"/>
<g transform="rotate(45)" stroke-linecap="square">
<use href="#p74" stroke="#173c40" stroke-width="2.44"/>
<use href="#p74" stroke="#25b3bb" stroke-width="1.26"/>
</g>
<use href="#p75" stroke="#173c40" stroke-width="3.05"/>
<use href="#p75" stroke="#25b3bb" stroke-width="1.75"/>
<g transform="rotate(45)" stroke-linecap="square">
<use href="#p76" stroke="#173c40" stroke-width="2.44"/>
<use href="#p76" stroke="#25b3bb" stroke-width="1.26"/>
</g>
<use href="#p77" stroke="#173c40" stroke-width="3.05"/>
<use href="#p77" stroke="#25b3bb" stroke-width="1.75"/>
<g transform="rotate(45)" stroke-linecap="square">
<use href="#p78" stroke="#173c40" stroke-width="2.44"/>
<use href="#p78" stroke="#25b3bb" stroke-width="1.26"/>
</g>
<use href="#p79" stroke="#173c40" stroke-width="3.05"/>
<use href="#p79" stroke="#25b3bb" stroke-width="1.75"/>
<g transform="rotate(45)" stroke-linecap="square">
<use href="#p80" stroke="#173c40" stroke-width="2.44"/>
<use href="#p80" stroke="#25b3bb" stroke-width="1.26"/>
</g>
<path d="M47.1 138.5L201.4 123L331.5 68.7" fill="none" stroke="#9b86cf" stroke-width="0.8" />
<line x1="42.5" y1="168.2" x2="331.5" y2="168.2" stroke="#7d7d7d" stroke-width="0.9" />
<rect x="42.5" y="24.5" width="289" height="240.3" fill="none" stroke="#7d7d7d" stroke-width="0.9"/>
<path d="M42.5 210.1L43.7 207.9L44.9 206.9L46.1 205.6L47.3 205.1L48.5 202.4L49.7 201.2L50.9 200.1L52.1 200.8L53.3 198.3L54.5 197L55.7 195.9L56.9 194.7L58.1 193.2L59.3 193L60.5 191.1L61.7 190.9L62.9 187.6L64.1 188.4L65.3 187.5L66.5 184.4L67.7 183.6L68.9 183.1L70.1 182.8L71.3 183.4L72.5 180.7L73.7 181L74.9 179.8L76.1 180.8L77.3 180L78.5 178.2L79.7 177.3L80.9 178.8L82.1 178.6L83.3 178.1L84.5 177.1L85.7 177.8L86.9 177.7L88.1 176.3L89.3 175.9L90.5 176.2L91.7 175.2L92.9 176.9L94.1 176.3L95.3 176L96.5 175.4L97.7 175.1L98.9 176.1L100.1 175.7L101.3 176.1L102.5 177.8L103.7 176.3L104.9 178.4L106.1 177.5L107.3 178.5L108.5 177.4L109.7 177.5L110.9 179.7L112.1 178.3L113.3 178.7L114.5 180.8L115.7 180.5L116.9 180L118.1 179.8L119.3 181.9L120.5 180.9L121.7 182.4L122.9 184L124.1 185.8L125.3 186L126.5 187.4L127.7 188L128.9 188L130.1 187.8L131.3 188.4L132.5 189.5L133.7 191.9L134.9 190.9L136.1 191.5L137.3 192.6L138.5 194.1L139.7 193.1L140.9 194.2L142.1 196.2L143.3 195.4L144.5 197.6L145.7 198.9L146.9 198.6L148.1 199.4L149.3 200.1L150.5 200.3L151.7 200L152.9 200.6L154.1 203L155.3 201.5L156.5 203.4L157.7 202.2L158.9 203.4L160.1 205.6L161.3 204.4L162.5 204.8L163.7 205.8L164.9 207.3L166.1 206.3L167.3 205.7L168.5 206.4L169.7 206.9L170.9 208.8L172.1 207.1L173.3 207.9L174.5 209.9L175.7 209.4L176.9 209.4L178.1 209.3L179.3 209L180.5 211.1L181.7 210.8L182.9 210.5L184.1 211.6L185.3 212.2L186.5 212.4L187.7 212.5L188.9 211.6L190.1 211L191.3 212.9L192.5 213.2L193.7 212.9L194.9 213.6L196.1 213.6L197.3 214.1L198.5 213.7L199.7 213.6L200.9 213L202 215L203.2 213.2L204.4 214.3L205.6 215.1L206.8 216.1L208 215.1L209.2 215.3L210.4 215.5L211.6 215.6L212.8 215.7L214 215.7L215.2 215.8L216.4 215.8L217.6 215.9L218.8 215.9L220 216L221.2 216L222.4 216.1L223.6 216.1L224.8 216.2L226 216.2L227.2 216.3L228.4 216.3L229.6 216.4L230.8 216.5L232 216.5L233.2 216.6L233.2 219.8L232 219.9L230.8 219.9L229.6 220L228.4 220.1L227.2 220.1L226 220.2L224.8 220.2L223.6 220.3L222.4 220.3L221.2 220.4L220 220.4L218.8 220.5L217.6 220.5L216.4 220.6L215.2 220.6L214 220.7L212.8 220.7L211.6 220.8L210.4 220.9L209.2 221.1L208 220.4L206.8 221.3L205.6 220.7L204.4 222.9L203.2 223.3L202 223.2L200.9 223L199.7 222L198.5 221.9L197.3 223L196.1 223.6L194.9 222L193.7 223.6L192.5 223.2L191.3 223.4L190.1 225.2L188.9 224.7L187.7 223.3L186.5 224.9L185.3 226L184.1 226.4L182.9 224.5L181.7 226.3L180.5 225.1L179.3 226.5L178.1 227.7L176.9 226.2L175.7 226L174.5 226.6L173.3 226.9L172.1 227.3L170.9 227.6L169.7 228.2L168.5 229.4L167.3 228.6L166.1 229L164.9 229.8L163.7 229.3L162.5 232.2L161.3 231.2L160.1 231.4L158.9 232.1L157.7 232L156.5 234L155.3 233L154.1 234.5L152.9 236.4L151.7 236.1L150.5 235.2L149.3 237.8L148.1 238.2L146.9 236.9L145.7 238.3L144.5 240.4L143.3 240.4L142.1 240.1L140.9 242.5L139.7 241.4L138.5 242.2L137.3 244.3L136.1 244L134.9 246.1L133.7 246.3L132.5 245.2L131.3 246.7L130.1 247.3L128.9 247.8L127.7 248.6L126.5 250.5L125.3 251.2L124.1 252.1L122.9 253.4L121.7 252.3L120.5 253.7L119.3 255.2L118.1 256.1L116.9 256.2L115.7 256.8L114.5 257.3L113.3 256.5L112.1 256.3L110.9 257.4L109.7 256.9L108.5 258.5L107.3 259.4L106.1 258.2L104.9 260.2L103.7 258.1L102.5 259.1L101.3 258.7L100.1 259.8L98.9 260.8L97.7 258.8L96.5 260.1L95.3 260.4L94.1 260.1L92.9 259.3L91.7 259.1L90.5 260.2L89.3 261L88.1 260.2L86.9 259.1L85.7 259.6L84.5 258.6L83.3 258.7L82.1 257.5L80.9 257.2L79.7 258.4L78.5 257L77.3 257.1L76.1 258.2L74.9 256.8L73.7 254.4L72.5 255.4L71.3 253.9L70.1 253.5L68.9 252.6L67.7 251.6L66.5 250.1L65.3 250.6L64.1 248.1L62.9 247.4L61.7 247.2L60.5 244.8L59.3 244.1L58.1 242.6L56.9 242.5L55.7 239.8L54.5 239.3L53.3 238.3L52.1 236.2L50.9 235.3L49.7 234L48.5 233.6L47.3 230.9L46.1 231.4L44.9 229.9L43.7 227.7L42.5 225.5" fill="url(#pinkv)" stroke="#2a1520" stroke-width="1.0" />
<circle cx="233.2" cy="218.2" r="1.5" fill="#e463a8" stroke="#2a1520" stroke-width="0.6"/>
<circle cx="237.9" cy="218.2" r="1.5" fill="#e463a8" stroke="#2a1520" stroke-width="0.6"/>
<circle cx="243.1" cy="218.2" r="1.5" fill="#e463a8" stroke="#2a1520" stroke-width="0.6"/>
<line x1="38" y1="168.2" x2="42.5" y2="168.2" stroke="#9a9a9a" stroke-width="0.9" />
<text x="32" y="171.5" font-size="9.3" fill="#444" stroke="#444" stroke-width="0" text-anchor="end" >0</text>
<line x1="38" y1="139.9" x2="42.5" y2="139.9" stroke="#9a9a9a" stroke-width="0.9" />
<text x="32" y="143.2" font-size="9.3" fill="#444" stroke="#444" stroke-width="0" text-anchor="end" >1</text>
<line x1="38" y1="111.7" x2="42.5" y2="111.7" stroke="#9a9a9a" stroke-width="0.9" />
<text x="32" y="115" font-size="9.3" fill="#444" stroke="#444" stroke-width="0" text-anchor="end" >2</text>
<line x1="38" y1="83.4" x2="42.5" y2="83.4" stroke="#9a9a9a" stroke-width="0.9" />
<text x="32" y="86.7" font-size="9.3" fill="#444" stroke="#444" stroke-width="0" text-anchor="end" >3</text>
<line x1="38" y1="55.2" x2="42.5" y2="55.2" stroke="#9a9a9a" stroke-width="0.9" />
<text x="32" y="58.5" font-size="9.3" fill="#444" stroke="#444" stroke-width="0" text-anchor="end" >4</text>
<line x1="38" y1="26.9" x2="42.5" y2="26.9" stroke="#9a9a9a" stroke-width="0.9" />
<text x="32" y="30.2" font-size="9.3" fill="#444" stroke="#444" stroke-width="0" text-anchor="end" >5</text>
<line x1="42.5" y1="264.8" x2="42.5" y2="269.3" stroke="#9a9a9a" stroke-width="0.9" />
<text x="42.5" y="281.2" font-size="9.3" fill="#444" stroke="#444" stroke-width="0" text-anchor="middle" >0</text>
<line x1="100.3" y1="264.8" x2="100.3" y2="269.3" stroke="#9a9a9a" stroke-width="0.9" />
<text x="100.3" y="281.2" font-size="9.3" fill="#444" stroke="#444" stroke-width="0" text-anchor="middle" >1</text>
<line x1="158.1" y1="264.8" x2="158.1" y2="269.3" stroke="#9a9a9a" stroke-width="0.9" />
<text x="158.1" y="281.2" font-size="9.3" fill="#444" stroke="#444" stroke-width="0" text-anchor="middle" >2</text>
<line x1="215.9" y1="264.8" x2="215.9" y2="269.3" stroke="#9a9a9a" stroke-width="0.9" />
<text x="215.9" y="281.2" font-size="9.3" fill="#444" stroke="#444" stroke-width="0" text-anchor="middle" >3</text>
<line x1="273.7" y1="264.8" x2="273.7" y2="269.3" stroke="#9a9a9a" stroke-width="0.9" />
<text x="273.7" y="281.2" font-size="9.3" fill="#444" stroke="#444" stroke-width="0" text-anchor="middle" >4</text>
<text x="187.5" y="297.5" font-size="10.5" fill="#3c3c3c" stroke="#3c3c3c" stroke-width="0.1" text-anchor="middle" >log<tspan font-size="7.3" dy="2.5">10</tspan><tspan dy="-2.5">(Barcode vDNA)</tspan></text>
<text transform="translate(19.3,97.3) rotate(-90)" font-size="10.5" fill="#3c3c3c" stroke="#3c3c3c" stroke-width="0.1" text-anchor="middle">log<tspan font-size="7.3" dy="2.5">10</tspan><tspan dy="-2.5">(Barcode vRNA)</tspan></text>
<text x="42.5" y="20" font-size="10.5" fill="#3c3c3c" stroke="#3c3c3c" stroke-width="0.1">On-ART (<tspan font-style="italic">n</tspan> = 6)</text>
<text x="59.5" y="43.2" font-size="10.0" fill="#3c3c3c" stroke="#3c3c3c" stroke-width="0.1" text-anchor="start" >DNA<tspan font-size="6.2" dy="-4">+</tspan><tspan dy="4">RNA</tspan><tspan font-size="6.2" dy="-4">+</tspan><tspan dy="4"> (<tspan font-style="italic">n</tspan> = 4,676; 14%)</tspan></text>
<text x="166.4" y="189" font-size="10.4" fill="#3c3c3c" stroke="#3c3c3c" stroke-width="0.1" text-anchor="start" >DNA<tspan font-size="6.4" dy="-4">+</tspan><tspan dy="4"> only (<tspan font-style="italic">n</tspan> = 27,615)</tspan></text>
<rect x="390" y="24.5" width="289.5" height="240.3" fill="#fff"/>
<line x1="447.9" y1="24.5" x2="447.9" y2="264.8" stroke="#ececec" stroke-width="0.7" />
<line x1="505.8" y1="24.5" x2="505.8" y2="264.8" stroke="#ececec" stroke-width="0.7" />
<line x1="563.7" y1="24.5" x2="563.7" y2="264.8" stroke="#ececec" stroke-width="0.7" />
<line x1="621.6" y1="24.5" x2="621.6" y2="264.8" stroke="#ececec" stroke-width="0.7" />
<line x1="390" y1="139.9" x2="679.5" y2="139.9" stroke="#ececec" stroke-width="0.7" />
<line x1="390" y1="111.7" x2="679.5" y2="111.7" stroke="#ececec" stroke-width="0.7" />
<line x1="390" y1="83.4" x2="679.5" y2="83.4" stroke="#ececec" stroke-width="0.7" />
<line x1="390" y1="55.2" x2="679.5" y2="55.2" stroke="#ececec" stroke-width="0.7" />
<path d="M390 95.6L550.7 79.2L679.5 25.2L679.5 114.2L553.3 168.2L390 168.2" fill="#e7f2f2" stroke="none" stroke-width="1" />
<path d="M390 95.6L550.7 79.2L679.5 25.2" fill="none" stroke="#5ec3df" stroke-width="0.8" />
<path d="M390 168.2L553.3 168.2L679.5 114.2" fill="none" stroke="#5ec3df" stroke-width="0.8" />
<use href="#p81" stroke="#161c24" stroke-width="3.05"/>
<use href="#p81" stroke="#56a0d8" stroke-width="1.35"/>
<g transform="rotate(45)" stroke-linecap="square">
<use href="#p82" stroke="#161c24" stroke-width="2.44"/>
<use href="#p82" stroke="#56a0d8" stroke-width="0.97"/>
</g>
<use href="#p83" stroke="#161c24" stroke-width="3.05"/>
<use href="#p83" stroke="#56a0d8" stroke-width="1.35"/>
<g transform="rotate(45)" stroke-linecap="square">
<use href="#p84" stroke="#161c24" stroke-width="2.44"/>
<use href="#p84" stroke="#56a0d8" stroke-width="0.97"/>
</g>
<use href="#p85" stroke="#161c24" stroke-width="3.05"/>
<use href="#p85" stroke="#56a0d8" stroke-width="1.35"/>
<g transform="rotate(45)" stroke-linecap="square">
<use href="#p86" stroke="#161c24" stroke-width="2.44"/>
<use href="#p86" stroke="#56a0d8" stroke-width="0.97"/>
</g>
<use href="#p87" stroke="#161c24" stroke-width="3.05"/>
<use href="#p87" stroke="#56a0d8" stroke-width="1.35"/>
<g transform="rotate(45)" stroke-linecap="square">
<use href="#p88" stroke="#161c24" stroke-width="2.44"/>
<use href="#p88" stroke="#56a0d8" stroke-width="0.97"/>
</g>
<use href="#p89" stroke="#161c24" stroke-width="3.05"/>
<use href="#p89" stroke="#56a0d8" stroke-width="1.35"/>
<g transform="rotate(45)" stroke-linecap="square">
<use href="#p90" stroke="#161c24" stroke-width="2.44"/>
<use href="#p90" stroke="#56a0d8" stroke-width="0.97"/>
</g>
<use href="#p91" stroke="#161c24" stroke-width="3.05"/>
<use href="#p91" stroke="#56a0d8" stroke-width="1.35"/>
<g transform="rotate(45)" stroke-linecap="square">
<use href="#p92" stroke="#161c24" stroke-width="2.44"/>
<use href="#p92" stroke="#56a0d8" stroke-width="0.97"/>
</g>
<use href="#p93" stroke="#161c24" stroke-width="3.05"/>
<use href="#p93" stroke="#56a0d8" stroke-width="1.35"/>
<g transform="rotate(45)" stroke-linecap="square">
<use href="#p94" stroke="#161c24" stroke-width="2.44"/>
<use href="#p94" stroke="#56a0d8" stroke-width="0.97"/>
</g>
<use href="#p95" stroke="#161c24" stroke-width="3.05"/>
<use href="#p95" stroke="#56a0d8" stroke-width="1.35"/>
<g transform="rotate(45)" stroke-linecap="square">
<use href="#p96" stroke="#161c24" stroke-width="2.44"/>
<use href="#p96" stroke="#56a0d8" stroke-width="0.97"/>
</g>
<use href="#p97" stroke="#161c24" stroke-width="3.05"/>
<use href="#p97" stroke="#56a0d8" stroke-width="1.35"/>
<g transform="rotate(45)" stroke-linecap="square">
<use href="#p98" stroke="#161c24" stroke-width="2.44"/>
<use href="#p98" stroke="#56a0d8" stroke-width="0.97"/>
</g>
<use href="#p99" stroke="#161c24" stroke-width="3.05"/>
<use href="#p99" stroke="#56a0d8" stroke-width="1.35"/>
<g transform="rotate(45)" stroke-linecap="square">
<use href="#p100" stroke="#161c24" stroke-width="2.44"/>
<use href="#p100" stroke="#56a0d8" stroke-width="0.97"/>
</g>
<use href="#p101" stroke="#161c24" stroke-width="3.05"/>
<use href="#p101" stroke="#56a0d8" stroke-width="1.35"/>
<g transform="rotate(45)" stroke-linecap="square">
<use href="#p102" stroke="#161c24" stroke-width="2.44"/>
<use href="#p102" stroke="#56a0d8" stroke-width="0.97"/>
</g>
<use href="#p103" stroke="#161c24" stroke-width="3.05"/>
<use href="#p103" stroke="#56a0d8" stroke-width="1.35"/>
<g transform="rotate(45)" stroke-linecap="square">
<use href="#p104" stroke="#161c24" stroke-width="2.44"/>
<use href="#p104" stroke="#56a0d8" stroke-width="0.97"/>
</g>
<use href="#p105" stroke="#161c24" stroke-width="3.05"/>
<use href="#p105" stroke="#56a0d8" stroke-width="1.35"/>
<g transform="rotate(45)" stroke-linecap="square">
<use href="#p106" stroke="#161c24" stroke-width="2.44"/>
<use href="#p106" stroke="#56a0d8" stroke-width="0.97"/>
</g>
<use href="#p107" stroke="#161c24" stroke-width="3.05"/>
<use href="#p107" stroke="#56a0d8" stroke-width="1.35"/>
<g transform="rotate(45)" stroke-linecap="square">
<use href="#p108" stroke="#161c24" stroke-width="2.44"/>
<use href="#p108" stroke="#56a0d8" stroke-width="0.97"/>
</g>
<use href="#p109" stroke="#161c24" stroke-width="3.05"/>
<use href="#p109" stroke="#56a0d8" stroke-width="1.35"/>
<g transform="rotate(45)" stroke-linecap="square">
<use href="#p110" stroke="#161c24" stroke-width="2.44"/>
<use href="#p110" stroke="#56a0d8" stroke-width="0.97"/>
</g>
<use href="#p111" stroke="#161c24" stroke-width="3.05"/>
<use href="#p111" stroke="#56a0d8" stroke-width="1.35"/>
<g transform="rotate(45)" stroke-linecap="square">
<use href="#p112" stroke="#161c24" stroke-width="2.44"/>
<use href="#p112" stroke="#56a0d8" stroke-width="0.97"/>
</g>
<use href="#p113" stroke="#161c24" stroke-width="3.05"/>
<use href="#p113" stroke="#56a0d8" stroke-width="1.35"/>
<g transform="rotate(45)" stroke-linecap="square">
<use href="#p114" stroke="#161c24" stroke-width="2.44"/>
<use href="#p114" stroke="#56a0d8" stroke-width="0.97"/>
</g>
<use href="#p115" stroke="#161c24" stroke-width="3.05"/>
<use href="#p115" stroke="#56a0d8" stroke-width="1.35"/>
<g transform="rotate(45)" stroke-linecap="square">
<use href="#p116" stroke="#161c24" stroke-width="2.44"/>
<use href="#p116" stroke="#56a0d8" stroke-width="0.97"/>
</g>
<use href="#p117" stroke="#161c24" stroke-width="3.05"/>
<use href="#p117" stroke="#56a0d8" stroke-width="1.35"/>
<g transform="rotate(45)" stroke-linecap="square">
<use href="#p118" stroke="#161c24" stroke-width="2.44"/>
<use href="#p118" stroke="#56a0d8" stroke-width="0.97"/>
</g>
<use href="#p119" stroke="#161c24" stroke-width="3.05"/>
<use href="#p119" stroke="#56a0d8" stroke-width="1.35"/>
<g transform="rotate(45)" stroke-linecap="square">
<use href="#p120" stroke="#161c24" stroke-width="2.44"/>
<use href="#p120" stroke="#56a0d8" stroke-width="0.97"/>
</g>
<use href="#p121" stroke="#161c24" stroke-width="3.05"/>
<use href="#p121" stroke="#56a0d8" stroke-width="1.35"/>
<g transform="rotate(45)" stroke-linecap="square">
<use href="#p122" stroke="#161c24" stroke-width="2.44"/>
<use href="#p122" stroke="#56a0d8" stroke-width="0.97"/>
</g>
<use href="#p123" stroke="#161c24" stroke-width="3.05"/>
<use href="#p123" stroke="#56a0d8" stroke-width="1.35"/>
<g transform="rotate(45)" stroke-linecap="square">
<use href="#p124" stroke="#161c24" stroke-width="2.44"/>
<use href="#p124" stroke="#56a0d8" stroke-width="0.97"/>
</g>
<use href="#p125" stroke="#161c24" stroke-width="3.05"/>
<use href="#p125" stroke="#56a0d8" stroke-width="1.35"/>
<g transform="rotate(45)" stroke-linecap="square">
<use href="#p126" stroke="#161c24" stroke-width="2.44"/>
<use href="#p126" stroke="#56a0d8" stroke-width="0.97"/>
</g>
<use href="#p127" stroke="#161c24" stroke-width="3.05"/>
<use href="#p127" stroke="#56a0d8" stroke-width="1.35"/>
<g transform="rotate(45)" stroke-linecap="square">
<use href="#p128" stroke="#161c24" stroke-width="2.44"/>
<use href="#p128" stroke="#56a0d8" stroke-width="0.97"/>
</g>
<use href="#p129" stroke="#161c24" stroke-width="3.05"/>
<use href="#p129" stroke="#56a0d8" stroke-width="1.35"/>
<g transform="rotate(45)" stroke-linecap="square">
<use href="#p130" stroke="#161c24" stroke-width="2.44"/>
<use href="#p130" stroke="#56a0d8" stroke-width="0.97"/>
</g>
<use href="#p131" stroke="#161c24" stroke-width="3.05"/>
<use href="#p131" stroke="#56a0d8" stroke-width="1.35"/>
<g transform="rotate(45)" stroke-linecap="square">
<use href="#p132" stroke="#161c24" stroke-width="2.44"/>
<use href="#p132" stroke="#56a0d8" stroke-width="0.97"/>
</g>
<use href="#p133" stroke="#161c24" stroke-width="3.05"/>
<use href="#p133" stroke="#56a0d8" stroke-width="1.35"/>
<g transform="rotate(45)" stroke-linecap="square">
<use href="#p134" stroke="#161c24" stroke-width="2.44"/>
<use href="#p134" stroke="#56a0d8" stroke-width="0.97"/>
</g>
<use href="#p135" stroke="#161c24" stroke-width="3.05"/>
<use href="#p135" stroke="#56a0d8" stroke-width="1.35"/>
<g transform="rotate(45)" stroke-linecap="square">
<use href="#p136" stroke="#161c24" stroke-width="2.44"/>
<use href="#p136" stroke="#56a0d8" stroke-width="0.97"/>
</g>
<use href="#p137" stroke="#161c24" stroke-width="3.05"/>
<use href="#p137" stroke="#56a0d8" stroke-width="1.35"/>
<g transform="rotate(45)" stroke-linecap="square">
<use href="#p138" stroke="#161c24" stroke-width="2.44"/>
<use href="#p138" stroke="#56a0d8" stroke-width="0.97"/>
</g>
<use href="#p139" stroke="#161c24" stroke-width="3.05"/>
<use href="#p139" stroke="#56a0d8" stroke-width="1.35"/>
<g transform="rotate(45)" stroke-linecap="square">
<use href="#p140" stroke="#161c24" stroke-width="2.44"/>
<use href="#p140" stroke="#56a0d8" stroke-width="0.97"/>
</g>
<use href="#p141" stroke="#161c24" stroke-width="3.05"/>
<use href="#p141" stroke="#56a0d8" stroke-width="1.35"/>
<g transform="rotate(45)" stroke-linecap="square">
<use href="#p142" stroke="#161c24" stroke-width="2.44"/>
<use href="#p142" stroke="#56a0d8" stroke-width="0.97"/>
</g>
<use href="#p143" stroke="#161c24" stroke-width="3.05"/>
<use href="#p143" stroke="#56a0d8" stroke-width="1.35"/>
<g transform="rotate(45)" stroke-linecap="square">
<use href="#p144" stroke="#161c24" stroke-width="2.44"/>
<use href="#p144" stroke="#56a0d8" stroke-width="0.97"/>
</g>
<use href="#p145" stroke="#161c24" stroke-width="3.05"/>
<use href="#p145" stroke="#56a0d8" stroke-width="1.35"/>
<g transform="rotate(45)" stroke-linecap="square">
<use href="#p146" stroke="#161c24" stroke-width="2.44"/>
<use href="#p146" stroke="#56a0d8" stroke-width="0.97"/>
</g>
<use href="#p147" stroke="#161c24" stroke-width="3.05"/>
<use href="#p147" stroke="#56a0d8" stroke-width="1.35"/>
<g transform="rotate(45)" stroke-linecap="square">
<use href="#p148" stroke="#161c24" stroke-width="2.44"/>
<use href="#p148" stroke="#56a0d8" stroke-width="0.97"/>
</g>
<use href="#p149" stroke="#161c24" stroke-width="3.05"/>
<use href="#p149" stroke="#56a0d8" stroke-width="1.35"/>
<g transform="rotate(45)" stroke-linecap="square">
<use href="#p150" stroke="#161c24" stroke-width="2.44"/>
<use href="#p150" stroke="#56a0d8" stroke-width="0.97"/>
</g>
<use href="#p151" stroke="#161c24" stroke-width="3.05"/>
<use href="#p151" stroke="#56a0d8" stroke-width="1.35"/>
<g transform="rotate(45)" stroke-linecap="square">
<use href="#p152" stroke="#161c24" stroke-width="2.44"/>
<use href="#p152" stroke="#56a0d8" stroke-width="0.97"/>
</g>
<use href="#p153" stroke="#161c24" stroke-width="3.05"/>
<use href="#p153" stroke="#56a0d8" stroke-width="1.35"/>
<g transform="rotate(45)" stroke-linecap="square">
<use href="#p154" stroke="#161c24" stroke-width="2.44"/>
<use href="#p154" stroke="#56a0d8" stroke-width="0.97"/>
</g>
<use href="#p155" stroke="#161c24" stroke-width="3.05"/>
<use href="#p155" stroke="#56a0d8" stroke-width="1.35"/>
<g transform="rotate(45)" stroke-linecap="square">
<use href="#p156" stroke="#161c24" stroke-width="2.44"/>
<use href="#p156" stroke="#56a0d8" stroke-width="0.97"/>
</g>
<use href="#p157" stroke="#161c24" stroke-width="3.05"/>
<use href="#p157" stroke="#56a0d8" stroke-width="1.35"/>
<g transform="rotate(45)" stroke-linecap="square">
<use href="#p158" stroke="#161c24" stroke-width="2.44"/>
<use href="#p158" stroke="#56a0d8" stroke-width="0.97"/>
</g>
<use href="#p159" stroke="#161c24" stroke-width="3.05"/>
<use href="#p159" stroke="#56a0d8" stroke-width="1.35"/>
<g transform="rotate(45)" stroke-linecap="square">
<use href="#p160" stroke="#161c24" stroke-width="2.44"/>
<use href="#p160" stroke="#56a0d8" stroke-width="0.97"/>
</g>
<path d="M464 112.4l1.9 3.3h-3.8z" fill="#56a0d8" stroke="#161c24" stroke-width="0.7"/>
<path d="M443.7 103.4l1.9 3.3h-3.8z" fill="#56a0d8" stroke="#161c24" stroke-width="0.7"/>
<path d="M417 110.8l1.9 3.3h-3.8z" fill="#56a0d8" stroke="#161c24" stroke-width="0.7"/>
<path d="M424.8 111.8l1.9 3.3h-3.8z" fill="#56a0d8" stroke="#161c24" stroke-width="0.7"/>
<path d="M423.5 96.4l1.9 3.3h-3.8z" fill="#56a0d8" stroke="#161c24" stroke-width="0.7"/>
<path d="M429.7 108.4l1.9 3.3h-3.8z" fill="#56a0d8" stroke="#161c24" stroke-width="0.7"/>
<path d="M465.4 96.5l1.9 3.3h-3.8z" fill="#56a0d8" stroke="#161c24" stroke-width="0.7"/>
<path d="M403.7 107.2l1.9 3.3h-3.8z" fill="#56a0d8" stroke="#161c24" stroke-width="0.7"/>
<path d="M428.2 96.7l1.9 3.3h-3.8z" fill="#56a0d8" stroke="#161c24" stroke-width="0.7"/>
<path d="M464.5 103.8l1.9 3.3h-3.8z" fill="#56a0d8" stroke="#161c24" stroke-width="0.7"/>
<path d="M461.7 99.2l1.9 3.3h-3.8z" fill="#56a0d8" stroke="#161c24" stroke-width="0.7"/>
<path d="M448.2 93.2l1.9 3.3h-3.8z" fill="#56a0d8" stroke="#161c24" stroke-width="0.7"/>
<path d="M407.1 108.4l1.9 3.3h-3.8z" fill="#56a0d8" stroke="#161c24" stroke-width="0.7"/>
<path d="M427 100l1.9 3.3h-3.8z" fill="#56a0d8" stroke="#161c24" stroke-width="0.7"/>
<path d="M612.6 91l1.9 3.3h-3.8z" fill="#56a0d8" stroke="#161c24" stroke-width="0.7"/>
<path d="M620.1 91.1l1.9 3.3h-3.8z" fill="#56a0d8" stroke="#161c24" stroke-width="0.7"/>
<path d="M601.3 96.9l1.9 3.3h-3.8z" fill="#56a0d8" stroke="#161c24" stroke-width="0.7"/>
<path d="M563.3 128.9l1.9 3.3h-3.8z" fill="#56a0d8" stroke="#161c24" stroke-width="0.7"/>
<path d="M613.2 84.9l1.9 3.3h-3.8z" fill="#56a0d8" stroke="#161c24" stroke-width="0.7"/>
<path d="M563.4 112.6l1.9 3.3h-3.8z" fill="#56a0d8" stroke="#161c24" stroke-width="0.7"/>
<path d="M575.7 105.5l1.9 3.3h-3.8z" fill="#56a0d8" stroke="#161c24" stroke-width="0.7"/>
<path d="M576.7 132.4l1.9 3.3h-3.8z" fill="#56a0d8" stroke="#161c24" stroke-width="0.7"/>
<path d="M579.1 124.1l1.9 3.3h-3.8z" fill="#56a0d8" stroke="#161c24" stroke-width="0.7"/>
<path d="M560.2 129.9l1.9 3.3h-3.8z" fill="#56a0d8" stroke="#161c24" stroke-width="0.7"/>
<path d="M565 108.6l1.9 3.3h-3.8z" fill="#56a0d8" stroke="#161c24" stroke-width="0.7"/>
<path d="M604.6 102.3l1.9 3.3h-3.8z" fill="#56a0d8" stroke="#161c24" stroke-width="0.7"/>
<path d="M557.4 118.9l1.9 3.3h-3.8z" fill="#56a0d8" stroke="#161c24" stroke-width="0.7"/>
<path d="M579.4 115l1.9 3.3h-3.8z" fill="#56a0d8" stroke="#161c24" stroke-width="0.7"/>
<line x1="390" y1="168.2" x2="679.5" y2="168.2" stroke="#7d7d7d" stroke-width="0.9" />
<rect x="390" y="24.5" width="289.5" height="240.3" fill="none" stroke="#7d7d7d" stroke-width="0.9"/>
<path d="M390 202.9L391.2 197.7L392.4 194.5L393.6 194.2L394.8 191.5L396 189.2L397.2 188.6L398.4 186.5L399.6 185.7L400.8 186.4L402 183.9L403.2 185.3L404.4 184.4L405.6 183.8L406.8 183.9L408 182.7L409.2 181.8L410.4 181.9L411.6 180.5L412.8 180.6L414 179.7L415.2 180.7L416.4 179.6L417.6 180.7L418.8 180.1L420 178.6L421.2 178.2L422.4 178.5L423.6 178.9L424.8 177.3L426.1 176.9L427.3 176.7L428.5 176.4L429.7 177.3L430.9 177.7L432.1 175.6L433.3 175.9L434.5 175.9L435.7 177.1L436.9 176.7L438.1 174.4L439.3 176L440.5 175.1L441.7 176L442.9 175.3L444.1 177.8L445.3 177.2L446.5 177.8L447.7 176.6L448.9 178.3L450.1 177.6L451.3 178.7L452.5 179.5L453.7 179.5L454.9 181.3L456.1 181L457.3 182.7L458.5 181.4L459.7 183.5L460.9 184.7L462.1 183.9L463.3 184.2L464.5 184.8L465.7 186.4L466.9 187L468.1 186.8L469.3 188.6L470.5 189.4L471.7 188.6L472.9 190.5L474.1 190L475.3 192.2L476.5 191.2L477.7 193L478.9 192.2L480.1 193.5L481.3 194.2L482.5 194.7L483.7 194.8L484.9 196.3L486.1 197.7L487.3 197.5L488.5 198.3L489.7 199.1L490.9 198.3L492.1 198.8L493.3 199.2L494.5 200.7L495.7 201.7L497 202.6L498.2 202L499.4 201.7L500.6 203.7L501.8 202.9L503 204L504.2 203.3L505.4 205.6L506.6 204.9L507.8 205.8L509 205L510.2 205.2L511.4 205.6L512.6 206.3L513.8 207.6L515 208.1L516.2 209.1L517.4 208.1L518.6 207.7L519.8 208.6L521 208.7L522.2 209.8L523.4 209.2L524.6 210.6L525.8 211.6L527 210.1L528.2 210.6L529.4 211.7L530.6 210.3L531.8 211.8L533 211.8L534.2 211L535.4 212.1L536.6 212.8L537.8 212.6L539 211.8L540.2 213.6L541.4 214.1L542.6 214.2L543.8 213L545 214.4L546.2 213L547.4 213.4L548.6 213.2L549.8 214.2L551 214.9L552.2 214.6L553.4 213.6L554.6 214L555.8 214.8L557 213.7L558.2 215.7L559.4 214.9L560.6 214.6L561.8 215.8L563 216.5L564.2 215.2L565.4 215.3L566.6 215.4L567.9 215.5L569.1 215.6L570.3 215.6L571.5 215.7L572.7 215.8L573.9 215.9L575.1 216.1L576.3 216.2L577.5 216.3L578.7 216.4L579.9 216.5L581.1 216.6L581.1 219.8L579.9 219.9L578.7 220L577.5 220.1L576.3 220.2L575.1 220.3L573.9 220.5L572.7 220.6L571.5 220.7L570.3 220.8L569.1 220.8L567.9 220.9L566.6 221L565.4 221.1L564.2 221.2L563 220.2L561.8 222.5L560.6 222.3L559.4 220.6L558.2 222.7L557 222.7L555.8 222.7L554.6 222.6L553.4 221.9L552.2 222.2L551 223L549.8 221.2L548.6 222.6L547.4 222.5L546.2 222.8L545 221.8L543.8 223.4L542.6 224L541.4 223.1L540.2 222.5L539 222.9L537.8 224.1L536.6 222.9L535.4 223L534.2 225.2L533 225.6L531.8 225.5L530.6 225L529.4 224.8L528.2 226.7L527 226.9L525.8 226L524.6 225.8L523.4 226.5L522.2 227.3L521 226.5L519.8 226.6L518.6 228.3L517.4 227.9L516.2 228.1L515 229.5L513.8 227.9L512.6 228.7L511.4 230.8L510.2 231.4L509 231.7L507.8 231.3L506.6 231.5L505.4 232.3L504.2 233.3L503 233.7L501.8 233.4L500.6 232.1L499.4 233.7L498.2 235.5L497 234.1L495.7 235.3L494.5 234.9L493.3 236.7L492.1 236L490.9 238.2L489.7 237.4L488.5 237.6L487.3 239.8L486.1 240L484.9 240.4L483.7 240.4L482.5 241.2L481.3 243L480.1 244L478.9 244.2L477.7 243.7L476.5 245.6L475.3 245.4L474.1 246.2L472.9 247.3L471.7 246.7L470.5 248.8L469.3 249.2L468.1 248.3L466.9 248.6L465.7 251.3L464.5 250.2L463.3 251.3L462.1 252.4L460.9 252.8L459.7 253.4L458.5 253L457.3 255.2L456.1 254.4L454.9 256.2L453.7 257.8L452.5 256.6L451.3 256.8L450.1 257.2L448.9 259L447.7 259.3L446.5 258.7L445.3 260.1L444.1 260.3L442.9 259.2L441.7 260.4L440.5 260.7L439.3 261.5L438.1 261.2L436.9 261.3L435.7 260.7L434.5 260.1L433.3 260.8L432.1 258.6L430.9 260.8L429.7 258.3L428.5 258.2L427.3 259.4L426.1 259L424.8 257.3L423.6 258.3L422.4 257.8L421.2 258.6L420 256.9L418.8 258.4L417.6 255.8L416.4 257.6L415.2 256L414 256.9L412.8 254.9L411.6 254.1L410.4 255.6L409.2 254L408 253L406.8 253.7L405.6 252.9L404.4 253.3L403.2 251.1L402 251.9L400.8 250.8L399.6 250.3L398.4 249.7L397.2 248.4L396 245.2L394.8 243.4L393.6 242.9L392.4 240.3L391.2 238.3L390 232.4" fill="url(#purpv)" stroke="#22152a" stroke-width="1.0" />
<circle cx="581.1" cy="218.2" r="1.5" fill="#9a58c0" stroke="#22152a" stroke-width="0.6"/>
<circle cx="586.9" cy="218.2" r="1.5" fill="#9a58c0" stroke="#22152a" stroke-width="0.6"/>
<circle cx="593.2" cy="218.2" r="1.5" fill="#9a58c0" stroke="#22152a" stroke-width="0.6"/>
<circle cx="602.5" cy="218.2" r="1.5" fill="#9a58c0" stroke="#22152a" stroke-width="0.6"/>
<line x1="385.5" y1="168.2" x2="390" y2="168.2" stroke="#9a9a9a" stroke-width="0.9" />
<text x="379.5" y="171.5" font-size="9.3" fill="#444" stroke="#444" stroke-width="0" text-anchor="end" >0</text>
<line x1="385.5" y1="139.9" x2="390" y2="139.9" stroke="#9a9a9a" stroke-width="0.9" />
<text x="379.5" y="143.2" font-size="9.3" fill="#444" stroke="#444" stroke-width="0" text-anchor="end" >1</text>
<line x1="385.5" y1="111.7" x2="390" y2="111.7" stroke="#9a9a9a" stroke-width="0.9" />
<text x="379.5" y="115" font-size="9.3" fill="#444" stroke="#444" stroke-width="0" text-anchor="end" >2</text>
<line x1="385.5" y1="83.4" x2="390" y2="83.4" stroke="#9a9a9a" stroke-width="0.9" />
<text x="379.5" y="86.7" font-size="9.3" fill="#444" stroke="#444" stroke-width="0" text-anchor="end" >3</text>
<line x1="385.5" y1="55.2" x2="390" y2="55.2" stroke="#9a9a9a" stroke-width="0.9" />
<text x="379.5" y="58.5" font-size="9.3" fill="#444" stroke="#444" stroke-width="0" text-anchor="end" >4</text>
<line x1="385.5" y1="26.9" x2="390" y2="26.9" stroke="#9a9a9a" stroke-width="0.9" />
<text x="379.5" y="30.2" font-size="9.3" fill="#444" stroke="#444" stroke-width="0" text-anchor="end" >5</text>
<line x1="390" y1="264.8" x2="390" y2="269.3" stroke="#9a9a9a" stroke-width="0.9" />
<text x="390" y="281.2" font-size="9.3" fill="#444" stroke="#444" stroke-width="0" text-anchor="middle" >0</text>
<line x1="447.9" y1="264.8" x2="447.9" y2="269.3" stroke="#9a9a9a" stroke-width="0.9" />
<text x="447.9" y="281.2" font-size="9.3" fill="#444" stroke="#444" stroke-width="0" text-anchor="middle" >1</text>
<line x1="505.8" y1="264.8" x2="505.8" y2="269.3" stroke="#9a9a9a" stroke-width="0.9" />
<text x="505.8" y="281.2" font-size="9.3" fill="#444" stroke="#444" stroke-width="0" text-anchor="middle" >2</text>
<line x1="563.7" y1="264.8" x2="563.7" y2="269.3" stroke="#9a9a9a" stroke-width="0.9" />
<text x="563.7" y="281.2" font-size="9.3" fill="#444" stroke="#444" stroke-width="0" text-anchor="middle" >3</text>
<line x1="621.6" y1="264.8" x2="621.6" y2="269.3" stroke="#9a9a9a" stroke-width="0.9" />
<text x="621.6" y="281.2" font-size="9.3" fill="#444" stroke="#444" stroke-width="0" text-anchor="middle" >4</text>
<text x="535" y="297.5" font-size="10.5" fill="#3c3c3c" stroke="#3c3c3c" stroke-width="0.1" text-anchor="middle" >log<tspan font-size="7.3" dy="2.5">10</tspan><tspan dy="-2.5">(Barcode vDNA)</tspan></text>
<text transform="translate(366.8,97.3) rotate(-90)" font-size="10.5" fill="#3c3c3c" stroke="#3c3c3c" stroke-width="0.1" text-anchor="middle">log<tspan font-size="7.3" dy="2.5">10</tspan><tspan dy="-2.5">(Barcode vRNA)</tspan></text>
<text x="390" y="20" font-size="10.5" fill="#3c3c3c" stroke="#3c3c3c" stroke-width="0.1">Off-ART (aviraemic, no outliers; <tspan font-style="italic">n</tspan> = 7)</text>
<text x="407" y="43.2" font-size="10.0" fill="#3c3c3c" stroke="#3c3c3c" stroke-width="0.1" text-anchor="start" >DNA<tspan font-size="6.2" dy="-4">+</tspan><tspan dy="4">RNA</tspan><tspan font-size="6.2" dy="-4">+</tspan><tspan dy="4"> (<tspan font-style="italic">n</tspan> = 4,824; 12%)</tspan></text>
<text x="514.2" y="189" font-size="10.4" fill="#3c3c3c" stroke="#3c3c3c" stroke-width="0.1" text-anchor="start" >DNA<tspan font-size="6.4" dy="-4">+</tspan><tspan dy="4"> only (<tspan font-style="italic">n</tspan> = 35,944)</tspan></text>
<line x1="93.5" y1="329.5" x2="93.5" y2="595.2" stroke="#ececec" stroke-width="0.7" />
<line x1="153.5" y1="329.5" x2="153.5" y2="595.2" stroke="#ececec" stroke-width="0.7" />
<line x1="213.5" y1="329.5" x2="213.5" y2="595.2" stroke="#ececec" stroke-width="0.7" />
<line x1="273.5" y1="329.5" x2="273.5" y2="595.2" stroke="#ececec" stroke-width="0.7" />
<line x1="33.5" y1="464.3" x2="333.5" y2="464.3" stroke="#ececec" stroke-width="0.7" />
<line x1="33.5" y1="436.2" x2="333.5" y2="436.2" stroke="#ececec" stroke-width="0.7" />
<line x1="33.5" y1="408.1" x2="333.5" y2="408.1" stroke="#ececec" stroke-width="0.7" />
<line x1="33.5" y1="380" x2="333.5" y2="380" stroke="#ececec" stroke-width="0.7" />
<line x1="33.5" y1="351.9" x2="333.5" y2="351.9" stroke="#ececec" stroke-width="0.7" />
<path d="M33.5 419.9L200.3 402.8L333.5 348.5L333.5 438.7L201.5 492.4L33.5 492.4" fill="#e7f2f2" stroke="none" stroke-width="1" />
<path d="M33.5 419.9L200.3 402.8L333.5 348.5" fill="none" stroke="#5ec3df" stroke-width="0.8" />
<path d="M201.5 492.4L333.5 438.7" fill="none" stroke="#5ec3df" stroke-width="0.8" />
<use href="#p161" stroke="#8c8c8c" stroke-width="3.0" stroke-opacity="0.42"/>
<use href="#p162" stroke="#8c8c8c" stroke-width="3.0" stroke-opacity="0.42"/>
<use href="#p163" stroke="#8c8c8c" stroke-width="3.0" stroke-opacity="0.42"/>
<use href="#p164" stroke="#8c8c8c" stroke-width="3.0" stroke-opacity="0.42"/>
<use href="#p165" stroke="#8c8c8c" stroke-width="3.0" stroke-opacity="0.42"/>
<use href="#p166" stroke="#8c8c8c" stroke-width="3.0" stroke-opacity="0.42"/>
<use href="#p167" stroke="#8c8c8c" stroke-width="3.0" stroke-opacity="0.42"/>
<use href="#p168" stroke="#8c8c8c" stroke-width="3.0" stroke-opacity="0.42"/>
<use href="#p169" stroke="#8c8c8c" stroke-width="3.0" stroke-opacity="0.42"/>
<use href="#p170" stroke="#8c8c8c" stroke-width="3.0" stroke-opacity="0.42"/>
<use href="#p171" stroke="#8c8c8c" stroke-width="3.0" stroke-opacity="0.42"/>
<use href="#p172" stroke="#8c8c8c" stroke-width="3.0" stroke-opacity="0.42"/>
<use href="#p173" stroke="#8c8c8c" stroke-width="3.0" stroke-opacity="0.42"/>
<use href="#p174" stroke="#8c8c8c" stroke-width="3.0" stroke-opacity="0.42"/>
<use href="#p175" stroke="#8c8c8c" stroke-width="3.0" stroke-opacity="0.42"/>
<use href="#p176" stroke="#8c8c8c" stroke-width="3.0" stroke-opacity="0.42"/>
<use href="#p177" stroke="#8c8c8c" stroke-width="3.0" stroke-opacity="0.42"/>
<use href="#p178" stroke="#8c8c8c" stroke-width="3.0" stroke-opacity="0.42"/>
<use href="#p179" stroke="#8c8c8c" stroke-width="3.0" stroke-opacity="0.42"/>
<use href="#p180" stroke="#8c8c8c" stroke-width="3.0" stroke-opacity="0.42"/>
<use href="#p181" stroke="#8c8c8c" stroke-width="3.0" stroke-opacity="0.42"/>
<use href="#p182" stroke="#8c8c8c" stroke-width="3.0" stroke-opacity="0.42"/>
<use href="#p183" stroke="#8c8c8c" stroke-width="3.0" stroke-opacity="0.42"/>
<use href="#p184" stroke="#8c8c8c" stroke-width="3.0" stroke-opacity="0.42"/>
<use href="#p185" stroke="#8c8c8c" stroke-width="3.0" stroke-opacity="0.42"/>
<path d="M236.4 405L238.5 407.1L236.4 409.2L234.3 407.1Z" fill="#ec6a4a" stroke="#2a2020" stroke-width="0.6"/>
<path d="M253.3 408.3L255.4 410.4L253.3 412.5L251.2 410.4Z" fill="#ec6a4a" stroke="#2a2020" stroke-width="0.6"/>
<path d="M247.7 415.8L249.8 417.9L247.7 420L245.6 417.9Z" fill="#ec6a4a" stroke="#2a2020" stroke-width="0.6"/>
<path d="M218.2 422.3L220.3 424.4L218.2 426.5L216.1 424.4Z" fill="#ec6a4a" stroke="#2a2020" stroke-width="0.6"/>
<path d="M169.2 428.5L171.3 432.3L167.1 432.3Z" fill="#ec6a4a" stroke="#2a2020" stroke-width="0.6"/>
<path d="M193.2 427.6L195.3 431.4L191.1 431.4Z" fill="#ec6a4a" stroke="#2a2020" stroke-width="0.6"/>
<circle cx="201.4" cy="434.2" r="1.65" fill="#ec6a4a" stroke="#2a2020" stroke-width="0.6"/>
<path d="M204.7 434.8L206.8 438.6L202.6 438.6Z" fill="#ec6a4a" stroke="#2a2020" stroke-width="0.6"/>
<circle cx="176.4" cy="441.9" r="1.65" fill="#ec6a4a" stroke="#2a2020" stroke-width="0.6"/>
<path d="M187.4 440.4L189.5 444.2L185.3 444.2Z" fill="#ec6a4a" stroke="#2a2020" stroke-width="0.6"/>
<circle cx="191.6" cy="442.6" r="1.65" fill="#ec6a4a" stroke="#2a2020" stroke-width="0.6"/>
<circle cx="206.8" cy="443.3" r="1.65" fill="#ec6a4a" stroke="#2a2020" stroke-width="0.6"/>
<path d="M194.4 445.7L196.5 447.8L194.4 449.9L192.3 447.8Z" fill="#ec6a4a" stroke="#2a2020" stroke-width="0.6"/>
<path d="M210 447L212.1 450.8L207.9 450.8Z" fill="#ec6a4a" stroke="#2a2020" stroke-width="0.6"/>
<circle cx="190.2" cy="453.1" r="1.65" fill="#ec6a4a" stroke="#2a2020" stroke-width="0.6"/>
<path d="M167 453.1L169.1 455.2L167 457.3L164.9 455.2Z" fill="#ec6a4a" stroke="#2a2020" stroke-width="0.6"/>
<circle cx="203.3" cy="456.4" r="1.65" fill="#ec6a4a" stroke="#2a2020" stroke-width="0.6"/>
<circle cx="212.6" cy="459.4" r="1.65" fill="#ec6a4a" stroke="#2a2020" stroke-width="0.6"/>
<circle cx="187.4" cy="463.6" r="1.65" fill="#ec6a4a" stroke="#2a2020" stroke-width="0.6"/>
<circle cx="186.9" cy="466" r="1.65" fill="#ec6a4a" stroke="#2a2020" stroke-width="0.6"/>
<circle cx="201.4" cy="463.6" r="1.65" fill="#ec6a4a" stroke="#2a2020" stroke-width="0.6"/>
<circle cx="203.3" cy="473.9" r="1.65" fill="#ec6a4a" stroke="#2a2020" stroke-width="0.6"/>
<path d="M287.8 388.9L289.9 391L287.8 393.1L285.7 391Z" fill="#4f86c6" stroke="#1a2230" stroke-width="0.6"/>
<path d="M296.5 388.9L298.6 391L296.5 393.1L294.4 391Z" fill="#4f86c6" stroke="#1a2230" stroke-width="0.6"/>
<path d="M244.4 396.6L246.5 398.7L244.4 400.8L242.3 398.7Z" fill="#4f86c6" stroke="#1a2230" stroke-width="0.6"/>
<path d="M247.7 400.7L249.8 404.5L245.6 404.5Z" fill="#4f86c6" stroke="#1a2230" stroke-width="0.6"/>
<path d="M254 402.2L256.1 404.3L254 406.4L251.9 404.3Z" fill="#4f86c6" stroke="#1a2230" stroke-width="0.6"/>
<circle cx="261.2" cy="403.6" r="1.65" fill="#4f86c6" stroke="#1a2230" stroke-width="0.6"/>
<circle cx="250.9" cy="412.7" r="1.65" fill="#4f86c6" stroke="#1a2230" stroke-width="0.6"/>
<circle cx="254" cy="414.3" r="1.65" fill="#4f86c6" stroke="#1a2230" stroke-width="0.6"/>
<circle cx="256.5" cy="415.5" r="1.65" fill="#4f86c6" stroke="#1a2230" stroke-width="0.6"/>
<path d="M260.3 414.6L262.4 416.7L260.3 418.8L258.2 416.7Z" fill="#4f86c6" stroke="#1a2230" stroke-width="0.6"/>
<path d="M272.9 413.6L275 415.7L272.9 417.8L270.8 415.7Z" fill="#4f86c6" stroke="#1a2230" stroke-width="0.6"/>
<path d="M230.1 413.5L232.2 417.3L228 417.3Z" fill="#4f86c6" stroke="#1a2230" stroke-width="0.6"/>
<circle cx="234.3" cy="419" r="1.65" fill="#4f86c6" stroke="#1a2230" stroke-width="0.6"/>
<circle cx="244.4" cy="418.6" r="1.65" fill="#4f86c6" stroke="#1a2230" stroke-width="0.6"/>
<path d="M247.7 422.4L249.8 426.2L245.6 426.2Z" fill="#4f86c6" stroke="#1a2230" stroke-width="0.6"/>
<circle cx="254.4" cy="425.3" r="1.65" fill="#4f86c6" stroke="#1a2230" stroke-width="0.6"/>
<path d="M257 419.2L259.1 423L254.9 423Z" fill="#4f86c6" stroke="#1a2230" stroke-width="0.6"/>
<path d="M266.8 422.1L268.9 424.2L266.8 426.3L264.7 424.2Z" fill="#4f86c6" stroke="#1a2230" stroke-width="0.6"/>
<circle cx="267.5" cy="428.6" r="1.65" fill="#4f86c6" stroke="#1a2230" stroke-width="0.6"/>
<path d="M283.6 423.7L285.7 425.8L283.6 427.9L281.5 425.8Z" fill="#4f86c6" stroke="#1a2230" stroke-width="0.6"/>
<path d="M212.6 424.6L214.7 426.7L212.6 428.8L210.5 426.7Z" fill="#4f86c6" stroke="#1a2230" stroke-width="0.6"/>
<circle cx="227.1" cy="428.4" r="1.65" fill="#4f86c6" stroke="#1a2230" stroke-width="0.6"/>
<circle cx="230.6" cy="430.2" r="1.65" fill="#4f86c6" stroke="#1a2230" stroke-width="0.6"/>
<circle cx="234.6" cy="433" r="1.65" fill="#4f86c6" stroke="#1a2230" stroke-width="0.6"/>
<path d="M236 433.2L238.1 437L233.9 437Z" fill="#4f86c6" stroke="#1a2230" stroke-width="0.6"/>
<circle cx="241.8" cy="429.5" r="1.65" fill="#4f86c6" stroke="#1a2230" stroke-width="0.6"/>
<circle cx="213.8" cy="436.5" r="1.65" fill="#4f86c6" stroke="#1a2230" stroke-width="0.6"/>
<path d="M230.6 440.3L232.7 442.4L230.6 444.5L228.5 442.4Z" fill="#4f86c6" stroke="#1a2230" stroke-width="0.6"/>
<path d="M235.5 438.1L237.6 441.9L233.4 441.9Z" fill="#4f86c6" stroke="#1a2230" stroke-width="0.6"/>
<path d="M237.6 438.1L239.7 441.9L235.5 441.9Z" fill="#4f86c6" stroke="#1a2230" stroke-width="0.6"/>
<circle cx="217.3" cy="445.2" r="1.65" fill="#4f86c6" stroke="#1a2230" stroke-width="0.6"/>
<path d="M206.3 461.3L208.4 463.4L206.3 465.5L204.2 463.4Z" fill="#4f86c6" stroke="#1a2230" stroke-width="0.6"/>
<line x1="33.5" y1="492.4" x2="333.5" y2="492.4" stroke="#6f7f84" stroke-width="0.9" />
<path d="M33.5 530.9L35 530.5L36.5 530.8L38 530.8L39.4 530.5L40.9 528.7L42.4 527.8L43.9 527.9L45.4 526.6L46.9 522.3L48.4 521.7L49.8 521.2L51.3 519L52.8 515.7L54.3 514.1L55.8 512.3L57.3 511.7L58.8 509.5L60.3 507.6L61.7 508L63.2 505.3L64.7 504.7L66.2 501.7L67.7 502.8L69.2 499.8L70.7 498.4L72.1 499.9L73.6 497.8L75.1 497.5L76.6 499.6L78.1 497.5L79.6 499.5L81.1 498.1L82.5 498.3L84 498.9L85.5 498.6L87 497.4L88.5 498.8L90 499.4L91.5 497.9L92.9 498.9L94.4 498.3L95.9 500.3L97.4 500.4L98.9 499.5L100.4 500.7L101.9 501.1L103.4 502.2L104.8 503L106.3 500.7L107.8 503.3L109.3 501.4L110.8 503.1L112.3 502L113.8 504.2L115.2 503.3L116.7 504.9L118.2 506.7L119.7 506.4L121.2 507.7L122.7 508.8L124.2 510.6L125.6 512.4L127.1 512.3L128.6 514.8L130.1 514.3L131.6 515.5L133.1 517.3L134.6 517.2L136.1 520L137.5 520.5L139 520.5L140.5 522.6L142 522.5L143.5 523.7L145 523.6L146.5 524.3L147.9 525.9L149.4 526.5L150.9 529.2L152.4 528.5L153.9 529L155.4 531.1L156.9 531.5L158.3 532.6L159.8 532.1L161.3 534.7L162.8 534.9L164.3 536.4L165.8 535.7L167.3 535.5L168.7 535.1L170.2 535.5L171.7 537.6L173.2 536L174.7 538.5L176.2 537.8L177.7 538.1L179.2 538.3L180.6 538.5L182.1 538.8L183.6 539L185.1 539.1L186.6 539.2L188.1 539.2L189.6 539.3L191 539.4L192.5 539.5L194 539.5L195.5 539.6L195.5 542L194 542.1L192.5 542.1L191 542.2L189.6 542.3L188.1 542.4L186.6 542.4L185.1 542.5L183.6 542.6L182.1 542.8L180.6 543.1L179.2 543.3L177.7 543.5L176.2 543.8L174.7 544.9L173.2 543.3L171.7 544.2L170.2 543.7L168.7 546.3L167.3 546.7L165.8 545.1L164.3 546.6L162.8 546.3L161.3 547.4L159.8 548.4L158.3 548L156.9 551L155.4 550.2L153.9 551.5L152.4 551.3L150.9 552L149.4 553.4L147.9 554.6L146.5 557.1L145 557.9L143.5 557.6L142 558.4L140.5 559.8L139 561.3L137.5 560.9L136.1 563.3L134.6 563.3L133.1 564.9L131.6 566.4L130.1 566.8L128.6 568.4L127.1 569.5L125.6 568.6L124.2 569.8L122.7 571.3L121.2 572.6L119.7 573.7L118.2 574.4L116.7 575.7L115.2 577.4L113.8 578.8L112.3 577.9L110.8 578.5L109.3 579L107.8 580L106.3 580.5L104.8 581.2L103.4 579.8L101.9 581.1L100.4 580.4L98.9 582.2L97.4 580.9L95.9 583.1L94.4 582.5L92.9 583.5L91.5 583.2L90 582.7L88.5 583.3L87 582.1L85.5 582.2L84 583.6L82.5 583.4L81.1 584.4L79.6 582.2L78.1 583.7L76.6 583.3L75.1 583.3L73.6 583.4L72.1 582.5L70.7 582.3L69.2 581.2L67.7 580.4L66.2 578.1L64.7 577.7L63.2 576.7L61.7 574L60.3 574.9L58.8 572.8L57.3 571.5L55.8 567.7L54.3 566.3L52.8 563.9L51.3 561.5L49.8 559.8L48.4 558.8L46.9 558.9L45.4 555.3L43.9 555.5L42.4 553.4L40.9 552L39.4 551.4L38 551.9L36.5 550.7L35 550.4L33.5 549.7" fill="#adadad" stroke="#b6b6b6" stroke-width="0.7" />
<circle cx="34.4" cy="538.5" r="1.5" fill="#c766c4" stroke="#2a1a2a" stroke-width="0.65"/>
<path d="M56.3 539.8L58.2 541.8L56.3 543.8L54.3 541.8Z" fill="#c766c4" stroke="#2a1a2a" stroke-width="0.65"/>
<path d="M55.5 553.8L57.5 555.7L55.5 557.7L53.5 555.7Z" fill="#c766c4" stroke="#2a1a2a" stroke-width="0.65"/>
<circle cx="66.5" cy="555" r="1.5" fill="#c766c4" stroke="#2a1a2a" stroke-width="0.65"/>
<path d="M69.4 549.3L71.4 551.3L69.4 553.2L67.5 551.3Z" fill="#c766c4" stroke="#2a1a2a" stroke-width="0.65"/>
<circle cx="80" cy="542.9" r="1.5" fill="#c766c4" stroke="#2a1a2a" stroke-width="0.65"/>
<path d="M82.2 533.3L84.2 535.3L82.2 537.2L80.2 535.3Z" fill="#c766c4" stroke="#2a1a2a" stroke-width="0.65"/>
<path d="M86.6 543.5L88.5 546.9L84.7 546.9Z" fill="#c766c4" stroke="#2a1a2a" stroke-width="0.65"/>
<path d="M93.9 550L95.9 552L93.9 554L92 552Z" fill="#c766c4" stroke="#2a1a2a" stroke-width="0.65"/>
<path d="M96.4 516.1L98.3 519.5L94.5 519.5Z" fill="#c766c4" stroke="#2a1a2a" stroke-width="0.65"/>
<path d="M80 574.5L82 576.5L80 578.5L78 576.5Z" fill="#c766c4" stroke="#2a1a2a" stroke-width="0.65"/>
<path d="M103 576L104.9 579.4L101.1 579.4Z" fill="#c766c4" stroke="#2a1a2a" stroke-width="0.65"/>
<circle cx="106.6" cy="565.9" r="1.5" fill="#c766c4" stroke="#2a1a2a" stroke-width="0.65"/>
<rect x="112.6" y="535.3" width="2.5" height="2.8" rx="0.8" fill="#c766c4" stroke="#2a1a2a" stroke-width="0.65"/>
<circle cx="115.8" cy="566.6" r="1.5" fill="#c766c4" stroke="#2a1a2a" stroke-width="0.65"/>
<path d="M119 511L120.9 514.4L117.1 514.4Z" fill="#c766c4" stroke="#2a1a2a" stroke-width="0.65"/>
<path d="M133.3 522L135.2 525.4L131.4 525.4Z" fill="#c766c4" stroke="#2a1a2a" stroke-width="0.65"/>
<path d="M135.1 530.3L137 532.3L135.1 534.2L133.2 532.3Z" fill="#c766c4" stroke="#2a1a2a" stroke-width="0.65"/>
<path d="M142 547.1L143.9 549.1L142 551.1L140.1 549.1Z" fill="#c766c4" stroke="#2a1a2a" stroke-width="0.65"/>
<path d="M148.6 544.6L150.5 546.6L148.6 548.6L146.7 546.6Z" fill="#c766c4" stroke="#2a1a2a" stroke-width="0.65"/>
<path d="M151.5 542L153.4 545.4L149.6 545.4Z" fill="#c766c4" stroke="#2a1a2a" stroke-width="0.65"/>
<path d="M163.9 536.5L165.8 538.5L163.9 540.5L162 538.5Z" fill="#c766c4" stroke="#2a1a2a" stroke-width="0.65"/>
<circle cx="171.2" cy="547.3" r="1.5" fill="#c766c4" stroke="#2a1a2a" stroke-width="0.65"/>
<path d="M144.2 529.5L146.3 531.6L144.2 533.7L142.1 531.6Z" fill="#ec6a4a" stroke="#2a2020" stroke-width="0.6"/>
<path d="M160.3 540.1L162.4 542.2L160.3 544.3L158.2 542.2Z" fill="#ec6a4a" stroke="#2a2020" stroke-width="0.6"/>
<circle cx="171.2" cy="543.6" r="1.6" fill="#ec6a4a" stroke="#2a2020" stroke-width="0.6"/>
<circle cx="177.1" cy="544" r="1.6" fill="#ec6a4a" stroke="#2a2020" stroke-width="0.6"/>
<circle cx="189.5" cy="543.3" r="1.6" fill="#ec6a4a" stroke="#2a2020" stroke-width="0.6"/>
<path d="M196.1 541.1L198.2 544.8L194 544.8Z" fill="#ec6a4a" stroke="#2a2020" stroke-width="0.6"/>
<circle cx="206.3" cy="543.3" r="1.6" fill="#ec6a4a" stroke="#2a2020" stroke-width="0.6"/>
<circle cx="230.7" cy="543.3" r="1.6" fill="#ec6a4a" stroke="#2a2020" stroke-width="0.6"/>
<circle cx="228.9" cy="543.3" r="1.6" fill="#ec6a4a" stroke="#2a2020" stroke-width="0.6"/>
<path d="M224.2 541.2L226.3 543.3L224.2 545.4L222.1 543.3Z" fill="#4f86c6" stroke="#1a2230" stroke-width="0.6"/>
<circle cx="200" cy="543.3" r="1.4" fill="#c4c4c4"/>
<circle cx="212" cy="543.3" r="1.4" fill="#c4c4c4"/>
<circle cx="219" cy="543.3" r="1.4" fill="#c4c4c4"/>
<circle cx="236" cy="543.3" r="1.4" fill="#c4c4c4"/>
<circle cx="247.2" cy="543.3" r="1.4" fill="#c4c4c4"/>
<rect x="33.5" y="329.5" width="300" height="265.7" fill="none" stroke="#7d7d7d" stroke-width="0.9"/>
<path d="M161.7 398L167 403.3L161.7 408.6L156.4 403.3Z" fill="#b97ac2" stroke="#555" stroke-width="0.8"/>
<circle cx="184" cy="399.4" r="4.4" fill="#e8202a" stroke="#333" stroke-width="0.8"/>
<circle cx="235.1" cy="377.8" r="4.4" fill="#4a86cc" stroke="#333" stroke-width="0.8"/>
<text x="121.6" y="392.7" font-size="10.7" fill="#c46a9a" stroke="#c46a9a" stroke-width="0.1" text-anchor="middle" >Submandibular LN</text>
<text x="200.1" y="379" font-size="10.3" fill="#e5282e" stroke="#e5282e" stroke-width="0.1" text-anchor="middle" >Lower</text>
<text x="200.1" y="390.5" font-size="10.3" fill="#e5282e" stroke="#e5282e" stroke-width="0.1" text-anchor="middle" >jejunum*</text>
<text x="251.8" y="355.5" font-size="10.3" fill="#4a8ad0" stroke="#4a8ad0" stroke-width="0.1" text-anchor="middle" >Lower</text>
<text x="251.8" y="367" font-size="10.3" fill="#4a8ad0" stroke="#4a8ad0" stroke-width="0.1" text-anchor="middle" >jejunum*</text>
<line x1="29" y1="492.4" x2="33.5" y2="492.4" stroke="#9a9a9a" stroke-width="0.9" />
<text x="24.5" y="495.7" font-size="9.3" fill="#444" stroke="#444" stroke-width="0" text-anchor="end" >0</text>
<line x1="29" y1="436.2" x2="33.5" y2="436.2" stroke="#9a9a9a" stroke-width="0.9" />
<text x="24.5" y="439.5" font-size="9.3" fill="#444" stroke="#444" stroke-width="0" text-anchor="end" >2</text>
<line x1="29" y1="380" x2="33.5" y2="380" stroke="#9a9a9a" stroke-width="0.9" />
<text x="24.5" y="383.3" font-size="9.3" fill="#444" stroke="#444" stroke-width="0" text-anchor="end" >4</text>
<line x1="33.5" y1="595.2" x2="33.5" y2="599.7" stroke="#9a9a9a" stroke-width="0.9" />
<text x="33.5" y="611" font-size="9.3" fill="#444" stroke="#444" stroke-width="0" text-anchor="middle" >0</text>
<line x1="93.5" y1="595.2" x2="93.5" y2="599.7" stroke="#9a9a9a" stroke-width="0.9" />
<text x="93.5" y="611" font-size="9.3" fill="#444" stroke="#444" stroke-width="0" text-anchor="middle" >1</text>
<line x1="153.5" y1="595.2" x2="153.5" y2="599.7" stroke="#9a9a9a" stroke-width="0.9" />
<text x="153.5" y="611" font-size="9.3" fill="#444" stroke="#444" stroke-width="0" text-anchor="middle" >2</text>
<line x1="213.5" y1="595.2" x2="213.5" y2="599.7" stroke="#9a9a9a" stroke-width="0.9" />
<text x="213.5" y="611" font-size="9.3" fill="#444" stroke="#444" stroke-width="0" text-anchor="middle" >3</text>
<line x1="273.5" y1="595.2" x2="273.5" y2="599.7" stroke="#9a9a9a" stroke-width="0.9" />
<text x="273.5" y="611" font-size="9.3" fill="#444" stroke="#444" stroke-width="0" text-anchor="middle" >4</text>
<text x="183.2" y="626" font-size="10.5" fill="#3c3c3c" stroke="#3c3c3c" stroke-width="0.1" text-anchor="middle" >log<tspan font-size="7.3" dy="2.5">10</tspan><tspan dy="-2.5">(Barcode vDNA)</tspan></text>
<text transform="translate(9.5,411) rotate(-90)" font-size="10.5" fill="#3c3c3c" stroke="#3c3c3c" stroke-width="0.1" text-anchor="middle">log<tspan font-size="7.3" dy="2.5">10</tspan><tspan dy="-2.5">(Barcode vRNA)</tspan></text>
<text x="34" y="326" font-size="10.5" fill="#3c3c3c" stroke="#3c3c3c" stroke-width="0.1">AV1 (aviraemic)</text>
<text x="42" y="346.5" font-size="10.2" fill="#3c3c3c" stroke="#3c3c3c" stroke-width="0.1" text-anchor="start" >DNA<tspan font-size="6.3" dy="-4">+</tspan><tspan dy="4">RNA</tspan><tspan font-size="6.3" dy="-4">+</tspan><tspan dy="4"> (<tspan font-style="italic">n</tspan> = 423; 9%)</tspan></text>
<text x="129.3" y="508" font-size="10.2" fill="#3c3c3c" stroke="#3c3c3c" stroke-width="0.1" text-anchor="start" >DNA<tspan font-size="6.3" dy="-4">+</tspan><tspan dy="4"> only (<tspan font-style="italic">n</tspan> = 4,193)</tspan></text>
<rect x="276.2" y="474.4" width="103.3" height="114.2" fill="#fff" stroke="#7d7d7d" stroke-width="0.9"/>
<line x1="308.7" y1="491.3" x2="379.5" y2="491.3" stroke="#f0f0f0" stroke-width="0.7" />
<line x1="304.7" y1="491.3" x2="308.7" y2="491.3" stroke="#9a9a9a" stroke-width="0.9" />
<text x="301.7" y="494.3" font-size="8.6" fill="#555" stroke="#555" stroke-width="0" text-anchor="end" >&#8722;1</text>
<line x1="308.7" y1="513.1" x2="379.5" y2="513.1" stroke="#f0f0f0" stroke-width="0.7" />
<line x1="304.7" y1="513.1" x2="308.7" y2="513.1" stroke="#9a9a9a" stroke-width="0.9" />
<text x="301.7" y="516.1" font-size="8.6" fill="#555" stroke="#555" stroke-width="0" text-anchor="end" >&#8722;2</text>
<line x1="308.7" y1="534.5" x2="379.5" y2="534.5" stroke="#f0f0f0" stroke-width="0.7" />
<line x1="304.7" y1="534.5" x2="308.7" y2="534.5" stroke="#9a9a9a" stroke-width="0.9" />
<text x="301.7" y="537.5" font-size="8.6" fill="#555" stroke="#555" stroke-width="0" text-anchor="end" >&#8722;3</text>
<line x1="308.7" y1="556.1" x2="379.5" y2="556.1" stroke="#f0f0f0" stroke-width="0.7" />
<line x1="304.7" y1="556.1" x2="308.7" y2="556.1" stroke="#9a9a9a" stroke-width="0.9" />
<text x="301.7" y="559.1" font-size="8.6" fill="#555" stroke="#555" stroke-width="0" text-anchor="end" >&#8722;4</text>
<line x1="308.7" y1="577.9" x2="379.5" y2="577.9" stroke="#f0f0f0" stroke-width="0.7" />
<line x1="304.7" y1="577.9" x2="308.7" y2="577.9" stroke="#9a9a9a" stroke-width="0.9" />
<text x="301.7" y="580.9" font-size="8.6" fill="#555" stroke="#555" stroke-width="0" text-anchor="end" >&#8722;5</text>
<line x1="308.7" y1="474.4" x2="308.7" y2="588.6" stroke="#7d7d7d" stroke-width="0.9" />
<path d="M341.4 506.8a1.75 1.75 0 1 0 -3.5 0a1.75 1.75 0 1 0 3.5 0M338.7 506.9a1.75 1.75 0 1 0 -3.5 0a1.75 1.75 0 1 0 3.5 0M344.1 507.8a1.75 1.75 0 1 0 -3.5 0a1.75 1.75 0 1 0 3.5 0M336.4 508.5a1.75 1.75 0 1 0 -3.5 0a1.75 1.75 0 1 0 3.5 0M346.7 508.6a1.75 1.75 0 1 0 -3.5 0a1.75 1.75 0 1 0 3.5 0M341.4 509.6a1.75 1.75 0 1 0 -3.5 0a1.75 1.75 0 1 0 3.5 0M338.9 510.8a1.75 1.75 0 1 0 -3.5 0a1.75 1.75 0 1 0 3.5 0M343.8 511.1a1.75 1.75 0 1 0 -3.5 0a1.75 1.75 0 1 0 3.5 0M341.4 513.1a1.75 1.75 0 1 0 -3.5 0a1.75 1.75 0 1 0 3.5 0M338.3 513.5a1.75 1.75 0 1 0 -3.5 0a1.75 1.75 0 1 0 3.5 0M345.2 513.5a1.75 1.75 0 1 0 -3.5 0a1.75 1.75 0 1 0 3.5 0M335.7 514.5a1.75 1.75 0 1 0 -3.5 0a1.75 1.75 0 1 0 3.5 0M342.9 515.5a1.75 1.75 0 1 0 -3.5 0a1.75 1.75 0 1 0 3.5 0M340.2 516.2a1.75 1.75 0 1 0 -3.5 0a1.75 1.75 0 1 0 3.5 0M345.5 516.6a1.75 1.75 0 1 0 -3.5 0a1.75 1.75 0 1 0 3.5 0M348.3 516.7a1.75 1.75 0 1 0 -3.5 0a1.75 1.75 0 1 0 3.5 0M337.5 517a1.75 1.75 0 1 0 -3.5 0a1.75 1.75 0 1 0 3.5 0M334.7 517.3a1.75 1.75 0 1 0 -3.5 0a1.75 1.75 0 1 0 3.5 0M331.9 517.3a1.75 1.75 0 1 0 -3.5 0a1.75 1.75 0 1 0 3.5 0M350.8 517.9a1.75 1.75 0 1 0 -3.5 0a1.75 1.75 0 1 0 3.5 0M342 518.3a1.75 1.75 0 1 0 -3.5 0a1.75 1.75 0 1 0 3.5 0M329.7 519a1.75 1.75 0 1 0 -3.5 0a1.75 1.75 0 1 0 3.5 0M339.3 519.1a1.75 1.75 0 1 0 -3.5 0a1.75 1.75 0 1 0 3.5 0M344.2 520.1a1.75 1.75 0 1 0 -3.5 0a1.75 1.75 0 1 0 3.5 0M336.7 520.1a1.75 1.75 0 1 0 -3.5 0a1.75 1.75 0 1 0 3.5 0M347 520.2a1.75 1.75 0 1 0 -3.5 0a1.75 1.75 0 1 0 3.5 0M334 520.8a1.75 1.75 0 1 0 -3.5 0a1.75 1.75 0 1 0 3.5 0M341.4 521.2a1.75 1.75 0 1 0 -3.5 0a1.75 1.75 0 1 0 3.5 0M349.5 521.5a1.75 1.75 0 1 0 -3.5 0a1.75 1.75 0 1 0 3.5 0M331.4 521.8a1.75 1.75 0 1 0 -3.5 0a1.75 1.75 0 1 0 3.5 0M352.3 521.9a1.75 1.75 0 1 0 -3.5 0a1.75 1.75 0 1 0 3.5 0M338.8 522.2a1.75 1.75 0 1 0 -3.5 0a1.75 1.75 0 1 0 3.5 0M343.7 522.9a1.75 1.75 0 1 0 -3.5 0a1.75 1.75 0 1 0 3.5 0M346.5 523a1.75 1.75 0 1 0 -3.5 0a1.75 1.75 0 1 0 3.5 0M336.2 523.2a1.75 1.75 0 1 0 -3.5 0a1.75 1.75 0 1 0 3.5 0M329.2 523.6a1.75 1.75 0 1 0 -3.5 0a1.75 1.75 0 1 0 3.5 0M354.5 523.6a1.75 1.75 0 1 0 -3.5 0a1.75 1.75 0 1 0 3.5 0M326.4 523.6a1.75 1.75 0 1 0 -3.5 0a1.75 1.75 0 1 0 3.5 0M333.5 524a1.75 1.75 0 1 0 -3.5 0a1.75 1.75 0 1 0 3.5 0M341.2 524.3a1.75 1.75 0 1 0 -3.5 0a1.75 1.75 0 1 0 3.5 0M338.5 525a1.75 1.75 0 1 0 -3.5 0a1.75 1.75 0 1 0 3.5 0M344.8 525.4a1.75 1.75 0 1 0 -3.5 0a1.75 1.75 0 1 0 3.5 0M347.6 525.6a1.75 1.75 0 1 0 -3.5 0a1.75 1.75 0 1 0 3.5 0M350.4 525.7a1.75 1.75 0 1 0 -3.5 0a1.75 1.75 0 1 0 3.5 0M331.3 525.7a1.75 1.75 0 1 0 -3.5 0a1.75 1.75 0 1 0 3.5 0M356.3 525.7a1.75 1.75 0 1 0 -3.5 0a1.75 1.75 0 1 0 3.5 0M324.6 525.8a1.75 1.75 0 1 0 -3.5 0a1.75 1.75 0 1 0 3.5 0M335.7 526a1.75 1.75 0 1 0 -3.5 0a1.75 1.75 0 1 0 3.5 0M327.9 526a1.75 1.75 0 1 0 -3.5 0a1.75 1.75 0 1 0 3.5 0M353.1 526.4a1.75 1.75 0 1 0 -3.5 0a1.75 1.75 0 1 0 3.5 0M359 526.4a1.75 1.75 0 1 0 -3.5 0a1.75 1.75 0 1 0 3.5 0M322 526.7a1.75 1.75 0 1 0 -3.5 0a1.75 1.75 0 1 0 3.5 0M361.8 526.7a1.75 1.75 0 1 0 -3.5 0a1.75 1.75 0 1 0 3.5 0M319.2 526.8a1.75 1.75 0 1 0 -3.5 0a1.75 1.75 0 1 0 3.5 0M341.7 527a1.75 1.75 0 1 0 -3.5 0a1.75 1.75 0 1 0 3.5 0M364.5 527.6a1.75 1.75 0 1 0 -3.5 0a1.75 1.75 0 1 0 3.5 0M339.1 528.2a1.75 1.75 0 1 0 -3.5 0a1.75 1.75 0 1 0 3.5 0M344.3 528.2a1.75 1.75 0 1 0 -3.5 0a1.75 1.75 0 1 0 3.5 0M348.8 528.2a1.75 1.75 0 1 0 -3.5 0a1.75 1.75 0 1 0 3.5 0M334.6 528.5a1.75 1.75 0 1 0 -3.5 0a1.75 1.75 0 1 0 3.5 0M331.9 529.2a1.75 1.75 0 1 0 -3.5 0a1.75 1.75 0 1 0 3.5 0M351.3 529.5a1.75 1.75 0 1 0 -3.5 0a1.75 1.75 0 1 0 3.5 0M341.4 529.9a1.75 1.75 0 1 0 -3.5 0a1.75 1.75 0 1 0 3.5 0M346.4 529.9a1.75 1.75 0 1 0 -3.5 0a1.75 1.75 0 1 0 3.5 0M329.2 529.9a1.75 1.75 0 1 0 -3.5 0a1.75 1.75 0 1 0 3.5 0M337.3 530.2a1.75 1.75 0 1 0 -3.5 0a1.75 1.75 0 1 0 3.5 0M353.8 530.7a1.75 1.75 0 1 0 -3.5 0a1.75 1.75 0 1 0 3.5 0M326.5 530.7a1.75 1.75 0 1 0 -3.5 0a1.75 1.75 0 1 0 3.5 0M356.6 530.9a1.75 1.75 0 1 0 -3.5 0a1.75 1.75 0 1 0 3.5 0M343.9 531.3a1.75 1.75 0 1 0 -3.5 0a1.75 1.75 0 1 0 3.5 0M334.2 531.3a1.75 1.75 0 1 0 -3.5 0a1.75 1.75 0 1 0 3.5 0M348.7 531.6a1.75 1.75 0 1 0 -3.5 0a1.75 1.75 0 1 0 3.5 0M323.8 531.6a1.75 1.75 0 1 0 -3.5 0a1.75 1.75 0 1 0 3.5 0M359.3 531.7a1.75 1.75 0 1 0 -3.5 0a1.75 1.75 0 1 0 3.5 0M340.1 532.4a1.75 1.75 0 1 0 -3.5 0a1.75 1.75 0 1 0 3.5 0M331.8 532.7a1.75 1.75 0 1 0 -3.5 0a1.75 1.75 0 1 0 3.5 0M351.2 532.7a1.75 1.75 0 1 0 -3.5 0a1.75 1.75 0 1 0 3.5 0M337.4 533.1a1.75 1.75 0 1 0 -3.5 0a1.75 1.75 0 1 0 3.5 0M345.2 533.7a1.75 1.75 0 1 0 -3.5 0a1.75 1.75 0 1 0 3.5 0M329.2 533.8a1.75 1.75 0 1 0 -3.5 0a1.75 1.75 0 1 0 3.5 0M342.4 534.1a1.75 1.75 0 1 0 -3.5 0a1.75 1.75 0 1 0 3.5 0M334.8 534.1a1.75 1.75 0 1 0 -3.5 0a1.75 1.75 0 1 0 3.5 0M353.7 534.1a1.75 1.75 0 1 0 -3.5 0a1.75 1.75 0 1 0 3.5 0M348 534.4a1.75 1.75 0 1 0 -3.5 0a1.75 1.75 0 1 0 3.5 0M326.5 534.5a1.75 1.75 0 1 0 -3.5 0a1.75 1.75 0 1 0 3.5 0M356.4 534.7a1.75 1.75 0 1 0 -3.5 0a1.75 1.75 0 1 0 3.5 0M359.2 534.8a1.75 1.75 0 1 0 -3.5 0a1.75 1.75 0 1 0 3.5 0M339.9 535.5a1.75 1.75 0 1 0 -3.5 0a1.75 1.75 0 1 0 3.5 0M332.4 535.5a1.75 1.75 0 1 0 -3.5 0a1.75 1.75 0 1 0 3.5 0M350.4 535.8a1.75 1.75 0 1 0 -3.5 0a1.75 1.75 0 1 0 3.5 0M337.2 535.9a1.75 1.75 0 1 0 -3.5 0a1.75 1.75 0 1 0 3.5 0M324.3 536.2a1.75 1.75 0 1 0 -3.5 0a1.75 1.75 0 1 0 3.5 0M321.5 536.2a1.75 1.75 0 1 0 -3.5 0a1.75 1.75 0 1 0 3.5 0M343.6 536.6a1.75 1.75 0 1 0 -3.5 0a1.75 1.75 0 1 0 3.5 0M346.4 536.8a1.75 1.75 0 1 0 -3.5 0a1.75 1.75 0 1 0 3.5 0M330 536.9a1.75 1.75 0 1 0 -3.5 0a1.75 1.75 0 1 0 3.5 0M353 536.9a1.75 1.75 0 1 0 -3.5 0a1.75 1.75 0 1 0 3.5 0M361 536.9a1.75 1.75 0 1 0 -3.5 0a1.75 1.75 0 1 0 3.5 0M363.8 536.9a1.75 1.75 0 1 0 -3.5 0a1.75 1.75 0 1 0 3.5 0M318.8 537a1.75 1.75 0 1 0 -3.5 0a1.75 1.75 0 1 0 3.5 0M366.6 537.2a1.75 1.75 0 1 0 -3.5 0a1.75 1.75 0 1 0 3.5 0M316 537.2a1.75 1.75 0 1 0 -3.5 0a1.75 1.75 0 1 0 3.5 0M334.9 537.5a1.75 1.75 0 1 0 -3.5 0a1.75 1.75 0 1 0 3.5 0M327.3 537.7a1.75 1.75 0 1 0 -3.5 0a1.75 1.75 0 1 0 3.5 0M341.4 538.2a1.75 1.75 0 1 0 -3.5 0a1.75 1.75 0 1 0 3.5 0M348.8 538.3a1.75 1.75 0 1 0 -3.5 0a1.75 1.75 0 1 0 3.5 0M338.6 538.3a1.75 1.75 0 1 0 -3.5 0a1.75 1.75 0 1 0 3.5 0M332.5 539a1.75 1.75 0 1 0 -3.5 0a1.75 1.75 0 1 0 3.5 0M354.8 539a1.75 1.75 0 1 0 -3.5 0a1.75 1.75 0 1 0 3.5 0M357.6 539.1a1.75 1.75 0 1 0 -3.5 0a1.75 1.75 0 1 0 3.5 0M344 539.3a1.75 1.75 0 1 0 -3.5 0a1.75 1.75 0 1 0 3.5 0M351.4 539.4a1.75 1.75 0 1 0 -3.5 0a1.75 1.75 0 1 0 3.5 0M325.1 539.4a1.75 1.75 0 1 0 -3.5 0a1.75 1.75 0 1 0 3.5 0M329.4 539.6a1.75 1.75 0 1 0 -3.5 0a1.75 1.75 0 1 0 3.5 0M360.4 539.7a1.75 1.75 0 1 0 -3.5 0a1.75 1.75 0 1 0 3.5 0M336.4 540a1.75 1.75 0 1 0 -3.5 0a1.75 1.75 0 1 0 3.5 0M346.4 540.7a1.75 1.75 0 1 0 -3.5 0a1.75 1.75 0 1 0 3.5 0M341.4 541.2a1.75 1.75 0 1 0 -3.5 0a1.75 1.75 0 1 0 3.5 0M338.7 541.8a1.75 1.75 0 1 0 -3.5 0a1.75 1.75 0 1 0 3.5 0M334.2 541.8a1.75 1.75 0 1 0 -3.5 0a1.75 1.75 0 1 0 3.5 0M349 541.8a1.75 1.75 0 1 0 -3.5 0a1.75 1.75 0 1 0 3.5 0M331.4 541.8a1.75 1.75 0 1 0 -3.5 0a1.75 1.75 0 1 0 3.5 0M352.8 541.8a1.75 1.75 0 1 0 -3.5 0a1.75 1.75 0 1 0 3.5 0M327.7 541.9a1.75 1.75 0 1 0 -3.5 0a1.75 1.75 0 1 0 3.5 0M355.6 541.9a1.75 1.75 0 1 0 -3.5 0a1.75 1.75 0 1 0 3.5 0M358.3 542.1a1.75 1.75 0 1 0 -3.5 0a1.75 1.75 0 1 0 3.5 0M344 542.4a1.75 1.75 0 1 0 -3.5 0a1.75 1.75 0 1 0 3.5 0M325 542.5a1.75 1.75 0 1 0 -3.5 0a1.75 1.75 0 1 0 3.5 0M322.2 542.5a1.75 1.75 0 1 0 -3.5 0a1.75 1.75 0 1 0 3.5 0M361 542.9a1.75 1.75 0 1 0 -3.5 0a1.75 1.75 0 1 0 3.5 0M336.5 543.5a1.75 1.75 0 1 0 -3.5 0a1.75 1.75 0 1 0 3.5 0M346.5 543.5a1.75 1.75 0 1 0 -3.5 0a1.75 1.75 0 1 0 3.5 0M319.6 543.6a1.75 1.75 0 1 0 -3.5 0a1.75 1.75 0 1 0 3.5 0M363.7 543.6a1.75 1.75 0 1 0 -3.5 0a1.75 1.75 0 1 0 3.5 0M341 544a1.75 1.75 0 1 0 -3.5 0a1.75 1.75 0 1 0 3.5 0M332.9 544.3a1.75 1.75 0 1 0 -3.5 0a1.75 1.75 0 1 0 3.5 0M349.8 544.5a1.75 1.75 0 1 0 -3.5 0a1.75 1.75 0 1 0 3.5 0M330.1 544.6a1.75 1.75 0 1 0 -3.5 0a1.75 1.75 0 1 0 3.5 0M352.5 544.9a1.75 1.75 0 1 0 -3.5 0a1.75 1.75 0 1 0 3.5 0M355.3 544.9a1.75 1.75 0 1 0 -3.5 0a1.75 1.75 0 1 0 3.5 0M327.3 544.9a1.75 1.75 0 1 0 -3.5 0a1.75 1.75 0 1 0 3.5 0M358.1 545a1.75 1.75 0 1 0 -3.5 0a1.75 1.75 0 1 0 3.5 0M343.5 545.3a1.75 1.75 0 1 0 -3.5 0a1.75 1.75 0 1 0 3.5 0M324.6 545.3a1.75 1.75 0 1 0 -3.5 0a1.75 1.75 0 1 0 3.5 0M317.4 545.3a1.75 1.75 0 1 0 -3.5 0a1.75 1.75 0 1 0 3.5 0M338.8 545.6a1.75 1.75 0 1 0 -3.5 0a1.75 1.75 0 1 0 3.5 0M360.8 545.9a1.75 1.75 0 1 0 -3.5 0a1.75 1.75 0 1 0 3.5 0M335.4 546a1.75 1.75 0 1 0 -3.5 0a1.75 1.75 0 1 0 3.5 0M346.1 546.3a1.75 1.75 0 1 0 -3.5 0a1.75 1.75 0 1 0 3.5 0M322 546.3a1.75 1.75 0 1 0 -3.5 0a1.75 1.75 0 1 0 3.5 0M364.2 546.4a1.75 1.75 0 1 0 -3.5 0a1.75 1.75 0 1 0 3.5 0M367 546.4a1.75 1.75 0 1 0 -3.5 0a1.75 1.75 0 1 0 3.5 0M314.8 546.5a1.75 1.75 0 1 0 -3.5 0a1.75 1.75 0 1 0 3.5 0M369.8 546.7a1.75 1.75 0 1 0 -3.5 0a1.75 1.75 0 1 0 3.5 0M341.2 547a1.75 1.75 0 1 0 -3.5 0a1.75 1.75 0 1 0 3.5 0M348.7 547.4a1.75 1.75 0 1 0 -3.5 0a1.75 1.75 0 1 0 3.5 0M332.9 547.4a1.75 1.75 0 1 0 -3.5 0a1.75 1.75 0 1 0 3.5 0M330.1 547.4a1.75 1.75 0 1 0 -3.5 0a1.75 1.75 0 1 0 3.5 0M353.7 547.4a1.75 1.75 0 1 0 -3.5 0a1.75 1.75 0 1 0 3.5 0M327.1 547.7a1.75 1.75 0 1 0 -3.5 0a1.75 1.75 0 1 0 3.5 0M356.5 547.8a1.75 1.75 0 1 0 -3.5 0a1.75 1.75 0 1 0 3.5 0M337.4 548.1a1.75 1.75 0 1 0 -3.5 0a1.75 1.75 0 1 0 3.5 0M343.7 548.4a1.75 1.75 0 1 0 -3.5 0a1.75 1.75 0 1 0 3.5 0M351.1 548.8a1.75 1.75 0 1 0 -3.5 0a1.75 1.75 0 1 0 3.5 0M324.5 548.8a1.75 1.75 0 1 0 -3.5 0a1.75 1.75 0 1 0 3.5 0M346.4 549.1a1.75 1.75 0 1 0 -3.5 0a1.75 1.75 0 1 0 3.5 0M358.9 549.2a1.75 1.75 0 1 0 -3.5 0a1.75 1.75 0 1 0 3.5 0M321.7 549.2a1.75 1.75 0 1 0 -3.5 0a1.75 1.75 0 1 0 3.5 0M340 549.6a1.75 1.75 0 1 0 -3.5 0a1.75 1.75 0 1 0 3.5 0M335 549.6a1.75 1.75 0 1 0 -3.5 0a1.75 1.75 0 1 0 3.5 0M361.6 549.8a1.75 1.75 0 1 0 -3.5 0a1.75 1.75 0 1 0 3.5 0M332.4 550.4a1.75 1.75 0 1 0 -3.5 0a1.75 1.75 0 1 0 3.5 0M348.8 550.6a1.75 1.75 0 1 0 -3.5 0a1.75 1.75 0 1 0 3.5 0M353.3 550.6a1.75 1.75 0 1 0 -3.5 0a1.75 1.75 0 1 0 3.5 0M337.6 550.9a1.75 1.75 0 1 0 -3.5 0a1.75 1.75 0 1 0 3.5 0M342.2 551.3a1.75 1.75 0 1 0 -3.5 0a1.75 1.75 0 1 0 3.5 0M329.8 551.5a1.75 1.75 0 1 0 -3.5 0a1.75 1.75 0 1 0 3.5 0M355.9 551.5a1.75 1.75 0 1 0 -3.5 0a1.75 1.75 0 1 0 3.5 0M345 551.6a1.75 1.75 0 1 0 -3.5 0a1.75 1.75 0 1 0 3.5 0M327 551.6a1.75 1.75 0 1 0 -3.5 0a1.75 1.75 0 1 0 3.5 0M324.2 552a1.75 1.75 0 1 0 -3.5 0a1.75 1.75 0 1 0 3.5 0M359.4 552a1.75 1.75 0 1 0 -3.5 0a1.75 1.75 0 1 0 3.5 0M321.1 552a1.75 1.75 0 1 0 -3.5 0a1.75 1.75 0 1 0 3.5 0M363.4 552a1.75 1.75 0 1 0 -3.5 0a1.75 1.75 0 1 0 3.5 0M318.3 552a1.75 1.75 0 1 0 -3.5 0a1.75 1.75 0 1 0 3.5 0M366.2 552a1.75 1.75 0 1 0 -3.5 0a1.75 1.75 0 1 0 3.5 0M315.5 552a1.75 1.75 0 1 0 -3.5 0a1.75 1.75 0 1 0 3.5 0M351 552.3a1.75 1.75 0 1 0 -3.5 0a1.75 1.75 0 1 0 3.5 0M368.9 552.3a1.75 1.75 0 1 0 -3.5 0a1.75 1.75 0 1 0 3.5 0M335.3 552.6a1.75 1.75 0 1 0 -3.5 0a1.75 1.75 0 1 0 3.5 0M340 553a1.75 1.75 0 1 0 -3.5 0a1.75 1.75 0 1 0 3.5 0M312.9 553a1.75 1.75 0 1 0 -3.5 0a1.75 1.75 0 1 0 3.5 0M347.4 553.1a1.75 1.75 0 1 0 -3.5 0a1.75 1.75 0 1 0 3.5 0M332.7 553.7a1.75 1.75 0 1 0 -3.5 0a1.75 1.75 0 1 0 3.5 0M353.4 553.7a1.75 1.75 0 1 0 -3.5 0a1.75 1.75 0 1 0 3.5 0M371.3 553.8a1.75 1.75 0 1 0 -3.5 0a1.75 1.75 0 1 0 3.5 0M343 554a1.75 1.75 0 1 0 -3.5 0a1.75 1.75 0 1 0 3.5 0M337.6 554.4a1.75 1.75 0 1 0 -3.5 0a1.75 1.75 0 1 0 3.5 0M330 554.4a1.75 1.75 0 1 0 -3.5 0a1.75 1.75 0 1 0 3.5 0M327.2 554.5a1.75 1.75 0 1 0 -3.5 0a1.75 1.75 0 1 0 3.5 0M356.1 554.5a1.75 1.75 0 1 0 -3.5 0a1.75 1.75 0 1 0 3.5 0M349.7 554.7a1.75 1.75 0 1 0 -3.5 0a1.75 1.75 0 1 0 3.5 0M324.5 555.1a1.75 1.75 0 1 0 -3.5 0a1.75 1.75 0 1 0 3.5 0M345.5 555.1a1.75 1.75 0 1 0 -3.5 0a1.75 1.75 0 1 0 3.5 0M358.8 555.1a1.75 1.75 0 1 0 -3.5 0a1.75 1.75 0 1 0 3.5 0M341.2 556.1a1.75 1.75 0 1 0 -3.5 0a1.75 1.75 0 1 0 3.5 0M335.5 556.2a1.75 1.75 0 1 0 -3.5 0a1.75 1.75 0 1 0 3.5 0M321.9 556.2a1.75 1.75 0 1 0 -3.5 0a1.75 1.75 0 1 0 3.5 0M332.7 556.5a1.75 1.75 0 1 0 -3.5 0a1.75 1.75 0 1 0 3.5 0M351.8 556.5a1.75 1.75 0 1 0 -3.5 0a1.75 1.75 0 1 0 3.5 0M361.3 556.5a1.75 1.75 0 1 0 -3.5 0a1.75 1.75 0 1 0 3.5 0M319.2 556.5a1.75 1.75 0 1 0 -3.5 0a1.75 1.75 0 1 0 3.5 0M347.7 556.9a1.75 1.75 0 1 0 -3.5 0a1.75 1.75 0 1 0 3.5 0M338.6 557.2a1.75 1.75 0 1 0 -3.5 0a1.75 1.75 0 1 0 3.5 0M343.6 557.6a1.75 1.75 0 1 0 -3.5 0a1.75 1.75 0 1 0 3.5 0M330.2 557.8a1.75 1.75 0 1 0 -3.5 0a1.75 1.75 0 1 0 3.5 0M354 558.2a1.75 1.75 0 1 0 -3.5 0a1.75 1.75 0 1 0 3.5 0M327.5 558.3a1.75 1.75 0 1 0 -3.5 0a1.75 1.75 0 1 0 3.5 0M356.8 558.6a1.75 1.75 0 1 0 -3.5 0a1.75 1.75 0 1 0 3.5 0M324.7 558.6a1.75 1.75 0 1 0 -3.5 0a1.75 1.75 0 1 0 3.5 0M341.4 559.3a1.75 1.75 0 1 0 -3.5 0a1.75 1.75 0 1 0 3.5 0M345.5 559.6a1.75 1.75 0 1 0 -3.5 0a1.75 1.75 0 1 0 3.5 0M337.2 559.6a1.75 1.75 0 1 0 -3.5 0a1.75 1.75 0 1 0 3.5 0M348.3 559.7a1.75 1.75 0 1 0 -3.5 0a1.75 1.75 0 1 0 3.5 0M334.7 560.7a1.75 1.75 0 1 0 -3.5 0a1.75 1.75 0 1 0 3.5 0M350.9 560.8a1.75 1.75 0 1 0 -3.5 0a1.75 1.75 0 1 0 3.5 0M331.9 561.1a1.75 1.75 0 1 0 -3.5 0a1.75 1.75 0 1 0 3.5 0M343.1 561.5a1.75 1.75 0 1 0 -3.5 0a1.75 1.75 0 1 0 3.5 0M339.9 561.7a1.75 1.75 0 1 0 -3.5 0a1.75 1.75 0 1 0 3.5 0M346.8 562.1a1.75 1.75 0 1 0 -3.5 0a1.75 1.75 0 1 0 3.5 0M353.3 562.1a1.75 1.75 0 1 0 -3.5 0a1.75 1.75 0 1 0 3.5 0M337 562.4a1.75 1.75 0 1 0 -3.5 0a1.75 1.75 0 1 0 3.5 0M329.9 563.1a1.75 1.75 0 1 0 -3.5 0a1.75 1.75 0 1 0 3.5 0M341.4 564.2a1.75 1.75 0 1 0 -3.5 0a1.75 1.75 0 1 0 3.5 0M338.7 564.9a1.75 1.75 0 1 0 -3.5 0a1.75 1.75 0 1 0 3.5 0M344.1 565.2a1.75 1.75 0 1 0 -3.5 0a1.75 1.75 0 1 0 3.5 0M346.9 565.3a1.75 1.75 0 1 0 -3.5 0a1.75 1.75 0 1 0 3.5 0M336 565.3a1.75 1.75 0 1 0 -3.5 0a1.75 1.75 0 1 0 3.5 0M349.7 565.3a1.75 1.75 0 1 0 -3.5 0a1.75 1.75 0 1 0 3.5 0M333.2 566a1.75 1.75 0 1 0 -3.5 0a1.75 1.75 0 1 0 3.5 0M352.4 566a1.75 1.75 0 1 0 -3.5 0a1.75 1.75 0 1 0 3.5 0M340.9 567a1.75 1.75 0 1 0 -3.5 0a1.75 1.75 0 1 0 3.5 0M330.8 567.3a1.75 1.75 0 1 0 -3.5 0a1.75 1.75 0 1 0 3.5 0M338.2 567.7a1.75 1.75 0 1 0 -3.5 0a1.75 1.75 0 1 0 3.5 0M344.6 568a1.75 1.75 0 1 0 -3.5 0a1.75 1.75 0 1 0 3.5 0M347.4 568a1.75 1.75 0 1 0 -3.5 0a1.75 1.75 0 1 0 3.5 0M335.4 568a1.75 1.75 0 1 0 -3.5 0a1.75 1.75 0 1 0 3.5 0M350.2 568.1a1.75 1.75 0 1 0 -3.5 0a1.75 1.75 0 1 0 3.5 0M353.7 568.5a1.75 1.75 0 1 0 -3.5 0a1.75 1.75 0 1 0 3.5 0M328.4 568.8a1.75 1.75 0 1 0 -3.5 0a1.75 1.75 0 1 0 3.5 0M356.4 568.8a1.75 1.75 0 1 0 -3.5 0a1.75 1.75 0 1 0 3.5 0M325.6 569.1a1.75 1.75 0 1 0 -3.5 0a1.75 1.75 0 1 0 3.5 0M341.5 569.7a1.75 1.75 0 1 0 -3.5 0a1.75 1.75 0 1 0 3.5 0M333.2 569.7a1.75 1.75 0 1 0 -3.5 0a1.75 1.75 0 1 0 3.5 0M359 569.8a1.75 1.75 0 1 0 -3.5 0a1.75 1.75 0 1 0 3.5 0M339 570.9a1.75 1.75 0 1 0 -3.5 0a1.75 1.75 0 1 0 3.5 0M343.3 571.9a1.75 1.75 0 1 0 -3.5 0a1.75 1.75 0 1 0 3.5 0M346.1 571.9a1.75 1.75 0 1 0 -3.5 0a1.75 1.75 0 1 0 3.5 0M340.9 573.3a1.75 1.75 0 1 0 -3.5 0a1.75 1.75 0 1 0 3.5 0M337.6 573.3a1.75 1.75 0 1 0 -3.5 0a1.75 1.75 0 1 0 3.5 0M334.8 573.3a1.75 1.75 0 1 0 -3.5 0a1.75 1.75 0 1 0 3.5 0M344.7 574.3a1.75 1.75 0 1 0 -3.5 0a1.75 1.75 0 1 0 3.5 0M347.5 574.4a1.75 1.75 0 1 0 -3.5 0a1.75 1.75 0 1 0 3.5 0M350.2 575.1a1.75 1.75 0 1 0 -3.5 0a1.75 1.75 0 1 0 3.5 0M333 575.5a1.75 1.75 0 1 0 -3.5 0a1.75 1.75 0 1 0 3.5 0M341.4 576.5a1.75 1.75 0 1 0 -3.5 0a1.75 1.75 0 1 0 3.5 0M339 577.9a1.75 1.75 0 1 0 -3.5 0a1.75 1.75 0 1 0 3.5 0M343 578.8a1.75 1.75 0 1 0 -3.5 0a1.75 1.75 0 1 0 3.5 0M345.8 578.9a1.75 1.75 0 1 0 -3.5 0a1.75 1.75 0 1 0 3.5 0M336.6 579.3a1.75 1.75 0 1 0 -3.5 0a1.75 1.75 0 1 0 3.5 0M348.6 579.3a1.75 1.75 0 1 0 -3.5 0a1.75 1.75 0 1 0 3.5 0M333.8 579.8a1.75 1.75 0 1 0 -3.5 0a1.75 1.75 0 1 0 3.5 0M340.6 580.3a1.75 1.75 0 1 0 -3.5 0a1.75 1.75 0 1 0 3.5 0M341.4 583.2a1.75 1.75 0 1 0 -3.5 0a1.75 1.75 0 1 0 3.5 0M341 585.9a1.75 1.75 0 1 0 -3.5 0a1.75 1.75 0 1 0 3.5 0" fill="#eeeeee" stroke="#a8a8a8" stroke-width="0.6"/>
<circle cx="336.3" cy="480" r="3.3" fill="#4a86cc" stroke="#333" stroke-width="0.8"/>
<circle cx="336.3" cy="497.7" r="3.3" fill="#e8202a" stroke="#333" stroke-width="0.8"/>
<circle cx="341.2" cy="531" r="3.6" fill="#c27ec6" stroke="#333" stroke-width="0.8"/>
<text x="343.7" y="488.8" font-size="9.7" fill="#4a8ad0" stroke="#4a8ad0" stroke-width="0.1" text-anchor="start" >BC.93</text>
<text x="343.7" y="500.2" font-size="9.7" fill="#e5282e" stroke="#e5282e" stroke-width="0.1" text-anchor="start" >BC.68</text>
<text x="343.7" y="511.5" font-size="9.7" fill="#c27ec6" stroke="#c27ec6" stroke-width="0.1" text-anchor="start" >BC.194</text>
<text transform="translate(286.5,532) rotate(-90)" font-size="9.6" fill="#3c3c3c" stroke="#3c3c3c" stroke-width="0.1" text-anchor="middle">log<tspan font-size="6.5" dy="2.3">10</tspan><tspan dy="-2.3">(Barcode proportion)</tspan></text>
<line x1="456.4" y1="330.5" x2="456.4" y2="403.5" stroke="#ececec" stroke-width="0.7" />
<line x1="482.5" y1="330.5" x2="482.5" y2="403.5" stroke="#ececec" stroke-width="0.7" />
<line x1="508.6" y1="330.5" x2="508.6" y2="403.5" stroke="#ececec" stroke-width="0.7" />
<line x1="534.7" y1="330.5" x2="534.7" y2="403.5" stroke="#ececec" stroke-width="0.7" />
<line x1="430.3" y1="390.4" x2="561.2" y2="390.4" stroke="#ececec" stroke-width="0.7" />
<line x1="430.3" y1="377.3" x2="561.2" y2="377.3" stroke="#ececec" stroke-width="0.7" />
<line x1="430.3" y1="364.2" x2="561.2" y2="364.2" stroke="#ececec" stroke-width="0.7" />
<line x1="430.3" y1="351.1" x2="561.2" y2="351.1" stroke="#ececec" stroke-width="0.7" />
<line x1="430.3" y1="338" x2="561.2" y2="338" stroke="#ececec" stroke-width="0.7" />
<path d="M430.3 370.1L503.4 362.9L561.2 338L561.2 379L503.4 403.5L430.3 403.5" fill="#e7f2f2" stroke="none" stroke-width="1" />
<path d="M430.3 370.1L503.4 362.9L561.2 338" fill="none" stroke="#5ec3df" stroke-width="0.8" />
<path d="M430.3 403.5L503.4 403.5L561.2 379" fill="none" stroke="#5ec3df" stroke-width="0.8" />
<use href="#p186" stroke="#707070" stroke-width="2.3" stroke-opacity="0.4"/>
<use href="#p187" stroke="#707070" stroke-width="2.3" stroke-opacity="0.4"/>
<use href="#p188" stroke="#707070" stroke-width="2.3" stroke-opacity="0.4"/>
<use href="#p189" stroke="#707070" stroke-width="2.3" stroke-opacity="0.4"/>
<use href="#p190" stroke="#707070" stroke-width="2.3" stroke-opacity="0.4"/>
<use href="#p191" stroke="#707070" stroke-width="2.3" stroke-opacity="0.4"/>
<use href="#p192" stroke="#707070" stroke-width="2.3" stroke-opacity="0.4"/>
<use href="#p193" stroke="#707070" stroke-width="2.3" stroke-opacity="0.4"/>
<use href="#p194" stroke="#707070" stroke-width="2.3" stroke-opacity="0.4"/>
<use href="#p195" stroke="#707070" stroke-width="2.3" stroke-opacity="0.4"/>
<use href="#p196" stroke="#707070" stroke-width="2.3" stroke-opacity="0.4"/>
<use href="#p197" stroke="#707070" stroke-width="2.3" stroke-opacity="0.4"/>
<use href="#p198" stroke="#707070" stroke-width="2.3" stroke-opacity="0.4"/>
<use href="#p199" stroke="#707070" stroke-width="2.3" stroke-opacity="0.4"/>
<use href="#p200" stroke="#707070" stroke-width="2.3" stroke-opacity="0.4"/>
<use href="#p201" stroke="#707070" stroke-width="2.3" stroke-opacity="0.4"/>
<use href="#p202" stroke="#707070" stroke-width="2.3" stroke-opacity="0.4"/>
<use href="#p203" stroke="#707070" stroke-width="2.3" stroke-opacity="0.4"/>
<use href="#p204" stroke="#707070" stroke-width="2.3" stroke-opacity="0.4"/>
<use href="#p205" stroke="#707070" stroke-width="2.3" stroke-opacity="0.4"/>
<use href="#p206" stroke="#707070" stroke-width="2.3" stroke-opacity="0.4"/>
<use href="#p207" stroke="#707070" stroke-width="2.3" stroke-opacity="0.4"/>
<use href="#p208" stroke="#707070" stroke-width="2.3" stroke-opacity="0.4"/>
<use href="#p209" stroke="#707070" stroke-width="2.3" stroke-opacity="0.4"/>
<use href="#p210" stroke="#707070" stroke-width="2.3" stroke-opacity="0.4"/>
<rect x="430.3" y="330.5" width="130.9" height="73" fill="none" stroke="#7d7d7d" stroke-width="0.9"/>
<line x1="426.3" y1="403.5" x2="430.3" y2="403.5" stroke="#9a9a9a" stroke-width="0.9" />
<text x="422.8" y="406.8" font-size="9.3" fill="#444" stroke="#444" stroke-width="0" text-anchor="end" >0</text>
<line x1="426.3" y1="377.3" x2="430.3" y2="377.3" stroke="#9a9a9a" stroke-width="0.9" />
<text x="422.8" y="380.6" font-size="9.3" fill="#444" stroke="#444" stroke-width="0" text-anchor="end" >2</text>
<line x1="426.3" y1="351.1" x2="430.3" y2="351.1" stroke="#9a9a9a" stroke-width="0.9" />
<text x="422.8" y="354.4" font-size="9.3" fill="#444" stroke="#444" stroke-width="0" text-anchor="end" >4</text>
<text x="430.3" y="325.5" font-size="10.5" fill="#3c3c3c" stroke="#3c3c3c" stroke-width="0.1" text-anchor="start" >AV2 (aviraemic)</text>
<text x="558.6" y="400.5" font-size="10.3" fill="#3c3c3c" stroke="#3c3c3c" stroke-width="0.1" text-anchor="end" textLength="17.4" lengthAdjust="spacingAndGlyphs">17%</text>
<line x1="456.4" y1="425" x2="456.4" y2="498" stroke="#ececec" stroke-width="0.7" />
<line x1="482.5" y1="425" x2="482.5" y2="498" stroke="#ececec" stroke-width="0.7" />
<line x1="508.6" y1="425" x2="508.6" y2="498" stroke="#ececec" stroke-width="0.7" />
<line x1="534.7" y1="425" x2="534.7" y2="498" stroke="#ececec" stroke-width="0.7" />
<line x1="430.3" y1="484.9" x2="561.2" y2="484.9" stroke="#ececec" stroke-width="0.7" />
<line x1="430.3" y1="471.8" x2="561.2" y2="471.8" stroke="#ececec" stroke-width="0.7" />
<line x1="430.3" y1="458.7" x2="561.2" y2="458.7" stroke="#ececec" stroke-width="0.7" />
<line x1="430.3" y1="445.6" x2="561.2" y2="445.6" stroke="#ececec" stroke-width="0.7" />
<line x1="430.3" y1="432.5" x2="561.2" y2="432.5" stroke="#ececec" stroke-width="0.7" />
<path d="M430.3 464.6L503.4 457.4L561.2 432.5L561.2 473.5L503.4 498L430.3 498" fill="#e7f2f2" stroke="none" stroke-width="1" />
<path d="M430.3 464.6L503.4 457.4L561.2 432.5" fill="none" stroke="#5ec3df" stroke-width="0.8" />
<path d="M430.3 498L503.4 498L561.2 473.5" fill="none" stroke="#5ec3df" stroke-width="0.8" />
<use href="#p211" stroke="#707070" stroke-width="2.3" stroke-opacity="0.4"/>
<use href="#p212" stroke="#707070" stroke-width="2.3" stroke-opacity="0.4"/>
<use href="#p213" stroke="#707070" stroke-width="2.3" stroke-opacity="0.4"/>
<use href="#p214" stroke="#707070" stroke-width="2.3" stroke-opacity="0.4"/>
<use href="#p215" stroke="#707070" stroke-width="2.3" stroke-opacity="0.4"/>
<use href="#p216" stroke="#707070" stroke-width="2.3" stroke-opacity="0.4"/>
<use href="#p217" stroke="#707070" stroke-width="2.3" stroke-opacity="0.4"/>
<use href="#p218" stroke="#707070" stroke-width="2.3" stroke-opacity="0.4"/>
<use href="#p219" stroke="#707070" stroke-width="2.3" stroke-opacity="0.4"/>
<use href="#p220" stroke="#707070" stroke-width="2.3" stroke-opacity="0.4"/>
<use href="#p221" stroke="#707070" stroke-width="2.3" stroke-opacity="0.4"/>
<use href="#p222" stroke="#707070" stroke-width="2.3" stroke-opacity="0.4"/>
<use href="#p223" stroke="#707070" stroke-width="2.3" stroke-opacity="0.4"/>
<use href="#p224" stroke="#707070" stroke-width="2.3" stroke-opacity="0.4"/>
<use href="#p225" stroke="#707070" stroke-width="2.3" stroke-opacity="0.4"/>
<use href="#p226" stroke="#707070" stroke-width="2.3" stroke-opacity="0.4"/>
<use href="#p227" stroke="#707070" stroke-width="2.3" stroke-opacity="0.4"/>
<use href="#p228" stroke="#707070" stroke-width="2.3" stroke-opacity="0.4"/>
<use href="#p229" stroke="#707070" stroke-width="2.3" stroke-opacity="0.4"/>
<use href="#p230" stroke="#707070" stroke-width="2.3" stroke-opacity="0.4"/>
<use href="#p231" stroke="#707070" stroke-width="2.3" stroke-opacity="0.4"/>
<use href="#p232" stroke="#707070" stroke-width="2.3" stroke-opacity="0.4"/>
<use href="#p233" stroke="#707070" stroke-width="2.3" stroke-opacity="0.4"/>
<use href="#p234" stroke="#707070" stroke-width="2.3" stroke-opacity="0.4"/>
<use href="#p235" stroke="#707070" stroke-width="2.3" stroke-opacity="0.4"/>
<rect x="430.3" y="425.0" width="130.9" height="73" fill="none" stroke="#7d7d7d" stroke-width="0.9"/>
<line x1="426.3" y1="498" x2="430.3" y2="498" stroke="#9a9a9a" stroke-width="0.9" />
<text x="422.8" y="501.3" font-size="9.3" fill="#444" stroke="#444" stroke-width="0" text-anchor="end" >0</text>
<line x1="426.3" y1="471.8" x2="430.3" y2="471.8" stroke="#9a9a9a" stroke-width="0.9" />
<text x="422.8" y="475.1" font-size="9.3" fill="#444" stroke="#444" stroke-width="0" text-anchor="end" >2</text>
<line x1="426.3" y1="445.6" x2="430.3" y2="445.6" stroke="#9a9a9a" stroke-width="0.9" />
<text x="422.8" y="448.9" font-size="9.3" fill="#444" stroke="#444" stroke-width="0" text-anchor="end" >4</text>
<text x="430.3" y="420" font-size="10.5" fill="#3c3c3c" stroke="#3c3c3c" stroke-width="0.1" text-anchor="start" >AV3 (aviraemic)</text>
<text x="558.6" y="495" font-size="10.3" fill="#3c3c3c" stroke="#3c3c3c" stroke-width="0.1" text-anchor="end" textLength="17.4" lengthAdjust="spacingAndGlyphs">12%</text>
<line x1="456.4" y1="518.4" x2="456.4" y2="591.4" stroke="#ececec" stroke-width="0.7" />
<line x1="482.5" y1="518.4" x2="482.5" y2="591.4" stroke="#ececec" stroke-width="0.7" />
<line x1="508.6" y1="518.4" x2="508.6" y2="591.4" stroke="#ececec" stroke-width="0.7" />
<line x1="534.7" y1="518.4" x2="534.7" y2="591.4" stroke="#ececec" stroke-width="0.7" />
<line x1="430.3" y1="578.3" x2="561.2" y2="578.3" stroke="#ececec" stroke-width="0.7" />
<line x1="430.3" y1="565.2" x2="561.2" y2="565.2" stroke="#ececec" stroke-width="0.7" />
<line x1="430.3" y1="552.1" x2="561.2" y2="552.1" stroke="#ececec" stroke-width="0.7" />
<line x1="430.3" y1="539" x2="561.2" y2="539" stroke="#ececec" stroke-width="0.7" />
<line x1="430.3" y1="525.9" x2="561.2" y2="525.9" stroke="#ececec" stroke-width="0.7" />
<path d="M430.3 558L503.4 550.8L561.2 525.9L561.2 566.9L503.4 591.4L430.3 591.4" fill="#e7f2f2" stroke="none" stroke-width="1" />
<path d="M430.3 558L503.4 550.8L561.2 525.9" fill="none" stroke="#5ec3df" stroke-width="0.8" />
<path d="M430.3 591.4L503.4 591.4L561.2 566.9" fill="none" stroke="#5ec3df" stroke-width="0.8" />
<use href="#p236" stroke="#707070" stroke-width="2.3" stroke-opacity="0.4"/>
<use href="#p237" stroke="#707070" stroke-width="2.3" stroke-opacity="0.4"/>
<use href="#p238" stroke="#707070" stroke-width="2.3" stroke-opacity="0.4"/>
<use href="#p239" stroke="#707070" stroke-width="2.3" stroke-opacity="0.4"/>
<use href="#p240" stroke="#707070" stroke-width="2.3" stroke-opacity="0.4"/>
<use href="#p241" stroke="#707070" stroke-width="2.3" stroke-opacity="0.4"/>
<use href="#p242" stroke="#707070" stroke-width="2.3" stroke-opacity="0.4"/>
<use href="#p243" stroke="#707070" stroke-width="2.3" stroke-opacity="0.4"/>
<use href="#p244" stroke="#707070" stroke-width="2.3" stroke-opacity="0.4"/>
<use href="#p245" stroke="#707070" stroke-width="2.3" stroke-opacity="0.4"/>
<use href="#p246" stroke="#707070" stroke-width="2.3" stroke-opacity="0.4"/>
<use href="#p247" stroke="#707070" stroke-width="2.3" stroke-opacity="0.4"/>
<use href="#p248" stroke="#707070" stroke-width="2.3" stroke-opacity="0.4"/>
<use href="#p249" stroke="#707070" stroke-width="2.3" stroke-opacity="0.4"/>
<use href="#p250" stroke="#707070" stroke-width="2.3" stroke-opacity="0.4"/>
<use href="#p251" stroke="#707070" stroke-width="2.3" stroke-opacity="0.4"/>
<use href="#p252" stroke="#707070" stroke-width="2.3" stroke-opacity="0.4"/>
<use href="#p253" stroke="#707070" stroke-width="2.3" stroke-opacity="0.4"/>
<use href="#p254" stroke="#707070" stroke-width="2.3" stroke-opacity="0.4"/>
<use href="#p255" stroke="#707070" stroke-width="2.3" stroke-opacity="0.4"/>
<use href="#p256" stroke="#707070" stroke-width="2.3" stroke-opacity="0.4"/>
<use href="#p257" stroke="#707070" stroke-width="2.3" stroke-opacity="0.4"/>
<use href="#p258" stroke="#707070" stroke-width="2.3" stroke-opacity="0.4"/>
<use href="#p259" stroke="#707070" stroke-width="2.3" stroke-opacity="0.4"/>
<use href="#p260" stroke="#707070" stroke-width="2.3" stroke-opacity="0.4"/>
<rect x="430.3" y="518.4" width="130.9" height="73" fill="none" stroke="#7d7d7d" stroke-width="0.9"/>
<line x1="426.3" y1="591.4" x2="430.3" y2="591.4" stroke="#9a9a9a" stroke-width="0.9" />
<text x="422.8" y="594.7" font-size="9.3" fill="#444" stroke="#444" stroke-width="0" text-anchor="end" >0</text>
<line x1="426.3" y1="565.2" x2="430.3" y2="565.2" stroke="#9a9a9a" stroke-width="0.9" />
<text x="422.8" y="568.5" font-size="9.3" fill="#444" stroke="#444" stroke-width="0" text-anchor="end" >2</text>
<line x1="426.3" y1="539" x2="430.3" y2="539" stroke="#9a9a9a" stroke-width="0.9" />
<text x="422.8" y="542.3" font-size="9.3" fill="#444" stroke="#444" stroke-width="0" text-anchor="end" >4</text>
<text x="430.3" y="513.4" font-size="10.5" fill="#3c3c3c" stroke="#3c3c3c" stroke-width="0.1" text-anchor="start" >AV4 (aviraemic)</text>
<text x="558.6" y="588.4" font-size="10.3" fill="#3c3c3c" stroke="#3c3c3c" stroke-width="0.1" text-anchor="end" textLength="17.4" lengthAdjust="spacingAndGlyphs">13%</text>
<path d="M443.6 383.4L445.5 385.3L443.6 387.2L441.7 385.3Z" fill="#3fb2b4" stroke="#1a2424" stroke-width="0.6"/>
<path d="M477.9 373.4L479.8 375.3L477.9 377.2L476 375.3Z" fill="#3fb2b4" stroke="#1a2424" stroke-width="0.6"/>
<path d="M489 383.2L490.9 385.1L489 387L487.1 385.1Z" fill="#3fb2b4" stroke="#1a2424" stroke-width="0.6"/>
<path d="M509.8 384.2L511.7 386.1L509.8 388L507.9 386.1Z" fill="#3fb2b4" stroke="#1a2424" stroke-width="0.6"/>
<path d="M485.1 365.6L487 367.5L485.1 369.4L483.2 367.5Z" fill="#f4a12c" stroke="#2a2018" stroke-width="0.6"/>
<path d="M489 370.7L490.9 372.6L489 374.5L487.1 372.6Z" fill="#f4a12c" stroke="#2a2018" stroke-width="0.6"/>
<path d="M468.1 377L470 378.9L468.1 380.8L466.2 378.9Z" fill="#f4a12c" stroke="#2a2018" stroke-width="0.6"/>
<path d="M505.9 362.7L507.8 364.6L505.9 366.5L504 364.6Z" fill="#f4a12c" stroke="#2a2018" stroke-width="0.6"/>
<path d="M460.9 387.2L462.8 390.6L459 390.6Z" fill="#f4a12c" stroke="#2a2018" stroke-width="0.6"/>
<circle cx="501.9" cy="368.1" r="1.4" fill="#a04a48" stroke="#2a1a1a" stroke-width="0.6"/>
<circle cx="502.9" cy="371.4" r="1.4" fill="#a04a48" stroke="#2a1a1a" stroke-width="0.6"/>
<circle cx="507.8" cy="372.6" r="1.4" fill="#a04a48" stroke="#2a1a1a" stroke-width="0.6"/>
<circle cx="518.4" cy="366.5" r="1.4" fill="#a04a48" stroke="#2a1a1a" stroke-width="0.6"/>
<circle cx="528.2" cy="369.1" r="1.4" fill="#a04a48" stroke="#2a1a1a" stroke-width="0.6"/>
<circle cx="498.4" cy="374.4" r="1.4" fill="#a04a48" stroke="#2a1a1a" stroke-width="0.6"/>
<circle cx="515.6" cy="374.4" r="1.4" fill="#a04a48" stroke="#2a1a1a" stroke-width="0.6"/>
<circle cx="508.6" cy="375.9" r="1.4" fill="#a04a48" stroke="#2a1a1a" stroke-width="0.6"/>
<circle cx="513.1" cy="378.5" r="1.4" fill="#a04a48" stroke="#2a1a1a" stroke-width="0.6"/>
<circle cx="525.2" cy="375.3" r="1.4" fill="#a04a48" stroke="#2a1a1a" stroke-width="0.6"/>
<circle cx="501.7" cy="379.3" r="1.4" fill="#a04a48" stroke="#2a1a1a" stroke-width="0.6"/>
<circle cx="504.7" cy="380" r="1.4" fill="#a04a48" stroke="#2a1a1a" stroke-width="0.6"/>
<circle cx="503.3" cy="381.2" r="1.4" fill="#a04a48" stroke="#2a1a1a" stroke-width="0.6"/>
<circle cx="517" cy="381.2" r="1.4" fill="#a04a48" stroke="#2a1a1a" stroke-width="0.6"/>
<circle cx="496.1" cy="383.2" r="1.4" fill="#a04a48" stroke="#2a1a1a" stroke-width="0.6"/>
<circle cx="494.5" cy="384.1" r="1.4" fill="#a04a48" stroke="#2a1a1a" stroke-width="0.6"/>
<circle cx="511.1" cy="386.3" r="1.4" fill="#a04a48" stroke="#2a1a1a" stroke-width="0.6"/>
<circle cx="513.5" cy="387.9" r="1.4" fill="#a04a48" stroke="#2a1a1a" stroke-width="0.6"/>
<circle cx="502.3" cy="381.8" r="1.4" fill="#a04a48" stroke="#2a1a1a" stroke-width="0.6"/>
<path d="M523.3 361.8L525.2 365.2L521.4 365.2Z" fill="#a04a48" stroke="#2a1a1a" stroke-width="0.6"/>
<path d="M493 379.2L494.9 382.6L491.1 382.6Z" fill="#a04a48" stroke="#2a1a1a" stroke-width="0.6"/>
<path d="M464.2 347.9L469.7 353.4L464.2 358.9L458.7 353.4Z" fill="#3fb2b4" stroke="#333" stroke-width="0.8"/>
<path d="M479.4 350.9L484.9 356.4L479.4 361.9L473.9 356.4Z" fill="#f4a12c" stroke="#333" stroke-width="0.8"/>
<circle cx="523.3" cy="346.2" r="3.9" fill="#a8504e" stroke="#333" stroke-width="0.8"/>
<text x="449.9" y="347.6" font-size="10.3" fill="#40b0b4" stroke="#40b0b4" stroke-width="0.1" text-anchor="start" >Tonsil*</text>
<text x="484.7" y="349.9" font-size="10.3" fill="#f4a12c" stroke="#f4a12c" stroke-width="0.1" text-anchor="start" >Tonsil*</text>
<text x="513.7" y="339.7" font-size="10.3" fill="#a8504e" stroke="#a8504e" stroke-width="0.1" text-anchor="start" >Cecum</text>
<path d="M487.7 459.9L489.5 461.7L487.7 463.5L485.9 461.7Z" fill="#1e7a48" stroke="#111" stroke-width="0.7"/>
<path d="M474.9 469.1L476.7 470.9L474.9 472.7L473.1 470.9Z" fill="#1e7a48" stroke="#111" stroke-width="0.7"/>
<path d="M478.5 473L480.3 474.8L478.5 476.6L476.7 474.8Z" fill="#1e7a48" stroke="#111" stroke-width="0.7"/>
<path d="M486.3 470.7L488.1 472.5L486.3 474.3L484.5 472.5Z" fill="#1e7a48" stroke="#111" stroke-width="0.7"/>
<path d="M498 469.5L499.8 471.3L498 473.1L496.2 471.3Z" fill="#1e7a48" stroke="#111" stroke-width="0.7"/>
<path d="M482.4 478.5L484.2 480.3L482.4 482.1L480.6 480.3Z" fill="#1e7a48" stroke="#111" stroke-width="0.7"/>
<path d="M487.1 476.5L488.9 478.3L487.1 480.1L485.3 478.3Z" fill="#1e7a48" stroke="#111" stroke-width="0.7"/>
<circle cx="455.4" cy="454.9" r="3.9" fill="#1e9050" stroke="#1e5a3a" stroke-width="0.8"/>
<text x="438.8" y="445.5" font-size="10.9" fill="#1f9a55" stroke="#1f9a55" stroke-width="0.1" text-anchor="start" >Ascending colon</text>
<path d="M451.5 548L456.7 553.2L451.5 558.4L446.3 553.2Z" fill="#ea62ac" stroke="#333" stroke-width="0.8"/>
<text x="445.6" y="544.4" font-size="10.3" fill="#e060a8" stroke="#e060a8" stroke-width="0.1" text-anchor="start" >Tonsil</text>
<line x1="430.3" y1="591.4" x2="430.3" y2="595.4" stroke="#9a9a9a" stroke-width="0.9" />
<text x="430.3" y="607" font-size="9.3" fill="#444" stroke="#444" stroke-width="0" text-anchor="middle" >0</text>
<line x1="456.4" y1="591.4" x2="456.4" y2="595.4" stroke="#9a9a9a" stroke-width="0.9" />
<text x="456.4" y="607" font-size="9.3" fill="#444" stroke="#444" stroke-width="0" text-anchor="middle" >1</text>
<line x1="482.5" y1="591.4" x2="482.5" y2="595.4" stroke="#9a9a9a" stroke-width="0.9" />
<text x="482.5" y="607" font-size="9.3" fill="#444" stroke="#444" stroke-width="0" text-anchor="middle" >2</text>
<line x1="508.6" y1="591.4" x2="508.6" y2="595.4" stroke="#9a9a9a" stroke-width="0.9" />
<text x="508.6" y="607" font-size="9.3" fill="#444" stroke="#444" stroke-width="0" text-anchor="middle" >3</text>
<line x1="534.7" y1="591.4" x2="534.7" y2="595.4" stroke="#9a9a9a" stroke-width="0.9" />
<text x="534.7" y="607" font-size="9.3" fill="#444" stroke="#444" stroke-width="0" text-anchor="middle" >4</text>
<text x="495.4" y="622.4" font-size="10.5" fill="#3c3c3c" stroke="#3c3c3c" stroke-width="0.1" text-anchor="middle" >log<tspan font-size="7.3" dy="2.5">10</tspan><tspan dy="-2.5">(Barcode vDNA)</tspan></text>
<text transform="translate(406,460.6) rotate(-90)" font-size="10.5" fill="#3c3c3c" stroke="#3c3c3c" stroke-width="0.1" text-anchor="middle">log<tspan font-size="7.3" dy="2.5">10</tspan><tspan dy="-2.5">(Barcode vRNA)</tspan></text>
<text x="439.7" y="640.3" font-size="7" fill="#222" stroke="#222" stroke-width="0" text-anchor="middle" >&#9733;</text>
<text x="448.6" y="641.5" font-size="10.5" fill="#3c3c3c" stroke="#3c3c3c" stroke-width="0.1" text-anchor="start" >Same sample</text>
<circle cx="540.9" cy="636.3" r="2.6" fill="#222"/>
<path d="M540.9 645.7L544.5 649.4L540.9 653.1L537.3 649.4Z" fill="#222"/>
<path d="M540.9 659.8L544.1 665L537.7 665Z" fill="#222"/>
<path d="M540.9 677.3L544.1 672.1L537.7 672.1Z" fill="#222"/>
<text x="550.8" y="639.9" font-size="10.8" fill="#3c3c3c" stroke="#3c3c3c" stroke-width="0.1" text-anchor="start" >GI tract</text>
<text x="550.8" y="652.8" font-size="10.8" fill="#3c3c3c" stroke="#3c3c3c" stroke-width="0.1" text-anchor="start" >GI lymphoid tissues</text>
<text x="550.8" y="666.4" font-size="10.8" fill="#3c3c3c" stroke="#3c3c3c" stroke-width="0.1" text-anchor="start" >Non-GI lymphoid tissues</text>
<text x="550.8" y="678.4" font-size="10.8" fill="#3c3c3c" stroke="#3c3c3c" stroke-width="0.1" text-anchor="start" >Non-lymphoid tissue</text>
<text transform="translate(580.5,469.2) rotate(-90)" font-size="11" fill="#3c3c3c" stroke="#3c3c3c" stroke-width="0.1" text-anchor="middle">log<tspan font-size="7" dy="2.5">10</tspan><tspan dy="-2.5">(Barcode proportion)</tspan></text>
<line x1="608.7" y1="336.4" x2="658.5" y2="336.4" stroke="#f0f0f0" stroke-width="0.7" />
<line x1="604.7" y1="336.4" x2="608.7" y2="336.4" stroke="#9a9a9a" stroke-width="0.9" />
<text x="601.7" y="339.6" font-size="9.3" fill="#444" stroke="#444" stroke-width="0" text-anchor="end" >&#8722;1</text>
<line x1="608.7" y1="353.9" x2="658.5" y2="353.9" stroke="#f0f0f0" stroke-width="0.7" />
<line x1="604.7" y1="353.9" x2="608.7" y2="353.9" stroke="#9a9a9a" stroke-width="0.9" />
<text x="601.7" y="357.1" font-size="9.3" fill="#444" stroke="#444" stroke-width="0" text-anchor="end" >&#8722;2</text>
<line x1="608.7" y1="371.1" x2="658.5" y2="371.1" stroke="#f0f0f0" stroke-width="0.7" />
<line x1="604.7" y1="371.1" x2="608.7" y2="371.1" stroke="#9a9a9a" stroke-width="0.9" />
<text x="601.7" y="374.3" font-size="9.3" fill="#444" stroke="#444" stroke-width="0" text-anchor="end" >&#8722;3</text>
<line x1="608.7" y1="388.4" x2="658.5" y2="388.4" stroke="#f0f0f0" stroke-width="0.7" />
<line x1="604.7" y1="388.4" x2="608.7" y2="388.4" stroke="#9a9a9a" stroke-width="0.9" />
<text x="601.7" y="391.6" font-size="9.3" fill="#444" stroke="#444" stroke-width="0" text-anchor="end" >&#8722;4</text>
<line x1="608.7" y1="405.4" x2="658.5" y2="405.4" stroke="#f0f0f0" stroke-width="0.7" />
<line x1="604.7" y1="405.4" x2="608.7" y2="405.4" stroke="#9a9a9a" stroke-width="0.9" />
<text x="601.7" y="408.6" font-size="9.3" fill="#444" stroke="#444" stroke-width="0" text-anchor="end" >&#8722;5</text>
<line x1="608.7" y1="324.2" x2="608.7" y2="413" stroke="#7d7d7d" stroke-width="0.9" />
<line x1="608.7" y1="413" x2="658.5" y2="413" stroke="#7d7d7d" stroke-width="0.9" />
<line x1="608.7" y1="427.7" x2="658.5" y2="427.7" stroke="#f0f0f0" stroke-width="0.7" />
<line x1="604.7" y1="427.7" x2="608.7" y2="427.7" stroke="#9a9a9a" stroke-width="0.9" />
<text x="601.7" y="430.9" font-size="9.3" fill="#444" stroke="#444" stroke-width="0" text-anchor="end" >&#8722;1</text>
<line x1="608.7" y1="446.1" x2="658.5" y2="446.1" stroke="#f0f0f0" stroke-width="0.7" />
<line x1="604.7" y1="446.1" x2="608.7" y2="446.1" stroke="#9a9a9a" stroke-width="0.9" />
<text x="601.7" y="449.3" font-size="9.3" fill="#444" stroke="#444" stroke-width="0" text-anchor="end" >&#8722;2</text>
<line x1="608.7" y1="464.7" x2="658.5" y2="464.7" stroke="#f0f0f0" stroke-width="0.7" />
<line x1="604.7" y1="464.7" x2="608.7" y2="464.7" stroke="#9a9a9a" stroke-width="0.9" />
<text x="601.7" y="467.9" font-size="9.3" fill="#444" stroke="#444" stroke-width="0" text-anchor="end" >&#8722;3</text>
<line x1="608.7" y1="483" x2="658.5" y2="483" stroke="#f0f0f0" stroke-width="0.7" />
<line x1="604.7" y1="483" x2="608.7" y2="483" stroke="#9a9a9a" stroke-width="0.9" />
<text x="601.7" y="486.2" font-size="9.3" fill="#444" stroke="#444" stroke-width="0" text-anchor="end" >&#8722;4</text>
<line x1="608.7" y1="501.2" x2="658.5" y2="501.2" stroke="#f0f0f0" stroke-width="0.7" />
<line x1="604.7" y1="501.2" x2="608.7" y2="501.2" stroke="#9a9a9a" stroke-width="0.9" />
<text x="601.7" y="504.4" font-size="9.3" fill="#444" stroke="#444" stroke-width="0" text-anchor="end" >&#8722;5</text>
<line x1="608.7" y1="424.2" x2="608.7" y2="513.1" stroke="#7d7d7d" stroke-width="0.9" />
<line x1="608.7" y1="513.1" x2="658.5" y2="513.1" stroke="#7d7d7d" stroke-width="0.9" />
<line x1="608.7" y1="533.7" x2="658.5" y2="533.7" stroke="#f0f0f0" stroke-width="0.7" />
<line x1="604.7" y1="533.7" x2="608.7" y2="533.7" stroke="#9a9a9a" stroke-width="0.9" />
<text x="601.7" y="536.9" font-size="9.3" fill="#444" stroke="#444" stroke-width="0" text-anchor="end" >&#8722;1</text>
<line x1="608.7" y1="552.3" x2="658.5" y2="552.3" stroke="#f0f0f0" stroke-width="0.7" />
<line x1="604.7" y1="552.3" x2="608.7" y2="552.3" stroke="#9a9a9a" stroke-width="0.9" />
<text x="601.7" y="555.5" font-size="9.3" fill="#444" stroke="#444" stroke-width="0" text-anchor="end" >&#8722;2</text>
<line x1="608.7" y1="570.2" x2="658.5" y2="570.2" stroke="#f0f0f0" stroke-width="0.7" />
<line x1="604.7" y1="570.2" x2="608.7" y2="570.2" stroke="#9a9a9a" stroke-width="0.9" />
<text x="601.7" y="573.4" font-size="9.3" fill="#444" stroke="#444" stroke-width="0" text-anchor="end" >&#8722;3</text>
<line x1="608.7" y1="588.8" x2="658.5" y2="588.8" stroke="#f0f0f0" stroke-width="0.7" />
<line x1="604.7" y1="588.8" x2="608.7" y2="588.8" stroke="#9a9a9a" stroke-width="0.9" />
<text x="601.7" y="592" font-size="9.3" fill="#444" stroke="#444" stroke-width="0" text-anchor="end" >&#8722;4</text>
<line x1="608.7" y1="607.1" x2="658.5" y2="607.1" stroke="#f0f0f0" stroke-width="0.7" />
<line x1="604.7" y1="607.1" x2="608.7" y2="607.1" stroke="#9a9a9a" stroke-width="0.9" />
<text x="601.7" y="610.3" font-size="9.3" fill="#444" stroke="#444" stroke-width="0" text-anchor="end" >&#8722;5</text>
<line x1="608.7" y1="525.5" x2="608.7" y2="614.4" stroke="#7d7d7d" stroke-width="0.9" />
<line x1="608.7" y1="614.4" x2="658.5" y2="614.4" stroke="#7d7d7d" stroke-width="0.9" />
<path d="M635.1 344a1.2 1.2 0 1 0 -2.4 0a1.2 1.2 0 1 0 2.4 0M633.5 345a1.2 1.2 0 1 0 -2.4 0a1.2 1.2 0 1 0 2.4 0M636.7 345.1a1.2 1.2 0 1 0 -2.4 0a1.2 1.2 0 1 0 2.4 0M638.3 346.1a1.2 1.2 0 1 0 -2.4 0a1.2 1.2 0 1 0 2.4 0M635.1 346.5a1.2 1.2 0 1 0 -2.4 0a1.2 1.2 0 1 0 2.4 0M632.9 346.9a1.2 1.2 0 1 0 -2.4 0a1.2 1.2 0 1 0 2.4 0M630.9 346.9a1.2 1.2 0 1 0 -2.4 0a1.2 1.2 0 1 0 2.4 0M636.7 347.6a1.2 1.2 0 1 0 -2.4 0a1.2 1.2 0 1 0 2.4 0M639.6 347.6a1.2 1.2 0 1 0 -2.4 0a1.2 1.2 0 1 0 2.4 0M629.3 347.9a1.2 1.2 0 1 0 -2.4 0a1.2 1.2 0 1 0 2.4 0M634.3 348.3a1.2 1.2 0 1 0 -2.4 0a1.2 1.2 0 1 0 2.4 0M641.3 348.3a1.2 1.2 0 1 0 -2.4 0a1.2 1.2 0 1 0 2.4 0M632.5 349a1.2 1.2 0 1 0 -2.4 0a1.2 1.2 0 1 0 2.4 0M635.5 349.7a1.2 1.2 0 1 0 -2.4 0a1.2 1.2 0 1 0 2.4 0M637.4 350a1.2 1.2 0 1 0 -2.4 0a1.2 1.2 0 1 0 2.4 0M631.2 350.3a1.2 1.2 0 1 0 -2.4 0a1.2 1.2 0 1 0 2.4 0M634 351a1.2 1.2 0 1 0 -2.4 0a1.2 1.2 0 1 0 2.4 0M639 351.1a1.2 1.2 0 1 0 -2.4 0a1.2 1.2 0 1 0 2.4 0M629.4 351.1a1.2 1.2 0 1 0 -2.4 0a1.2 1.2 0 1 0 2.4 0M635.8 351.7a1.2 1.2 0 1 0 -2.4 0a1.2 1.2 0 1 0 2.4 0M640.8 351.7a1.2 1.2 0 1 0 -2.4 0a1.2 1.2 0 1 0 2.4 0M632.4 351.9a1.2 1.2 0 1 0 -2.4 0a1.2 1.2 0 1 0 2.4 0M627.7 352a1.2 1.2 0 1 0 -2.4 0a1.2 1.2 0 1 0 2.4 0M642.7 352.1a1.2 1.2 0 1 0 -2.4 0a1.2 1.2 0 1 0 2.4 0M637.5 352.7a1.2 1.2 0 1 0 -2.4 0a1.2 1.2 0 1 0 2.4 0M630.6 352.7a1.2 1.2 0 1 0 -2.4 0a1.2 1.2 0 1 0 2.4 0M634.5 353.2a1.2 1.2 0 1 0 -2.4 0a1.2 1.2 0 1 0 2.4 0M639.2 353.5a1.2 1.2 0 1 0 -2.4 0a1.2 1.2 0 1 0 2.4 0M641.1 353.8a1.2 1.2 0 1 0 -2.4 0a1.2 1.2 0 1 0 2.4 0M632.7 353.8a1.2 1.2 0 1 0 -2.4 0a1.2 1.2 0 1 0 2.4 0M629.1 353.9a1.2 1.2 0 1 0 -2.4 0a1.2 1.2 0 1 0 2.4 0M636.2 354.2a1.2 1.2 0 1 0 -2.4 0a1.2 1.2 0 1 0 2.4 0M634.6 355.2a1.2 1.2 0 1 0 -2.4 0a1.2 1.2 0 1 0 2.4 0M637.3 355.7a1.2 1.2 0 1 0 -2.4 0a1.2 1.2 0 1 0 2.4 0M632.8 355.9a1.2 1.2 0 1 0 -2.4 0a1.2 1.2 0 1 0 2.4 0M639.2 356a1.2 1.2 0 1 0 -2.4 0a1.2 1.2 0 1 0 2.4 0M631 356.6a1.2 1.2 0 1 0 -2.4 0a1.2 1.2 0 1 0 2.4 0M641 356.6a1.2 1.2 0 1 0 -2.4 0a1.2 1.2 0 1 0 2.4 0M629.1 356.6a1.2 1.2 0 1 0 -2.4 0a1.2 1.2 0 1 0 2.4 0M643 356.7a1.2 1.2 0 1 0 -2.4 0a1.2 1.2 0 1 0 2.4 0M627.2 356.7a1.2 1.2 0 1 0 -2.4 0a1.2 1.2 0 1 0 2.4 0M635.2 357.1a1.2 1.2 0 1 0 -2.4 0a1.2 1.2 0 1 0 2.4 0M644.7 357.4a1.2 1.2 0 1 0 -2.4 0a1.2 1.2 0 1 0 2.4 0M625.4 357.4a1.2 1.2 0 1 0 -2.4 0a1.2 1.2 0 1 0 2.4 0M646.6 357.4a1.2 1.2 0 1 0 -2.4 0a1.2 1.2 0 1 0 2.4 0M637 357.7a1.2 1.2 0 1 0 -2.4 0a1.2 1.2 0 1 0 2.4 0M623.5 357.7a1.2 1.2 0 1 0 -2.4 0a1.2 1.2 0 1 0 2.4 0M633.4 357.7a1.2 1.2 0 1 0 -2.4 0a1.2 1.2 0 1 0 2.4 0M638.9 358a1.2 1.2 0 1 0 -2.4 0a1.2 1.2 0 1 0 2.4 0M648.5 358a1.2 1.2 0 1 0 -2.4 0a1.2 1.2 0 1 0 2.4 0M621.6 358.1a1.2 1.2 0 1 0 -2.4 0a1.2 1.2 0 1 0 2.4 0M650.4 358.1a1.2 1.2 0 1 0 -2.4 0a1.2 1.2 0 1 0 2.4 0M630.3 358.4a1.2 1.2 0 1 0 -2.4 0a1.2 1.2 0 1 0 2.4 0M641.7 358.4a1.2 1.2 0 1 0 -2.4 0a1.2 1.2 0 1 0 2.4 0M628.4 358.7a1.2 1.2 0 1 0 -2.4 0a1.2 1.2 0 1 0 2.4 0M619.8 358.7a1.2 1.2 0 1 0 -2.4 0a1.2 1.2 0 1 0 2.4 0M652.2 358.8a1.2 1.2 0 1 0 -2.4 0a1.2 1.2 0 1 0 2.4 0M635.1 359.1a1.2 1.2 0 1 0 -2.4 0a1.2 1.2 0 1 0 2.4 0M632.7 359.5a1.2 1.2 0 1 0 -2.4 0a1.2 1.2 0 1 0 2.4 0M636.7 360.2a1.2 1.2 0 1 0 -2.4 0a1.2 1.2 0 1 0 2.4 0M638.6 360.4a1.2 1.2 0 1 0 -2.4 0a1.2 1.2 0 1 0 2.4 0M634.2 360.8a1.2 1.2 0 1 0 -2.4 0a1.2 1.2 0 1 0 2.4 0M631.3 360.8a1.2 1.2 0 1 0 -2.4 0a1.2 1.2 0 1 0 2.4 0M640.5 360.9a1.2 1.2 0 1 0 -2.4 0a1.2 1.2 0 1 0 2.4 0M629.4 361.1a1.2 1.2 0 1 0 -2.4 0a1.2 1.2 0 1 0 2.4 0M642.3 361.6a1.2 1.2 0 1 0 -2.4 0a1.2 1.2 0 1 0 2.4 0M627.5 361.6a1.2 1.2 0 1 0 -2.4 0a1.2 1.2 0 1 0 2.4 0M644.2 361.8a1.2 1.2 0 1 0 -2.4 0a1.2 1.2 0 1 0 2.4 0M635.4 362.3a1.2 1.2 0 1 0 -2.4 0a1.2 1.2 0 1 0 2.4 0M633.6 362.7a1.2 1.2 0 1 0 -2.4 0a1.2 1.2 0 1 0 2.4 0M637.3 362.8a1.2 1.2 0 1 0 -2.4 0a1.2 1.2 0 1 0 2.4 0M631.6 362.8a1.2 1.2 0 1 0 -2.4 0a1.2 1.2 0 1 0 2.4 0M639.2 363a1.2 1.2 0 1 0 -2.4 0a1.2 1.2 0 1 0 2.4 0M629.8 363.3a1.2 1.2 0 1 0 -2.4 0a1.2 1.2 0 1 0 2.4 0M641 363.6a1.2 1.2 0 1 0 -2.4 0a1.2 1.2 0 1 0 2.4 0M627.9 363.6a1.2 1.2 0 1 0 -2.4 0a1.2 1.2 0 1 0 2.4 0M642.9 363.7a1.2 1.2 0 1 0 -2.4 0a1.2 1.2 0 1 0 2.4 0M635.1 364.3a1.2 1.2 0 1 0 -2.4 0a1.2 1.2 0 1 0 2.4 0M633.2 364.7a1.2 1.2 0 1 0 -2.4 0a1.2 1.2 0 1 0 2.4 0M637 364.8a1.2 1.2 0 1 0 -2.4 0a1.2 1.2 0 1 0 2.4 0M638.9 365a1.2 1.2 0 1 0 -2.4 0a1.2 1.2 0 1 0 2.4 0M631.3 365.1a1.2 1.2 0 1 0 -2.4 0a1.2 1.2 0 1 0 2.4 0M629.4 365.4a1.2 1.2 0 1 0 -2.4 0a1.2 1.2 0 1 0 2.4 0M641.6 365.4a1.2 1.2 0 1 0 -2.4 0a1.2 1.2 0 1 0 2.4 0M627.6 365.7a1.2 1.2 0 1 0 -2.4 0a1.2 1.2 0 1 0 2.4 0M643.5 366.1a1.2 1.2 0 1 0 -2.4 0a1.2 1.2 0 1 0 2.4 0M635.1 366.4a1.2 1.2 0 1 0 -2.4 0a1.2 1.2 0 1 0 2.4 0M625.8 366.5a1.2 1.2 0 1 0 -2.4 0a1.2 1.2 0 1 0 2.4 0M632.8 366.6a1.2 1.2 0 1 0 -2.4 0a1.2 1.2 0 1 0 2.4 0M637 366.8a1.2 1.2 0 1 0 -2.4 0a1.2 1.2 0 1 0 2.4 0M638.9 367a1.2 1.2 0 1 0 -2.4 0a1.2 1.2 0 1 0 2.4 0M630.9 367.1a1.2 1.2 0 1 0 -2.4 0a1.2 1.2 0 1 0 2.4 0M640.6 367.8a1.2 1.2 0 1 0 -2.4 0a1.2 1.2 0 1 0 2.4 0M629.1 367.8a1.2 1.2 0 1 0 -2.4 0a1.2 1.2 0 1 0 2.4 0M642.6 367.9a1.2 1.2 0 1 0 -2.4 0a1.2 1.2 0 1 0 2.4 0M634.3 368.2a1.2 1.2 0 1 0 -2.4 0a1.2 1.2 0 1 0 2.4 0M627.2 368.2a1.2 1.2 0 1 0 -2.4 0a1.2 1.2 0 1 0 2.4 0M632.4 368.5a1.2 1.2 0 1 0 -2.4 0a1.2 1.2 0 1 0 2.4 0M644.3 368.6a1.2 1.2 0 1 0 -2.4 0a1.2 1.2 0 1 0 2.4 0M636.2 368.6a1.2 1.2 0 1 0 -2.4 0a1.2 1.2 0 1 0 2.4 0M625.4 368.6a1.2 1.2 0 1 0 -2.4 0a1.2 1.2 0 1 0 2.4 0M638.1 369a1.2 1.2 0 1 0 -2.4 0a1.2 1.2 0 1 0 2.4 0M630.7 369.3a1.2 1.2 0 1 0 -2.4 0a1.2 1.2 0 1 0 2.4 0M646.1 369.3a1.2 1.2 0 1 0 -2.4 0a1.2 1.2 0 1 0 2.4 0M639.7 370a1.2 1.2 0 1 0 -2.4 0a1.2 1.2 0 1 0 2.4 0M635.1 370.2a1.2 1.2 0 1 0 -2.4 0a1.2 1.2 0 1 0 2.4 0M629 370.3a1.2 1.2 0 1 0 -2.4 0a1.2 1.2 0 1 0 2.4 0M633.3 371a1.2 1.2 0 1 0 -2.4 0a1.2 1.2 0 1 0 2.4 0M636.8 371.1a1.2 1.2 0 1 0 -2.4 0a1.2 1.2 0 1 0 2.4 0M631.4 371.3a1.2 1.2 0 1 0 -2.4 0a1.2 1.2 0 1 0 2.4 0M641.1 371.3a1.2 1.2 0 1 0 -2.4 0a1.2 1.2 0 1 0 2.4 0M627.4 371.4a1.2 1.2 0 1 0 -2.4 0a1.2 1.2 0 1 0 2.4 0M638.5 372a1.2 1.2 0 1 0 -2.4 0a1.2 1.2 0 1 0 2.4 0M642.8 372.1a1.2 1.2 0 1 0 -2.4 0a1.2 1.2 0 1 0 2.4 0M635.1 372.4a1.2 1.2 0 1 0 -2.4 0a1.2 1.2 0 1 0 2.4 0M629.9 372.5a1.2 1.2 0 1 0 -2.4 0a1.2 1.2 0 1 0 2.4 0M626.1 372.8a1.2 1.2 0 1 0 -2.4 0a1.2 1.2 0 1 0 2.4 0M632.8 372.8a1.2 1.2 0 1 0 -2.4 0a1.2 1.2 0 1 0 2.4 0M636.9 373.1a1.2 1.2 0 1 0 -2.4 0a1.2 1.2 0 1 0 2.4 0M639.7 373.5a1.2 1.2 0 1 0 -2.4 0a1.2 1.2 0 1 0 2.4 0M628.3 373.5a1.2 1.2 0 1 0 -2.4 0a1.2 1.2 0 1 0 2.4 0M641.6 373.7a1.2 1.2 0 1 0 -2.4 0a1.2 1.2 0 1 0 2.4 0M643.7 373.8a1.2 1.2 0 1 0 -2.4 0a1.2 1.2 0 1 0 2.4 0M645.7 373.8a1.2 1.2 0 1 0 -2.4 0a1.2 1.2 0 1 0 2.4 0M624.5 373.8a1.2 1.2 0 1 0 -2.4 0a1.2 1.2 0 1 0 2.4 0M635.1 374.6a1.2 1.2 0 1 0 -2.4 0a1.2 1.2 0 1 0 2.4 0M633.2 374.9a1.2 1.2 0 1 0 -2.4 0a1.2 1.2 0 1 0 2.4 0M636.9 375.2a1.2 1.2 0 1 0 -2.4 0a1.2 1.2 0 1 0 2.4 0M631.3 375.2a1.2 1.2 0 1 0 -2.4 0a1.2 1.2 0 1 0 2.4 0M629.4 375.2a1.2 1.2 0 1 0 -2.4 0a1.2 1.2 0 1 0 2.4 0M627.4 375.2a1.2 1.2 0 1 0 -2.4 0a1.2 1.2 0 1 0 2.4 0M638.8 375.3a1.2 1.2 0 1 0 -2.4 0a1.2 1.2 0 1 0 2.4 0M640.7 375.6a1.2 1.2 0 1 0 -2.4 0a1.2 1.2 0 1 0 2.4 0M642.6 375.9a1.2 1.2 0 1 0 -2.4 0a1.2 1.2 0 1 0 2.4 0M644.6 375.9a1.2 1.2 0 1 0 -2.4 0a1.2 1.2 0 1 0 2.4 0M625.6 375.9a1.2 1.2 0 1 0 -2.4 0a1.2 1.2 0 1 0 2.4 0M646.5 376a1.2 1.2 0 1 0 -2.4 0a1.2 1.2 0 1 0 2.4 0M635.1 376.6a1.2 1.2 0 1 0 -2.4 0a1.2 1.2 0 1 0 2.4 0M633.2 377a1.2 1.2 0 1 0 -2.4 0a1.2 1.2 0 1 0 2.4 0M637.5 377a1.2 1.2 0 1 0 -2.4 0a1.2 1.2 0 1 0 2.4 0M631.3 377.3a1.2 1.2 0 1 0 -2.4 0a1.2 1.2 0 1 0 2.4 0M639.4 377.3a1.2 1.2 0 1 0 -2.4 0a1.2 1.2 0 1 0 2.4 0M629.4 377.4a1.2 1.2 0 1 0 -2.4 0a1.2 1.2 0 1 0 2.4 0M641.3 377.7a1.2 1.2 0 1 0 -2.4 0a1.2 1.2 0 1 0 2.4 0M627.5 377.7a1.2 1.2 0 1 0 -2.4 0a1.2 1.2 0 1 0 2.4 0M643.2 377.7a1.2 1.2 0 1 0 -2.4 0a1.2 1.2 0 1 0 2.4 0M645.2 377.7a1.2 1.2 0 1 0 -2.4 0a1.2 1.2 0 1 0 2.4 0M625.6 377.9a1.2 1.2 0 1 0 -2.4 0a1.2 1.2 0 1 0 2.4 0M623.7 378a1.2 1.2 0 1 0 -2.4 0a1.2 1.2 0 1 0 2.4 0M647 378a1.2 1.2 0 1 0 -2.4 0a1.2 1.2 0 1 0 2.4 0M635.1 379.1a1.2 1.2 0 1 0 -2.4 0a1.2 1.2 0 1 0 2.4 0M633.2 379.4a1.2 1.2 0 1 0 -2.4 0a1.2 1.2 0 1 0 2.4 0M636.9 379.6a1.2 1.2 0 1 0 -2.4 0a1.2 1.2 0 1 0 2.4 0M638.9 379.6a1.2 1.2 0 1 0 -2.4 0a1.2 1.2 0 1 0 2.4 0M631.3 379.7a1.2 1.2 0 1 0 -2.4 0a1.2 1.2 0 1 0 2.4 0M640.8 379.8a1.2 1.2 0 1 0 -2.4 0a1.2 1.2 0 1 0 2.4 0M629.4 380.1a1.2 1.2 0 1 0 -2.4 0a1.2 1.2 0 1 0 2.4 0M642.6 380.4a1.2 1.2 0 1 0 -2.4 0a1.2 1.2 0 1 0 2.4 0M627.5 380.4a1.2 1.2 0 1 0 -2.4 0a1.2 1.2 0 1 0 2.4 0M644.5 380.4a1.2 1.2 0 1 0 -2.4 0a1.2 1.2 0 1 0 2.4 0M625.6 380.4a1.2 1.2 0 1 0 -2.4 0a1.2 1.2 0 1 0 2.4 0M646.4 380.8a1.2 1.2 0 1 0 -2.4 0a1.2 1.2 0 1 0 2.4 0M635.1 381.1a1.2 1.2 0 1 0 -2.4 0a1.2 1.2 0 1 0 2.4 0M632.6 381.2a1.2 1.2 0 1 0 -2.4 0a1.2 1.2 0 1 0 2.4 0M623.9 381.2a1.2 1.2 0 1 0 -2.4 0a1.2 1.2 0 1 0 2.4 0M637.2 381.5a1.2 1.2 0 1 0 -2.4 0a1.2 1.2 0 1 0 2.4 0M639.2 381.5a1.2 1.2 0 1 0 -2.4 0a1.2 1.2 0 1 0 2.4 0M631 382.2a1.2 1.2 0 1 0 -2.4 0a1.2 1.2 0 1 0 2.4 0M640.8 382.5a1.2 1.2 0 1 0 -2.4 0a1.2 1.2 0 1 0 2.4 0M634.2 382.8a1.2 1.2 0 1 0 -2.4 0a1.2 1.2 0 1 0 2.4 0M629.2 382.9a1.2 1.2 0 1 0 -2.4 0a1.2 1.2 0 1 0 2.4 0M642.7 383a1.2 1.2 0 1 0 -2.4 0a1.2 1.2 0 1 0 2.4 0M636.1 383.3a1.2 1.2 0 1 0 -2.4 0a1.2 1.2 0 1 0 2.4 0M632.5 383.5a1.2 1.2 0 1 0 -2.4 0a1.2 1.2 0 1 0 2.4 0M638 383.6a1.2 1.2 0 1 0 -2.4 0a1.2 1.2 0 1 0 2.4 0M627.6 384a1.2 1.2 0 1 0 -2.4 0a1.2 1.2 0 1 0 2.4 0M644.3 384a1.2 1.2 0 1 0 -2.4 0a1.2 1.2 0 1 0 2.4 0M630.7 384.2a1.2 1.2 0 1 0 -2.4 0a1.2 1.2 0 1 0 2.4 0M639.8 384.3a1.2 1.2 0 1 0 -2.4 0a1.2 1.2 0 1 0 2.4 0M634.9 384.8a1.2 1.2 0 1 0 -2.4 0a1.2 1.2 0 1 0 2.4 0M641.5 385a1.2 1.2 0 1 0 -2.4 0a1.2 1.2 0 1 0 2.4 0M636.7 385.3a1.2 1.2 0 1 0 -2.4 0a1.2 1.2 0 1 0 2.4 0M633.2 385.7a1.2 1.2 0 1 0 -2.4 0a1.2 1.2 0 1 0 2.4 0M638.5 386a1.2 1.2 0 1 0 -2.4 0a1.2 1.2 0 1 0 2.4 0M631.3 386.1a1.2 1.2 0 1 0 -2.4 0a1.2 1.2 0 1 0 2.4 0M629.4 386.1a1.2 1.2 0 1 0 -2.4 0a1.2 1.2 0 1 0 2.4 0M627.5 386.4a1.2 1.2 0 1 0 -2.4 0a1.2 1.2 0 1 0 2.4 0M642.9 386.4a1.2 1.2 0 1 0 -2.4 0a1.2 1.2 0 1 0 2.4 0M635.1 386.8a1.2 1.2 0 1 0 -2.4 0a1.2 1.2 0 1 0 2.4 0M640.3 386.8a1.2 1.2 0 1 0 -2.4 0a1.2 1.2 0 1 0 2.4 0M625.7 387.1a1.2 1.2 0 1 0 -2.4 0a1.2 1.2 0 1 0 2.4 0M644.7 387.2a1.2 1.2 0 1 0 -2.4 0a1.2 1.2 0 1 0 2.4 0M636.9 387.5a1.2 1.2 0 1 0 -2.4 0a1.2 1.2 0 1 0 2.4 0M633.7 388.1a1.2 1.2 0 1 0 -2.4 0a1.2 1.2 0 1 0 2.4 0M631.8 388.2a1.2 1.2 0 1 0 -2.4 0a1.2 1.2 0 1 0 2.4 0M638.5 388.5a1.2 1.2 0 1 0 -2.4 0a1.2 1.2 0 1 0 2.4 0M629.9 388.5a1.2 1.2 0 1 0 -2.4 0a1.2 1.2 0 1 0 2.4 0M641.1 388.5a1.2 1.2 0 1 0 -2.4 0a1.2 1.2 0 1 0 2.4 0M628 388.6a1.2 1.2 0 1 0 -2.4 0a1.2 1.2 0 1 0 2.4 0M635.3 389.1a1.2 1.2 0 1 0 -2.4 0a1.2 1.2 0 1 0 2.4 0M642.9 389.2a1.2 1.2 0 1 0 -2.4 0a1.2 1.2 0 1 0 2.4 0M626.1 389.2a1.2 1.2 0 1 0 -2.4 0a1.2 1.2 0 1 0 2.4 0M644.8 389.3a1.2 1.2 0 1 0 -2.4 0a1.2 1.2 0 1 0 2.4 0M624.2 389.3a1.2 1.2 0 1 0 -2.4 0a1.2 1.2 0 1 0 2.4 0M646.7 389.5a1.2 1.2 0 1 0 -2.4 0a1.2 1.2 0 1 0 2.4 0M622.3 389.6a1.2 1.2 0 1 0 -2.4 0a1.2 1.2 0 1 0 2.4 0M648.6 389.6a1.2 1.2 0 1 0 -2.4 0a1.2 1.2 0 1 0 2.4 0M633.6 390a1.2 1.2 0 1 0 -2.4 0a1.2 1.2 0 1 0 2.4 0M636.8 390.3a1.2 1.2 0 1 0 -2.4 0a1.2 1.2 0 1 0 2.4 0M635.1 391.2a1.2 1.2 0 1 0 -2.4 0a1.2 1.2 0 1 0 2.4 0M632.6 391.6a1.2 1.2 0 1 0 -2.4 0a1.2 1.2 0 1 0 2.4 0M638.2 391.6a1.2 1.2 0 1 0 -2.4 0a1.2 1.2 0 1 0 2.4 0M630.7 392a1.2 1.2 0 1 0 -2.4 0a1.2 1.2 0 1 0 2.4 0M640.1 392a1.2 1.2 0 1 0 -2.4 0a1.2 1.2 0 1 0 2.4 0M636.4 392.7a1.2 1.2 0 1 0 -2.4 0a1.2 1.2 0 1 0 2.4 0M634.2 392.9a1.2 1.2 0 1 0 -2.4 0a1.2 1.2 0 1 0 2.4 0M629.1 393a1.2 1.2 0 1 0 -2.4 0a1.2 1.2 0 1 0 2.4 0M641.7 393.1a1.2 1.2 0 1 0 -2.4 0a1.2 1.2 0 1 0 2.4 0M627.2 393.3a1.2 1.2 0 1 0 -2.4 0a1.2 1.2 0 1 0 2.4 0M643.6 393.4a1.2 1.2 0 1 0 -2.4 0a1.2 1.2 0 1 0 2.4 0M632.5 393.7a1.2 1.2 0 1 0 -2.4 0a1.2 1.2 0 1 0 2.4 0M635.5 394.4a1.2 1.2 0 1 0 -2.4 0a1.2 1.2 0 1 0 2.4 0M637.4 394.4a1.2 1.2 0 1 0 -2.4 0a1.2 1.2 0 1 0 2.4 0M639.3 394.4a1.2 1.2 0 1 0 -2.4 0a1.2 1.2 0 1 0 2.4 0M630.9 394.8a1.2 1.2 0 1 0 -2.4 0a1.2 1.2 0 1 0 2.4 0M628.5 394.9a1.2 1.2 0 1 0 -2.4 0a1.2 1.2 0 1 0 2.4 0M641.1 395.1a1.2 1.2 0 1 0 -2.4 0a1.2 1.2 0 1 0 2.4 0M633.7 395.2a1.2 1.2 0 1 0 -2.4 0a1.2 1.2 0 1 0 2.4 0M643 395.4a1.2 1.2 0 1 0 -2.4 0a1.2 1.2 0 1 0 2.4 0M635.1 396.5a1.2 1.2 0 1 0 -2.4 0a1.2 1.2 0 1 0 2.4 0M637.1 396.6a1.2 1.2 0 1 0 -2.4 0a1.2 1.2 0 1 0 2.4 0M633.6 397.6a1.2 1.2 0 1 0 -2.4 0a1.2 1.2 0 1 0 2.4 0M635.9 398.3a1.2 1.2 0 1 0 -2.4 0a1.2 1.2 0 1 0 2.4 0M635.1 400.4a1.2 1.2 0 1 0 -2.4 0a1.2 1.2 0 1 0 2.4 0M633.8 401.8a1.2 1.2 0 1 0 -2.4 0a1.2 1.2 0 1 0 2.4 0M635.6 402.6a1.2 1.2 0 1 0 -2.4 0a1.2 1.2 0 1 0 2.4 0M637.3 403.5a1.2 1.2 0 1 0 -2.4 0a1.2 1.2 0 1 0 2.4 0M632.9 403.5a1.2 1.2 0 1 0 -2.4 0a1.2 1.2 0 1 0 2.4 0M634.7 404.3a1.2 1.2 0 1 0 -2.4 0a1.2 1.2 0 1 0 2.4 0M635.1 407a1.2 1.2 0 1 0 -2.4 0a1.2 1.2 0 1 0 2.4 0M634.3 408.8a1.2 1.2 0 1 0 -2.4 0a1.2 1.2 0 1 0 2.4 0M636 409.5a1.2 1.2 0 1 0 -2.4 0a1.2 1.2 0 1 0 2.4 0" fill="#f4f4f4" stroke="#a8a8a8" stroke-width="0.6"/>
<circle cx="631.5" cy="328.4" r="1.3" fill="#f3f3f3" stroke="#bdbdbd" stroke-width="0.6"/>
<path d="M634.8 429.4a1.2 1.2 0 1 0 -2.4 0a1.2 1.2 0 1 0 2.4 0M633 430.1a1.2 1.2 0 1 0 -2.4 0a1.2 1.2 0 1 0 2.4 0M636.4 430.5a1.2 1.2 0 1 0 -2.4 0a1.2 1.2 0 1 0 2.4 0M634.8 433.3a1.2 1.2 0 1 0 -2.4 0a1.2 1.2 0 1 0 2.4 0M632.9 433.6a1.2 1.2 0 1 0 -2.4 0a1.2 1.2 0 1 0 2.4 0M636.7 433.7a1.2 1.2 0 1 0 -2.4 0a1.2 1.2 0 1 0 2.4 0M634.8 435.4a1.2 1.2 0 1 0 -2.4 0a1.2 1.2 0 1 0 2.4 0M634.2 437.2a1.2 1.2 0 1 0 -2.4 0a1.2 1.2 0 1 0 2.4 0M634.8 441.1a1.2 1.2 0 1 0 -2.4 0a1.2 1.2 0 1 0 2.4 0M633 441.6a1.2 1.2 0 1 0 -2.4 0a1.2 1.2 0 1 0 2.4 0M634.8 444.2a1.2 1.2 0 1 0 -2.4 0a1.2 1.2 0 1 0 2.4 0M633 444.9a1.2 1.2 0 1 0 -2.4 0a1.2 1.2 0 1 0 2.4 0M636.3 445.5a1.2 1.2 0 1 0 -2.4 0a1.2 1.2 0 1 0 2.4 0M638.2 445.5a1.2 1.2 0 1 0 -2.4 0a1.2 1.2 0 1 0 2.4 0M631.4 445.9a1.2 1.2 0 1 0 -2.4 0a1.2 1.2 0 1 0 2.4 0M640 446a1.2 1.2 0 1 0 -2.4 0a1.2 1.2 0 1 0 2.4 0M634.5 446.3a1.2 1.2 0 1 0 -2.4 0a1.2 1.2 0 1 0 2.4 0M629.6 446.6a1.2 1.2 0 1 0 -2.4 0a1.2 1.2 0 1 0 2.4 0M641.7 447a1.2 1.2 0 1 0 -2.4 0a1.2 1.2 0 1 0 2.4 0M627.7 447a1.2 1.2 0 1 0 -2.4 0a1.2 1.2 0 1 0 2.4 0M635.4 448a1.2 1.2 0 1 0 -2.4 0a1.2 1.2 0 1 0 2.4 0M633.5 448.3a1.2 1.2 0 1 0 -2.4 0a1.2 1.2 0 1 0 2.4 0M637.3 448.3a1.2 1.2 0 1 0 -2.4 0a1.2 1.2 0 1 0 2.4 0M631.6 448.4a1.2 1.2 0 1 0 -2.4 0a1.2 1.2 0 1 0 2.4 0M639.3 448.4a1.2 1.2 0 1 0 -2.4 0a1.2 1.2 0 1 0 2.4 0M643 448.4a1.2 1.2 0 1 0 -2.4 0a1.2 1.2 0 1 0 2.4 0M630 449.4a1.2 1.2 0 1 0 -2.4 0a1.2 1.2 0 1 0 2.4 0M640.6 449.8a1.2 1.2 0 1 0 -2.4 0a1.2 1.2 0 1 0 2.4 0M634.8 450a1.2 1.2 0 1 0 -2.4 0a1.2 1.2 0 1 0 2.4 0M632.7 450a1.2 1.2 0 1 0 -2.4 0a1.2 1.2 0 1 0 2.4 0M636.6 450.5a1.2 1.2 0 1 0 -2.4 0a1.2 1.2 0 1 0 2.4 0M638.5 450.8a1.2 1.2 0 1 0 -2.4 0a1.2 1.2 0 1 0 2.4 0M628.7 450.8a1.2 1.2 0 1 0 -2.4 0a1.2 1.2 0 1 0 2.4 0M642.2 450.8a1.2 1.2 0 1 0 -2.4 0a1.2 1.2 0 1 0 2.4 0M631.1 451.1a1.2 1.2 0 1 0 -2.4 0a1.2 1.2 0 1 0 2.4 0M626.8 451.3a1.2 1.2 0 1 0 -2.4 0a1.2 1.2 0 1 0 2.4 0M644 451.5a1.2 1.2 0 1 0 -2.4 0a1.2 1.2 0 1 0 2.4 0M634.8 452.2a1.2 1.2 0 1 0 -2.4 0a1.2 1.2 0 1 0 2.4 0M633 452.9a1.2 1.2 0 1 0 -2.4 0a1.2 1.2 0 1 0 2.4 0M636.5 453.2a1.2 1.2 0 1 0 -2.4 0a1.2 1.2 0 1 0 2.4 0M638.4 453.2a1.2 1.2 0 1 0 -2.4 0a1.2 1.2 0 1 0 2.4 0M631.1 453.2a1.2 1.2 0 1 0 -2.4 0a1.2 1.2 0 1 0 2.4 0M640.3 453.2a1.2 1.2 0 1 0 -2.4 0a1.2 1.2 0 1 0 2.4 0M629.2 453.5a1.2 1.2 0 1 0 -2.4 0a1.2 1.2 0 1 0 2.4 0M642.2 453.5a1.2 1.2 0 1 0 -2.4 0a1.2 1.2 0 1 0 2.4 0M627.3 453.9a1.2 1.2 0 1 0 -2.4 0a1.2 1.2 0 1 0 2.4 0M644.1 453.9a1.2 1.2 0 1 0 -2.4 0a1.2 1.2 0 1 0 2.4 0M625.4 454a1.2 1.2 0 1 0 -2.4 0a1.2 1.2 0 1 0 2.4 0M646 454a1.2 1.2 0 1 0 -2.4 0a1.2 1.2 0 1 0 2.4 0M634.8 454.6a1.2 1.2 0 1 0 -2.4 0a1.2 1.2 0 1 0 2.4 0M633 455.3a1.2 1.2 0 1 0 -2.4 0a1.2 1.2 0 1 0 2.4 0M636.6 455.3a1.2 1.2 0 1 0 -2.4 0a1.2 1.2 0 1 0 2.4 0M638.5 455.4a1.2 1.2 0 1 0 -2.4 0a1.2 1.2 0 1 0 2.4 0M631.1 455.7a1.2 1.2 0 1 0 -2.4 0a1.2 1.2 0 1 0 2.4 0M640.4 455.7a1.2 1.2 0 1 0 -2.4 0a1.2 1.2 0 1 0 2.4 0M629.2 456a1.2 1.2 0 1 0 -2.4 0a1.2 1.2 0 1 0 2.4 0M642.3 456.1a1.2 1.2 0 1 0 -2.4 0a1.2 1.2 0 1 0 2.4 0M627.3 456.1a1.2 1.2 0 1 0 -2.4 0a1.2 1.2 0 1 0 2.4 0M634.8 456.7a1.2 1.2 0 1 0 -2.4 0a1.2 1.2 0 1 0 2.4 0M644.1 456.7a1.2 1.2 0 1 0 -2.4 0a1.2 1.2 0 1 0 2.4 0M625.5 456.8a1.2 1.2 0 1 0 -2.4 0a1.2 1.2 0 1 0 2.4 0M623.6 456.8a1.2 1.2 0 1 0 -2.4 0a1.2 1.2 0 1 0 2.4 0M646 456.8a1.2 1.2 0 1 0 -2.4 0a1.2 1.2 0 1 0 2.4 0M633 457.4a1.2 1.2 0 1 0 -2.4 0a1.2 1.2 0 1 0 2.4 0M636.6 457.4a1.2 1.2 0 1 0 -2.4 0a1.2 1.2 0 1 0 2.4 0M638.5 457.5a1.2 1.2 0 1 0 -2.4 0a1.2 1.2 0 1 0 2.4 0M631.2 458.1a1.2 1.2 0 1 0 -2.4 0a1.2 1.2 0 1 0 2.4 0M640.3 458.2a1.2 1.2 0 1 0 -2.4 0a1.2 1.2 0 1 0 2.4 0M634.8 459.2a1.2 1.2 0 1 0 -2.4 0a1.2 1.2 0 1 0 2.4 0M633 459.9a1.2 1.2 0 1 0 -2.4 0a1.2 1.2 0 1 0 2.4 0M636.6 459.9a1.2 1.2 0 1 0 -2.4 0a1.2 1.2 0 1 0 2.4 0M631.2 460.6a1.2 1.2 0 1 0 -2.4 0a1.2 1.2 0 1 0 2.4 0M638.4 460.6a1.2 1.2 0 1 0 -2.4 0a1.2 1.2 0 1 0 2.4 0M640.3 460.9a1.2 1.2 0 1 0 -2.4 0a1.2 1.2 0 1 0 2.4 0M634.8 461.3a1.2 1.2 0 1 0 -2.4 0a1.2 1.2 0 1 0 2.4 0M629.4 461.3a1.2 1.2 0 1 0 -2.4 0a1.2 1.2 0 1 0 2.4 0M627.5 461.3a1.2 1.2 0 1 0 -2.4 0a1.2 1.2 0 1 0 2.4 0M642.1 461.3a1.2 1.2 0 1 0 -2.4 0a1.2 1.2 0 1 0 2.4 0M625.6 461.3a1.2 1.2 0 1 0 -2.4 0a1.2 1.2 0 1 0 2.4 0M644 461.4a1.2 1.2 0 1 0 -2.4 0a1.2 1.2 0 1 0 2.4 0M623.7 461.7a1.2 1.2 0 1 0 -2.4 0a1.2 1.2 0 1 0 2.4 0M646 461.7a1.2 1.2 0 1 0 -2.4 0a1.2 1.2 0 1 0 2.4 0M621.8 461.7a1.2 1.2 0 1 0 -2.4 0a1.2 1.2 0 1 0 2.4 0M633 462a1.2 1.2 0 1 0 -2.4 0a1.2 1.2 0 1 0 2.4 0M636.6 462a1.2 1.2 0 1 0 -2.4 0a1.2 1.2 0 1 0 2.4 0M647.8 462a1.2 1.2 0 1 0 -2.4 0a1.2 1.2 0 1 0 2.4 0M638.4 462.6a1.2 1.2 0 1 0 -2.4 0a1.2 1.2 0 1 0 2.4 0M631.2 462.7a1.2 1.2 0 1 0 -2.4 0a1.2 1.2 0 1 0 2.4 0M640.3 463a1.2 1.2 0 1 0 -2.4 0a1.2 1.2 0 1 0 2.4 0M628.7 463a1.2 1.2 0 1 0 -2.4 0a1.2 1.2 0 1 0 2.4 0M634.8 463.4a1.2 1.2 0 1 0 -2.4 0a1.2 1.2 0 1 0 2.4 0M642.2 463.4a1.2 1.2 0 1 0 -2.4 0a1.2 1.2 0 1 0 2.4 0M626.8 463.4a1.2 1.2 0 1 0 -2.4 0a1.2 1.2 0 1 0 2.4 0M644.1 463.5a1.2 1.2 0 1 0 -2.4 0a1.2 1.2 0 1 0 2.4 0M624.9 463.5a1.2 1.2 0 1 0 -2.4 0a1.2 1.2 0 1 0 2.4 0M633.1 464.2a1.2 1.2 0 1 0 -2.4 0a1.2 1.2 0 1 0 2.4 0M636.4 464.5a1.2 1.2 0 1 0 -2.4 0a1.2 1.2 0 1 0 2.4 0M638.9 464.5a1.2 1.2 0 1 0 -2.4 0a1.2 1.2 0 1 0 2.4 0M630.6 464.5a1.2 1.2 0 1 0 -2.4 0a1.2 1.2 0 1 0 2.4 0M645.5 464.7a1.2 1.2 0 1 0 -2.4 0a1.2 1.2 0 1 0 2.4 0M623.5 464.8a1.2 1.2 0 1 0 -2.4 0a1.2 1.2 0 1 0 2.4 0M640.7 465.1a1.2 1.2 0 1 0 -2.4 0a1.2 1.2 0 1 0 2.4 0M628.9 465.2a1.2 1.2 0 1 0 -2.4 0a1.2 1.2 0 1 0 2.4 0M634.8 465.4a1.2 1.2 0 1 0 -2.4 0a1.2 1.2 0 1 0 2.4 0M642.6 465.5a1.2 1.2 0 1 0 -2.4 0a1.2 1.2 0 1 0 2.4 0M627 465.5a1.2 1.2 0 1 0 -2.4 0a1.2 1.2 0 1 0 2.4 0M647.3 465.5a1.2 1.2 0 1 0 -2.4 0a1.2 1.2 0 1 0 2.4 0M621.7 465.5a1.2 1.2 0 1 0 -2.4 0a1.2 1.2 0 1 0 2.4 0M632.1 465.9a1.2 1.2 0 1 0 -2.4 0a1.2 1.2 0 1 0 2.4 0M637.6 466a1.2 1.2 0 1 0 -2.4 0a1.2 1.2 0 1 0 2.4 0M625.2 466.2a1.2 1.2 0 1 0 -2.4 0a1.2 1.2 0 1 0 2.4 0M649.1 466.2a1.2 1.2 0 1 0 -2.4 0a1.2 1.2 0 1 0 2.4 0M630.3 466.5a1.2 1.2 0 1 0 -2.4 0a1.2 1.2 0 1 0 2.4 0M644.2 466.5a1.2 1.2 0 1 0 -2.4 0a1.2 1.2 0 1 0 2.4 0M639.4 466.7a1.2 1.2 0 1 0 -2.4 0a1.2 1.2 0 1 0 2.4 0M623.4 466.9a1.2 1.2 0 1 0 -2.4 0a1.2 1.2 0 1 0 2.4 0M620.3 466.9a1.2 1.2 0 1 0 -2.4 0a1.2 1.2 0 1 0 2.4 0M635.9 467a1.2 1.2 0 1 0 -2.4 0a1.2 1.2 0 1 0 2.4 0M633.8 467.1a1.2 1.2 0 1 0 -2.4 0a1.2 1.2 0 1 0 2.4 0M628.5 467.2a1.2 1.2 0 1 0 -2.4 0a1.2 1.2 0 1 0 2.4 0M641.2 467.3a1.2 1.2 0 1 0 -2.4 0a1.2 1.2 0 1 0 2.4 0M645.9 467.3a1.2 1.2 0 1 0 -2.4 0a1.2 1.2 0 1 0 2.4 0M626.7 467.6a1.2 1.2 0 1 0 -2.4 0a1.2 1.2 0 1 0 2.4 0M650.4 467.6a1.2 1.2 0 1 0 -2.4 0a1.2 1.2 0 1 0 2.4 0M618.5 467.6a1.2 1.2 0 1 0 -2.4 0a1.2 1.2 0 1 0 2.4 0M632.1 467.9a1.2 1.2 0 1 0 -2.4 0a1.2 1.2 0 1 0 2.4 0M637.6 468a1.2 1.2 0 1 0 -2.4 0a1.2 1.2 0 1 0 2.4 0M647.7 468a1.2 1.2 0 1 0 -2.4 0a1.2 1.2 0 1 0 2.4 0M642.9 468.2a1.2 1.2 0 1 0 -2.4 0a1.2 1.2 0 1 0 2.4 0M624.9 468.3a1.2 1.2 0 1 0 -2.4 0a1.2 1.2 0 1 0 2.4 0M622.1 468.3a1.2 1.2 0 1 0 -2.4 0a1.2 1.2 0 1 0 2.4 0M652.2 468.3a1.2 1.2 0 1 0 -2.4 0a1.2 1.2 0 1 0 2.4 0M634.8 469a1.2 1.2 0 1 0 -2.4 0a1.2 1.2 0 1 0 2.4 0M630.5 469a1.2 1.2 0 1 0 -2.4 0a1.2 1.2 0 1 0 2.4 0M638.9 469.4a1.2 1.2 0 1 0 -2.4 0a1.2 1.2 0 1 0 2.4 0M633 469.7a1.2 1.2 0 1 0 -2.4 0a1.2 1.2 0 1 0 2.4 0M636.4 470a1.2 1.2 0 1 0 -2.4 0a1.2 1.2 0 1 0 2.4 0M640.7 470a1.2 1.2 0 1 0 -2.4 0a1.2 1.2 0 1 0 2.4 0M628.9 470.1a1.2 1.2 0 1 0 -2.4 0a1.2 1.2 0 1 0 2.4 0M627 470.1a1.2 1.2 0 1 0 -2.4 0a1.2 1.2 0 1 0 2.4 0M643.4 470.1a1.2 1.2 0 1 0 -2.4 0a1.2 1.2 0 1 0 2.4 0M625.1 470.4a1.2 1.2 0 1 0 -2.4 0a1.2 1.2 0 1 0 2.4 0M645.2 470.5a1.2 1.2 0 1 0 -2.4 0a1.2 1.2 0 1 0 2.4 0M631.4 470.8a1.2 1.2 0 1 0 -2.4 0a1.2 1.2 0 1 0 2.4 0M634.8 471.2a1.2 1.2 0 1 0 -2.4 0a1.2 1.2 0 1 0 2.4 0M637 471.8a1.2 1.2 0 1 0 -2.4 0a1.2 1.2 0 1 0 2.4 0M638.9 471.8a1.2 1.2 0 1 0 -2.4 0a1.2 1.2 0 1 0 2.4 0M633.1 472.2a1.2 1.2 0 1 0 -2.4 0a1.2 1.2 0 1 0 2.4 0M630.1 472.2a1.2 1.2 0 1 0 -2.4 0a1.2 1.2 0 1 0 2.4 0M640.8 472.2a1.2 1.2 0 1 0 -2.4 0a1.2 1.2 0 1 0 2.4 0M628.3 472.5a1.2 1.2 0 1 0 -2.4 0a1.2 1.2 0 1 0 2.4 0M642.7 472.6a1.2 1.2 0 1 0 -2.4 0a1.2 1.2 0 1 0 2.4 0M626.4 472.8a1.2 1.2 0 1 0 -2.4 0a1.2 1.2 0 1 0 2.4 0M644.6 472.8a1.2 1.2 0 1 0 -2.4 0a1.2 1.2 0 1 0 2.4 0M624.4 472.9a1.2 1.2 0 1 0 -2.4 0a1.2 1.2 0 1 0 2.4 0M646.5 472.9a1.2 1.2 0 1 0 -2.4 0a1.2 1.2 0 1 0 2.4 0M622.5 472.9a1.2 1.2 0 1 0 -2.4 0a1.2 1.2 0 1 0 2.4 0M648.4 472.9a1.2 1.2 0 1 0 -2.4 0a1.2 1.2 0 1 0 2.4 0M634.8 473.3a1.2 1.2 0 1 0 -2.4 0a1.2 1.2 0 1 0 2.4 0M620.6 473.3a1.2 1.2 0 1 0 -2.4 0a1.2 1.2 0 1 0 2.4 0M650.3 473.3a1.2 1.2 0 1 0 -2.4 0a1.2 1.2 0 1 0 2.4 0M631.8 473.6a1.2 1.2 0 1 0 -2.4 0a1.2 1.2 0 1 0 2.4 0M637.8 473.6a1.2 1.2 0 1 0 -2.4 0a1.2 1.2 0 1 0 2.4 0M618.7 473.6a1.2 1.2 0 1 0 -2.4 0a1.2 1.2 0 1 0 2.4 0M639.7 473.8a1.2 1.2 0 1 0 -2.4 0a1.2 1.2 0 1 0 2.4 0M652.1 473.9a1.2 1.2 0 1 0 -2.4 0a1.2 1.2 0 1 0 2.4 0M630 474.2a1.2 1.2 0 1 0 -2.4 0a1.2 1.2 0 1 0 2.4 0M616.9 474.2a1.2 1.2 0 1 0 -2.4 0a1.2 1.2 0 1 0 2.4 0M641.6 474.3a1.2 1.2 0 1 0 -2.4 0a1.2 1.2 0 1 0 2.4 0M633.5 474.6a1.2 1.2 0 1 0 -2.4 0a1.2 1.2 0 1 0 2.4 0M635.8 474.9a1.2 1.2 0 1 0 -2.4 0a1.2 1.2 0 1 0 2.4 0M628.2 475a1.2 1.2 0 1 0 -2.4 0a1.2 1.2 0 1 0 2.4 0M643.2 475.3a1.2 1.2 0 1 0 -2.4 0a1.2 1.2 0 1 0 2.4 0M626.4 475.3a1.2 1.2 0 1 0 -2.4 0a1.2 1.2 0 1 0 2.4 0M637.6 475.6a1.2 1.2 0 1 0 -2.4 0a1.2 1.2 0 1 0 2.4 0M631.8 475.6a1.2 1.2 0 1 0 -2.4 0a1.2 1.2 0 1 0 2.4 0M645.1 475.7a1.2 1.2 0 1 0 -2.4 0a1.2 1.2 0 1 0 2.4 0M640.2 475.7a1.2 1.2 0 1 0 -2.4 0a1.2 1.2 0 1 0 2.4 0M624.6 476a1.2 1.2 0 1 0 -2.4 0a1.2 1.2 0 1 0 2.4 0M622.6 476a1.2 1.2 0 1 0 -2.4 0a1.2 1.2 0 1 0 2.4 0M647 476.1a1.2 1.2 0 1 0 -2.4 0a1.2 1.2 0 1 0 2.4 0M620.7 476.1a1.2 1.2 0 1 0 -2.4 0a1.2 1.2 0 1 0 2.4 0M634.5 476.3a1.2 1.2 0 1 0 -2.4 0a1.2 1.2 0 1 0 2.4 0M630 476.3a1.2 1.2 0 1 0 -2.4 0a1.2 1.2 0 1 0 2.4 0M648.9 476.4a1.2 1.2 0 1 0 -2.4 0a1.2 1.2 0 1 0 2.4 0M618.8 476.5a1.2 1.2 0 1 0 -2.4 0a1.2 1.2 0 1 0 2.4 0M650.8 476.7a1.2 1.2 0 1 0 -2.4 0a1.2 1.2 0 1 0 2.4 0M616.9 476.7a1.2 1.2 0 1 0 -2.4 0a1.2 1.2 0 1 0 2.4 0M652.7 476.7a1.2 1.2 0 1 0 -2.4 0a1.2 1.2 0 1 0 2.4 0M641.9 476.7a1.2 1.2 0 1 0 -2.4 0a1.2 1.2 0 1 0 2.4 0M628.2 477a1.2 1.2 0 1 0 -2.4 0a1.2 1.2 0 1 0 2.4 0M636.3 477.1a1.2 1.2 0 1 0 -2.4 0a1.2 1.2 0 1 0 2.4 0M638.8 477.1a1.2 1.2 0 1 0 -2.4 0a1.2 1.2 0 1 0 2.4 0M633 477.5a1.2 1.2 0 1 0 -2.4 0a1.2 1.2 0 1 0 2.4 0M626.5 477.7a1.2 1.2 0 1 0 -2.4 0a1.2 1.2 0 1 0 2.4 0M643.5 477.7a1.2 1.2 0 1 0 -2.4 0a1.2 1.2 0 1 0 2.4 0M631.2 478.1a1.2 1.2 0 1 0 -2.4 0a1.2 1.2 0 1 0 2.4 0M640.5 478.1a1.2 1.2 0 1 0 -2.4 0a1.2 1.2 0 1 0 2.4 0M624.6 478.2a1.2 1.2 0 1 0 -2.4 0a1.2 1.2 0 1 0 2.4 0M634.8 478.7a1.2 1.2 0 1 0 -2.4 0a1.2 1.2 0 1 0 2.4 0M637.2 478.8a1.2 1.2 0 1 0 -2.4 0a1.2 1.2 0 1 0 2.4 0M629.4 478.8a1.2 1.2 0 1 0 -2.4 0a1.2 1.2 0 1 0 2.4 0M645.1 478.8a1.2 1.2 0 1 0 -2.4 0a1.2 1.2 0 1 0 2.4 0M642.1 479.1a1.2 1.2 0 1 0 -2.4 0a1.2 1.2 0 1 0 2.4 0M622.9 479.1a1.2 1.2 0 1 0 -2.4 0a1.2 1.2 0 1 0 2.4 0M647 479.1a1.2 1.2 0 1 0 -2.4 0a1.2 1.2 0 1 0 2.4 0M633.2 479.8a1.2 1.2 0 1 0 -2.4 0a1.2 1.2 0 1 0 2.4 0M638.8 479.8a1.2 1.2 0 1 0 -2.4 0a1.2 1.2 0 1 0 2.4 0M627.8 479.9a1.2 1.2 0 1 0 -2.4 0a1.2 1.2 0 1 0 2.4 0M625.9 479.9a1.2 1.2 0 1 0 -2.4 0a1.2 1.2 0 1 0 2.4 0M631.4 480.2a1.2 1.2 0 1 0 -2.4 0a1.2 1.2 0 1 0 2.4 0M635.6 480.4a1.2 1.2 0 1 0 -2.4 0a1.2 1.2 0 1 0 2.4 0M640.6 480.5a1.2 1.2 0 1 0 -2.4 0a1.2 1.2 0 1 0 2.4 0M643.4 480.5a1.2 1.2 0 1 0 -2.4 0a1.2 1.2 0 1 0 2.4 0M629.6 480.9a1.2 1.2 0 1 0 -2.4 0a1.2 1.2 0 1 0 2.4 0M637.4 481.2a1.2 1.2 0 1 0 -2.4 0a1.2 1.2 0 1 0 2.4 0M624.5 481.3a1.2 1.2 0 1 0 -2.4 0a1.2 1.2 0 1 0 2.4 0M645.1 481.3a1.2 1.2 0 1 0 -2.4 0a1.2 1.2 0 1 0 2.4 0M622.6 481.5a1.2 1.2 0 1 0 -2.4 0a1.2 1.2 0 1 0 2.4 0M634.1 481.6a1.2 1.2 0 1 0 -2.4 0a1.2 1.2 0 1 0 2.4 0M627 481.6a1.2 1.2 0 1 0 -2.4 0a1.2 1.2 0 1 0 2.4 0M632.2 481.9a1.2 1.2 0 1 0 -2.4 0a1.2 1.2 0 1 0 2.4 0M639.2 482a1.2 1.2 0 1 0 -2.4 0a1.2 1.2 0 1 0 2.4 0M641.8 482a1.2 1.2 0 1 0 -2.4 0a1.2 1.2 0 1 0 2.4 0M646.8 482.3a1.2 1.2 0 1 0 -2.4 0a1.2 1.2 0 1 0 2.4 0M635.8 482.6a1.2 1.2 0 1 0 -2.4 0a1.2 1.2 0 1 0 2.4 0M628.7 482.6a1.2 1.2 0 1 0 -2.4 0a1.2 1.2 0 1 0 2.4 0M630.6 483a1.2 1.2 0 1 0 -2.4 0a1.2 1.2 0 1 0 2.4 0M637.5 483.3a1.2 1.2 0 1 0 -2.4 0a1.2 1.2 0 1 0 2.4 0M634.2 483.7a1.2 1.2 0 1 0 -2.4 0a1.2 1.2 0 1 0 2.4 0M632.3 484a1.2 1.2 0 1 0 -2.4 0a1.2 1.2 0 1 0 2.4 0M639.3 484.1a1.2 1.2 0 1 0 -2.4 0a1.2 1.2 0 1 0 2.4 0M641.2 484.1a1.2 1.2 0 1 0 -2.4 0a1.2 1.2 0 1 0 2.4 0M627.5 484.2a1.2 1.2 0 1 0 -2.4 0a1.2 1.2 0 1 0 2.4 0M635.8 484.7a1.2 1.2 0 1 0 -2.4 0a1.2 1.2 0 1 0 2.4 0M629.8 484.7a1.2 1.2 0 1 0 -2.4 0a1.2 1.2 0 1 0 2.4 0M643 484.8a1.2 1.2 0 1 0 -2.4 0a1.2 1.2 0 1 0 2.4 0M625.8 485.1a1.2 1.2 0 1 0 -2.4 0a1.2 1.2 0 1 0 2.4 0M644.9 485.1a1.2 1.2 0 1 0 -2.4 0a1.2 1.2 0 1 0 2.4 0M637.6 485.4a1.2 1.2 0 1 0 -2.4 0a1.2 1.2 0 1 0 2.4 0M623.9 485.4a1.2 1.2 0 1 0 -2.4 0a1.2 1.2 0 1 0 2.4 0M646.8 485.4a1.2 1.2 0 1 0 -2.4 0a1.2 1.2 0 1 0 2.4 0M622 485.4a1.2 1.2 0 1 0 -2.4 0a1.2 1.2 0 1 0 2.4 0M634.2 485.7a1.2 1.2 0 1 0 -2.4 0a1.2 1.2 0 1 0 2.4 0M631.6 485.8a1.2 1.2 0 1 0 -2.4 0a1.2 1.2 0 1 0 2.4 0M640.1 485.8a1.2 1.2 0 1 0 -2.4 0a1.2 1.2 0 1 0 2.4 0M648.7 485.8a1.2 1.2 0 1 0 -2.4 0a1.2 1.2 0 1 0 2.4 0M620.1 485.8a1.2 1.2 0 1 0 -2.4 0a1.2 1.2 0 1 0 2.4 0M650.6 485.8a1.2 1.2 0 1 0 -2.4 0a1.2 1.2 0 1 0 2.4 0M628.5 486.1a1.2 1.2 0 1 0 -2.4 0a1.2 1.2 0 1 0 2.4 0M618.2 486.1a1.2 1.2 0 1 0 -2.4 0a1.2 1.2 0 1 0 2.4 0M652.5 486.2a1.2 1.2 0 1 0 -2.4 0a1.2 1.2 0 1 0 2.4 0M616.3 486.2a1.2 1.2 0 1 0 -2.4 0a1.2 1.2 0 1 0 2.4 0M641.9 486.4a1.2 1.2 0 1 0 -2.4 0a1.2 1.2 0 1 0 2.4 0M654.4 486.5a1.2 1.2 0 1 0 -2.4 0a1.2 1.2 0 1 0 2.4 0M614.4 486.6a1.2 1.2 0 1 0 -2.4 0a1.2 1.2 0 1 0 2.4 0M635.4 487.2a1.2 1.2 0 1 0 -2.4 0a1.2 1.2 0 1 0 2.4 0M633 487.2a1.2 1.2 0 1 0 -2.4 0a1.2 1.2 0 1 0 2.4 0M637.3 487.5a1.2 1.2 0 1 0 -2.4 0a1.2 1.2 0 1 0 2.4 0M630.8 487.5a1.2 1.2 0 1 0 -2.4 0a1.2 1.2 0 1 0 2.4 0M639.2 487.5a1.2 1.2 0 1 0 -2.4 0a1.2 1.2 0 1 0 2.4 0M627.3 487.6a1.2 1.2 0 1 0 -2.4 0a1.2 1.2 0 1 0 2.4 0M643.2 487.9a1.2 1.2 0 1 0 -2.4 0a1.2 1.2 0 1 0 2.4 0M641 488.2a1.2 1.2 0 1 0 -2.4 0a1.2 1.2 0 1 0 2.4 0M625.5 488.2a1.2 1.2 0 1 0 -2.4 0a1.2 1.2 0 1 0 2.4 0M629.2 488.6a1.2 1.2 0 1 0 -2.4 0a1.2 1.2 0 1 0 2.4 0M634.4 488.9a1.2 1.2 0 1 0 -2.4 0a1.2 1.2 0 1 0 2.4 0M644.8 488.9a1.2 1.2 0 1 0 -2.4 0a1.2 1.2 0 1 0 2.4 0M636.3 489.3a1.2 1.2 0 1 0 -2.4 0a1.2 1.2 0 1 0 2.4 0M632.6 489.3a1.2 1.2 0 1 0 -2.4 0a1.2 1.2 0 1 0 2.4 0M638.2 489.3a1.2 1.2 0 1 0 -2.4 0a1.2 1.2 0 1 0 2.4 0M623.9 489.3a1.2 1.2 0 1 0 -2.4 0a1.2 1.2 0 1 0 2.4 0M646.7 489.4a1.2 1.2 0 1 0 -2.4 0a1.2 1.2 0 1 0 2.4 0M630.8 490a1.2 1.2 0 1 0 -2.4 0a1.2 1.2 0 1 0 2.4 0M640 490a1.2 1.2 0 1 0 -2.4 0a1.2 1.2 0 1 0 2.4 0M627.9 490a1.2 1.2 0 1 0 -2.4 0a1.2 1.2 0 1 0 2.4 0M642 490a1.2 1.2 0 1 0 -2.4 0a1.2 1.2 0 1 0 2.4 0M622.1 490a1.2 1.2 0 1 0 -2.4 0a1.2 1.2 0 1 0 2.4 0M626 490.4a1.2 1.2 0 1 0 -2.4 0a1.2 1.2 0 1 0 2.4 0M648.3 490.4a1.2 1.2 0 1 0 -2.4 0a1.2 1.2 0 1 0 2.4 0M620.3 490.4a1.2 1.2 0 1 0 -2.4 0a1.2 1.2 0 1 0 2.4 0M643.8 490.6a1.2 1.2 0 1 0 -2.4 0a1.2 1.2 0 1 0 2.4 0M650.2 490.7a1.2 1.2 0 1 0 -2.4 0a1.2 1.2 0 1 0 2.4 0M618.4 490.7a1.2 1.2 0 1 0 -2.4 0a1.2 1.2 0 1 0 2.4 0M652.1 490.7a1.2 1.2 0 1 0 -2.4 0a1.2 1.2 0 1 0 2.4 0M634.8 491a1.2 1.2 0 1 0 -2.4 0a1.2 1.2 0 1 0 2.4 0M637 491a1.2 1.2 0 1 0 -2.4 0a1.2 1.2 0 1 0 2.4 0M645.7 491a1.2 1.2 0 1 0 -2.4 0a1.2 1.2 0 1 0 2.4 0M616.5 491.1a1.2 1.2 0 1 0 -2.4 0a1.2 1.2 0 1 0 2.4 0M632.9 491.4a1.2 1.2 0 1 0 -2.4 0a1.2 1.2 0 1 0 2.4 0M629.5 491.4a1.2 1.2 0 1 0 -2.4 0a1.2 1.2 0 1 0 2.4 0M624.4 491.4a1.2 1.2 0 1 0 -2.4 0a1.2 1.2 0 1 0 2.4 0M653.9 491.4a1.2 1.2 0 1 0 -2.4 0a1.2 1.2 0 1 0 2.4 0M638.9 491.7a1.2 1.2 0 1 0 -2.4 0a1.2 1.2 0 1 0 2.4 0M640.8 491.7a1.2 1.2 0 1 0 -2.4 0a1.2 1.2 0 1 0 2.4 0M627.3 491.8a1.2 1.2 0 1 0 -2.4 0a1.2 1.2 0 1 0 2.4 0M622.5 492a1.2 1.2 0 1 0 -2.4 0a1.2 1.2 0 1 0 2.4 0M647.3 492a1.2 1.2 0 1 0 -2.4 0a1.2 1.2 0 1 0 2.4 0M614.8 492.1a1.2 1.2 0 1 0 -2.4 0a1.2 1.2 0 1 0 2.4 0M631.3 492.4a1.2 1.2 0 1 0 -2.4 0a1.2 1.2 0 1 0 2.4 0M642.6 492.5a1.2 1.2 0 1 0 -2.4 0a1.2 1.2 0 1 0 2.4 0M620.7 492.5a1.2 1.2 0 1 0 -2.4 0a1.2 1.2 0 1 0 2.4 0M634.8 493.1a1.2 1.2 0 1 0 -2.4 0a1.2 1.2 0 1 0 2.4 0M636.7 493.2a1.2 1.2 0 1 0 -2.4 0a1.2 1.2 0 1 0 2.4 0M639.7 493.4a1.2 1.2 0 1 0 -2.4 0a1.2 1.2 0 1 0 2.4 0M632.9 493.5a1.2 1.2 0 1 0 -2.4 0a1.2 1.2 0 1 0 2.4 0M629.9 493.7a1.2 1.2 0 1 0 -2.4 0a1.2 1.2 0 1 0 2.4 0M628 493.8a1.2 1.2 0 1 0 -2.4 0a1.2 1.2 0 1 0 2.4 0M626.1 493.9a1.2 1.2 0 1 0 -2.4 0a1.2 1.2 0 1 0 2.4 0M641.5 494.1a1.2 1.2 0 1 0 -2.4 0a1.2 1.2 0 1 0 2.4 0M643.4 494.3a1.2 1.2 0 1 0 -2.4 0a1.2 1.2 0 1 0 2.4 0M638 494.6a1.2 1.2 0 1 0 -2.4 0a1.2 1.2 0 1 0 2.4 0M645.3 494.6a1.2 1.2 0 1 0 -2.4 0a1.2 1.2 0 1 0 2.4 0M634.8 495.2a1.2 1.2 0 1 0 -2.4 0a1.2 1.2 0 1 0 2.4 0M632.1 495.2a1.2 1.2 0 1 0 -2.4 0a1.2 1.2 0 1 0 2.4 0M624.7 495.2a1.2 1.2 0 1 0 -2.4 0a1.2 1.2 0 1 0 2.4 0M622.7 495.3a1.2 1.2 0 1 0 -2.4 0a1.2 1.2 0 1 0 2.4 0M639.7 495.6a1.2 1.2 0 1 0 -2.4 0a1.2 1.2 0 1 0 2.4 0M629.3 495.6a1.2 1.2 0 1 0 -2.4 0a1.2 1.2 0 1 0 2.4 0M627.3 495.6a1.2 1.2 0 1 0 -2.4 0a1.2 1.2 0 1 0 2.4 0M636.6 495.9a1.2 1.2 0 1 0 -2.4 0a1.2 1.2 0 1 0 2.4 0M642.3 495.9a1.2 1.2 0 1 0 -2.4 0a1.2 1.2 0 1 0 2.4 0M644.1 496.3a1.2 1.2 0 1 0 -2.4 0a1.2 1.2 0 1 0 2.4 0M646.2 496.3a1.2 1.2 0 1 0 -2.4 0a1.2 1.2 0 1 0 2.4 0M648.2 496.3a1.2 1.2 0 1 0 -2.4 0a1.2 1.2 0 1 0 2.4 0M621.1 496.3a1.2 1.2 0 1 0 -2.4 0a1.2 1.2 0 1 0 2.4 0M634.1 497a1.2 1.2 0 1 0 -2.4 0a1.2 1.2 0 1 0 2.4 0M638.1 497a1.2 1.2 0 1 0 -2.4 0a1.2 1.2 0 1 0 2.4 0M631.5 497a1.2 1.2 0 1 0 -2.4 0a1.2 1.2 0 1 0 2.4 0M626 497a1.2 1.2 0 1 0 -2.4 0a1.2 1.2 0 1 0 2.4 0M624.1 497.1a1.2 1.2 0 1 0 -2.4 0a1.2 1.2 0 1 0 2.4 0M640.5 497.3a1.2 1.2 0 1 0 -2.4 0a1.2 1.2 0 1 0 2.4 0M628.5 497.3a1.2 1.2 0 1 0 -2.4 0a1.2 1.2 0 1 0 2.4 0M649.8 497.4a1.2 1.2 0 1 0 -2.4 0a1.2 1.2 0 1 0 2.4 0M619.7 497.6a1.2 1.2 0 1 0 -2.4 0a1.2 1.2 0 1 0 2.4 0M651.7 497.6a1.2 1.2 0 1 0 -2.4 0a1.2 1.2 0 1 0 2.4 0M635.9 497.7a1.2 1.2 0 1 0 -2.4 0a1.2 1.2 0 1 0 2.4 0M617.8 497.7a1.2 1.2 0 1 0 -2.4 0a1.2 1.2 0 1 0 2.4 0M642.5 497.8a1.2 1.2 0 1 0 -2.4 0a1.2 1.2 0 1 0 2.4 0M645 498a1.2 1.2 0 1 0 -2.4 0a1.2 1.2 0 1 0 2.4 0M647.1 498a1.2 1.2 0 1 0 -2.4 0a1.2 1.2 0 1 0 2.4 0M622.4 498a1.2 1.2 0 1 0 -2.4 0a1.2 1.2 0 1 0 2.4 0M653.5 498.1a1.2 1.2 0 1 0 -2.4 0a1.2 1.2 0 1 0 2.4 0M615.9 498.1a1.2 1.2 0 1 0 -2.4 0a1.2 1.2 0 1 0 2.4 0M632.8 498.4a1.2 1.2 0 1 0 -2.4 0a1.2 1.2 0 1 0 2.4 0M630.2 498.4a1.2 1.2 0 1 0 -2.4 0a1.2 1.2 0 1 0 2.4 0M655.4 498.5a1.2 1.2 0 1 0 -2.4 0a1.2 1.2 0 1 0 2.4 0M639.1 498.7a1.2 1.2 0 1 0 -2.4 0a1.2 1.2 0 1 0 2.4 0M627.3 498.8a1.2 1.2 0 1 0 -2.4 0a1.2 1.2 0 1 0 2.4 0M637.2 499a1.2 1.2 0 1 0 -2.4 0a1.2 1.2 0 1 0 2.4 0M634.8 499.4a1.2 1.2 0 1 0 -2.4 0a1.2 1.2 0 1 0 2.4 0M640.9 499.5a1.2 1.2 0 1 0 -2.4 0a1.2 1.2 0 1 0 2.4 0M642.8 499.8a1.2 1.2 0 1 0 -2.4 0a1.2 1.2 0 1 0 2.4 0M625.6 499.8a1.2 1.2 0 1 0 -2.4 0a1.2 1.2 0 1 0 2.4 0M632 500.1a1.2 1.2 0 1 0 -2.4 0a1.2 1.2 0 1 0 2.4 0M629.4 500.2a1.2 1.2 0 1 0 -2.4 0a1.2 1.2 0 1 0 2.4 0M638.4 500.5a1.2 1.2 0 1 0 -2.4 0a1.2 1.2 0 1 0 2.4 0M644.5 500.5a1.2 1.2 0 1 0 -2.4 0a1.2 1.2 0 1 0 2.4 0M623.9 500.6a1.2 1.2 0 1 0 -2.4 0a1.2 1.2 0 1 0 2.4 0M636.2 500.8a1.2 1.2 0 1 0 -2.4 0a1.2 1.2 0 1 0 2.4 0M627.6 500.8a1.2 1.2 0 1 0 -2.4 0a1.2 1.2 0 1 0 2.4 0M646.4 500.9a1.2 1.2 0 1 0 -2.4 0a1.2 1.2 0 1 0 2.4 0M634.1 501.2a1.2 1.2 0 1 0 -2.4 0a1.2 1.2 0 1 0 2.4 0M622.1 501.2a1.2 1.2 0 1 0 -2.4 0a1.2 1.2 0 1 0 2.4 0M640.1 501.5a1.2 1.2 0 1 0 -2.4 0a1.2 1.2 0 1 0 2.4 0M631.1 501.8a1.2 1.2 0 1 0 -2.4 0a1.2 1.2 0 1 0 2.4 0M642 501.9a1.2 1.2 0 1 0 -2.4 0a1.2 1.2 0 1 0 2.4 0M626 501.9a1.2 1.2 0 1 0 -2.4 0a1.2 1.2 0 1 0 2.4 0M648 501.9a1.2 1.2 0 1 0 -2.4 0a1.2 1.2 0 1 0 2.4 0M629.2 502.2a1.2 1.2 0 1 0 -2.4 0a1.2 1.2 0 1 0 2.4 0M637.4 502.2a1.2 1.2 0 1 0 -2.4 0a1.2 1.2 0 1 0 2.4 0M620.4 502.2a1.2 1.2 0 1 0 -2.4 0a1.2 1.2 0 1 0 2.4 0M649.9 502.3a1.2 1.2 0 1 0 -2.4 0a1.2 1.2 0 1 0 2.4 0M635.4 502.6a1.2 1.2 0 1 0 -2.4 0a1.2 1.2 0 1 0 2.4 0M633.9 503.7a1.2 1.2 0 1 0 -2.4 0a1.2 1.2 0 1 0 2.4 0M636.7 504a1.2 1.2 0 1 0 -2.4 0a1.2 1.2 0 1 0 2.4 0M632 504.1a1.2 1.2 0 1 0 -2.4 0a1.2 1.2 0 1 0 2.4 0M638.6 504.3a1.2 1.2 0 1 0 -2.4 0a1.2 1.2 0 1 0 2.4 0M630.1 504.3a1.2 1.2 0 1 0 -2.4 0a1.2 1.2 0 1 0 2.4 0M634.8 505.8a1.2 1.2 0 1 0 -2.4 0a1.2 1.2 0 1 0 2.4 0M632.9 506a1.2 1.2 0 1 0 -2.4 0a1.2 1.2 0 1 0 2.4 0M636.6 506.4a1.2 1.2 0 1 0 -2.4 0a1.2 1.2 0 1 0 2.4 0M631.4 507.2a1.2 1.2 0 1 0 -2.4 0a1.2 1.2 0 1 0 2.4 0M638.2 507.5a1.2 1.2 0 1 0 -2.4 0a1.2 1.2 0 1 0 2.4 0M634.8 508.1a1.2 1.2 0 1 0 -2.4 0a1.2 1.2 0 1 0 2.4 0M632.9 508.5a1.2 1.2 0 1 0 -2.4 0a1.2 1.2 0 1 0 2.4 0M636.6 508.9a1.2 1.2 0 1 0 -2.4 0a1.2 1.2 0 1 0 2.4 0M630.4 508.9a1.2 1.2 0 1 0 -2.4 0a1.2 1.2 0 1 0 2.4 0" fill="#f4f4f4" stroke="#a8a8a8" stroke-width="0.6"/>
<path d="M635.1 540a1.2 1.2 0 1 0 -2.4 0a1.2 1.2 0 1 0 2.4 0M633.2 540.3a1.2 1.2 0 1 0 -2.4 0a1.2 1.2 0 1 0 2.4 0M636.9 540.7a1.2 1.2 0 1 0 -2.4 0a1.2 1.2 0 1 0 2.4 0M631.6 541.4a1.2 1.2 0 1 0 -2.4 0a1.2 1.2 0 1 0 2.4 0M638.7 541.4a1.2 1.2 0 1 0 -2.4 0a1.2 1.2 0 1 0 2.4 0M635.1 542.4a1.2 1.2 0 1 0 -2.4 0a1.2 1.2 0 1 0 2.4 0M633.2 542.8a1.2 1.2 0 1 0 -2.4 0a1.2 1.2 0 1 0 2.4 0M635.1 544.9a1.2 1.2 0 1 0 -2.4 0a1.2 1.2 0 1 0 2.4 0M633.3 545.6a1.2 1.2 0 1 0 -2.4 0a1.2 1.2 0 1 0 2.4 0M636.7 545.9a1.2 1.2 0 1 0 -2.4 0a1.2 1.2 0 1 0 2.4 0M638.6 546.4a1.2 1.2 0 1 0 -2.4 0a1.2 1.2 0 1 0 2.4 0M631.7 546.7a1.2 1.2 0 1 0 -2.4 0a1.2 1.2 0 1 0 2.4 0M629.8 546.7a1.2 1.2 0 1 0 -2.4 0a1.2 1.2 0 1 0 2.4 0M635.1 547.4a1.2 1.2 0 1 0 -2.4 0a1.2 1.2 0 1 0 2.4 0M640.2 547.4a1.2 1.2 0 1 0 -2.4 0a1.2 1.2 0 1 0 2.4 0M628.2 547.7a1.2 1.2 0 1 0 -2.4 0a1.2 1.2 0 1 0 2.4 0M633.3 548.1a1.2 1.2 0 1 0 -2.4 0a1.2 1.2 0 1 0 2.4 0M636.7 548.5a1.2 1.2 0 1 0 -2.4 0a1.2 1.2 0 1 0 2.4 0M638.6 548.8a1.2 1.2 0 1 0 -2.4 0a1.2 1.2 0 1 0 2.4 0M631.8 549.3a1.2 1.2 0 1 0 -2.4 0a1.2 1.2 0 1 0 2.4 0M635.1 549.6a1.2 1.2 0 1 0 -2.4 0a1.2 1.2 0 1 0 2.4 0M640.2 549.8a1.2 1.2 0 1 0 -2.4 0a1.2 1.2 0 1 0 2.4 0M636.7 550.6a1.2 1.2 0 1 0 -2.4 0a1.2 1.2 0 1 0 2.4 0M633.7 550.8a1.2 1.2 0 1 0 -2.4 0a1.2 1.2 0 1 0 2.4 0M635.2 551.9a1.2 1.2 0 1 0 -2.4 0a1.2 1.2 0 1 0 2.4 0M637.5 552.3a1.2 1.2 0 1 0 -2.4 0a1.2 1.2 0 1 0 2.4 0M632.5 552.4a1.2 1.2 0 1 0 -2.4 0a1.2 1.2 0 1 0 2.4 0M639.4 552.6a1.2 1.2 0 1 0 -2.4 0a1.2 1.2 0 1 0 2.4 0M630.6 552.7a1.2 1.2 0 1 0 -2.4 0a1.2 1.2 0 1 0 2.4 0M641.3 552.9a1.2 1.2 0 1 0 -2.4 0a1.2 1.2 0 1 0 2.4 0M628.8 553.3a1.2 1.2 0 1 0 -2.4 0a1.2 1.2 0 1 0 2.4 0M634.5 553.7a1.2 1.2 0 1 0 -2.4 0a1.2 1.2 0 1 0 2.4 0M643.1 553.7a1.2 1.2 0 1 0 -2.4 0a1.2 1.2 0 1 0 2.4 0M626.9 553.8a1.2 1.2 0 1 0 -2.4 0a1.2 1.2 0 1 0 2.4 0M636.4 554.1a1.2 1.2 0 1 0 -2.4 0a1.2 1.2 0 1 0 2.4 0M632.9 554.8a1.2 1.2 0 1 0 -2.4 0a1.2 1.2 0 1 0 2.4 0M638 555.1a1.2 1.2 0 1 0 -2.4 0a1.2 1.2 0 1 0 2.4 0M631.1 555.5a1.2 1.2 0 1 0 -2.4 0a1.2 1.2 0 1 0 2.4 0M635.1 555.7a1.2 1.2 0 1 0 -2.4 0a1.2 1.2 0 1 0 2.4 0M639.6 556.2a1.2 1.2 0 1 0 -2.4 0a1.2 1.2 0 1 0 2.4 0M629.3 556.2a1.2 1.2 0 1 0 -2.4 0a1.2 1.2 0 1 0 2.4 0M641.5 556.2a1.2 1.2 0 1 0 -2.4 0a1.2 1.2 0 1 0 2.4 0M627.4 556.4a1.2 1.2 0 1 0 -2.4 0a1.2 1.2 0 1 0 2.4 0M643.4 556.5a1.2 1.2 0 1 0 -2.4 0a1.2 1.2 0 1 0 2.4 0M625.5 556.5a1.2 1.2 0 1 0 -2.4 0a1.2 1.2 0 1 0 2.4 0M645.3 556.5a1.2 1.2 0 1 0 -2.4 0a1.2 1.2 0 1 0 2.4 0M623.6 556.5a1.2 1.2 0 1 0 -2.4 0a1.2 1.2 0 1 0 2.4 0M647.3 556.5a1.2 1.2 0 1 0 -2.4 0a1.2 1.2 0 1 0 2.4 0M621.7 556.5a1.2 1.2 0 1 0 -2.4 0a1.2 1.2 0 1 0 2.4 0M633.5 556.8a1.2 1.2 0 1 0 -2.4 0a1.2 1.2 0 1 0 2.4 0M636.6 556.9a1.2 1.2 0 1 0 -2.4 0a1.2 1.2 0 1 0 2.4 0M631.7 557.5a1.2 1.2 0 1 0 -2.4 0a1.2 1.2 0 1 0 2.4 0M648.9 557.5a1.2 1.2 0 1 0 -2.4 0a1.2 1.2 0 1 0 2.4 0M620.1 557.6a1.2 1.2 0 1 0 -2.4 0a1.2 1.2 0 1 0 2.4 0M635.1 558.3a1.2 1.2 0 1 0 -2.4 0a1.2 1.2 0 1 0 2.4 0M633.5 559.3a1.2 1.2 0 1 0 -2.4 0a1.2 1.2 0 1 0 2.4 0M636.7 559.4a1.2 1.2 0 1 0 -2.4 0a1.2 1.2 0 1 0 2.4 0M638.6 559.6a1.2 1.2 0 1 0 -2.4 0a1.2 1.2 0 1 0 2.4 0M631.6 559.6a1.2 1.2 0 1 0 -2.4 0a1.2 1.2 0 1 0 2.4 0M640.5 560a1.2 1.2 0 1 0 -2.4 0a1.2 1.2 0 1 0 2.4 0M629.7 560a1.2 1.2 0 1 0 -2.4 0a1.2 1.2 0 1 0 2.4 0M642.4 560a1.2 1.2 0 1 0 -2.4 0a1.2 1.2 0 1 0 2.4 0M635.1 560.7a1.2 1.2 0 1 0 -2.4 0a1.2 1.2 0 1 0 2.4 0M628.1 561a1.2 1.2 0 1 0 -2.4 0a1.2 1.2 0 1 0 2.4 0M644 561.1a1.2 1.2 0 1 0 -2.4 0a1.2 1.2 0 1 0 2.4 0M633.3 561.3a1.2 1.2 0 1 0 -2.4 0a1.2 1.2 0 1 0 2.4 0M636.9 561.3a1.2 1.2 0 1 0 -2.4 0a1.2 1.2 0 1 0 2.4 0M626.2 561.4a1.2 1.2 0 1 0 -2.4 0a1.2 1.2 0 1 0 2.4 0M645.9 561.4a1.2 1.2 0 1 0 -2.4 0a1.2 1.2 0 1 0 2.4 0M638.8 561.8a1.2 1.2 0 1 0 -2.4 0a1.2 1.2 0 1 0 2.4 0M631.5 562.1a1.2 1.2 0 1 0 -2.4 0a1.2 1.2 0 1 0 2.4 0M635.1 562.8a1.2 1.2 0 1 0 -2.4 0a1.2 1.2 0 1 0 2.4 0M640.4 562.9a1.2 1.2 0 1 0 -2.4 0a1.2 1.2 0 1 0 2.4 0M629.9 563.2a1.2 1.2 0 1 0 -2.4 0a1.2 1.2 0 1 0 2.4 0M628 563.2a1.2 1.2 0 1 0 -2.4 0a1.2 1.2 0 1 0 2.4 0M633.3 563.5a1.2 1.2 0 1 0 -2.4 0a1.2 1.2 0 1 0 2.4 0M636.9 563.5a1.2 1.2 0 1 0 -2.4 0a1.2 1.2 0 1 0 2.4 0M642 563.9a1.2 1.2 0 1 0 -2.4 0a1.2 1.2 0 1 0 2.4 0M631.7 564.6a1.2 1.2 0 1 0 -2.4 0a1.2 1.2 0 1 0 2.4 0M635.1 564.8a1.2 1.2 0 1 0 -2.4 0a1.2 1.2 0 1 0 2.4 0M638.3 564.9a1.2 1.2 0 1 0 -2.4 0a1.2 1.2 0 1 0 2.4 0M640.2 564.9a1.2 1.2 0 1 0 -2.4 0a1.2 1.2 0 1 0 2.4 0M629.9 565.2a1.2 1.2 0 1 0 -2.4 0a1.2 1.2 0 1 0 2.4 0M628 565.2a1.2 1.2 0 1 0 -2.4 0a1.2 1.2 0 1 0 2.4 0M633.3 565.6a1.2 1.2 0 1 0 -2.4 0a1.2 1.2 0 1 0 2.4 0M642.9 565.6a1.2 1.2 0 1 0 -2.4 0a1.2 1.2 0 1 0 2.4 0M626.1 565.6a1.2 1.2 0 1 0 -2.4 0a1.2 1.2 0 1 0 2.4 0M644.8 565.7a1.2 1.2 0 1 0 -2.4 0a1.2 1.2 0 1 0 2.4 0M624.2 565.9a1.2 1.2 0 1 0 -2.4 0a1.2 1.2 0 1 0 2.4 0M646.7 565.9a1.2 1.2 0 1 0 -2.4 0a1.2 1.2 0 1 0 2.4 0M622.3 565.9a1.2 1.2 0 1 0 -2.4 0a1.2 1.2 0 1 0 2.4 0M636.6 566a1.2 1.2 0 1 0 -2.4 0a1.2 1.2 0 1 0 2.4 0M648.6 566a1.2 1.2 0 1 0 -2.4 0a1.2 1.2 0 1 0 2.4 0M620.4 566a1.2 1.2 0 1 0 -2.4 0a1.2 1.2 0 1 0 2.4 0M650.5 566a1.2 1.2 0 1 0 -2.4 0a1.2 1.2 0 1 0 2.4 0M618.5 566.3a1.2 1.2 0 1 0 -2.4 0a1.2 1.2 0 1 0 2.4 0M652.4 566.4a1.2 1.2 0 1 0 -2.4 0a1.2 1.2 0 1 0 2.4 0M616.5 566.4a1.2 1.2 0 1 0 -2.4 0a1.2 1.2 0 1 0 2.4 0M631.7 566.6a1.2 1.2 0 1 0 -2.4 0a1.2 1.2 0 1 0 2.4 0M639.1 566.6a1.2 1.2 0 1 0 -2.4 0a1.2 1.2 0 1 0 2.4 0M635 567a1.2 1.2 0 1 0 -2.4 0a1.2 1.2 0 1 0 2.4 0M629.2 567a1.2 1.2 0 1 0 -2.4 0a1.2 1.2 0 1 0 2.4 0M641 567a1.2 1.2 0 1 0 -2.4 0a1.2 1.2 0 1 0 2.4 0M654.2 567.1a1.2 1.2 0 1 0 -2.4 0a1.2 1.2 0 1 0 2.4 0M627.3 567.3a1.2 1.2 0 1 0 -2.4 0a1.2 1.2 0 1 0 2.4 0M643.7 567.3a1.2 1.2 0 1 0 -2.4 0a1.2 1.2 0 1 0 2.4 0M614.9 567.4a1.2 1.2 0 1 0 -2.4 0a1.2 1.2 0 1 0 2.4 0M656.1 567.4a1.2 1.2 0 1 0 -2.4 0a1.2 1.2 0 1 0 2.4 0M633.3 567.7a1.2 1.2 0 1 0 -2.4 0a1.2 1.2 0 1 0 2.4 0M636.7 568a1.2 1.2 0 1 0 -2.4 0a1.2 1.2 0 1 0 2.4 0M625.6 568.1a1.2 1.2 0 1 0 -2.4 0a1.2 1.2 0 1 0 2.4 0M645.4 568.1a1.2 1.2 0 1 0 -2.4 0a1.2 1.2 0 1 0 2.4 0M623.6 568.1a1.2 1.2 0 1 0 -2.4 0a1.2 1.2 0 1 0 2.4 0M638.4 568.8a1.2 1.2 0 1 0 -2.4 0a1.2 1.2 0 1 0 2.4 0M631.7 568.8a1.2 1.2 0 1 0 -2.4 0a1.2 1.2 0 1 0 2.4 0M641.7 568.8a1.2 1.2 0 1 0 -2.4 0a1.2 1.2 0 1 0 2.4 0M647.2 568.8a1.2 1.2 0 1 0 -2.4 0a1.2 1.2 0 1 0 2.4 0M635.1 569a1.2 1.2 0 1 0 -2.4 0a1.2 1.2 0 1 0 2.4 0M629.8 569.1a1.2 1.2 0 1 0 -2.4 0a1.2 1.2 0 1 0 2.4 0M622 569.1a1.2 1.2 0 1 0 -2.4 0a1.2 1.2 0 1 0 2.4 0M628 569.7a1.2 1.2 0 1 0 -2.4 0a1.2 1.2 0 1 0 2.4 0M633.3 569.8a1.2 1.2 0 1 0 -2.4 0a1.2 1.2 0 1 0 2.4 0M640 569.9a1.2 1.2 0 1 0 -2.4 0a1.2 1.2 0 1 0 2.4 0M636.7 570.1a1.2 1.2 0 1 0 -2.4 0a1.2 1.2 0 1 0 2.4 0M642.5 570.6a1.2 1.2 0 1 0 -2.4 0a1.2 1.2 0 1 0 2.4 0M631.7 570.9a1.2 1.2 0 1 0 -2.4 0a1.2 1.2 0 1 0 2.4 0M626.4 570.9a1.2 1.2 0 1 0 -2.4 0a1.2 1.2 0 1 0 2.4 0M644.3 570.9a1.2 1.2 0 1 0 -2.4 0a1.2 1.2 0 1 0 2.4 0M624.5 570.9a1.2 1.2 0 1 0 -2.4 0a1.2 1.2 0 1 0 2.4 0M646.3 570.9a1.2 1.2 0 1 0 -2.4 0a1.2 1.2 0 1 0 2.4 0M635.1 571.5a1.2 1.2 0 1 0 -2.4 0a1.2 1.2 0 1 0 2.4 0M638 571.5a1.2 1.2 0 1 0 -2.4 0a1.2 1.2 0 1 0 2.4 0M629.9 571.5a1.2 1.2 0 1 0 -2.4 0a1.2 1.2 0 1 0 2.4 0M633.3 572.2a1.2 1.2 0 1 0 -2.4 0a1.2 1.2 0 1 0 2.4 0M639.8 572.2a1.2 1.2 0 1 0 -2.4 0a1.2 1.2 0 1 0 2.4 0M628.1 572.3a1.2 1.2 0 1 0 -2.4 0a1.2 1.2 0 1 0 2.4 0M623.2 572.3a1.2 1.2 0 1 0 -2.4 0a1.2 1.2 0 1 0 2.4 0M641.7 572.3a1.2 1.2 0 1 0 -2.4 0a1.2 1.2 0 1 0 2.4 0M647.3 572.5a1.2 1.2 0 1 0 -2.4 0a1.2 1.2 0 1 0 2.4 0M621.3 572.5a1.2 1.2 0 1 0 -2.4 0a1.2 1.2 0 1 0 2.4 0M625.5 572.6a1.2 1.2 0 1 0 -2.4 0a1.2 1.2 0 1 0 2.4 0M645.2 572.6a1.2 1.2 0 1 0 -2.4 0a1.2 1.2 0 1 0 2.4 0M636.4 572.9a1.2 1.2 0 1 0 -2.4 0a1.2 1.2 0 1 0 2.4 0M631.5 572.9a1.2 1.2 0 1 0 -2.4 0a1.2 1.2 0 1 0 2.4 0M649.2 573a1.2 1.2 0 1 0 -2.4 0a1.2 1.2 0 1 0 2.4 0M619.4 573a1.2 1.2 0 1 0 -2.4 0a1.2 1.2 0 1 0 2.4 0M651.1 573.3a1.2 1.2 0 1 0 -2.4 0a1.2 1.2 0 1 0 2.4 0M643.3 573.4a1.2 1.2 0 1 0 -2.4 0a1.2 1.2 0 1 0 2.4 0M638.2 573.6a1.2 1.2 0 1 0 -2.4 0a1.2 1.2 0 1 0 2.4 0M634.6 573.7a1.2 1.2 0 1 0 -2.4 0a1.2 1.2 0 1 0 2.4 0M629.8 573.7a1.2 1.2 0 1 0 -2.4 0a1.2 1.2 0 1 0 2.4 0M627.1 573.9a1.2 1.2 0 1 0 -2.4 0a1.2 1.2 0 1 0 2.4 0M640.5 574a1.2 1.2 0 1 0 -2.4 0a1.2 1.2 0 1 0 2.4 0M624.3 574a1.2 1.2 0 1 0 -2.4 0a1.2 1.2 0 1 0 2.4 0M617.8 574.1a1.2 1.2 0 1 0 -2.4 0a1.2 1.2 0 1 0 2.4 0M652.8 574.1a1.2 1.2 0 1 0 -2.4 0a1.2 1.2 0 1 0 2.4 0M632.8 574.3a1.2 1.2 0 1 0 -2.4 0a1.2 1.2 0 1 0 2.4 0M645.9 574.4a1.2 1.2 0 1 0 -2.4 0a1.2 1.2 0 1 0 2.4 0M622.4 574.7a1.2 1.2 0 1 0 -2.4 0a1.2 1.2 0 1 0 2.4 0M647.8 574.7a1.2 1.2 0 1 0 -2.4 0a1.2 1.2 0 1 0 2.4 0M620.5 574.7a1.2 1.2 0 1 0 -2.4 0a1.2 1.2 0 1 0 2.4 0M616 574.7a1.2 1.2 0 1 0 -2.4 0a1.2 1.2 0 1 0 2.4 0M654.6 574.7a1.2 1.2 0 1 0 -2.4 0a1.2 1.2 0 1 0 2.4 0M614.1 574.7a1.2 1.2 0 1 0 -2.4 0a1.2 1.2 0 1 0 2.4 0M649.8 574.8a1.2 1.2 0 1 0 -2.4 0a1.2 1.2 0 1 0 2.4 0M635.5 575.4a1.2 1.2 0 1 0 -2.4 0a1.2 1.2 0 1 0 2.4 0M637.4 575.4a1.2 1.2 0 1 0 -2.4 0a1.2 1.2 0 1 0 2.4 0M631.3 575.4a1.2 1.2 0 1 0 -2.4 0a1.2 1.2 0 1 0 2.4 0M629 575.5a1.2 1.2 0 1 0 -2.4 0a1.2 1.2 0 1 0 2.4 0M639.3 575.7a1.2 1.2 0 1 0 -2.4 0a1.2 1.2 0 1 0 2.4 0M641.3 575.8a1.2 1.2 0 1 0 -2.4 0a1.2 1.2 0 1 0 2.4 0M627.2 576a1.2 1.2 0 1 0 -2.4 0a1.2 1.2 0 1 0 2.4 0M633.7 576.1a1.2 1.2 0 1 0 -2.4 0a1.2 1.2 0 1 0 2.4 0M643.1 576.1a1.2 1.2 0 1 0 -2.4 0a1.2 1.2 0 1 0 2.4 0M625.2 576.1a1.2 1.2 0 1 0 -2.4 0a1.2 1.2 0 1 0 2.4 0M645.1 576.1a1.2 1.2 0 1 0 -2.4 0a1.2 1.2 0 1 0 2.4 0M623.4 576.4a1.2 1.2 0 1 0 -2.4 0a1.2 1.2 0 1 0 2.4 0M646.9 576.7a1.2 1.2 0 1 0 -2.4 0a1.2 1.2 0 1 0 2.4 0M621.5 576.8a1.2 1.2 0 1 0 -2.4 0a1.2 1.2 0 1 0 2.4 0M648.8 576.8a1.2 1.2 0 1 0 -2.4 0a1.2 1.2 0 1 0 2.4 0M619.6 576.8a1.2 1.2 0 1 0 -2.4 0a1.2 1.2 0 1 0 2.4 0M650.7 576.8a1.2 1.2 0 1 0 -2.4 0a1.2 1.2 0 1 0 2.4 0M617.6 576.8a1.2 1.2 0 1 0 -2.4 0a1.2 1.2 0 1 0 2.4 0M652.7 576.9a1.2 1.2 0 1 0 -2.4 0a1.2 1.2 0 1 0 2.4 0M630.3 577.1a1.2 1.2 0 1 0 -2.4 0a1.2 1.2 0 1 0 2.4 0M636.3 577.2a1.2 1.2 0 1 0 -2.4 0a1.2 1.2 0 1 0 2.4 0M632.3 577.5a1.2 1.2 0 1 0 -2.4 0a1.2 1.2 0 1 0 2.4 0M638.1 577.5a1.2 1.2 0 1 0 -2.4 0a1.2 1.2 0 1 0 2.4 0M640.1 577.5a1.2 1.2 0 1 0 -2.4 0a1.2 1.2 0 1 0 2.4 0M628.4 577.6a1.2 1.2 0 1 0 -2.4 0a1.2 1.2 0 1 0 2.4 0M615.9 577.6a1.2 1.2 0 1 0 -2.4 0a1.2 1.2 0 1 0 2.4 0M634.5 577.9a1.2 1.2 0 1 0 -2.4 0a1.2 1.2 0 1 0 2.4 0M641.9 577.9a1.2 1.2 0 1 0 -2.4 0a1.2 1.2 0 1 0 2.4 0M626.6 578.1a1.2 1.2 0 1 0 -2.4 0a1.2 1.2 0 1 0 2.4 0M643.8 578.2a1.2 1.2 0 1 0 -2.4 0a1.2 1.2 0 1 0 2.4 0M624.6 578.2a1.2 1.2 0 1 0 -2.4 0a1.2 1.2 0 1 0 2.4 0M645.7 578.5a1.2 1.2 0 1 0 -2.4 0a1.2 1.2 0 1 0 2.4 0M622.8 578.5a1.2 1.2 0 1 0 -2.4 0a1.2 1.2 0 1 0 2.4 0M647.7 578.6a1.2 1.2 0 1 0 -2.4 0a1.2 1.2 0 1 0 2.4 0M620.8 578.7a1.2 1.2 0 1 0 -2.4 0a1.2 1.2 0 1 0 2.4 0M631.1 578.9a1.2 1.2 0 1 0 -2.4 0a1.2 1.2 0 1 0 2.4 0M649.5 578.9a1.2 1.2 0 1 0 -2.4 0a1.2 1.2 0 1 0 2.4 0M618.9 579a1.2 1.2 0 1 0 -2.4 0a1.2 1.2 0 1 0 2.4 0M635.9 579.2a1.2 1.2 0 1 0 -2.4 0a1.2 1.2 0 1 0 2.4 0M633.1 579.2a1.2 1.2 0 1 0 -2.4 0a1.2 1.2 0 1 0 2.4 0M639 579.2a1.2 1.2 0 1 0 -2.4 0a1.2 1.2 0 1 0 2.4 0M651.4 579.2a1.2 1.2 0 1 0 -2.4 0a1.2 1.2 0 1 0 2.4 0M617 579.2a1.2 1.2 0 1 0 -2.4 0a1.2 1.2 0 1 0 2.4 0M653.4 579.2a1.2 1.2 0 1 0 -2.4 0a1.2 1.2 0 1 0 2.4 0M615 579.3a1.2 1.2 0 1 0 -2.4 0a1.2 1.2 0 1 0 2.4 0M629.2 579.4a1.2 1.2 0 1 0 -2.4 0a1.2 1.2 0 1 0 2.4 0M640.8 579.5a1.2 1.2 0 1 0 -2.4 0a1.2 1.2 0 1 0 2.4 0M655.2 579.6a1.2 1.2 0 1 0 -2.4 0a1.2 1.2 0 1 0 2.4 0M613.1 579.7a1.2 1.2 0 1 0 -2.4 0a1.2 1.2 0 1 0 2.4 0M642.7 579.9a1.2 1.2 0 1 0 -2.4 0a1.2 1.2 0 1 0 2.4 0M627.5 580.2a1.2 1.2 0 1 0 -2.4 0a1.2 1.2 0 1 0 2.4 0M644.6 580.3a1.2 1.2 0 1 0 -2.4 0a1.2 1.2 0 1 0 2.4 0M625.5 580.3a1.2 1.2 0 1 0 -2.4 0a1.2 1.2 0 1 0 2.4 0M646.5 580.3a1.2 1.2 0 1 0 -2.4 0a1.2 1.2 0 1 0 2.4 0M623.6 580.3a1.2 1.2 0 1 0 -2.4 0a1.2 1.2 0 1 0 2.4 0M634.6 580.6a1.2 1.2 0 1 0 -2.4 0a1.2 1.2 0 1 0 2.4 0M637.1 580.6a1.2 1.2 0 1 0 -2.4 0a1.2 1.2 0 1 0 2.4 0M632.5 581a1.2 1.2 0 1 0 -2.4 0a1.2 1.2 0 1 0 2.4 0M639.6 581.1a1.2 1.2 0 1 0 -2.4 0a1.2 1.2 0 1 0 2.4 0M630.7 581.6a1.2 1.2 0 1 0 -2.4 0a1.2 1.2 0 1 0 2.4 0M641.4 581.7a1.2 1.2 0 1 0 -2.4 0a1.2 1.2 0 1 0 2.4 0M628.7 581.7a1.2 1.2 0 1 0 -2.4 0a1.2 1.2 0 1 0 2.4 0M643.3 582a1.2 1.2 0 1 0 -2.4 0a1.2 1.2 0 1 0 2.4 0M635.3 582.4a1.2 1.2 0 1 0 -2.4 0a1.2 1.2 0 1 0 2.4 0M637.8 582.4a1.2 1.2 0 1 0 -2.4 0a1.2 1.2 0 1 0 2.4 0M627 582.5a1.2 1.2 0 1 0 -2.4 0a1.2 1.2 0 1 0 2.4 0M633.4 582.7a1.2 1.2 0 1 0 -2.4 0a1.2 1.2 0 1 0 2.4 0M645 582.8a1.2 1.2 0 1 0 -2.4 0a1.2 1.2 0 1 0 2.4 0M639.6 583.1a1.2 1.2 0 1 0 -2.4 0a1.2 1.2 0 1 0 2.4 0M625.2 583.1a1.2 1.2 0 1 0 -2.4 0a1.2 1.2 0 1 0 2.4 0M631.6 583.4a1.2 1.2 0 1 0 -2.4 0a1.2 1.2 0 1 0 2.4 0M629.7 583.5a1.2 1.2 0 1 0 -2.4 0a1.2 1.2 0 1 0 2.4 0M641.9 583.5a1.2 1.2 0 1 0 -2.4 0a1.2 1.2 0 1 0 2.4 0M636.1 584.2a1.2 1.2 0 1 0 -2.4 0a1.2 1.2 0 1 0 2.4 0M627.9 584.2a1.2 1.2 0 1 0 -2.4 0a1.2 1.2 0 1 0 2.4 0M638 584.5a1.2 1.2 0 1 0 -2.4 0a1.2 1.2 0 1 0 2.4 0M634.2 584.5a1.2 1.2 0 1 0 -2.4 0a1.2 1.2 0 1 0 2.4 0M643.5 584.5a1.2 1.2 0 1 0 -2.4 0a1.2 1.2 0 1 0 2.4 0M645.8 584.5a1.2 1.2 0 1 0 -2.4 0a1.2 1.2 0 1 0 2.4 0M623.9 584.6a1.2 1.2 0 1 0 -2.4 0a1.2 1.2 0 1 0 2.4 0M647.7 584.8a1.2 1.2 0 1 0 -2.4 0a1.2 1.2 0 1 0 2.4 0M640.4 584.8a1.2 1.2 0 1 0 -2.4 0a1.2 1.2 0 1 0 2.4 0M626.1 584.9a1.2 1.2 0 1 0 -2.4 0a1.2 1.2 0 1 0 2.4 0M632.5 585.4a1.2 1.2 0 1 0 -2.4 0a1.2 1.2 0 1 0 2.4 0M630.6 585.5a1.2 1.2 0 1 0 -2.4 0a1.2 1.2 0 1 0 2.4 0M622.3 585.5a1.2 1.2 0 1 0 -2.4 0a1.2 1.2 0 1 0 2.4 0M649.5 585.5a1.2 1.2 0 1 0 -2.4 0a1.2 1.2 0 1 0 2.4 0M642 585.9a1.2 1.2 0 1 0 -2.4 0a1.2 1.2 0 1 0 2.4 0M635.1 586.3a1.2 1.2 0 1 0 -2.4 0a1.2 1.2 0 1 0 2.4 0M637 586.3a1.2 1.2 0 1 0 -2.4 0a1.2 1.2 0 1 0 2.4 0M638.9 586.3a1.2 1.2 0 1 0 -2.4 0a1.2 1.2 0 1 0 2.4 0M629.3 587a1.2 1.2 0 1 0 -2.4 0a1.2 1.2 0 1 0 2.4 0M633.5 587.3a1.2 1.2 0 1 0 -2.4 0a1.2 1.2 0 1 0 2.4 0M631.6 587.6a1.2 1.2 0 1 0 -2.4 0a1.2 1.2 0 1 0 2.4 0M640.2 587.7a1.2 1.2 0 1 0 -2.4 0a1.2 1.2 0 1 0 2.4 0M636 587.9a1.2 1.2 0 1 0 -2.4 0a1.2 1.2 0 1 0 2.4 0M638 588a1.2 1.2 0 1 0 -2.4 0a1.2 1.2 0 1 0 2.4 0M642.1 588.1a1.2 1.2 0 1 0 -2.4 0a1.2 1.2 0 1 0 2.4 0M627.8 588.1a1.2 1.2 0 1 0 -2.4 0a1.2 1.2 0 1 0 2.4 0M644 588.3a1.2 1.2 0 1 0 -2.4 0a1.2 1.2 0 1 0 2.4 0M626 588.7a1.2 1.2 0 1 0 -2.4 0a1.2 1.2 0 1 0 2.4 0M645.9 588.7a1.2 1.2 0 1 0 -2.4 0a1.2 1.2 0 1 0 2.4 0M624 588.7a1.2 1.2 0 1 0 -2.4 0a1.2 1.2 0 1 0 2.4 0M634.4 589a1.2 1.2 0 1 0 -2.4 0a1.2 1.2 0 1 0 2.4 0M632.6 589.3a1.2 1.2 0 1 0 -2.4 0a1.2 1.2 0 1 0 2.4 0M636.7 589.7a1.2 1.2 0 1 0 -2.4 0a1.2 1.2 0 1 0 2.4 0M638.7 589.8a1.2 1.2 0 1 0 -2.4 0a1.2 1.2 0 1 0 2.4 0M630.8 590.1a1.2 1.2 0 1 0 -2.4 0a1.2 1.2 0 1 0 2.4 0M640.6 590.2a1.2 1.2 0 1 0 -2.4 0a1.2 1.2 0 1 0 2.4 0M628.9 590.4a1.2 1.2 0 1 0 -2.4 0a1.2 1.2 0 1 0 2.4 0M642.5 590.4a1.2 1.2 0 1 0 -2.4 0a1.2 1.2 0 1 0 2.4 0M627 590.4a1.2 1.2 0 1 0 -2.4 0a1.2 1.2 0 1 0 2.4 0M644.4 590.5a1.2 1.2 0 1 0 -2.4 0a1.2 1.2 0 1 0 2.4 0M625.1 590.5a1.2 1.2 0 1 0 -2.4 0a1.2 1.2 0 1 0 2.4 0M646.5 590.5a1.2 1.2 0 1 0 -2.4 0a1.2 1.2 0 1 0 2.4 0M623.2 590.7a1.2 1.2 0 1 0 -2.4 0a1.2 1.2 0 1 0 2.4 0M648.4 590.7a1.2 1.2 0 1 0 -2.4 0a1.2 1.2 0 1 0 2.4 0M621.2 590.8a1.2 1.2 0 1 0 -2.4 0a1.2 1.2 0 1 0 2.4 0M650.3 590.8a1.2 1.2 0 1 0 -2.4 0a1.2 1.2 0 1 0 2.4 0M619.3 590.8a1.2 1.2 0 1 0 -2.4 0a1.2 1.2 0 1 0 2.4 0M635.1 591.1a1.2 1.2 0 1 0 -2.4 0a1.2 1.2 0 1 0 2.4 0M652.2 591.1a1.2 1.2 0 1 0 -2.4 0a1.2 1.2 0 1 0 2.4 0M617.4 591.2a1.2 1.2 0 1 0 -2.4 0a1.2 1.2 0 1 0 2.4 0M633.2 591.5a1.2 1.2 0 1 0 -2.4 0a1.2 1.2 0 1 0 2.4 0M636.9 591.8a1.2 1.2 0 1 0 -2.4 0a1.2 1.2 0 1 0 2.4 0M638.8 592.1a1.2 1.2 0 1 0 -2.4 0a1.2 1.2 0 1 0 2.4 0M631.4 592.2a1.2 1.2 0 1 0 -2.4 0a1.2 1.2 0 1 0 2.4 0M629.5 592.5a1.2 1.2 0 1 0 -2.4 0a1.2 1.2 0 1 0 2.4 0M640.7 592.5a1.2 1.2 0 1 0 -2.4 0a1.2 1.2 0 1 0 2.4 0M642.6 592.6a1.2 1.2 0 1 0 -2.4 0a1.2 1.2 0 1 0 2.4 0M627.6 592.8a1.2 1.2 0 1 0 -2.4 0a1.2 1.2 0 1 0 2.4 0M634.6 593a1.2 1.2 0 1 0 -2.4 0a1.2 1.2 0 1 0 2.4 0M644.4 593.3a1.2 1.2 0 1 0 -2.4 0a1.2 1.2 0 1 0 2.4 0M632.8 593.6a1.2 1.2 0 1 0 -2.4 0a1.2 1.2 0 1 0 2.4 0M637.4 593.7a1.2 1.2 0 1 0 -2.4 0a1.2 1.2 0 1 0 2.4 0M631 594.4a1.2 1.2 0 1 0 -2.4 0a1.2 1.2 0 1 0 2.4 0M639.2 594.4a1.2 1.2 0 1 0 -2.4 0a1.2 1.2 0 1 0 2.4 0M635.6 594.6a1.2 1.2 0 1 0 -2.4 0a1.2 1.2 0 1 0 2.4 0M629.2 595a1.2 1.2 0 1 0 -2.4 0a1.2 1.2 0 1 0 2.4 0M641 595a1.2 1.2 0 1 0 -2.4 0a1.2 1.2 0 1 0 2.4 0M627.3 595a1.2 1.2 0 1 0 -2.4 0a1.2 1.2 0 1 0 2.4 0M642.9 595a1.2 1.2 0 1 0 -2.4 0a1.2 1.2 0 1 0 2.4 0M625.4 595a1.2 1.2 0 1 0 -2.4 0a1.2 1.2 0 1 0 2.4 0M645.1 595.1a1.2 1.2 0 1 0 -2.4 0a1.2 1.2 0 1 0 2.4 0M633.8 595.3a1.2 1.2 0 1 0 -2.4 0a1.2 1.2 0 1 0 2.4 0M623.5 595.3a1.2 1.2 0 1 0 -2.4 0a1.2 1.2 0 1 0 2.4 0M647 595.3a1.2 1.2 0 1 0 -2.4 0a1.2 1.2 0 1 0 2.4 0M621.5 595.3a1.2 1.2 0 1 0 -2.4 0a1.2 1.2 0 1 0 2.4 0M649 595.4a1.2 1.2 0 1 0 -2.4 0a1.2 1.2 0 1 0 2.4 0M637.1 595.7a1.2 1.2 0 1 0 -2.4 0a1.2 1.2 0 1 0 2.4 0M632 596a1.2 1.2 0 1 0 -2.4 0a1.2 1.2 0 1 0 2.4 0M619.8 596.1a1.2 1.2 0 1 0 -2.4 0a1.2 1.2 0 1 0 2.4 0M650.7 596.1a1.2 1.2 0 1 0 -2.4 0a1.2 1.2 0 1 0 2.4 0M635.1 596.7a1.2 1.2 0 1 0 -2.4 0a1.2 1.2 0 1 0 2.4 0M638.8 596.8a1.2 1.2 0 1 0 -2.4 0a1.2 1.2 0 1 0 2.4 0M633.5 597.8a1.2 1.2 0 1 0 -2.4 0a1.2 1.2 0 1 0 2.4 0M636.7 597.8a1.2 1.2 0 1 0 -2.4 0a1.2 1.2 0 1 0 2.4 0M631.6 598.2a1.2 1.2 0 1 0 -2.4 0a1.2 1.2 0 1 0 2.4 0M639.6 598.5a1.2 1.2 0 1 0 -2.4 0a1.2 1.2 0 1 0 2.4 0M629.7 598.5a1.2 1.2 0 1 0 -2.4 0a1.2 1.2 0 1 0 2.4 0M641.5 598.5a1.2 1.2 0 1 0 -2.4 0a1.2 1.2 0 1 0 2.4 0M627.8 598.6a1.2 1.2 0 1 0 -2.4 0a1.2 1.2 0 1 0 2.4 0M643.4 598.8a1.2 1.2 0 1 0 -2.4 0a1.2 1.2 0 1 0 2.4 0M635.1 599.2a1.2 1.2 0 1 0 -2.4 0a1.2 1.2 0 1 0 2.4 0M626 599.3a1.2 1.2 0 1 0 -2.4 0a1.2 1.2 0 1 0 2.4 0M637.6 599.5a1.2 1.2 0 1 0 -2.4 0a1.2 1.2 0 1 0 2.4 0M645.2 599.5a1.2 1.2 0 1 0 -2.4 0a1.2 1.2 0 1 0 2.4 0M633.5 600.2a1.2 1.2 0 1 0 -2.4 0a1.2 1.2 0 1 0 2.4 0M631.6 600.5a1.2 1.2 0 1 0 -2.4 0a1.2 1.2 0 1 0 2.4 0M639.2 600.6a1.2 1.2 0 1 0 -2.4 0a1.2 1.2 0 1 0 2.4 0M629.7 600.6a1.2 1.2 0 1 0 -2.4 0a1.2 1.2 0 1 0 2.4 0M641.1 600.6a1.2 1.2 0 1 0 -2.4 0a1.2 1.2 0 1 0 2.4 0M635.9 600.9a1.2 1.2 0 1 0 -2.4 0a1.2 1.2 0 1 0 2.4 0M627.9 601.3a1.2 1.2 0 1 0 -2.4 0a1.2 1.2 0 1 0 2.4 0M642.8 601.6a1.2 1.2 0 1 0 -2.4 0a1.2 1.2 0 1 0 2.4 0M626 601.7a1.2 1.2 0 1 0 -2.4 0a1.2 1.2 0 1 0 2.4 0M634.3 602a1.2 1.2 0 1 0 -2.4 0a1.2 1.2 0 1 0 2.4 0M637.5 602a1.2 1.2 0 1 0 -2.4 0a1.2 1.2 0 1 0 2.4 0M632.7 603a1.2 1.2 0 1 0 -2.4 0a1.2 1.2 0 1 0 2.4 0M639.1 603a1.2 1.2 0 1 0 -2.4 0a1.2 1.2 0 1 0 2.4 0M630.8 603.1a1.2 1.2 0 1 0 -2.4 0a1.2 1.2 0 1 0 2.4 0M641 603.1a1.2 1.2 0 1 0 -2.4 0a1.2 1.2 0 1 0 2.4 0M628.8 603.1a1.2 1.2 0 1 0 -2.4 0a1.2 1.2 0 1 0 2.4 0M635.7 603.4a1.2 1.2 0 1 0 -2.4 0a1.2 1.2 0 1 0 2.4 0M642.8 603.7a1.2 1.2 0 1 0 -2.4 0a1.2 1.2 0 1 0 2.4 0M627 603.7a1.2 1.2 0 1 0 -2.4 0a1.2 1.2 0 1 0 2.4 0M637.5 604.1a1.2 1.2 0 1 0 -2.4 0a1.2 1.2 0 1 0 2.4 0M644.7 604.1a1.2 1.2 0 1 0 -2.4 0a1.2 1.2 0 1 0 2.4 0M634 604.4a1.2 1.2 0 1 0 -2.4 0a1.2 1.2 0 1 0 2.4 0M625.2 604.5a1.2 1.2 0 1 0 -2.4 0a1.2 1.2 0 1 0 2.4 0M646.6 604.5a1.2 1.2 0 1 0 -2.4 0a1.2 1.2 0 1 0 2.4 0M632.1 604.8a1.2 1.2 0 1 0 -2.4 0a1.2 1.2 0 1 0 2.4 0M639.9 604.8a1.2 1.2 0 1 0 -2.4 0a1.2 1.2 0 1 0 2.4 0M630.2 605.2a1.2 1.2 0 1 0 -2.4 0a1.2 1.2 0 1 0 2.4 0M635.6 605.5a1.2 1.2 0 1 0 -2.4 0a1.2 1.2 0 1 0 2.4 0M641.7 605.6a1.2 1.2 0 1 0 -2.4 0a1.2 1.2 0 1 0 2.4 0M628.4 605.8a1.2 1.2 0 1 0 -2.4 0a1.2 1.2 0 1 0 2.4 0M643.6 605.8a1.2 1.2 0 1 0 -2.4 0a1.2 1.2 0 1 0 2.4 0M623.9 605.8a1.2 1.2 0 1 0 -2.4 0a1.2 1.2 0 1 0 2.4 0M633.5 606.3a1.2 1.2 0 1 0 -2.4 0a1.2 1.2 0 1 0 2.4 0M636.4 607.3a1.2 1.2 0 1 0 -2.4 0a1.2 1.2 0 1 0 2.4 0M631.9 607.4a1.2 1.2 0 1 0 -2.4 0a1.2 1.2 0 1 0 2.4 0M638.3 607.5a1.2 1.2 0 1 0 -2.4 0a1.2 1.2 0 1 0 2.4 0M634.6 607.9a1.2 1.2 0 1 0 -2.4 0a1.2 1.2 0 1 0 2.4 0M630.1 608a1.2 1.2 0 1 0 -2.4 0a1.2 1.2 0 1 0 2.4 0M640.1 608.3a1.2 1.2 0 1 0 -2.4 0a1.2 1.2 0 1 0 2.4 0M633 609a1.2 1.2 0 1 0 -2.4 0a1.2 1.2 0 1 0 2.4 0M628.5 609a1.2 1.2 0 1 0 -2.4 0a1.2 1.2 0 1 0 2.4 0M635.5 609.6a1.2 1.2 0 1 0 -2.4 0a1.2 1.2 0 1 0 2.4 0M637.4 609.7a1.2 1.2 0 1 0 -2.4 0a1.2 1.2 0 1 0 2.4 0M631.4 610a1.2 1.2 0 1 0 -2.4 0a1.2 1.2 0 1 0 2.4 0M639.3 610.1a1.2 1.2 0 1 0 -2.4 0a1.2 1.2 0 1 0 2.4 0" fill="#f4f4f4" stroke="#a8a8a8" stroke-width="0.6"/>
<circle cx="633.9" cy="527.5" r="1.3" fill="#f3f3f3" stroke="#bdbdbd" stroke-width="0.6"/>
<circle cx="637.2" cy="331.5" r="3.0" fill="#a8504e" stroke="#333" stroke-width="0.8"/>
<circle cx="643.6" cy="361.6" r="3.0" fill="#3fb2b4" stroke="#333" stroke-width="0.8"/>
<circle cx="631.5" cy="363" r="3.0" fill="#f4a12c" stroke="#333" stroke-width="0.8"/>
<circle cx="632.1" cy="449.2" r="3.0" fill="#1e9050" stroke="#333" stroke-width="0.8"/>
<circle cx="637.2" cy="566.6" r="3.0" fill="#ea62ac" stroke="#333" stroke-width="0.8"/>
<text x="643.6" y="335.1" font-size="10.3" fill="#a8504e" stroke="#a8504e" stroke-width="0.1" text-anchor="start" >BC.2022</text>
<text x="647.6" y="362.5" font-size="10.3" fill="#40b0b4" stroke="#40b0b4" stroke-width="0.1" text-anchor="start" >BC.4152</text>
<text x="649.8" y="370.7" font-size="10.3" fill="#f4a12c" stroke="#f4a12c" stroke-width="0.1" text-anchor="start" >BC.452</text>
<text x="651.2" y="454.3" font-size="10.3" fill="#1f9a55" stroke="#1f9a55" stroke-width="0.1" text-anchor="start" >BC.2</text>
<text x="649.4" y="559.6" font-size="10.3" fill="#f0a8d2" stroke="#f0a8d2" stroke-width="0.1" text-anchor="start" >BC.268</text>
</svg></body></html>
